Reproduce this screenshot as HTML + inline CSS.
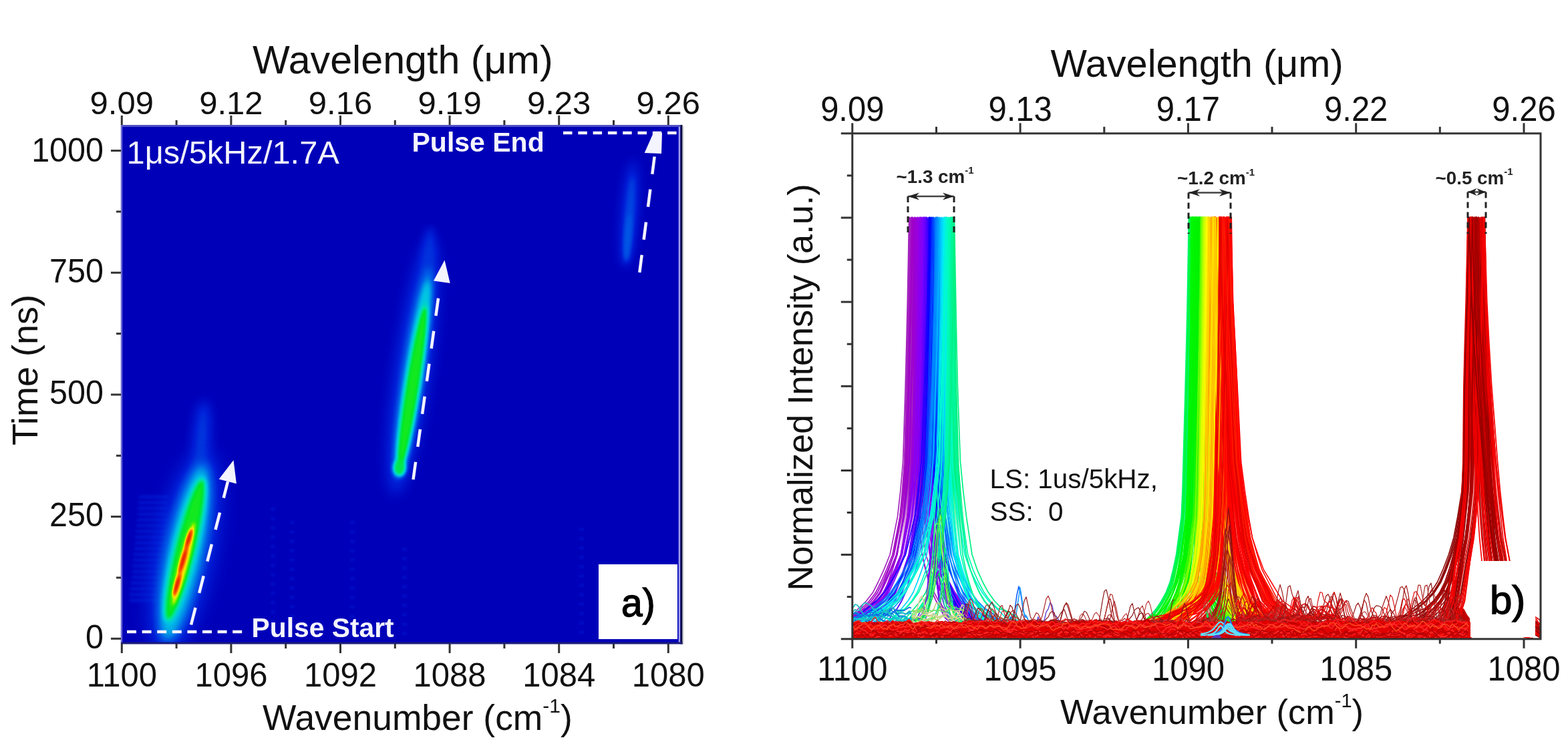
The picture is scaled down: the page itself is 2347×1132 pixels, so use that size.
<!DOCTYPE html>
<html><head><meta charset="utf-8"><title>Figure</title><style>html,body{margin:0;padding:0;background:#fff;overflow:hidden}svg{display:block}text{font-family:"Liberation Sans", Arial, sans-serif}</style></head><body>
<svg width="2347" height="1132" viewBox="0 0 2347 1132">
<defs>
<filter id="jet" filterUnits="userSpaceOnUse" x="181" y="187" width="840" height="777" color-interpolation-filters="sRGB"><feComponentTransfer><feFuncR type="table" tableValues="0.000 0.000 0.000 0.000 0.000 0.000 0.000 0.000 0.000 0.000 0.000 0.000 0.000 0.000 0.000 0.000 0.000 0.000 0.000 0.000 0.000 0.000 0.000 0.000 0.000 0.000 0.000 0.000 0.000 0.000 0.000 0.000 0.000 0.000 0.000 0.000 0.000 0.000 0.000 0.000 0.000 0.003 0.059 0.115 0.171 0.227 0.283 0.339 0.463 0.610 0.756 0.903 1.000 1.000 1.000 1.000 1.000 0.994 0.976 0.957 0.938 0.920 0.901 0.882"/><feFuncG type="table" tableValues="0.000 0.012 0.025 0.037 0.050 0.062 0.075 0.087 0.100 0.112 0.132 0.159 0.186 0.213 0.240 0.267 0.294 0.321 0.348 0.377 0.418 0.460 0.501 0.543 0.584 0.626 0.667 0.709 0.750 0.778 0.799 0.819 0.840 0.860 0.881 0.895 0.897 0.900 0.902 0.905 0.907 0.910 0.915 0.920 0.925 0.930 0.935 0.940 0.940 0.938 0.936 0.935 0.902 0.810 0.718 0.627 0.535 0.448 0.373 0.299 0.224 0.149 0.075 0.000"/><feFuncB type="table" tableValues="0.725 0.738 0.750 0.763 0.775 0.788 0.800 0.813 0.825 0.838 0.847 0.854 0.861 0.868 0.875 0.882 0.889 0.896 0.903 0.910 0.909 0.908 0.907 0.906 0.906 0.905 0.904 0.903 0.902 0.878 0.840 0.803 0.766 0.728 0.691 0.638 0.557 0.477 0.396 0.315 0.234 0.156 0.131 0.106 0.081 0.056 0.031 0.006 0.000 0.000 0.000 0.000 0.000 0.000 0.000 0.000 0.000 0.000 0.000 0.000 0.000 0.000 0.000 0.000"/></feComponentTransfer></filter>
<filter id="b1" x="-50%" y="-50%" width="200%" height="200%" color-interpolation-filters="sRGB"><feGaussianBlur stdDeviation="1"/></filter>
<filter id="b2" x="-50%" y="-50%" width="200%" height="200%" color-interpolation-filters="sRGB"><feGaussianBlur stdDeviation="2"/></filter>
<filter id="b3" x="-50%" y="-50%" width="200%" height="200%" color-interpolation-filters="sRGB"><feGaussianBlur stdDeviation="3"/></filter>
<filter id="b4" x="-50%" y="-50%" width="200%" height="200%" color-interpolation-filters="sRGB"><feGaussianBlur stdDeviation="4"/></filter>
<filter id="b6" x="-50%" y="-50%" width="200%" height="200%" color-interpolation-filters="sRGB"><feGaussianBlur stdDeviation="6"/></filter>
<filter id="b8" x="-50%" y="-50%" width="200%" height="200%" color-interpolation-filters="sRGB"><feGaussianBlur stdDeviation="8"/></filter>
<filter id="b10" x="-50%" y="-50%" width="200%" height="200%" color-interpolation-filters="sRGB"><feGaussianBlur stdDeviation="10"/></filter>
<filter id="b14" x="-50%" y="-50%" width="200%" height="200%" color-interpolation-filters="sRGB"><feGaussianBlur stdDeviation="14"/></filter>
<filter id="b18" x="-50%" y="-50%" width="200%" height="200%" color-interpolation-filters="sRGB"><feGaussianBlur stdDeviation="18"/></filter>
<filter id="b24" x="-50%" y="-50%" width="200%" height="200%" color-interpolation-filters="sRGB"><feGaussianBlur stdDeviation="24"/></filter>
<clipPath id="lclip"><rect x="181" y="187" width="840" height="777"/></clipPath>
<clipPath id="rclip"><rect x="1275.8" y="199.8" width="1030.2" height="757.0"/></clipPath>
</defs>
<g clip-path="url(#lclip)"><g filter="url(#jet)">
<rect x="181" y="187" width="840" height="777" fill="#000"/>
<rect x="208" y="742.0" width="44" height="4" fill="#fff" opacity="0.12" filter="url(#b2)"/>
<rect x="207" y="750.6" width="44" height="4" fill="#fff" opacity="0.12" filter="url(#b2)"/>
<rect x="206" y="759.2" width="45" height="4" fill="#fff" opacity="0.12" filter="url(#b2)"/>
<rect x="206" y="767.8" width="45" height="4" fill="#fff" opacity="0.12" filter="url(#b2)"/>
<rect x="205" y="776.4" width="46" height="4" fill="#fff" opacity="0.12" filter="url(#b2)"/>
<rect x="204" y="785.0" width="46" height="4" fill="#fff" opacity="0.12" filter="url(#b2)"/>
<rect x="203" y="793.6" width="47" height="4" fill="#fff" opacity="0.12" filter="url(#b2)"/>
<rect x="202" y="802.2" width="47" height="4" fill="#fff" opacity="0.12" filter="url(#b2)"/>
<rect x="202" y="810.8" width="48" height="4" fill="#fff" opacity="0.12" filter="url(#b2)"/>
<rect x="201" y="819.4" width="48" height="4" fill="#fff" opacity="0.12" filter="url(#b2)"/>
<rect x="200" y="828.0" width="49" height="4" fill="#fff" opacity="0.12" filter="url(#b2)"/>
<rect x="199" y="836.6" width="49" height="4" fill="#fff" opacity="0.12" filter="url(#b2)"/>
<rect x="198" y="845.2" width="50" height="4" fill="#fff" opacity="0.12" filter="url(#b2)"/>
<rect x="198" y="853.8" width="50" height="4" fill="#fff" opacity="0.12" filter="url(#b2)"/>
<rect x="197" y="862.4" width="51" height="4" fill="#fff" opacity="0.12" filter="url(#b2)"/>
<rect x="196" y="871.0" width="51" height="4" fill="#fff" opacity="0.12" filter="url(#b2)"/>
<rect x="195" y="879.6" width="52" height="4" fill="#fff" opacity="0.12" filter="url(#b2)"/>
<rect x="194" y="888.2" width="52" height="4" fill="#fff" opacity="0.12" filter="url(#b2)"/>
<rect x="194" y="896.8" width="53" height="4" fill="#fff" opacity="0.12" filter="url(#b2)"/>
<ellipse cx="276.5" cy="827.5" rx="44.0" ry="155.2" transform="rotate(11.7 276.5 827.5)" fill="#383838" filter="url(#b14)"/>
<ellipse cx="302.0" cy="655.0" rx="13.0" ry="55.0" transform="rotate(4.0 302.0 655.0)" fill="#383838" filter="url(#b8)"/>
<ellipse cx="276.5" cy="827.5" rx="27.0" ry="136.2" transform="rotate(11.7 276.5 827.5)" fill="#707070" filter="url(#b8)"/>
<ellipse cx="277.0" cy="823.0" rx="18.0" ry="112.1" transform="rotate(13.7 277.0 823.0)" fill="#858585" filter="url(#b4)"/>
<ellipse cx="277.0" cy="823.0" rx="13.5" ry="108.1" transform="rotate(13.7 277.0 823.0)" fill="#ababab" filter="url(#b3)"/>
<ellipse cx="274.7" cy="844.2" rx="7.5" ry="64.4" transform="rotate(14.4 274.7 844.2)" fill="#cfcfcf" filter="url(#b2)"/>
<ellipse cx="265.0" cy="875.5" rx="3.2" ry="18.2" transform="rotate(15.9 265.0 875.5)" fill="#ffffff" filter="url(#b2)"/>
<ellipse cx="274.0" cy="839.0" rx="3.2" ry="21.8" transform="rotate(15.9 274.0 839.0)" fill="#ffffff" filter="url(#b2)"/>
<ellipse cx="282.5" cy="807.0" rx="3.2" ry="15.7" transform="rotate(16.7 282.5 807.0)" fill="#ffffff" filter="url(#b2)"/>
<ellipse cx="618.0" cy="550.0" rx="26.0" ry="191.9" transform="rotate(8.2 618.0 550.0)" fill="#383838" filter="url(#b10)"/>
<ellipse cx="642.0" cy="375.0" rx="9.0" ry="35.0" transform="rotate(4.0 642.0 375.0)" fill="#333333" filter="url(#b6)"/>
<ellipse cx="619.0" cy="558.0" rx="15.0" ry="159.8" transform="rotate(8.6 619.0 558.0)" fill="#5c5c5c" filter="url(#b6)"/>
<ellipse cx="618.5" cy="567.0" rx="12.0" ry="148.7" transform="rotate(8.7 618.5 567.0)" fill="#7a7a7a" filter="url(#b4)"/>
<ellipse cx="617.0" cy="581.5" rx="10.5" ry="128.1" transform="rotate(9.0 617.0 581.5)" fill="#949494" filter="url(#b3)"/>
<ellipse cx="617.0" cy="581.5" rx="8.0" ry="122.1" transform="rotate(9.0 617.0 581.5)" fill="#ababab" filter="url(#b2)"/>
<ellipse cx="598.0" cy="701.0" rx="9.5" ry="12.0" transform="rotate(0.0 598.0 701.0)" fill="#9e9e9e" filter="url(#b3)"/>
<ellipse cx="942.0" cy="320.0" rx="12.0" ry="80.2" transform="rotate(4.3 942.0 320.0)" fill="#2e2e2e" filter="url(#b8)"/>
<ellipse cx="942.0" cy="328.5" rx="6.5" ry="66.7" transform="rotate(4.3 942.0 328.5)" fill="#404040" filter="url(#b4)"/>
<ellipse cx="939.5" cy="356.0" rx="4.5" ry="36.1" transform="rotate(4.0 939.5 356.0)" fill="#4a4a4a" filter="url(#b3)"/>
<rect x="405" y="760" width="7" height="5" fill="#fff" opacity="0.06" filter="url(#b1)"/>
<rect x="405" y="774" width="7" height="5" fill="#fff" opacity="0.06" filter="url(#b1)"/>
<rect x="405" y="788" width="7" height="5" fill="#fff" opacity="0.06" filter="url(#b1)"/>
<rect x="405" y="802" width="7" height="5" fill="#fff" opacity="0.06" filter="url(#b1)"/>
<rect x="405" y="816" width="7" height="5" fill="#fff" opacity="0.06" filter="url(#b1)"/>
<rect x="405" y="830" width="7" height="5" fill="#fff" opacity="0.06" filter="url(#b1)"/>
<rect x="405" y="844" width="7" height="5" fill="#fff" opacity="0.06" filter="url(#b1)"/>
<rect x="405" y="858" width="7" height="5" fill="#fff" opacity="0.06" filter="url(#b1)"/>
<rect x="405" y="872" width="7" height="5" fill="#fff" opacity="0.06" filter="url(#b1)"/>
<rect x="405" y="886" width="7" height="5" fill="#fff" opacity="0.06" filter="url(#b1)"/>
<rect x="405" y="900" width="7" height="5" fill="#fff" opacity="0.06" filter="url(#b1)"/>
<rect x="405" y="914" width="7" height="5" fill="#fff" opacity="0.06" filter="url(#b1)"/>
<rect x="405" y="928" width="7" height="5" fill="#fff" opacity="0.06" filter="url(#b1)"/>
<rect x="405" y="942" width="7" height="5" fill="#fff" opacity="0.06" filter="url(#b1)"/>
<rect x="434" y="780" width="7" height="5" fill="#fff" opacity="0.06" filter="url(#b1)"/>
<rect x="434" y="794" width="7" height="5" fill="#fff" opacity="0.06" filter="url(#b1)"/>
<rect x="434" y="808" width="7" height="5" fill="#fff" opacity="0.06" filter="url(#b1)"/>
<rect x="434" y="822" width="7" height="5" fill="#fff" opacity="0.06" filter="url(#b1)"/>
<rect x="434" y="836" width="7" height="5" fill="#fff" opacity="0.06" filter="url(#b1)"/>
<rect x="434" y="850" width="7" height="5" fill="#fff" opacity="0.06" filter="url(#b1)"/>
<rect x="434" y="864" width="7" height="5" fill="#fff" opacity="0.06" filter="url(#b1)"/>
<rect x="434" y="878" width="7" height="5" fill="#fff" opacity="0.06" filter="url(#b1)"/>
<rect x="434" y="892" width="7" height="5" fill="#fff" opacity="0.06" filter="url(#b1)"/>
<rect x="434" y="906" width="7" height="5" fill="#fff" opacity="0.06" filter="url(#b1)"/>
<rect x="434" y="920" width="7" height="5" fill="#fff" opacity="0.06" filter="url(#b1)"/>
<rect x="434" y="934" width="7" height="5" fill="#fff" opacity="0.06" filter="url(#b1)"/>
<rect x="524" y="780" width="7" height="5" fill="#fff" opacity="0.06" filter="url(#b1)"/>
<rect x="524" y="794" width="7" height="5" fill="#fff" opacity="0.06" filter="url(#b1)"/>
<rect x="524" y="808" width="7" height="5" fill="#fff" opacity="0.06" filter="url(#b1)"/>
<rect x="524" y="822" width="7" height="5" fill="#fff" opacity="0.06" filter="url(#b1)"/>
<rect x="524" y="836" width="7" height="5" fill="#fff" opacity="0.06" filter="url(#b1)"/>
<rect x="524" y="850" width="7" height="5" fill="#fff" opacity="0.06" filter="url(#b1)"/>
<rect x="524" y="864" width="7" height="5" fill="#fff" opacity="0.06" filter="url(#b1)"/>
<rect x="524" y="878" width="7" height="5" fill="#fff" opacity="0.06" filter="url(#b1)"/>
<rect x="524" y="892" width="7" height="5" fill="#fff" opacity="0.06" filter="url(#b1)"/>
<rect x="524" y="906" width="7" height="5" fill="#fff" opacity="0.06" filter="url(#b1)"/>
<rect x="524" y="920" width="7" height="5" fill="#fff" opacity="0.06" filter="url(#b1)"/>
<rect x="524" y="934" width="7" height="5" fill="#fff" opacity="0.06" filter="url(#b1)"/>
<rect x="524" y="948" width="7" height="5" fill="#fff" opacity="0.06" filter="url(#b1)"/>
<rect x="602" y="820" width="7" height="5" fill="#fff" opacity="0.06" filter="url(#b1)"/>
<rect x="602" y="834" width="7" height="5" fill="#fff" opacity="0.06" filter="url(#b1)"/>
<rect x="602" y="848" width="7" height="5" fill="#fff" opacity="0.06" filter="url(#b1)"/>
<rect x="602" y="862" width="7" height="5" fill="#fff" opacity="0.06" filter="url(#b1)"/>
<rect x="602" y="876" width="7" height="5" fill="#fff" opacity="0.06" filter="url(#b1)"/>
<rect x="602" y="890" width="7" height="5" fill="#fff" opacity="0.06" filter="url(#b1)"/>
<rect x="602" y="904" width="7" height="5" fill="#fff" opacity="0.06" filter="url(#b1)"/>
<rect x="602" y="918" width="7" height="5" fill="#fff" opacity="0.06" filter="url(#b1)"/>
<rect x="602" y="932" width="7" height="5" fill="#fff" opacity="0.06" filter="url(#b1)"/>
<rect x="602" y="946" width="7" height="5" fill="#fff" opacity="0.06" filter="url(#b1)"/>
<rect x="867" y="790" width="7" height="5" fill="#fff" opacity="0.06" filter="url(#b1)"/>
<rect x="867" y="804" width="7" height="5" fill="#fff" opacity="0.06" filter="url(#b1)"/>
<rect x="867" y="818" width="7" height="5" fill="#fff" opacity="0.06" filter="url(#b1)"/>
<rect x="867" y="832" width="7" height="5" fill="#fff" opacity="0.06" filter="url(#b1)"/>
<rect x="867" y="846" width="7" height="5" fill="#fff" opacity="0.06" filter="url(#b1)"/>
<rect x="867" y="860" width="7" height="5" fill="#fff" opacity="0.06" filter="url(#b1)"/>
<rect x="867" y="874" width="7" height="5" fill="#fff" opacity="0.06" filter="url(#b1)"/>
<rect x="867" y="888" width="7" height="5" fill="#fff" opacity="0.06" filter="url(#b1)"/>
<rect x="867" y="902" width="7" height="5" fill="#fff" opacity="0.06" filter="url(#b1)"/>
<rect x="867" y="916" width="7" height="5" fill="#fff" opacity="0.06" filter="url(#b1)"/>
<rect x="867" y="930" width="7" height="5" fill="#fff" opacity="0.06" filter="url(#b1)"/>
<rect x="867" y="944" width="7" height="5" fill="#fff" opacity="0.06" filter="url(#b1)"/>
</g></g>
<line x1="181" y1="188.5" x2="1021" y2="188.5" stroke="#5252c4" stroke-width="3"/>
<line x1="182" y1="187" x2="182" y2="964" stroke="#6a6ad4" stroke-width="2.5"/>
<line x1="1017" y1="190" x2="1017" y2="962" stroke="#a0a0ee" stroke-width="2.6"/>
<line x1="1020" y1="187" x2="1020" y2="964.5" stroke="#0c0c45" stroke-width="3"/>
<line x1="1022.8" y1="189" x2="1022.8" y2="965" stroke="#d4d4d4" stroke-width="1.6"/>
<line x1="181" y1="963" x2="1021.5" y2="963" stroke="#1c1c7a" stroke-width="3"/>
<g stroke="#f4f4ff" stroke-width="4.5" fill="none">
<line x1="190" y1="946" x2="364" y2="946" stroke-dasharray="14 8.6"/>
<line x1="843" y1="199" x2="1016" y2="199" stroke-dasharray="13.5 8.8"/>
<line x1="286" y1="935.5" x2="341" y2="721" stroke-dasharray="26.5 22.5" stroke-dashoffset="0"/>
<line x1="618.5" y1="718" x2="659" y2="425" stroke-dasharray="26.5 23"/>
<line x1="957.3" y1="408" x2="980" y2="232" stroke-dasharray="26.5 23"/>
</g>
<g fill="#f4f4ff">
<polygon points="349.5,689 327.7,717.6 353.9,724.3"/>
<polygon points="665.5,389.5 649,420.6 673.7,424"/>
<polygon points="978,199 991,199 990,230 964.7,229"/>
</g>
<text x="189.5" y="245" font-size="48.8" fill="#f4f4ff">1&#956;s/5kHz/1.7A</text>
<text x="616.5" y="227" font-size="41" font-weight="bold" fill="#f4f4ff">Pulse End</text>
<text x="376.5" y="954.3" font-size="40.8" font-weight="bold" fill="#f4f4ff">Pulse Start</text>
<rect x="896" y="845" width="118" height="112" fill="#fff"/>
<text transform="translate(930 923.4) scale(0.95 1)" font-size="60" fill="#000" stroke="#000" stroke-width="1.4">a)</text>
<g stroke="#333" stroke-width="3">
<line x1="182.3" y1="964" x2="182.3" y2="978"/>
<line x1="182.3" y1="187" x2="182.3" y2="173"/>
<line x1="264.1" y1="964" x2="264.1" y2="971"/>
<line x1="264.1" y1="187" x2="264.1" y2="180"/>
<line x1="345.9" y1="964" x2="345.9" y2="978"/>
<line x1="345.9" y1="187" x2="345.9" y2="173"/>
<line x1="427.7" y1="964" x2="427.7" y2="971"/>
<line x1="427.7" y1="187" x2="427.7" y2="180"/>
<line x1="509.5" y1="964" x2="509.5" y2="978"/>
<line x1="509.5" y1="187" x2="509.5" y2="173"/>
<line x1="591.3" y1="964" x2="591.3" y2="971"/>
<line x1="591.3" y1="187" x2="591.3" y2="180"/>
<line x1="673.1" y1="964" x2="673.1" y2="978"/>
<line x1="673.1" y1="187" x2="673.1" y2="173"/>
<line x1="754.9" y1="964" x2="754.9" y2="971"/>
<line x1="754.9" y1="187" x2="754.9" y2="180"/>
<line x1="836.7" y1="964" x2="836.7" y2="978"/>
<line x1="836.7" y1="187" x2="836.7" y2="173"/>
<line x1="918.5" y1="964" x2="918.5" y2="971"/>
<line x1="918.5" y1="187" x2="918.5" y2="180"/>
<line x1="1000.3" y1="964" x2="1000.3" y2="978"/>
<line x1="1000.3" y1="187" x2="1000.3" y2="173"/>
<line x1="181" y1="956.3" x2="166" y2="956.3"/>
<line x1="181" y1="865.0" x2="174" y2="865.0"/>
<line x1="181" y1="773.6" x2="166" y2="773.6"/>
<line x1="181" y1="682.3" x2="174" y2="682.3"/>
<line x1="181" y1="590.9" x2="166" y2="590.9"/>
<line x1="181" y1="499.6" x2="174" y2="499.6"/>
<line x1="181" y1="408.3" x2="166" y2="408.3"/>
<line x1="181" y1="316.9" x2="174" y2="316.9"/>
<line x1="181" y1="225.6" x2="166" y2="225.6"/>
</g>
<g font-size="49" fill="#111" text-anchor="middle">
<text x="182.3" y="171">9.09</text>
<text x="345.9" y="171">9.12</text>
<text x="509.5" y="171">9.16</text>
<text x="673.1" y="171">9.19</text>
<text x="836.7" y="171">9.23</text>
<text x="1000.3" y="171">9.26</text>
<text transform="translate(182.3 1028) scale(1 1.03)">1100</text>
<text transform="translate(345.9 1028) scale(1 1.03)">1096</text>
<text transform="translate(509.5 1028) scale(1 1.03)">1092</text>
<text transform="translate(673.1 1028) scale(1 1.03)">1088</text>
<text transform="translate(836.7 1028) scale(1 1.03)">1084</text>
<text transform="translate(1000.3 1028) scale(1 1.03)">1080</text>
</g>
<g font-size="48.5" fill="#111" text-anchor="end">
<text transform="translate(155 970.5) scale(1 1.03)">0</text>
<text transform="translate(155 788.1) scale(1 1.03)">250</text>
<text transform="translate(155 604.8) scale(1 1.03)">500</text>
<text transform="translate(155 423.1) scale(1 1.03)">750</text>
<text transform="translate(155 241.8) scale(1 1.03)">1000</text>
</g>
<text x="602.8" y="110" font-size="59.2" fill="#111" text-anchor="middle">Wavelength (&#956;m)</text>
<text x="393" y="1092.8" font-size="53.4" fill="#111">Wavenumber (cm<tspan font-size="30" dy="-26">-1</tspan><tspan dy="26">)</tspan></text>
<text transform="translate(55.5 554) rotate(-90)" font-size="54" fill="#111" text-anchor="middle">Time (ns)</text>
<g id="rplot" clip-path="url(#rclip)">
<defs><linearGradient id="gL" gradientUnits="userSpaceOnUse" x1="1360.5" y1="0" x2="1428.5" y2="0"><stop offset="0.000" stop-color="#a528be"/><stop offset="0.091" stop-color="#9f00ca"/><stop offset="0.182" stop-color="#9800dd"/><stop offset="0.273" stop-color="#8700f3"/><stop offset="0.364" stop-color="#5f00ff"/><stop offset="0.455" stop-color="#0f00ff"/><stop offset="0.545" stop-color="#0055ff"/><stop offset="0.636" stop-color="#0096ff"/><stop offset="0.727" stop-color="#00d8ff"/><stop offset="0.818" stop-color="#00f6d7"/><stop offset="0.909" stop-color="#00faa9"/><stop offset="1.000" stop-color="#00f082"/></linearGradient><linearGradient id="gM" gradientUnits="userSpaceOnUse" x1="1779.5" y1="0" x2="1843.0" y2="0"><stop offset="0.000" stop-color="#00f578"/><stop offset="0.091" stop-color="#00f800"/><stop offset="0.182" stop-color="#00f300"/><stop offset="0.273" stop-color="#30f600"/><stop offset="0.364" stop-color="#c0ff00"/><stop offset="0.455" stop-color="#ffe700"/><stop offset="0.545" stop-color="#ff9900"/><stop offset="0.636" stop-color="#ff4800"/><stop offset="0.727" stop-color="#ff0000"/><stop offset="0.818" stop-color="#fd0000"/><stop offset="0.909" stop-color="#fc0000"/><stop offset="1.000" stop-color="#fa0000"/></linearGradient><linearGradient id="gR" gradientUnits="userSpaceOnUse" x1="2197.0" y1="0" x2="2222.5" y2="0"><stop offset="0.000" stop-color="#ff0000"/><stop offset="0.091" stop-color="#fa0000"/><stop offset="0.182" stop-color="#f40000"/><stop offset="0.273" stop-color="#e80000"/><stop offset="0.364" stop-color="#ca0000"/><stop offset="0.455" stop-color="#af0000"/><stop offset="0.545" stop-color="#970000"/><stop offset="0.636" stop-color="#bb0000"/><stop offset="0.727" stop-color="#da0000"/><stop offset="0.818" stop-color="#e50000"/><stop offset="0.909" stop-color="#ef0000"/><stop offset="1.000" stop-color="#fa0000"/></linearGradient><linearGradient id="fade" x1="0" y1="0" x2="0" y2="1"><stop offset="0" stop-color="#fff"/><stop offset="0.8" stop-color="#fff"/><stop offset="1" stop-color="#000"/></linearGradient><mask id="fm" maskContentUnits="objectBoundingBox"><rect width="1" height="1" fill="url(#fade)"/></mask></defs>
<polygon points="1360.5,325.3 1360.0,359.0 1359.5,392.7 1359.0,426.3 1358.5,460.0 1357.9,493.7 1357.3,527.4 1356.7,561.1 1355.9,594.7 1355.1,628.4 1354.2,662.1 1353.4,695.8 1351.1,729.5 1348.3,763.1 1343.9,796.8 1338.8,830.5 1448.8,830.5 1444.9,796.8 1441.3,763.1 1438.1,729.5 1435.5,695.8 1434.5,662.1 1433.6,628.4 1432.7,594.7 1431.8,561.1 1431.3,527.4 1430.8,493.7 1430.3,460.0 1429.8,426.3 1429.4,392.7 1428.9,359.0 1428.5,325.3" fill="url(#gL)" mask="url(#fm)"/>
<polygon points="1779.5,325.3 1779.0,360.7 1778.5,396.0 1778.0,431.4 1777.4,466.8 1776.7,502.1 1776.0,537.5 1775.1,572.8 1774.3,608.2 1773.4,643.6 1772.6,678.9 1771.8,714.3 1770.9,749.7 1768.4,785.0 1764.3,820.4 1758.3,855.8 1877.6,855.8 1869.5,820.4 1863.8,785.0 1860.1,749.7 1856.4,714.3 1854.2,678.9 1852.9,643.6 1851.7,608.2 1850.4,572.8 1849.2,537.5 1847.8,502.1 1846.4,466.8 1845.4,431.4 1844.6,396.0 1843.8,360.7 1843.0,325.3" fill="url(#gM)" mask="url(#fm)"/>
<polygon points="2197.0,325.3 2196.4,354.8 2195.8,384.2 2195.2,413.7 2194.6,443.2 2193.9,472.6 2193.1,502.1 2192.3,531.6 2191.5,561.1 2191.3,590.5 2191.0,620.0 2190.7,649.5 2190.4,678.9 2190.2,708.4 2188.7,737.9 2186.2,767.3 2245.9,767.3 2243.1,737.9 2240.7,708.4 2238.7,678.9 2236.7,649.5 2234.7,620.0 2232.7,590.5 2230.6,561.1 2229.3,531.6 2228.0,502.1 2226.6,472.6 2225.5,443.2 2224.7,413.7 2224.0,384.2 2223.2,354.8 2222.5,325.3" fill="url(#gR)" mask="url(#fm)"/>
<polygon points="1700,957 1700,949.4 1704,949.4 1708,948.3 1712,947.1 1716,947.2 1720,946.1 1724,946.8 1728,947.8 1732,945.0 1736,944.2 1740,944.8 1744,943.9 1748,942.7 1752,940.6 1756,940.7 1760,940.5 1764,937.0 1768,936.8 1772,933.8 1776,933.1 1780,930.9 1784,931.1 1788,928.1 1792,928.1 1796,926.0 1800,923.5 1804,918.5 1808,918.7 1812,917.0 1816,915.0 1820,910.9 1824,910.1 1828,907.7 1832,906.4 1836,907.4 1840,904.4 1844,905.0 1848,906.2 1852,905.0 1856,906.6 1860,908.2 1864,909.8 1868,910.2 1872,913.8 1876,917.6 1880,916.3 1884,921.5 1888,922.8 1892,924.0 1896,929.2 1900,929.7 1904,929.1 1908,932.4 1912,934.5 1916,935.1 1920,937.5 1924,937.9 1928,940.0 1932,942.0 1936,940.4 1940,942.4 1944,942.5 1948,944.0 1952,943.1 1956,944.5 1960,945.6 1964,947.5 1968,948.4 1972,945.9 1976,947.0 1980,949.2 1984,946.4 1988,948.7 1992,949.5 1996,951.4 2000,951.1 2000,957" fill="#e80000" stroke="none"/>
<polygon points="2100,957 2100,954.1 2104,953.9 2108,953.7 2112,955.5 2116,952.8 2120,952.6 2124,952.9 2128,951.7 2132,950.9 2136,949.0 2140,949.2 2144,947.4 2148,947.8 2152,945.2 2156,941.8 2160,939.5 2164,934.2 2168,931.0 2172,924.0 2176,918.6 2180,911.2 2184,910.5 2188,909.0 2192,912.7 2196,920.6 2200,925.8 2200,957" fill="#c00000" stroke="none"/>
<g fill="none" stroke-width="1.7" stroke-linejoin="round">
<path d="M1275.8 953.2L1275.8 952.7L1275.8 950.0L1275.8 943.7L1275.8 937.8L1275.8 934.6L1275.8 926.5L1275.8 921.7L1284.8 911.3L1296.6 900.0L1306.5 887.3L1314.5 871.5L1323.2 852.6L1332.1 830.5L1337.2 805.2L1343.5 773.7L1347.7 735.8L1351.6 691.6L1353.2 641.0L1355.2 577.9L1356.8 514.8L1358.3 451.6L1359.5 388.4L1360.7 325.3L1361.5 388.4L1362.3 451.6L1363.2 514.8L1364.4 577.9L1366.0 641.0L1367.3 691.6L1370.6 735.8L1374.0 773.7L1377.5 805.2L1380.2 830.5L1385.8 852.6L1392.0 871.5L1398.3 887.3L1405.0 900.0L1413.3 911.3L1421.9 919.7L1429.3 928.2L1440.2 932.3L1454.6 941.7L1467.3 943.4L1495.5 946.7L1522.0 948.0L1548.5 953.4" stroke="#a526be"/>
<path d="M1275.8 954.0L1275.8 950.7L1275.8 944.2L1275.8 943.2L1275.8 941.3L1275.8 938.5L1280.7 933.1L1289.1 923.0L1299.0 911.3L1308.7 900.0L1316.8 887.3L1323.3 871.5L1330.4 852.6L1337.7 830.5L1341.9 805.2L1347.0 773.7L1350.4 735.8L1353.6 691.6L1354.9 641.0L1356.6 577.9L1357.9 514.8L1359.1 451.6L1360.1 388.4L1361.1 325.3L1362.1 388.4L1363.1 451.6L1364.3 514.8L1365.7 577.9L1367.8 641.0L1369.5 691.6L1373.5 735.8L1377.9 773.7L1382.3 805.2L1385.8 830.5L1392.8 852.6L1400.6 871.5L1408.6 887.3L1417.1 900.0L1427.6 911.3L1438.4 919.3L1447.8 925.6L1461.5 932.2L1479.8 937.2L1495.8 947.4L1531.5 943.7L1565.0 951.2L1598.5 956.1" stroke="#a423bf"/>
<path d="M1275.8 955.7L1275.8 951.2L1275.8 947.3L1275.8 944.4L1275.8 939.1L1278.2 934.5L1289.0 931.0L1297.0 922.2L1306.4 911.3L1315.6 900.0L1323.2 887.3L1329.4 871.5L1336.1 852.6L1343.0 830.5L1346.9 805.2L1351.8 773.7L1355.1 735.8L1358.1 691.6L1359.3 641.0L1360.9 577.9L1362.1 514.8L1363.3 451.6L1364.2 388.4L1365.2 325.3L1366.3 388.4L1367.3 451.6L1368.6 514.8L1370.1 577.9L1372.4 641.0L1374.2 691.6L1378.6 735.8L1383.4 773.7L1388.1 805.2L1391.9 830.5L1399.5 852.6L1407.9 871.5L1416.6 887.3L1425.8 900.0L1437.2 911.3L1448.9 921.8L1459.0 924.6L1474.0 931.6L1493.8 940.9L1511.1 945.0L1549.8 948.3L1586.1 954.0L1622.3 949.5" stroke="#a106c7"/>
<path d="M1275.8 956.7L1275.8 950.8L1275.8 946.2L1275.8 943.4L1275.8 937.3L1275.8 935.7L1275.8 931.4L1277.4 922.1L1289.3 911.3L1301.0 900.0L1310.7 887.3L1318.6 871.5L1327.1 852.6L1335.9 830.5L1340.9 805.2L1347.1 773.7L1351.2 735.8L1355.0 691.6L1356.6 641.0L1358.6 577.9L1360.2 514.8L1361.6 451.6L1362.8 388.4L1364.0 325.3L1364.7 388.4L1365.4 451.6L1366.1 514.8L1367.1 577.9L1368.4 641.0L1369.6 691.6L1372.3 735.8L1375.2 773.7L1378.1 805.2L1380.4 830.5L1385.1 852.6L1390.2 871.5L1395.5 887.3L1401.2 900.0L1408.2 911.3L1415.4 916.6L1421.6 928.3L1430.7 938.5L1442.8 939.2L1453.4 945.4L1477.2 948.7L1499.4 953.3L1521.6 950.3" stroke="#a20ec4"/>
<path d="M1275.8 952.3L1275.8 948.0L1275.8 950.8L1275.8 942.6L1275.8 936.1L1275.8 934.4L1275.8 926.2L1280.9 921.3L1292.6 911.3L1304.0 900.0L1313.5 887.3L1321.2 871.5L1329.5 852.6L1338.2 830.5L1343.1 805.2L1349.1 773.7L1353.2 735.8L1356.9 691.6L1358.5 641.0L1360.4 577.9L1362.0 514.8L1363.4 451.6L1364.6 388.4L1365.8 325.3L1366.9 388.4L1368.0 451.6L1369.2 514.8L1370.7 577.9L1373.0 641.0L1374.8 691.6L1379.2 735.8L1384.0 773.7L1388.7 805.2L1392.5 830.5L1400.1 852.6L1408.6 871.5L1417.2 887.3L1426.4 900.0L1437.8 911.3L1449.5 921.5L1459.6 928.5L1474.6 934.0L1494.3 937.4L1511.6 945.0L1550.4 944.9L1586.6 950.8L1622.9 951.7" stroke="#a001c8"/>
<path d="M1275.8 956.8L1275.8 948.4L1275.8 949.9L1275.8 947.8L1275.8 935.4L1275.8 931.9L1275.8 925.6L1284.0 916.3L1295.7 911.3L1307.2 900.0L1316.7 887.3L1324.5 871.5L1332.9 852.6L1341.6 830.5L1346.5 805.2L1352.6 773.7L1356.6 735.8L1360.4 691.6L1362.0 641.0L1363.9 577.9L1365.5 514.8L1366.9 451.6L1368.1 388.4L1369.3 325.3L1370.3 388.4L1371.2 451.6L1372.3 514.8L1373.7 577.9L1375.7 641.0L1377.3 691.6L1381.3 735.8L1385.5 773.7L1389.7 805.2L1393.0 830.5L1399.8 852.6L1407.3 871.5L1415.0 887.3L1423.2 900.0L1433.3 911.3L1443.8 923.3L1452.7 926.5L1466.0 929.3L1483.6 942.0L1499.0 941.5L1533.4 947.4L1565.6 954.6L1597.8 953.0" stroke="#9c00d2"/>
<path d="M1275.8 952.7L1275.8 950.0L1275.8 949.9L1275.8 946.0L1275.8 939.3L1275.8 938.2L1276.5 928.2L1286.3 922.3L1297.8 911.3L1309.0 900.0L1318.3 887.3L1325.9 871.5L1334.1 852.6L1342.6 830.5L1347.3 805.2L1353.3 773.7L1357.3 735.8L1361.0 691.6L1362.5 641.0L1364.4 577.9L1365.9 514.8L1367.3 451.6L1368.5 388.4L1369.6 325.3L1370.7 388.4L1371.8 451.6L1373.0 514.8L1374.6 577.9L1376.9 641.0L1378.7 691.6L1383.1 735.8L1387.9 773.7L1392.6 805.2L1396.4 830.5L1404.0 852.6L1412.5 871.5L1421.2 887.3L1430.4 900.0L1441.8 911.3L1453.6 924.0L1463.7 930.2L1478.7 932.8L1498.5 938.1L1515.9 945.2L1554.7 949.6L1591.0 952.5L1627.4 952.8" stroke="#9b00d3"/>
<path d="M1275.8 955.0L1275.8 955.5L1275.8 952.9L1275.8 940.6L1275.8 938.9L1279.3 932.2L1291.1 931.4L1299.9 920.4L1310.1 911.3L1320.0 900.0L1328.4 887.3L1335.1 871.5L1342.4 852.6L1350.0 830.5L1354.2 805.2L1359.6 773.7L1363.1 735.8L1366.4 691.6L1367.7 641.0L1369.4 577.9L1370.8 514.8L1372.0 451.6L1373.1 388.4L1374.1 325.3L1375.2 388.4L1376.4 451.6L1377.6 514.8L1379.2 577.9L1381.6 641.0L1383.5 691.6L1388.0 735.8L1392.9 773.7L1397.8 805.2L1401.7 830.5L1409.6 852.6L1418.3 871.5L1427.3 887.3L1436.8 900.0L1448.5 911.3L1460.7 920.2L1471.1 928.9L1486.6 934.3L1507.0 939.9L1524.9 943.6L1565.0 949.1L1602.5 956.8L1639.9 950.3" stroke="#9600e1"/>
<path d="M1275.8 953.7L1275.8 953.7L1275.8 949.1L1275.8 946.2L1275.8 937.7L1277.0 934.0L1288.9 927.6L1297.7 917.3L1308.0 911.3L1318.1 900.0L1326.5 887.3L1333.3 871.5L1340.7 852.6L1348.3 830.5L1352.6 805.2L1358.0 773.7L1361.5 735.8L1364.9 691.6L1366.2 641.0L1367.9 577.9L1369.3 514.8L1370.6 451.6L1371.6 388.4L1372.7 325.3L1373.4 388.4L1374.2 451.6L1375.1 514.8L1376.2 577.9L1377.8 641.0L1379.1 691.6L1382.2 735.8L1385.5 773.7L1388.9 805.2L1391.6 830.5L1396.9 852.6L1402.9 871.5L1409.1 887.3L1415.6 900.0L1423.6 911.3L1431.9 919.8L1439.1 927.9L1449.6 932.0L1463.6 938.6L1475.9 942.2L1503.3 944.6L1529.0 950.8L1554.6 956.8" stroke="#9800dd"/>
<path d="M1275.8 954.6L1275.8 946.6L1275.8 946.5L1275.8 944.0L1275.8 941.8L1275.8 934.2L1285.5 934.4L1295.1 918.2L1306.3 911.3L1317.3 900.0L1326.4 887.3L1333.9 871.5L1341.9 852.6L1350.2 830.5L1354.9 805.2L1360.7 773.7L1364.6 735.8L1368.2 691.6L1369.7 641.0L1371.6 577.9L1373.1 514.8L1374.4 451.6L1375.5 388.4L1376.7 325.3L1377.7 388.4L1378.7 451.6L1379.9 514.8L1381.4 577.9L1383.5 641.0L1385.3 691.6L1389.4 735.8L1393.9 773.7L1398.4 805.2L1402.0 830.5L1409.2 852.6L1417.3 871.5L1425.5 887.3L1434.2 900.0L1445.0 911.3L1456.2 919.2L1465.7 927.1L1479.9 933.9L1498.7 939.8L1515.1 940.5L1551.8 947.3L1586.2 951.9L1620.6 956.8" stroke="#8e00ea"/>
<path d="M1275.8 954.5L1275.8 949.2L1275.8 948.9L1275.8 943.7L1275.8 935.3L1275.8 934.6L1276.3 927.2L1287.0 918.5L1299.5 911.3L1311.7 900.0L1321.9 887.3L1330.2 871.5L1339.1 852.6L1348.4 830.5L1353.6 805.2L1360.1 773.7L1364.5 735.8L1368.5 691.6L1370.2 641.0L1372.2 577.9L1373.9 514.8L1375.4 451.6L1376.7 388.4L1378.0 325.3L1379.0 388.4L1380.1 451.6L1381.3 514.8L1382.8 577.9L1385.1 641.0L1386.8 691.6L1391.2 735.8L1395.8 773.7L1400.5 805.2L1404.2 830.5L1411.7 852.6L1420.0 871.5L1428.5 887.3L1437.6 900.0L1448.7 911.3L1460.3 919.9L1470.2 928.4L1484.8 933.9L1504.3 937.7L1521.3 945.0L1559.3 943.3L1594.9 950.3L1630.6 956.4" stroke="#8a00ef"/>
<path d="M1275.8 956.2L1275.8 950.0L1275.8 948.1L1275.8 942.1L1275.8 936.9L1275.8 934.7L1280.7 927.5L1290.9 920.7L1302.7 911.3L1314.3 900.0L1323.9 887.3L1331.8 871.5L1340.2 852.6L1349.0 830.5L1354.0 805.2L1360.1 773.7L1364.2 735.8L1368.1 691.6L1369.6 641.0L1371.6 577.9L1373.2 514.8L1374.6 451.6L1375.8 388.4L1377.0 325.3L1378.1 388.4L1379.2 451.6L1380.5 514.8L1382.1 577.9L1384.4 641.0L1386.2 691.6L1390.8 735.8L1395.6 773.7L1400.4 805.2L1404.3 830.5L1412.1 852.6L1420.7 871.5L1429.5 887.3L1439.0 900.0L1450.5 911.3L1462.5 920.7L1472.8 931.8L1488.1 936.2L1508.3 941.1L1526.0 939.7L1565.5 948.8L1602.5 950.5L1639.6 952.5" stroke="#8d00ec"/>
<path d="M1275.8 953.5L1275.8 952.0L1275.8 942.4L1275.8 942.9L1275.8 936.4L1275.8 930.8L1288.4 930.9L1298.2 922.8L1309.7 911.3L1320.9 900.0L1330.3 887.3L1337.8 871.5L1346.1 852.6L1354.6 830.5L1359.3 805.2L1365.3 773.7L1369.3 735.8L1373.0 691.6L1374.5 641.0L1376.4 577.9L1377.9 514.8L1379.3 451.6L1380.5 388.4L1381.7 325.3L1382.3 388.4L1382.9 451.6L1383.7 514.8L1384.6 577.9L1385.9 641.0L1387.0 691.6L1389.6 735.8L1392.4 773.7L1395.2 805.2L1397.4 830.5L1401.9 852.6L1406.9 871.5L1412.0 887.3L1417.5 900.0L1424.2 911.3L1431.1 919.4L1437.1 930.5L1445.9 936.4L1457.6 935.3L1467.8 942.1L1490.6 947.8L1512.0 953.9L1533.4 949.9" stroke="#7f00fd"/>
<path d="M1275.8 952.7L1275.8 950.3L1275.8 942.6L1275.8 943.8L1275.8 939.2L1275.8 933.3L1283.8 928.3L1294.1 921.4L1306.1 911.3L1317.9 900.0L1327.7 887.3L1335.6 871.5L1344.2 852.6L1353.2 830.5L1358.2 805.2L1364.4 773.7L1368.6 735.8L1372.5 691.6L1374.1 641.0L1376.1 577.9L1377.7 514.8L1379.1 451.6L1380.4 388.4L1381.6 325.3L1382.5 388.4L1383.3 451.6L1384.3 514.8L1385.5 577.9L1387.4 641.0L1388.8 691.6L1392.4 735.8L1396.2 773.7L1399.9 805.2L1403.0 830.5L1409.1 852.6L1415.8 871.5L1422.8 887.3L1430.2 900.0L1439.3 911.3L1448.7 919.4L1456.8 927.2L1468.7 934.8L1484.6 938.6L1498.4 942.3L1529.4 945.8L1558.5 954.7L1587.5 956.8" stroke="#7f00fd"/>
<path d="M1275.8 950.8L1275.8 950.2L1275.8 947.8L1275.8 946.5L1275.8 938.6L1275.8 932.5L1276.3 928.7L1287.2 920.6L1299.9 911.3L1312.3 900.0L1322.6 887.3L1331.0 871.5L1340.1 852.6L1349.5 830.5L1354.8 805.2L1361.4 773.7L1365.8 735.8L1369.9 691.6L1371.6 641.0L1373.7 577.9L1375.4 514.8L1377.0 451.6L1378.2 388.4L1379.5 325.3L1380.3 388.4L1381.0 451.6L1381.8 514.8L1382.8 577.9L1384.3 641.0L1385.5 691.6L1388.4 735.8L1391.6 773.7L1394.7 805.2L1397.2 830.5L1402.2 852.6L1407.8 871.5L1413.5 887.3L1419.6 900.0L1427.1 911.3L1434.9 924.5L1441.6 929.5L1451.5 928.4L1464.6 941.1L1476.0 943.7L1501.6 950.2L1525.6 953.4L1549.6 951.0" stroke="#8500f5"/>
<path d="M1275.8 951.0L1275.8 949.5L1275.8 949.3L1281.2 941.0L1292.3 939.6L1304.9 937.7L1314.9 928.6L1322.2 920.5L1330.8 911.3L1339.2 900.0L1346.2 887.3L1351.9 871.5L1358.1 852.6L1364.5 830.5L1368.1 805.2L1372.5 773.7L1375.5 735.8L1378.3 691.6L1379.4 641.0L1380.9 577.9L1382.0 514.8L1383.0 451.6L1383.9 388.4L1384.8 325.3L1385.5 388.4L1386.2 451.6L1387.0 514.8L1388.0 577.9L1389.4 641.0L1390.6 691.6L1393.4 735.8L1396.5 773.7L1399.5 805.2L1401.9 830.5L1406.8 852.6L1412.2 871.5L1417.8 887.3L1423.7 900.0L1430.9 911.3L1438.5 921.2L1444.9 931.0L1454.5 932.1L1467.2 938.6L1478.3 947.9L1503.1 946.9L1526.3 951.4L1549.6 953.1" stroke="#6300ff"/>
<path d="M1275.8 954.6L1275.8 950.1L1275.8 943.3L1275.8 937.1L1281.6 939.9L1295.4 930.7L1306.4 924.3L1314.4 919.0L1323.8 911.3L1333.0 900.0L1340.7 887.3L1346.9 871.5L1353.6 852.6L1360.6 830.5L1364.5 805.2L1369.4 773.7L1372.7 735.8L1375.7 691.6L1377.0 641.0L1378.6 577.9L1379.8 514.8L1380.9 451.6L1381.9 388.4L1382.9 325.3L1383.7 388.4L1384.5 451.6L1385.5 514.8L1386.6 577.9L1388.4 641.0L1389.8 691.6L1393.2 735.8L1396.8 773.7L1400.4 805.2L1403.3 830.5L1409.1 852.6L1415.6 871.5L1422.3 887.3L1429.3 900.0L1438.0 911.3L1447.0 925.0L1454.7 926.2L1466.2 935.0L1481.3 942.0L1494.6 944.0L1524.3 949.0L1552.0 954.7L1579.8 951.2" stroke="#7700ff"/>
<path d="M1275.8 956.1L1275.8 950.5L1275.8 945.1L1275.8 946.8L1275.8 939.9L1289.5 935.4L1301.4 928.9L1310.1 922.8L1320.3 911.3L1330.3 900.0L1338.6 887.3L1345.3 871.5L1352.6 852.6L1360.2 830.5L1364.5 805.2L1369.8 773.7L1373.3 735.8L1376.6 691.6L1377.9 641.0L1379.6 577.9L1381.0 514.8L1382.2 451.6L1383.3 388.4L1384.3 325.3L1385.2 388.4L1386.1 451.6L1387.2 514.8L1388.4 577.9L1390.4 641.0L1391.9 691.6L1395.6 735.8L1399.6 773.7L1403.5 805.2L1406.7 830.5L1413.1 852.6L1420.2 871.5L1427.4 887.3L1435.2 900.0L1444.7 911.3L1454.5 921.4L1463.0 927.9L1475.5 936.2L1492.1 941.7L1506.6 943.7L1539.1 951.2L1569.5 952.1L1599.9 951.5" stroke="#6800ff"/>
<path d="M1275.8 952.0L1275.8 950.6L1275.8 944.9L1275.8 943.8L1275.8 939.2L1288.9 934.5L1301.1 929.7L1310.2 919.2L1320.7 911.3L1331.0 900.0L1339.6 887.3L1346.6 871.5L1354.1 852.6L1362.0 830.5L1366.4 805.2L1371.9 773.7L1375.5 735.8L1378.9 691.6L1380.3 641.0L1382.1 577.9L1383.5 514.8L1384.8 451.6L1385.8 388.4L1386.9 325.3L1388.0 388.4L1389.0 451.6L1390.2 514.8L1391.7 577.9L1393.9 641.0L1395.7 691.6L1400.0 735.8L1404.6 773.7L1409.2 805.2L1412.8 830.5L1420.2 852.6L1428.4 871.5L1436.8 887.3L1445.8 900.0L1456.8 911.3L1468.2 920.7L1478.0 926.3L1492.5 932.5L1511.7 941.9L1528.4 943.4L1566.0 949.6L1601.2 954.8L1636.4 956.4" stroke="#4e00ff"/>
<path d="M1275.8 948.9L1275.8 953.5L1280.6 946.2L1302.7 942.1L1311.6 941.2L1321.8 936.9L1329.9 930.5L1335.9 917.4L1342.8 911.3L1349.6 900.0L1355.3 887.3L1359.9 871.5L1364.9 852.6L1370.1 830.5L1373.0 805.2L1376.6 773.7L1379.0 735.8L1381.2 691.6L1382.2 641.0L1383.3 577.9L1384.2 514.8L1385.1 451.6L1385.8 388.4L1386.5 325.3L1387.3 388.4L1388.1 451.6L1389.1 514.8L1390.2 577.9L1391.9 641.0L1393.3 691.6L1396.6 735.8L1400.2 773.7L1403.8 805.2L1406.6 830.5L1412.3 852.6L1418.7 871.5L1425.2 887.3L1432.2 900.0L1440.7 911.3L1449.6 924.0L1457.2 929.6L1468.4 933.1L1483.3 940.9L1496.4 945.4L1525.5 949.8L1552.9 955.1L1580.2 954.5" stroke="#5200ff"/>
<path d="M1275.8 956.4L1275.8 956.8L1275.8 948.2L1275.8 946.0L1275.8 937.2L1281.6 936.6L1295.3 930.4L1305.4 920.0L1317.2 911.3L1328.7 900.0L1338.3 887.3L1346.1 871.5L1354.5 852.6L1363.2 830.5L1368.2 805.2L1374.3 773.7L1378.4 735.8L1382.2 691.6L1383.7 641.0L1385.7 577.9L1387.3 514.8L1388.7 451.6L1389.9 388.4L1391.1 325.3L1391.8 388.4L1392.6 451.6L1393.4 514.8L1394.5 577.9L1396.1 641.0L1397.3 691.6L1400.4 735.8L1403.7 773.7L1406.9 805.2L1409.5 830.5L1414.8 852.6L1420.6 871.5L1426.6 887.3L1433.0 900.0L1440.8 911.3L1449.0 915.4L1455.9 931.7L1466.3 937.4L1479.9 937.0L1491.9 947.1L1518.7 943.8L1543.7 949.2L1568.8 951.0" stroke="#1400ff"/>
<path d="M1275.8 948.9L1275.8 950.6L1275.8 950.2L1275.8 943.8L1275.8 940.1L1275.8 936.3L1275.8 925.7L1282.1 922.6L1297.0 911.3L1311.6 900.0L1323.7 887.3L1333.6 871.5L1344.3 852.6L1355.4 830.5L1361.6 805.2L1369.3 773.7L1374.5 735.8L1379.3 691.6L1381.3 641.0L1383.8 577.9L1385.8 514.8L1387.6 451.6L1389.1 388.4L1390.6 325.3L1391.3 388.4L1391.9 451.6L1392.6 514.8L1393.5 577.9L1394.8 641.0L1395.9 691.6L1398.5 735.8L1401.3 773.7L1404.0 805.2L1406.2 830.5L1410.7 852.6L1415.6 871.5L1420.7 887.3L1426.1 900.0L1432.7 911.3L1439.6 916.7L1445.5 928.8L1454.2 938.8L1465.8 939.2L1475.9 943.8L1498.6 947.5L1519.8 947.2L1541.0 954.0" stroke="#1b00ff"/>
<path d="M1275.8 953.5L1275.8 950.5L1275.8 948.7L1275.8 945.9L1276.2 939.6L1292.1 934.3L1304.7 930.4L1313.9 922.0L1324.7 911.3L1335.3 900.0L1344.1 887.3L1351.3 871.5L1359.0 852.6L1367.0 830.5L1371.5 805.2L1377.2 773.7L1380.9 735.8L1384.4 691.6L1385.8 641.0L1387.6 577.9L1389.1 514.8L1390.4 451.6L1391.5 388.4L1392.6 325.3L1393.2 388.4L1393.9 451.6L1394.6 514.8L1395.5 577.9L1396.9 641.0L1397.9 691.6L1400.5 735.8L1403.3 773.7L1406.1 805.2L1408.4 830.5L1412.9 852.6L1417.8 871.5L1422.9 887.3L1428.4 900.0L1435.1 911.3L1442.0 920.3L1448.0 926.2L1456.8 933.4L1468.5 941.0L1478.7 944.1L1501.6 946.7L1523.0 953.9L1544.4 956.8" stroke="#0002ff"/>
<path d="M1275.8 952.2L1275.8 950.8L1275.8 946.7L1275.8 943.3L1287.8 939.8L1302.3 935.0L1313.8 928.2L1322.3 919.9L1332.2 911.3L1341.9 900.0L1349.9 887.3L1356.5 871.5L1363.6 852.6L1370.9 830.5L1375.0 805.2L1380.2 773.7L1383.6 735.8L1386.8 691.6L1388.2 641.0L1389.8 577.9L1391.1 514.8L1392.3 451.6L1393.3 388.4L1394.3 325.3L1395.2 388.4L1396.0 451.6L1397.0 514.8L1398.2 577.9L1400.0 641.0L1401.4 691.6L1404.8 735.8L1408.5 773.7L1412.2 805.2L1415.1 830.5L1421.1 852.6L1427.7 871.5L1434.4 887.3L1441.6 900.0L1450.4 911.3L1459.6 919.8L1467.5 928.8L1479.1 936.5L1494.5 940.5L1508.0 946.6L1538.2 947.0L1566.4 951.6L1594.7 956.8" stroke="#001fff"/>
<path d="M1275.8 956.8L1275.8 948.1L1275.8 946.7L1275.8 940.6L1275.8 942.9L1285.0 933.0L1299.1 928.4L1309.4 919.2L1321.5 911.3L1333.3 900.0L1343.2 887.3L1351.2 871.5L1359.9 852.6L1368.9 830.5L1373.9 805.2L1380.2 773.7L1384.4 735.8L1388.3 691.6L1389.9 641.0L1391.9 577.9L1393.5 514.8L1395.0 451.6L1396.2 388.4L1397.5 325.3L1398.5 388.4L1399.6 451.6L1400.7 514.8L1402.2 577.9L1404.4 641.0L1406.2 691.6L1410.5 735.8L1415.1 773.7L1419.7 805.2L1423.3 830.5L1430.7 852.6L1438.9 871.5L1447.3 887.3L1456.2 900.0L1467.2 911.3L1478.6 921.8L1488.4 926.1L1502.9 933.5L1522.1 937.8L1538.8 941.0L1576.4 951.3L1611.5 950.9L1646.6 952.7" stroke="#0053ff"/>
<path d="M1275.8 953.8L1275.8 948.0L1275.8 946.3L1275.8 945.3L1275.8 939.7L1275.8 930.0L1285.0 927.1L1296.7 917.0L1310.4 911.3L1323.7 900.0L1334.8 887.3L1343.9 871.5L1353.6 852.6L1363.8 830.5L1369.5 805.2L1376.6 773.7L1381.3 735.8L1385.7 691.6L1387.5 641.0L1389.8 577.9L1391.6 514.8L1393.3 451.6L1394.6 388.4L1396.0 325.3L1397.0 388.4L1398.0 451.6L1399.1 514.8L1400.4 577.9L1402.5 641.0L1404.1 691.6L1408.0 735.8L1412.3 773.7L1416.5 805.2L1419.9 830.5L1426.7 852.6L1434.2 871.5L1442.0 887.3L1450.2 900.0L1460.3 911.3L1470.8 921.1L1479.8 923.3L1493.2 934.3L1510.8 942.3L1526.3 942.5L1560.9 947.0L1593.2 952.4L1625.6 951.8" stroke="#003bff"/>
<path d="M1275.8 952.7L1275.8 951.3L1275.8 949.5L1275.8 944.5L1275.8 938.3L1286.0 932.6L1300.3 930.3L1310.9 921.0L1323.2 911.3L1335.3 900.0L1345.3 887.3L1353.5 871.5L1362.3 852.6L1371.5 830.5L1376.6 805.2L1383.1 773.7L1387.3 735.8L1391.3 691.6L1393.0 641.0L1395.0 577.9L1396.7 514.8L1398.2 451.6L1399.4 388.4L1400.7 325.3L1401.8 388.4L1402.9 451.6L1404.1 514.8L1405.7 577.9L1408.1 641.0L1409.9 691.6L1414.5 735.8L1419.3 773.7L1424.2 805.2L1428.0 830.5L1435.9 852.6L1444.5 871.5L1453.4 887.3L1462.9 900.0L1474.5 911.3L1486.6 919.3L1496.9 931.9L1512.2 934.2L1532.5 943.4L1550.2 945.1L1589.9 953.0L1627.1 948.2L1664.3 955.2" stroke="#0076ff"/>
<path d="M1275.8 953.1L1275.8 950.9L1275.8 945.0L1275.8 944.9L1275.8 938.4L1275.8 931.2L1277.1 926.0L1290.2 920.5L1305.4 911.3L1320.4 900.0L1332.8 887.3L1342.9 871.5L1353.9 852.6L1365.2 830.5L1371.5 805.2L1379.5 773.7L1384.8 735.8L1389.7 691.6L1391.7 641.0L1394.3 577.9L1396.3 514.8L1398.2 451.6L1399.7 388.4L1401.3 325.3L1401.9 388.4L1402.6 451.6L1403.4 514.8L1404.3 577.9L1405.7 641.0L1406.8 691.6L1409.6 735.8L1412.5 773.7L1415.4 805.2L1417.7 830.5L1422.4 852.6L1427.6 871.5L1432.9 887.3L1438.6 900.0L1445.6 911.3L1452.8 918.8L1459.1 923.5L1468.2 933.3L1480.4 937.1L1491.1 943.6L1514.9 942.4L1537.2 950.6L1559.6 950.2" stroke="#007dff"/>
<path d="M1275.8 954.2L1275.8 951.7L1275.8 946.1L1275.8 947.4L1275.8 938.3L1275.8 937.9L1284.4 925.8L1296.9 920.6L1311.4 911.3L1325.7 900.0L1337.5 887.3L1347.2 871.5L1357.6 852.6L1368.4 830.5L1374.4 805.2L1382.0 773.7L1387.1 735.8L1391.7 691.6L1393.7 641.0L1396.1 577.9L1398.1 514.8L1399.8 451.6L1401.3 388.4L1402.8 325.3L1403.8 388.4L1404.7 451.6L1405.9 514.8L1407.3 577.9L1409.3 641.0L1411.0 691.6L1415.0 735.8L1419.3 773.7L1423.6 805.2L1427.0 830.5L1434.0 852.6L1441.7 871.5L1449.5 887.3L1457.9 900.0L1468.2 911.3L1478.9 920.7L1488.1 925.1L1501.7 936.4L1519.7 940.8L1535.4 940.9L1570.6 946.1L1603.6 947.9L1636.6 950.9" stroke="#008cff"/>
<path d="M1275.8 949.8L1275.8 950.3L1275.8 941.7L1275.8 944.6L1275.8 936.8L1286.9 933.9L1301.4 927.1L1312.1 921.9L1324.6 911.3L1336.8 900.0L1347.0 887.3L1355.2 871.5L1364.2 852.6L1373.4 830.5L1378.6 805.2L1385.1 773.7L1389.5 735.8L1393.5 691.6L1395.2 641.0L1397.2 577.9L1398.9 514.8L1400.4 451.6L1401.7 388.4L1403.0 325.3L1403.7 388.4L1404.4 451.6L1405.2 514.8L1406.2 577.9L1407.7 641.0L1409.0 691.6L1411.9 735.8L1415.0 773.7L1418.2 805.2L1420.7 830.5L1425.8 852.6L1431.4 871.5L1437.1 887.3L1443.3 900.0L1450.8 911.3L1458.6 918.5L1465.3 930.1L1475.2 935.0L1488.4 940.7L1499.9 940.5L1525.6 942.3L1549.7 949.9L1573.8 954.0" stroke="#008eff"/>
<path d="M1275.8 953.7L1275.8 953.1L1275.8 949.6L1275.8 944.4L1287.3 938.6L1303.2 936.0L1315.9 931.4L1325.2 922.3L1336.1 911.3L1346.7 900.0L1355.6 887.3L1362.8 871.5L1370.6 852.6L1378.6 830.5L1383.2 805.2L1388.8 773.7L1392.6 735.8L1396.1 691.6L1397.6 641.0L1399.4 577.9L1400.8 514.8L1402.2 451.6L1403.3 388.4L1404.4 325.3L1405.4 388.4L1406.5 451.6L1407.7 514.8L1409.1 577.9L1411.3 641.0L1413.1 691.6L1417.4 735.8L1422.0 773.7L1426.5 805.2L1430.2 830.5L1437.6 852.6L1445.7 871.5L1454.1 887.3L1463.0 900.0L1474.0 911.3L1485.4 924.3L1495.1 926.1L1509.6 934.4L1528.7 937.6L1545.4 942.3L1582.9 948.2L1617.9 947.6L1653.0 955.5" stroke="#009dff"/>
<path d="M1275.8 948.8L1275.8 948.8L1275.8 944.3L1275.8 944.1L1275.8 937.3L1284.5 931.7L1299.8 928.7L1311.1 924.2L1324.2 911.3L1337.1 900.0L1347.8 887.3L1356.5 871.5L1365.9 852.6L1375.7 830.5L1381.2 805.2L1388.0 773.7L1392.6 735.8L1396.8 691.6L1398.6 641.0L1400.8 577.9L1402.6 514.8L1404.1 451.6L1405.5 388.4L1406.8 325.3L1407.5 388.4L1408.2 451.6L1409.0 514.8L1410.1 577.9L1411.6 641.0L1412.7 691.6L1415.6 735.8L1418.8 773.7L1421.9 805.2L1424.3 830.5L1429.3 852.6L1434.9 871.5L1440.6 887.3L1446.6 900.0L1454.1 911.3L1461.8 922.8L1468.4 921.4L1478.2 934.3L1491.2 933.9L1502.6 944.5L1528.0 946.1L1551.8 951.8L1575.6 949.3" stroke="#00b6ff"/>
<path d="M1275.8 953.0L1275.8 956.3L1275.8 948.9L1294.3 945.4L1306.6 943.4L1320.7 932.3L1331.8 928.2L1340.0 922.0L1349.6 911.3L1358.9 900.0L1366.8 887.3L1373.1 871.5L1380.0 852.6L1387.1 830.5L1391.1 805.2L1396.0 773.7L1399.4 735.8L1402.4 691.6L1403.7 641.0L1405.3 577.9L1406.6 514.8L1407.8 451.6L1408.7 388.4L1409.7 325.3L1410.4 388.4L1411.2 451.6L1412.0 514.8L1413.1 577.9L1414.6 641.0L1415.9 691.6L1418.9 735.8L1422.1 773.7L1425.3 805.2L1427.9 830.5L1433.1 852.6L1438.9 871.5L1444.8 887.3L1451.1 900.0L1458.8 911.3L1466.9 918.6L1473.7 926.7L1483.9 934.9L1497.4 938.2L1509.2 944.4L1535.7 948.2L1560.4 947.4L1585.1 950.8" stroke="#00d5ff"/>
<path d="M1275.8 953.7L1275.8 952.0L1275.8 947.5L1275.8 943.8L1275.8 942.9L1276.2 939.1L1293.3 929.0L1306.0 922.4L1320.7 911.3L1335.1 900.0L1347.2 887.3L1356.9 871.5L1367.5 852.6L1378.5 830.5L1384.6 805.2L1392.3 773.7L1397.4 735.8L1402.2 691.6L1404.1 641.0L1406.6 577.9L1408.6 514.8L1410.3 451.6L1411.8 388.4L1413.3 325.3L1414.0 388.4L1414.7 451.6L1415.4 514.8L1416.4 577.9L1417.8 641.0L1418.9 691.6L1421.6 735.8L1424.5 773.7L1427.4 805.2L1429.8 830.5L1434.4 852.6L1439.6 871.5L1445.0 887.3L1450.6 900.0L1457.6 911.3L1464.8 923.2L1471.1 927.5L1480.2 933.2L1492.4 938.4L1503.0 944.3L1526.9 948.7L1549.2 954.7L1571.5 949.0" stroke="#00eeef"/>
<path d="M1275.8 951.9L1275.8 951.1L1275.8 941.6L1275.8 946.3L1275.8 940.2L1289.9 934.8L1305.5 927.9L1317.0 921.9L1330.4 911.3L1343.6 900.0L1354.5 887.3L1363.5 871.5L1373.1 852.6L1383.1 830.5L1388.7 805.2L1395.7 773.7L1400.3 735.8L1404.7 691.6L1406.5 641.0L1408.7 577.9L1410.5 514.8L1412.1 451.6L1413.5 388.4L1414.8 325.3L1415.6 388.4L1416.4 451.6L1417.2 514.8L1418.3 577.9L1419.9 641.0L1421.2 691.6L1424.2 735.8L1427.6 773.7L1430.9 805.2L1433.5 830.5L1438.8 852.6L1444.7 871.5L1450.8 887.3L1457.2 900.0L1465.1 911.3L1473.3 916.5L1480.4 927.9L1490.8 933.8L1504.6 939.3L1516.7 944.5L1543.7 947.5L1569.0 949.1L1594.4 956.5" stroke="#00f2e2"/>
<path d="M1275.8 954.4L1275.8 954.5L1275.8 945.8L1275.8 944.9L1275.8 944.0L1278.8 935.4L1295.6 929.5L1307.9 919.9L1322.4 911.3L1336.5 900.0L1348.3 887.3L1357.9 871.5L1368.2 852.6L1378.9 830.5L1384.9 805.2L1392.5 773.7L1397.5 735.8L1402.1 691.6L1404.1 641.0L1406.5 577.9L1408.4 514.8L1410.1 451.6L1411.6 388.4L1413.1 325.3L1413.9 388.4L1414.8 451.6L1415.8 514.8L1417.0 577.9L1418.8 641.0L1420.3 691.6L1423.8 735.8L1427.6 773.7L1431.3 805.2L1434.3 830.5L1440.4 852.6L1447.1 871.5L1454.0 887.3L1461.4 900.0L1470.4 911.3L1479.8 916.2L1487.8 927.5L1499.7 930.3L1515.5 940.8L1529.3 941.9L1560.1 943.8L1589.0 948.6L1617.9 955.3" stroke="#00edf1"/>
<path d="M1275.8 951.9L1275.8 952.1L1275.8 950.4L1275.8 945.4L1275.8 939.6L1283.9 933.3L1300.4 929.4L1312.5 921.1L1326.7 911.3L1340.6 900.0L1352.1 887.3L1361.5 871.5L1371.7 852.6L1382.2 830.5L1388.1 805.2L1395.5 773.7L1400.4 735.8L1405.0 691.6L1406.9 641.0L1409.2 577.9L1411.1 514.8L1412.8 451.6L1414.3 388.4L1415.7 325.3L1416.9 388.4L1418.0 451.6L1419.3 514.8L1420.9 577.9L1423.4 641.0L1425.3 691.6L1430.0 735.8L1435.0 773.7L1440.0 805.2L1444.0 830.5L1452.1 852.6L1461.1 871.5L1470.2 887.3L1480.0 900.0L1492.0 911.3L1504.5 924.0L1515.2 926.8L1531.1 930.1L1552.0 943.0L1570.4 945.9L1611.5 946.2L1649.9 955.5L1688.3 953.9" stroke="#00f5da"/>
<path d="M1275.8 954.4L1275.8 953.5L1275.8 943.2L1297.9 943.0L1310.6 939.5L1325.1 933.0L1336.6 926.7L1345.0 920.1L1354.9 911.3L1364.6 900.0L1372.6 887.3L1379.2 871.5L1386.2 852.6L1393.6 830.5L1397.7 805.2L1402.8 773.7L1406.3 735.8L1409.5 691.6L1410.8 641.0L1412.4 577.9L1413.7 514.8L1414.9 451.6L1415.9 388.4L1416.9 325.3L1417.6 388.4L1418.2 451.6L1418.9 514.8L1419.8 577.9L1421.2 641.0L1422.3 691.6L1424.8 735.8L1427.6 773.7L1430.4 805.2L1432.6 830.5L1437.1 852.6L1442.1 871.5L1447.1 887.3L1452.6 900.0L1459.2 911.3L1466.1 917.1L1472.0 926.8L1480.8 937.7L1492.4 939.8L1502.6 947.0L1525.3 947.1L1546.6 954.8L1567.9 953.9" stroke="#00f9d0"/>
<path d="M1275.8 954.8L1275.8 953.0L1275.8 948.6L1275.8 941.6L1275.8 940.3L1288.2 927.6L1304.3 927.8L1316.1 918.8L1330.0 911.3L1343.5 900.0L1354.8 887.3L1363.9 871.5L1373.9 852.6L1384.1 830.5L1389.9 805.2L1397.1 773.7L1401.9 735.8L1406.4 691.6L1408.2 641.0L1410.5 577.9L1412.4 514.8L1414.0 451.6L1415.4 388.4L1416.8 325.3L1417.5 388.4L1418.1 451.6L1418.8 514.8L1419.7 577.9L1421.0 641.0L1422.0 691.6L1424.6 735.8L1427.3 773.7L1430.0 805.2L1432.2 830.5L1436.5 852.6L1441.4 871.5L1446.3 887.3L1451.6 900.0L1458.1 911.3L1464.9 922.0L1470.7 925.3L1479.2 936.6L1490.6 941.2L1500.5 946.4L1522.7 947.4L1543.5 952.9L1564.3 956.8" stroke="#00f8d1"/>
<path d="M1275.8 954.9L1275.8 949.9L1275.8 949.4L1275.8 945.0L1275.8 941.4L1275.8 932.7L1284.3 928.9L1298.3 920.6L1314.7 911.3L1330.6 900.0L1344.0 887.3L1354.8 871.5L1366.5 852.6L1378.6 830.5L1385.4 805.2L1393.9 773.7L1399.6 735.8L1404.9 691.6L1407.1 641.0L1409.8 577.9L1412.0 514.8L1413.9 451.6L1415.6 388.4L1417.3 325.3L1417.9 388.4L1418.5 451.6L1419.2 514.8L1420.1 577.9L1421.4 641.0L1422.5 691.6L1425.0 735.8L1427.8 773.7L1430.5 805.2L1432.7 830.5L1437.1 852.6L1442.0 871.5L1447.0 887.3L1452.3 900.0L1458.8 911.3L1465.6 924.7L1471.5 925.7L1480.1 934.3L1491.5 937.5L1501.5 946.5L1523.9 943.7L1544.8 947.6L1565.8 951.3" stroke="#00facd"/>
<path d="M1275.8 951.5L1296.2 948.4L1316.5 944.0L1338.1 943.5L1346.8 943.5L1356.8 931.0L1364.7 928.0L1370.5 918.2L1377.3 911.3L1384.0 900.0L1389.5 887.3L1394.0 871.5L1398.9 852.6L1404.0 830.5L1406.8 805.2L1410.3 773.7L1412.7 735.8L1414.9 691.6L1415.8 641.0L1416.9 577.9L1417.8 514.8L1418.7 451.6L1419.3 388.4L1420.0 325.3L1420.8 388.4L1421.5 451.6L1422.4 514.8L1423.4 577.9L1424.9 641.0L1426.2 691.6L1429.2 735.8L1432.4 773.7L1435.6 805.2L1438.2 830.5L1443.4 852.6L1449.1 871.5L1455.0 887.3L1461.3 900.0L1469.0 911.3L1477.0 921.4L1483.9 926.9L1494.0 935.3L1507.5 939.8L1519.2 943.3L1545.6 946.5L1570.2 953.3L1594.9 948.3" stroke="#00fdb7"/>
<path d="M1275.8 954.3L1275.8 948.3L1275.8 950.2L1292.4 943.2L1306.4 938.3L1322.4 932.2L1335.0 928.0L1344.3 915.7L1355.2 911.3L1365.9 900.0L1374.8 887.3L1382.0 871.5L1389.8 852.6L1397.9 830.5L1402.4 805.2L1408.1 773.7L1411.9 735.8L1415.4 691.6L1416.8 641.0L1418.6 577.9L1420.1 514.8L1421.4 451.6L1422.5 388.4L1423.6 325.3L1424.5 388.4L1425.4 451.6L1426.4 514.8L1427.7 577.9L1429.6 641.0L1431.1 691.6L1434.8 735.8L1438.8 773.7L1442.7 805.2L1445.9 830.5L1452.2 852.6L1459.2 871.5L1466.4 887.3L1474.1 900.0L1483.6 911.3L1493.4 922.5L1501.8 926.6L1514.2 935.2L1530.7 939.8L1545.1 943.9L1577.3 947.4L1607.5 952.9L1637.7 952.0" stroke="#00f8a1"/>
<path d="M1275.8 952.9L1295.6 950.0L1316.4 947.5L1338.5 946.9L1347.4 938.9L1357.6 932.2L1365.7 922.6L1371.7 917.3L1378.7 911.3L1385.5 900.0L1391.1 887.3L1395.8 871.5L1400.7 852.6L1405.9 830.5L1408.8 805.2L1412.4 773.7L1414.8 735.8L1417.1 691.6L1418.0 641.0L1419.2 577.9L1420.1 514.8L1420.9 451.6L1421.7 388.4L1422.4 325.3L1423.4 388.4L1424.5 451.6L1425.7 514.8L1427.2 577.9L1429.5 641.0L1431.3 691.6L1435.6 735.8L1440.3 773.7L1445.0 805.2L1448.7 830.5L1456.2 852.6L1464.6 871.5L1473.1 887.3L1482.2 900.0L1493.4 911.3L1505.0 914.3L1515.0 928.3L1529.7 933.8L1549.2 935.2L1566.3 940.9L1604.5 943.8L1640.3 952.2L1676.0 951.8" stroke="#00faa9"/>
<path d="M1275.8 950.5L1291.9 952.1L1313.9 950.8L1337.1 944.0L1346.6 940.3L1357.3 933.9L1365.9 926.0L1372.1 925.6L1379.5 911.3L1386.6 900.0L1392.6 887.3L1397.5 871.5L1402.7 852.6L1408.2 830.5L1411.2 805.2L1415.1 773.7L1417.6 735.8L1420.0 691.6L1421.0 641.0L1422.2 577.9L1423.2 514.8L1424.0 451.6L1424.8 388.4L1425.5 325.3L1426.2 388.4L1426.8 451.6L1427.5 514.8L1428.4 577.9L1429.7 641.0L1430.8 691.6L1433.3 735.8L1436.1 773.7L1438.8 805.2L1441.0 830.5L1445.4 852.6L1450.3 871.5L1455.3 887.3L1460.7 900.0L1467.2 911.3L1474.1 917.9L1479.9 927.4L1488.6 931.4L1500.0 940.9L1510.0 940.5L1532.5 944.3L1553.5 953.3L1574.5 953.9" stroke="#00f595"/>
<path d="M1275.8 953.1L1280.5 951.6L1304.2 947.3L1329.4 944.8L1339.6 939.2L1351.3 935.7L1360.5 926.7L1367.3 917.2L1375.2 911.3L1383.0 900.0L1389.4 887.3L1394.7 871.5L1400.4 852.6L1406.3 830.5L1409.6 805.2L1413.7 773.7L1416.5 735.8L1419.0 691.6L1420.1 641.0L1421.4 577.9L1422.5 514.8L1423.4 451.6L1424.2 388.4L1425.0 325.3L1425.9 388.4L1426.8 451.6L1427.7 514.8L1429.0 577.9L1430.8 641.0L1432.2 691.6L1435.7 735.8L1439.5 773.7L1443.2 805.2L1446.2 830.5L1452.3 852.6L1459.0 871.5L1465.9 887.3L1473.2 900.0L1482.2 911.3L1491.6 921.3L1499.6 925.9L1511.4 933.2L1527.2 940.5L1540.9 943.4L1571.7 948.8L1600.5 947.7L1629.3 951.4" stroke="#00f598"/>
<path d="M1275.8 951.0L1275.8 948.8L1282.4 947.5L1312.9 941.5L1325.2 941.6L1339.3 929.8L1350.4 928.6L1358.6 922.3L1368.2 911.3L1377.6 900.0L1385.5 887.3L1391.8 871.5L1398.7 852.6L1405.8 830.5L1409.8 805.2L1414.8 773.7L1418.1 735.8L1421.2 691.6L1422.5 641.0L1424.1 577.9L1425.4 514.8L1426.5 451.6L1427.5 388.4L1428.5 325.3L1429.6 388.4L1430.7 451.6L1431.9 514.8L1433.4 577.9L1435.6 641.0L1437.5 691.6L1441.8 735.8L1446.5 773.7L1451.2 805.2L1455.0 830.5L1462.5 852.6L1470.9 871.5L1479.5 887.3L1488.6 900.0L1499.8 911.3L1511.5 918.1L1521.5 923.1L1536.3 939.0L1555.9 937.4L1573.0 941.7L1611.4 946.2L1647.3 950.7L1683.3 956.8" stroke="#00f082"/>
<path d="M1582.6 954.3L1612.3 947.8L1642.0 947.6L1673.5 940.9L1686.7 936.5L1701.7 934.1L1715.2 930.1L1727.0 919.2L1733.8 911.3L1740.9 900.0L1747.5 887.3L1753.5 871.5L1757.9 852.6L1762.5 830.5L1765.7 805.2L1769.8 773.7L1771.4 735.8L1772.5 691.6L1773.9 641.0L1775.5 577.9L1777.1 514.8L1778.5 451.6L1779.5 388.4L1780.5 325.3L1781.4 388.4L1782.3 451.6L1783.7 514.8L1785.2 577.9L1786.7 641.0L1788.0 691.6L1789.1 735.8L1790.7 773.7L1794.5 805.2L1797.6 830.5L1801.9 852.6L1806.2 871.5L1811.9 887.3L1818.2 900.0L1825.0 911.3L1831.4 922.5L1842.7 931.7L1855.6 932.8L1869.9 939.5L1882.5 943.5L1912.6 945.9L1940.9 951.3L1969.2 954.0" stroke="#00f654" stroke-width="2.1"/>
<path d="M1633.6 956.8L1655.6 950.4L1677.6 946.2L1700.9 945.2L1710.7 934.6L1721.8 929.0L1731.8 926.8L1740.6 922.3L1745.5 911.3L1750.8 900.0L1755.7 887.3L1760.1 871.5L1763.4 852.6L1766.8 830.5L1769.2 805.2L1772.2 773.7L1773.4 735.8L1774.2 691.6L1775.2 641.0L1776.4 577.9L1777.6 514.8L1778.6 451.6L1779.4 388.4L1780.1 325.3L1780.8 388.4L1781.6 451.6L1782.6 514.8L1783.8 577.9L1785.0 641.0L1786.0 691.6L1786.8 735.8L1788.1 773.7L1791.1 805.2L1793.5 830.5L1796.8 852.6L1800.2 871.5L1804.6 887.3L1809.5 900.0L1814.8 911.3L1819.8 919.3L1828.7 928.8L1838.7 933.1L1849.9 936.7L1859.7 944.5L1883.1 947.2L1905.2 951.2L1927.3 954.2" stroke="#00f661" stroke-width="2.1"/>
<path d="M1574.0 949.2L1604.8 950.6L1635.7 946.6L1668.4 941.9L1682.1 935.1L1697.7 939.2L1711.7 932.2L1724.0 919.5L1731.0 911.3L1738.4 900.0L1745.3 887.3L1751.5 871.5L1756.1 852.6L1760.8 830.5L1764.2 805.2L1768.4 773.7L1770.1 735.8L1771.3 691.6L1772.7 641.0L1774.4 577.9L1776.0 514.8L1777.4 451.6L1778.5 388.4L1779.5 325.3L1780.0 388.4L1780.5 451.6L1781.2 514.8L1782.0 577.9L1782.9 641.0L1783.6 691.6L1784.2 735.8L1785.0 773.7L1787.1 805.2L1788.7 830.5L1791.1 852.6L1793.4 871.5L1796.4 887.3L1799.8 900.0L1803.5 911.3L1806.9 923.8L1813.0 930.4L1820.0 936.5L1827.7 941.8L1834.4 947.0L1850.7 948.1L1865.9 949.0L1881.2 953.2" stroke="#00f578" stroke-width="2.1"/>
<path d="M1597.0 954.7L1624.7 953.3L1652.3 941.2L1681.7 947.0L1694.0 941.1L1708.0 931.8L1720.5 932.8L1731.6 920.3L1737.9 911.3L1744.5 900.0L1750.6 887.3L1756.2 871.5L1760.4 852.6L1764.6 830.5L1767.6 805.2L1771.4 773.7L1772.9 735.8L1774.0 691.6L1775.2 641.0L1776.7 577.9L1778.2 514.8L1779.5 451.6L1780.4 388.4L1781.4 325.3L1782.3 388.4L1783.2 451.6L1784.4 514.8L1785.9 577.9L1787.4 641.0L1788.6 691.6L1789.6 735.8L1791.1 773.7L1794.8 805.2L1797.8 830.5L1801.9 852.6L1805.9 871.5L1811.4 887.3L1817.4 900.0L1823.9 911.3L1830.1 915.8L1840.9 928.5L1853.2 935.0L1866.9 939.8L1878.9 943.2L1907.7 944.4L1934.7 952.7L1961.8 951.1" stroke="#00f832" stroke-width="2.1"/>
<path d="M1576.3 953.9L1607.0 952.4L1637.6 945.1L1670.2 940.6L1683.8 937.9L1699.3 932.2L1713.2 929.5L1725.4 923.0L1732.4 911.3L1739.7 900.0L1746.5 887.3L1752.8 871.5L1757.4 852.6L1762.0 830.5L1765.4 805.2L1769.5 773.7L1771.2 735.8L1772.4 691.6L1773.8 641.0L1775.5 577.9L1777.1 514.8L1778.5 451.6L1779.6 388.4L1780.6 325.3L1781.1 388.4L1781.6 451.6L1782.4 514.8L1783.2 577.9L1784.0 641.0L1784.7 691.6L1785.3 735.8L1786.2 773.7L1788.3 805.2L1790.0 830.5L1792.3 852.6L1794.7 871.5L1797.8 887.3L1801.3 900.0L1805.0 911.3L1808.5 924.1L1814.7 933.4L1821.7 935.7L1829.6 934.4L1836.4 946.4L1852.9 944.4L1868.4 952.9L1883.9 956.8" stroke="#00f74f" stroke-width="2.1"/>
<path d="M1612.9 948.5L1638.7 949.6L1664.5 948.9L1691.9 943.0L1703.3 940.9L1716.3 939.5L1728.0 928.3L1738.3 919.8L1744.2 911.3L1750.4 900.0L1756.1 887.3L1761.3 871.5L1765.2 852.6L1769.1 830.5L1771.9 805.2L1775.4 773.7L1776.8 735.8L1777.8 691.6L1779.0 641.0L1780.4 577.9L1781.8 514.8L1783.0 451.6L1783.9 388.4L1784.7 325.3L1785.4 388.4L1786.0 451.6L1787.0 514.8L1788.0 577.9L1789.1 641.0L1790.0 691.6L1790.8 735.8L1791.9 773.7L1794.6 805.2L1796.7 830.5L1799.8 852.6L1802.7 871.5L1806.8 887.3L1811.2 900.0L1815.9 911.3L1820.4 919.5L1828.4 924.9L1837.4 934.1L1847.4 938.8L1856.2 945.8L1877.3 945.3L1897.2 952.2L1917.0 947.8" stroke="#00f800" stroke-width="2.1"/>
<path d="M1584.9 952.4L1614.3 947.9L1643.8 949.6L1675.0 946.6L1688.1 940.1L1703.0 935.5L1716.3 929.1L1728.1 919.6L1734.7 911.3L1741.8 900.0L1748.3 887.3L1754.3 871.5L1758.7 852.6L1763.2 830.5L1766.4 805.2L1770.4 773.7L1772.0 735.8L1773.2 691.6L1774.5 641.0L1776.1 577.9L1777.6 514.8L1779.0 451.6L1780.0 388.4L1781.0 325.3L1781.8 388.4L1782.7 451.6L1783.8 514.8L1785.1 577.9L1786.5 641.0L1787.6 691.6L1788.5 735.8L1789.9 773.7L1793.2 805.2L1795.9 830.5L1799.7 852.6L1803.4 871.5L1808.3 887.3L1813.8 900.0L1819.7 911.3L1825.3 920.7L1835.1 928.3L1846.3 932.2L1858.8 940.2L1869.7 943.7L1895.8 947.8L1920.4 949.6L1945.0 952.7" stroke="#00f73f" stroke-width="2.1"/>
<path d="M1652.1 952.0L1671.9 950.6L1691.7 949.2L1712.7 945.5L1721.5 940.9L1731.5 935.8L1740.5 929.6L1748.4 916.8L1752.9 911.3L1757.6 900.0L1762.0 887.3L1766.0 871.5L1769.0 852.6L1772.0 830.5L1774.2 805.2L1776.9 773.7L1778.0 735.8L1778.7 691.6L1779.6 641.0L1780.7 577.9L1781.8 514.8L1782.7 451.6L1783.4 388.4L1784.0 325.3L1784.6 388.4L1785.1 451.6L1785.9 514.8L1786.8 577.9L1787.7 641.0L1788.4 691.6L1789.0 735.8L1789.9 773.7L1792.2 805.2L1794.0 830.5L1796.5 852.6L1798.9 871.5L1802.3 887.3L1805.9 900.0L1809.9 911.3L1813.6 920.1L1820.2 929.0L1827.6 933.7L1836.0 936.2L1843.2 949.3L1860.7 952.4L1877.2 947.8L1893.6 956.8" stroke="#00f900" stroke-width="2.1"/>
<path d="M1669.5 954.0L1686.6 944.6L1703.7 947.5L1721.9 943.4L1729.5 940.7L1738.1 933.2L1745.9 924.5L1752.7 917.5L1756.6 911.3L1760.7 900.0L1764.5 887.3L1768.0 871.5L1770.5 852.6L1773.1 830.5L1775.0 805.2L1777.3 773.7L1778.3 735.8L1779.0 691.6L1779.7 641.0L1780.7 577.9L1781.6 514.8L1782.4 451.6L1782.9 388.4L1783.5 325.3L1784.5 388.4L1785.4 451.6L1786.8 514.8L1788.3 577.9L1789.9 641.0L1791.2 691.6L1792.3 735.8L1793.9 773.7L1797.8 805.2L1800.9 830.5L1805.3 852.6L1809.6 871.5L1815.4 887.3L1821.8 900.0L1828.7 911.3L1835.2 914.0L1846.7 927.4L1859.7 932.5L1874.2 941.8L1886.9 945.9L1917.5 947.1L1946.2 952.6L1974.9 954.1" stroke="#00f900" stroke-width="2.1"/>
<path d="M1633.6 953.1L1656.4 956.0L1679.3 950.2L1703.6 944.2L1713.8 937.8L1725.4 935.0L1735.7 927.6L1744.9 922.5L1750.1 911.3L1755.6 900.0L1760.6 887.3L1765.3 871.5L1768.7 852.6L1772.2 830.5L1774.7 805.2L1777.8 773.7L1779.1 735.8L1780.0 691.6L1781.0 641.0L1782.2 577.9L1783.4 514.8L1784.5 451.6L1785.3 388.4L1786.1 325.3L1786.8 388.4L1787.6 451.6L1788.7 514.8L1789.9 577.9L1791.2 641.0L1792.2 691.6L1793.1 735.8L1794.4 773.7L1797.5 805.2L1800.1 830.5L1803.6 852.6L1807.1 871.5L1811.7 887.3L1816.9 900.0L1822.4 911.3L1827.7 918.8L1836.9 930.3L1847.4 934.0L1859.1 940.6L1869.4 948.1L1893.9 943.2L1917.1 951.3L1940.2 954.6" stroke="#00f700" stroke-width="2.1"/>
<path d="M1642.3 956.8L1663.7 950.9L1685.1 943.8L1707.9 940.6L1717.3 940.4L1728.2 932.4L1737.9 929.1L1746.4 920.5L1751.3 911.3L1756.4 900.0L1761.2 887.3L1765.5 871.5L1768.7 852.6L1772.0 830.5L1774.3 805.2L1777.2 773.7L1778.4 735.8L1779.2 691.6L1780.2 641.0L1781.4 577.9L1782.5 514.8L1783.5 451.6L1784.2 388.4L1785.0 325.3L1786.0 388.4L1787.0 451.6L1788.5 514.8L1790.1 577.9L1791.8 641.0L1793.2 691.6L1794.4 735.8L1796.1 773.7L1800.3 805.2L1803.7 830.5L1808.4 852.6L1813.0 871.5L1819.3 887.3L1826.1 900.0L1833.5 911.3L1840.5 922.3L1852.9 927.2L1866.9 931.8L1882.5 936.8L1896.2 940.7L1929.1 947.7L1960.0 948.4L1990.8 953.1" stroke="#00f800" stroke-width="2.1"/>
<path d="M1585.8 956.8L1615.9 954.3L1645.9 942.9L1677.9 944.2L1691.2 941.2L1706.4 934.3L1720.0 925.5L1732.1 922.4L1738.9 911.3L1746.1 900.0L1752.8 887.3L1758.8 871.5L1763.4 852.6L1767.9 830.5L1771.2 805.2L1775.3 773.7L1777.0 735.8L1778.1 691.6L1779.5 641.0L1781.1 577.9L1782.7 514.8L1784.1 451.6L1785.1 388.4L1786.1 325.3L1786.8 388.4L1787.5 451.6L1788.5 514.8L1789.6 577.9L1790.8 641.0L1791.7 691.6L1792.6 735.8L1793.7 773.7L1796.6 805.2L1798.9 830.5L1802.1 852.6L1805.2 871.5L1809.5 887.3L1814.1 900.0L1819.2 911.3L1823.9 920.2L1832.4 925.3L1841.9 934.5L1852.5 938.1L1861.8 942.0L1884.2 947.4L1905.2 952.7L1926.2 956.7" stroke="#00f700" stroke-width="2.1"/>
<path d="M1631.0 951.3L1654.8 949.7L1678.6 951.2L1703.9 940.1L1714.5 936.1L1726.5 932.4L1737.3 928.6L1746.8 921.1L1752.2 911.3L1757.9 900.0L1763.2 887.3L1768.1 871.5L1771.6 852.6L1775.3 830.5L1777.9 805.2L1781.1 773.7L1782.4 735.8L1783.3 691.6L1784.4 641.0L1785.7 577.9L1787.0 514.8L1788.1 451.6L1788.9 388.4L1789.7 325.3L1790.2 388.4L1790.7 451.6L1791.5 514.8L1792.3 577.9L1793.2 641.0L1793.9 691.6L1794.5 735.8L1795.4 773.7L1797.5 805.2L1799.3 830.5L1801.7 852.6L1804.1 871.5L1807.3 887.3L1810.8 900.0L1814.6 911.3L1818.2 921.9L1824.5 927.0L1831.7 931.1L1839.7 936.1L1846.7 941.9L1863.5 947.7L1879.4 951.5L1895.2 954.6" stroke="#00f400" stroke-width="2.1"/>
<path d="M1644.0 952.6L1665.4 953.6L1686.9 942.2L1709.7 944.8L1719.3 938.6L1730.1 935.2L1739.9 934.0L1748.5 917.5L1753.3 911.3L1758.5 900.0L1763.3 887.3L1767.6 871.5L1770.8 852.6L1774.1 830.5L1776.5 805.2L1779.4 773.7L1780.6 735.8L1781.4 691.6L1782.4 641.0L1783.5 577.9L1784.7 514.8L1785.7 451.6L1786.4 388.4L1787.1 325.3L1788.0 388.4L1788.9 451.6L1790.2 514.8L1791.6 577.9L1793.1 641.0L1794.3 691.6L1795.3 735.8L1796.8 773.7L1800.4 805.2L1803.4 830.5L1807.4 852.6L1811.5 871.5L1816.9 887.3L1822.9 900.0L1829.3 911.3L1835.4 919.3L1846.1 929.5L1858.2 936.6L1871.8 936.1L1883.7 946.4L1912.2 948.5L1939.0 949.9L1965.8 955.4" stroke="#00f600" stroke-width="2.1"/>
<path d="M1675.3 952.4L1692.5 952.0L1709.8 944.1L1728.2 941.7L1735.9 939.3L1744.6 935.9L1752.5 928.0L1759.4 921.8L1763.3 911.3L1767.5 900.0L1771.3 887.3L1774.8 871.5L1777.4 852.6L1780.0 830.5L1781.9 805.2L1784.3 773.7L1785.2 735.8L1785.9 691.6L1786.7 641.0L1787.6 577.9L1788.5 514.8L1789.3 451.6L1789.9 388.4L1790.5 325.3L1791.5 388.4L1792.6 451.6L1794.0 514.8L1795.7 577.9L1797.4 641.0L1798.7 691.6L1800.0 735.8L1801.7 773.7L1805.9 805.2L1809.2 830.5L1814.0 852.6L1818.6 871.5L1824.9 887.3L1831.7 900.0L1839.2 911.3L1846.2 919.3L1858.5 920.6L1872.6 930.6L1888.2 939.4L1901.9 941.3L1934.8 946.5L1965.8 951.8L1996.7 952.2" stroke="#00f400" stroke-width="2.1"/>
<path d="M1624.3 953.7L1649.5 950.0L1674.7 947.8L1701.5 941.0L1712.6 937.6L1725.4 936.2L1736.8 931.4L1746.9 923.9L1752.6 911.3L1758.6 900.0L1764.2 887.3L1769.3 871.5L1773.1 852.6L1777.0 830.5L1779.7 805.2L1783.1 773.7L1784.5 735.8L1785.5 691.6L1786.6 641.0L1788.0 577.9L1789.3 514.8L1790.5 451.6L1791.4 388.4L1792.2 325.3L1793.0 388.4L1793.7 451.6L1794.8 514.8L1796.0 577.9L1797.2 641.0L1798.2 691.6L1799.1 735.8L1800.3 773.7L1803.3 805.2L1805.8 830.5L1809.2 852.6L1812.5 871.5L1817.1 887.3L1822.1 900.0L1827.4 911.3L1832.5 923.2L1841.4 923.7L1851.6 931.0L1862.9 934.8L1872.8 943.8L1896.6 947.1L1919.0 951.8L1941.4 949.6" stroke="#00f200" stroke-width="2.1"/>
<path d="M1618.2 950.0L1643.7 949.8L1669.3 943.4L1696.4 945.4L1707.7 938.7L1720.7 935.6L1732.2 931.8L1742.4 920.3L1748.2 911.3L1754.4 900.0L1760.0 887.3L1765.2 871.5L1769.0 852.6L1772.9 830.5L1775.7 805.2L1779.2 773.7L1780.6 735.8L1781.6 691.6L1782.7 641.0L1784.1 577.9L1785.5 514.8L1786.7 451.6L1787.5 388.4L1788.4 325.3L1789.3 388.4L1790.1 451.6L1791.4 514.8L1792.8 577.9L1794.2 641.0L1795.4 691.6L1796.4 735.8L1797.8 773.7L1801.4 805.2L1804.3 830.5L1808.3 852.6L1812.2 871.5L1817.5 887.3L1823.3 900.0L1829.6 911.3L1835.5 918.2L1846.0 925.0L1857.9 932.5L1871.2 945.6L1882.8 943.0L1910.6 946.6L1936.8 954.1L1963.0 949.1" stroke="#00f500" stroke-width="2.1"/>
<path d="M1652.0 955.4L1673.0 953.7L1693.9 946.4L1716.2 941.3L1725.5 939.7L1736.2 930.7L1745.7 926.4L1754.1 918.4L1758.8 911.3L1763.9 900.0L1768.5 887.3L1772.8 871.5L1775.9 852.6L1779.1 830.5L1781.4 805.2L1784.3 773.7L1785.4 735.8L1786.2 691.6L1787.2 641.0L1788.3 577.9L1789.4 514.8L1790.4 451.6L1791.1 388.4L1791.8 325.3L1792.6 388.4L1793.4 451.6L1794.5 514.8L1795.7 577.9L1797.0 641.0L1798.0 691.6L1798.9 735.8L1800.2 773.7L1803.3 805.2L1805.9 830.5L1809.4 852.6L1812.9 871.5L1817.5 887.3L1822.7 900.0L1828.3 911.3L1833.5 917.0L1842.8 930.2L1853.3 937.2L1865.0 938.4L1875.3 942.5L1899.9 949.3L1923.1 950.3L1946.2 956.8" stroke="#00f300" stroke-width="2.1"/>
<path d="M1582.4 956.8L1613.7 949.6L1644.9 950.2L1678.1 939.2L1692.0 939.7L1707.8 935.8L1722.0 922.7L1734.5 919.7L1741.6 911.3L1749.1 900.0L1756.0 887.3L1762.3 871.5L1767.0 852.6L1771.8 830.5L1775.2 805.2L1779.4 773.7L1781.2 735.8L1782.4 691.6L1783.8 641.0L1785.5 577.9L1787.1 514.8L1788.6 451.6L1789.7 388.4L1790.7 325.3L1791.6 388.4L1792.5 451.6L1793.8 514.8L1795.2 577.9L1796.8 641.0L1798.0 691.6L1799.0 735.8L1800.5 773.7L1804.2 805.2L1807.2 830.5L1811.3 852.6L1815.4 871.5L1820.9 887.3L1827.0 900.0L1833.5 911.3L1839.7 919.1L1850.6 931.5L1862.9 931.8L1876.7 939.9L1888.8 944.4L1917.7 950.7L1944.9 949.7L1972.2 956.1" stroke="#00f400" stroke-width="2.1"/>
<path d="M1684.3 953.3L1700.8 947.4L1717.3 950.2L1734.8 949.1L1742.2 937.2L1750.5 939.5L1758.0 926.7L1764.6 924.7L1768.3 911.3L1772.3 900.0L1775.9 887.3L1779.3 871.5L1781.7 852.6L1784.3 830.5L1786.1 805.2L1788.3 773.7L1789.2 735.8L1789.9 691.6L1790.6 641.0L1791.5 577.9L1792.4 514.8L1793.1 451.6L1793.7 388.4L1794.2 325.3L1795.0 388.4L1795.8 451.6L1796.8 514.8L1798.0 577.9L1799.3 641.0L1800.3 691.6L1801.2 735.8L1802.4 773.7L1805.5 805.2L1808.0 830.5L1811.4 852.6L1814.8 871.5L1819.4 887.3L1824.4 900.0L1829.9 911.3L1835.0 921.0L1844.0 929.2L1854.3 934.8L1865.8 935.1L1875.8 936.9L1899.9 944.9L1922.5 948.0L1945.2 956.6" stroke="#00f100" stroke-width="2.1"/>
<path d="M1654.7 948.8L1675.8 950.9L1696.8 947.1L1719.3 949.1L1728.6 942.2L1739.3 930.1L1748.8 924.0L1757.3 915.6L1762.1 911.3L1767.1 900.0L1771.8 887.3L1776.1 871.5L1779.2 852.6L1782.5 830.5L1784.8 805.2L1787.6 773.7L1788.8 735.8L1789.6 691.6L1790.5 641.0L1791.7 577.9L1792.8 514.8L1793.8 451.6L1794.5 388.4L1795.2 325.3L1796.0 388.4L1796.7 451.6L1797.7 514.8L1798.9 577.9L1800.1 641.0L1801.1 691.6L1801.9 735.8L1803.1 773.7L1806.1 805.2L1808.5 830.5L1811.9 852.6L1815.2 871.5L1819.6 887.3L1824.5 900.0L1829.8 911.3L1834.8 922.5L1843.5 923.7L1853.5 934.1L1864.6 939.6L1874.3 947.8L1897.7 949.8L1919.6 950.8L1941.6 950.4" stroke="#00f000" stroke-width="2.1"/>
<path d="M1661.5 951.9L1681.5 949.3L1701.6 943.7L1722.9 946.4L1731.8 938.5L1741.9 929.9L1751.0 931.1L1759.0 923.3L1763.6 911.3L1768.4 900.0L1772.8 887.3L1776.9 871.5L1779.9 852.6L1782.9 830.5L1785.1 805.2L1787.9 773.7L1789.0 735.8L1789.7 691.6L1790.6 641.0L1791.7 577.9L1792.8 514.8L1793.7 451.6L1794.4 388.4L1795.1 325.3L1796.1 388.4L1797.2 451.6L1798.7 514.8L1800.3 577.9L1802.0 641.0L1803.4 691.6L1804.6 735.8L1806.4 773.7L1810.6 805.2L1814.1 830.5L1818.8 852.6L1823.5 871.5L1829.9 887.3L1836.8 900.0L1844.3 911.3L1851.4 920.9L1864.0 927.5L1878.2 936.0L1894.0 941.4L1907.9 946.7L1941.2 941.4L1972.5 952.3L2003.8 954.5" stroke="#00f000" stroke-width="2.1"/>
<path d="M1590.9 954.5L1622.1 946.2L1653.3 949.7L1685.3 947.1L1699.3 938.9L1714.9 934.4L1728.9 928.9L1741.3 921.2L1748.6 911.3L1756.3 900.0L1763.4 887.3L1769.7 871.5L1774.2 852.6L1778.8 830.5L1782.1 805.2L1786.2 773.7L1787.9 735.8L1789.1 691.6L1790.4 641.0L1792.1 577.9L1793.7 514.8L1795.2 451.6L1796.2 388.4L1797.2 325.3L1797.9 388.4L1798.6 451.6L1799.7 514.8L1800.8 577.9L1802.0 641.0L1802.9 691.6L1803.8 735.8L1805.1 773.7L1807.9 805.2L1810.2 830.5L1813.4 852.6L1816.6 871.5L1820.9 887.3L1825.4 900.0L1830.5 911.3L1835.3 924.5L1843.5 931.3L1852.9 936.5L1863.4 938.0L1872.6 945.6L1894.5 945.4L1915.2 948.3L1935.9 949.9" stroke="#3ef700" stroke-width="2.1"/>
<path d="M1667.3 956.8L1686.4 952.3L1705.5 947.1L1725.8 943.0L1734.3 940.8L1743.9 933.8L1752.6 927.3L1760.2 916.2L1764.6 911.3L1769.1 900.0L1773.4 887.3L1777.3 871.5L1780.1 852.6L1783.0 830.5L1785.1 805.2L1787.7 773.7L1788.8 735.8L1789.5 691.6L1790.4 641.0L1791.4 577.9L1792.4 514.8L1793.3 451.6L1794.0 388.4L1794.6 325.3L1795.6 388.4L1796.7 451.6L1798.1 514.8L1799.7 577.9L1801.5 641.0L1802.8 691.6L1804.0 735.8L1805.7 773.7L1809.9 805.2L1813.3 830.5L1818.0 852.6L1822.6 871.5L1828.9 887.3L1835.7 900.0L1843.1 911.3L1850.1 922.8L1862.4 928.3L1876.4 937.8L1892.0 937.9L1905.7 940.5L1938.5 941.4L1969.3 949.8L2000.2 956.8" stroke="#00f100" stroke-width="2.1"/>
<path d="M1610.7 955.8L1639.6 950.6L1668.6 940.6L1696.6 943.8L1709.8 941.4L1723.9 932.4L1736.7 929.0L1748.2 921.1L1755.4 911.3L1762.9 900.0L1769.5 887.3L1775.4 871.5L1779.4 852.6L1783.5 830.5L1786.3 805.2L1790.0 773.7L1791.4 735.8L1792.5 691.6L1793.7 641.0L1795.2 577.9L1796.6 514.8L1797.9 451.6L1798.8 388.4L1799.7 325.3L1800.9 388.4L1802.0 451.6L1803.8 514.8L1805.6 577.9L1807.5 641.0L1809.1 691.6L1810.8 735.8L1813.0 773.7L1817.4 805.2L1821.3 830.5L1826.3 852.6L1831.6 871.5L1838.2 887.3L1845.2 900.0L1853.5 911.3L1861.0 921.5L1873.3 925.8L1887.9 935.5L1904.1 938.4L1918.3 940.9L1952.1 945.2L1983.9 950.9L2015.6 955.9" stroke="#8aff00" stroke-width="2.1"/>
<path d="M1687.9 951.7L1704.5 946.2L1721.0 950.4L1737.8 941.7L1745.2 935.4L1753.4 929.5L1760.9 923.6L1767.5 920.7L1771.4 911.3L1775.6 900.0L1779.3 887.3L1782.7 871.5L1785.1 852.6L1787.5 830.5L1789.2 805.2L1791.3 773.7L1792.2 735.8L1792.8 691.6L1793.5 641.0L1794.4 577.9L1795.3 514.8L1796.0 451.6L1796.6 388.4L1797.1 325.3L1797.9 388.4L1798.6 451.6L1799.7 514.8L1800.9 577.9L1802.2 641.0L1803.2 691.6L1804.2 735.8L1805.6 773.7L1808.6 805.2L1811.1 830.5L1814.5 852.6L1818.0 871.5L1822.4 887.3L1827.2 900.0L1832.7 911.3L1837.7 923.3L1846.3 926.5L1856.2 932.1L1867.3 939.7L1877.0 936.7L1900.1 944.4L1921.9 949.4L1943.6 950.4" stroke="#3af700" stroke-width="2.1"/>
<path d="M1606.2 956.8L1635.4 948.6L1664.6 946.3L1694.0 943.8L1707.2 937.2L1721.6 928.9L1734.7 926.6L1746.3 920.5L1753.3 911.3L1760.6 900.0L1767.2 887.3L1773.1 871.5L1777.3 852.6L1781.5 830.5L1784.6 805.2L1788.4 773.7L1789.9 735.8L1791.0 691.6L1792.2 641.0L1793.8 577.9L1795.3 514.8L1796.6 451.6L1797.6 388.4L1798.5 325.3L1799.3 388.4L1800.2 451.6L1801.4 514.8L1802.8 577.9L1804.2 641.0L1805.3 691.6L1806.4 735.8L1808.0 773.7L1811.3 805.2L1814.1 830.5L1817.8 852.6L1821.7 871.5L1826.6 887.3L1831.9 900.0L1838.0 911.3L1843.6 919.8L1853.0 931.4L1863.9 931.1L1876.2 940.0L1886.9 942.1L1912.4 951.7L1936.3 942.9L1960.3 951.1" stroke="#69fc00" stroke-width="2.1"/>
<path d="M1658.6 954.8L1680.5 950.5L1702.4 947.6L1723.1 946.8L1733.2 941.5L1743.7 935.2L1753.4 928.8L1762.0 916.4L1767.6 911.3L1773.4 900.0L1778.4 887.3L1782.8 871.5L1785.8 852.6L1788.9 830.5L1791.0 805.2L1793.7 773.7L1794.8 735.8L1795.5 691.6L1796.4 641.0L1797.5 577.9L1798.6 514.8L1799.6 451.6L1800.3 388.4L1801.0 325.3L1802.0 388.4L1803.1 451.6L1804.7 514.8L1806.4 577.9L1808.2 641.0L1809.6 691.6L1811.3 735.8L1813.4 773.7L1817.4 805.2L1821.0 830.5L1825.5 852.6L1830.5 871.5L1836.4 887.3L1842.5 900.0L1850.1 911.3L1857.0 920.7L1867.7 927.5L1880.7 930.1L1895.1 936.9L1907.8 941.8L1937.7 954.0L1965.8 953.3L1994.0 949.6" stroke="#a1ff00" stroke-width="2.1"/>
<path d="M1695.8 952.0L1711.7 951.7L1727.5 947.3L1743.0 945.0L1750.2 939.0L1757.9 931.6L1765.0 927.9L1771.3 919.3L1775.2 911.3L1779.3 900.0L1783.0 887.3L1786.2 871.5L1788.4 852.6L1790.6 830.5L1792.2 805.2L1794.2 773.7L1795.0 735.8L1795.6 691.6L1796.2 641.0L1797.1 577.9L1797.8 514.8L1798.6 451.6L1799.1 388.4L1799.6 325.3L1800.3 388.4L1801.0 451.6L1802.1 514.8L1803.2 577.9L1804.4 641.0L1805.3 691.6L1806.4 735.8L1807.8 773.7L1810.5 805.2L1812.9 830.5L1815.9 852.6L1819.2 871.5L1823.2 887.3L1827.4 900.0L1832.5 911.3L1837.1 922.5L1844.4 924.6L1853.2 934.1L1863.0 939.4L1871.5 938.5L1891.8 950.3L1910.9 948.6L1930.0 954.0" stroke="#87ff00" stroke-width="2.1"/>
<path d="M1639.5 954.1L1664.4 950.9L1689.4 949.6L1712.7 941.6L1724.1 937.4L1736.1 934.0L1747.1 924.6L1756.9 921.4L1763.3 911.3L1769.9 900.0L1775.7 887.3L1780.7 871.5L1784.1 852.6L1787.5 830.5L1789.9 805.2L1792.9 773.7L1794.2 735.8L1795.0 691.6L1796.0 641.0L1797.3 577.9L1798.5 514.8L1799.6 451.6L1800.4 388.4L1801.1 325.3L1801.9 388.4L1802.6 451.6L1803.7 514.8L1804.8 577.9L1806.0 641.0L1806.9 691.6L1808.1 735.8L1809.6 773.7L1812.2 805.2L1814.6 830.5L1817.7 852.6L1821.0 871.5L1824.9 887.3L1829.0 900.0L1834.1 911.3L1838.7 919.2L1845.7 926.1L1854.3 928.5L1863.9 940.0L1872.3 942.5L1892.1 947.1L1910.7 955.6L1929.3 954.4" stroke="#a5ff00" stroke-width="2.1"/>
<path d="M1680.3 956.3L1699.4 956.2L1718.5 946.8L1735.1 944.5L1744.1 940.4L1753.0 930.7L1761.3 930.9L1768.7 923.1L1773.9 911.3L1779.2 900.0L1783.8 887.3L1787.6 871.5L1790.1 852.6L1792.5 830.5L1794.2 805.2L1796.4 773.7L1797.3 735.8L1797.9 691.6L1798.7 641.0L1799.6 577.9L1800.4 514.8L1801.3 451.6L1801.8 388.4L1802.4 325.3L1803.5 388.4L1804.5 451.6L1806.2 514.8L1807.8 577.9L1809.6 641.0L1810.9 691.6L1812.9 735.8L1815.1 773.7L1818.8 805.2L1822.5 830.5L1826.8 852.6L1831.8 871.5L1837.4 887.3L1843.0 900.0L1850.6 911.3L1857.2 918.5L1866.9 928.3L1879.1 935.9L1892.7 936.3L1904.5 944.3L1932.5 944.6L1958.7 952.6L1985.0 956.5" stroke="#bdff00" stroke-width="2.1"/>
<path d="M1645.3 953.2L1669.9 947.6L1694.4 949.4L1716.1 942.8L1727.5 939.3L1739.1 933.2L1749.7 927.4L1759.3 919.1L1766.0 911.3L1772.7 900.0L1778.6 887.3L1783.5 871.5L1786.6 852.6L1789.8 830.5L1792.1 805.2L1794.9 773.7L1796.0 735.8L1796.9 691.6L1797.8 641.0L1799.0 577.9L1800.1 514.8L1801.2 451.6L1801.9 388.4L1802.7 325.3L1803.6 388.4L1804.5 451.6L1805.9 514.8L1807.4 577.9L1808.9 641.0L1810.1 691.6L1811.7 735.8L1813.5 773.7L1816.9 805.2L1820.0 830.5L1824.0 852.6L1828.2 871.5L1833.3 887.3L1838.5 900.0L1845.1 911.3L1851.0 922.1L1860.1 923.5L1871.2 935.7L1883.5 941.5L1894.3 941.3L1919.9 947.9L1943.9 951.8L1967.9 956.3" stroke="#c2ff00" stroke-width="2.1"/>
<path d="M1677.4 951.4L1697.1 951.1L1716.8 947.6L1734.2 942.0L1743.3 935.5L1752.6 928.9L1761.2 926.1L1768.9 921.6L1774.2 911.3L1779.6 900.0L1784.3 887.3L1788.3 871.5L1790.8 852.6L1793.4 830.5L1795.2 805.2L1797.4 773.7L1798.3 735.8L1799.0 691.6L1799.8 641.0L1800.7 577.9L1801.6 514.8L1802.5 451.6L1803.0 388.4L1803.6 325.3L1804.7 388.4L1805.7 451.6L1807.4 514.8L1809.1 577.9L1810.8 641.0L1812.1 691.6L1814.0 735.8L1816.2 773.7L1820.0 805.2L1823.5 830.5L1827.9 852.6L1832.8 871.5L1838.5 887.3L1844.2 900.0L1851.7 911.3L1858.4 920.6L1868.2 927.3L1880.6 933.5L1894.3 938.4L1906.2 947.2L1934.5 947.5L1961.0 955.9L1987.5 954.6" stroke="#d1fe00" stroke-width="2.1"/>
<path d="M1595.2 956.8L1628.4 948.5L1661.7 945.2L1688.9 946.2L1704.6 939.3L1719.8 935.5L1734.0 927.4L1746.9 922.5L1756.4 911.3L1766.0 900.0L1774.1 887.3L1780.7 871.5L1784.7 852.6L1788.8 830.5L1791.6 805.2L1795.1 773.7L1796.6 735.8L1797.7 691.6L1798.9 641.0L1800.4 577.9L1801.9 514.8L1803.2 451.6L1804.2 388.4L1805.2 325.3L1805.9 388.4L1806.6 451.6L1807.8 514.8L1809.0 577.9L1810.2 641.0L1811.1 691.6L1812.4 735.8L1814.0 773.7L1816.6 805.2L1819.1 830.5L1822.2 852.6L1825.7 871.5L1829.6 887.3L1833.7 900.0L1839.0 911.3L1843.6 919.4L1850.6 928.7L1859.3 936.2L1868.9 936.1L1877.3 939.7L1897.2 948.5L1915.9 954.2L1934.5 956.8" stroke="#e7fc00" stroke-width="2.1"/>
<path d="M1667.8 956.8L1689.5 952.8L1711.2 949.8L1729.9 942.0L1740.1 941.7L1750.2 937.0L1759.5 929.4L1768.0 918.9L1773.9 911.3L1779.9 900.0L1785.1 887.3L1789.4 871.5L1792.2 852.6L1794.9 830.5L1796.9 805.2L1799.3 773.7L1800.3 735.8L1801.1 691.6L1801.9 641.0L1802.9 577.9L1803.9 514.8L1804.8 451.6L1805.5 388.4L1806.1 325.3L1806.9 388.4L1807.7 451.6L1809.0 514.8L1810.3 577.9L1811.6 641.0L1812.6 691.6L1814.1 735.8L1815.9 773.7L1818.7 805.2L1821.5 830.5L1824.8 852.6L1828.6 871.5L1832.8 887.3L1837.0 900.0L1842.7 911.3L1847.8 923.8L1855.0 928.8L1864.1 937.5L1874.3 939.1L1883.2 942.1L1904.1 949.3L1923.8 949.3L1943.5 950.5" stroke="#f5fb00" stroke-width="2.1"/>
<path d="M1629.1 952.9L1657.0 948.8L1685.0 945.4L1708.7 945.9L1721.9 938.7L1734.8 934.3L1746.9 924.6L1757.8 917.5L1765.5 911.3L1773.4 900.0L1780.2 887.3L1785.7 871.5L1789.2 852.6L1792.7 830.5L1795.2 805.2L1798.3 773.7L1799.6 735.8L1800.5 691.6L1801.5 641.0L1802.8 577.9L1804.1 514.8L1805.3 451.6L1806.1 388.4L1806.9 325.3L1807.8 388.4L1808.7 451.6L1810.1 514.8L1811.6 577.9L1813.0 641.0L1814.2 691.6L1816.0 735.8L1818.1 773.7L1821.1 805.2L1824.2 830.5L1827.7 852.6L1831.9 871.5L1836.4 887.3L1840.8 900.0L1847.1 911.3L1852.5 919.8L1859.7 924.6L1869.4 930.4L1880.0 938.9L1889.3 944.3L1911.0 950.6L1931.4 949.6L1951.8 956.8" stroke="#fff900" stroke-width="2.1"/>
<path d="M1697.0 950.6L1714.7 951.2L1732.4 949.4L1746.6 945.1L1755.0 937.1L1763.1 932.3L1770.6 925.5L1777.5 918.5L1782.6 911.3L1787.7 900.0L1792.1 887.3L1795.6 871.5L1797.7 852.6L1799.8 830.5L1801.3 805.2L1803.1 773.7L1803.9 735.8L1804.5 691.6L1805.1 641.0L1805.9 577.9L1806.7 514.8L1807.4 451.6L1807.9 388.4L1808.4 325.3L1809.4 388.4L1810.4 451.6L1812.0 514.8L1813.6 577.9L1815.3 641.0L1816.6 691.6L1818.5 735.8L1820.8 773.7L1824.2 805.2L1827.7 830.5L1831.8 852.6L1836.5 871.5L1841.7 887.3L1846.9 900.0L1854.0 911.3L1860.2 921.8L1868.9 932.4L1880.2 934.7L1892.7 941.5L1903.6 937.9L1929.1 949.1L1953.1 953.1L1977.1 949.3" stroke="#ffe600" stroke-width="2.1"/>
<path d="M1662.3 952.7L1685.5 949.3L1708.6 945.3L1727.5 943.4L1738.5 940.8L1749.1 937.6L1759.0 928.2L1767.9 917.3L1774.5 911.3L1781.2 900.0L1786.8 887.3L1791.4 871.5L1794.2 852.6L1797.0 830.5L1799.0 805.2L1801.5 773.7L1802.5 735.8L1803.2 691.6L1804.1 641.0L1805.1 577.9L1806.2 514.8L1807.1 451.6L1807.8 388.4L1808.5 325.3L1809.8 388.4L1811.2 451.6L1813.5 514.8L1815.8 577.9L1818.0 641.0L1819.8 691.6L1822.8 735.8L1826.0 773.7L1830.7 805.2L1835.5 830.5L1841.1 852.6L1847.7 871.5L1854.7 887.3L1861.3 900.0L1871.2 911.3L1879.7 922.4L1890.7 931.2L1905.6 931.6L1922.1 933.4L1936.5 945.2L1970.0 942.8L2001.5 953.6L2032.9 950.2" stroke="#ffe600" stroke-width="2.1"/>
<path d="M1647.9 956.3L1674.1 952.9L1700.3 944.7L1719.1 941.3L1731.9 943.1L1743.3 931.2L1754.3 927.0L1764.3 921.1L1772.4 911.3L1780.5 900.0L1787.1 887.3L1792.2 871.5L1795.1 852.6L1798.0 830.5L1800.0 805.2L1802.4 773.7L1803.5 735.8L1804.2 691.6L1805.1 641.0L1806.2 577.9L1807.3 514.8L1808.3 451.6L1809.0 388.4L1809.7 325.3L1810.6 388.4L1811.4 451.6L1812.8 514.8L1814.2 577.9L1815.6 641.0L1816.7 691.6L1818.4 735.8L1820.4 773.7L1823.3 805.2L1826.3 830.5L1829.7 852.6L1833.8 871.5L1838.1 887.3L1842.3 900.0L1848.4 911.3L1853.6 922.1L1860.6 927.5L1869.9 932.3L1880.2 938.1L1889.2 942.4L1910.2 948.7L1929.9 948.1L1949.6 956.8" stroke="#ffd600" stroke-width="2.1"/>
<path d="M1568.4 950.1L1608.8 949.9L1649.2 942.7L1674.9 943.7L1694.9 941.8L1711.9 932.2L1728.4 926.8L1743.7 923.1L1756.9 911.3L1770.0 900.0L1780.4 887.3L1788.3 871.5L1792.3 852.6L1796.4 830.5L1799.1 805.2L1802.5 773.7L1804.0 735.8L1805.0 691.6L1806.3 641.0L1807.8 577.9L1809.4 514.8L1810.8 451.6L1811.9 388.4L1812.9 325.3L1814.4 388.4L1815.8 451.6L1818.2 514.8L1820.6 577.9L1822.9 641.0L1824.7 691.6L1828.2 735.8L1831.9 773.7L1836.3 805.2L1841.4 830.5L1846.8 852.6L1853.7 871.5L1860.3 887.3L1866.2 900.0L1876.3 911.3L1884.6 921.1L1893.9 933.6L1907.7 937.1L1922.9 937.4L1936.2 947.4L1966.6 949.5L1995.2 950.0L2023.7 954.8" stroke="#ffab00" stroke-width="2.1"/>
<path d="M1589.0 956.1L1626.4 950.0L1663.7 948.8L1686.6 940.7L1705.2 937.3L1720.7 933.2L1735.9 927.5L1750.0 915.4L1762.5 911.3L1774.7 900.0L1784.4 887.3L1791.7 871.5L1795.3 852.6L1798.9 830.5L1801.4 805.2L1804.4 773.7L1805.7 735.8L1806.7 691.6L1807.8 641.0L1809.2 577.9L1810.6 514.8L1812.0 451.6L1812.9 388.4L1813.8 325.3L1815.2 388.4L1816.6 451.6L1818.9 514.8L1821.1 577.9L1823.3 641.0L1825.0 691.6L1828.2 735.8L1831.5 773.7L1835.9 805.2L1840.7 830.5L1846.0 852.6L1852.6 871.5L1859.2 887.3L1865.4 900.0L1875.1 911.3L1883.2 919.4L1893.2 922.1L1907.3 936.1L1922.7 942.1L1936.2 940.5L1967.5 948.9L1996.9 950.4L2026.3 952.2" stroke="#ff9d00" stroke-width="2.1"/>
<path d="M1688.5 951.1L1708.4 951.2L1728.3 944.7L1741.9 943.4L1751.6 938.2L1760.2 937.5L1768.4 928.2L1776.0 923.3L1782.2 911.3L1788.5 900.0L1793.5 887.3L1797.4 871.5L1799.5 852.6L1801.6 830.5L1803.1 805.2L1804.8 773.7L1805.6 735.8L1806.2 691.6L1806.8 641.0L1807.6 577.9L1808.4 514.8L1809.2 451.6L1809.7 388.4L1810.2 325.3L1811.6 388.4L1812.9 451.6L1815.2 514.8L1817.4 577.9L1819.6 641.0L1821.3 691.6L1824.3 735.8L1827.6 773.7L1832.0 805.2L1836.8 830.5L1842.2 852.6L1848.7 871.5L1855.3 887.3L1861.6 900.0L1871.3 911.3L1879.5 918.7L1889.8 929.4L1904.1 937.1L1919.8 941.6L1933.5 940.9L1965.4 943.4L1995.4 953.2L2025.3 952.9" stroke="#ffd000" stroke-width="2.1"/>
<path d="M1616.5 955.4L1649.8 951.3L1683.1 948.0L1702.8 941.0L1719.5 934.7L1733.1 931.6L1746.6 927.2L1759.1 918.9L1770.4 911.3L1781.4 900.0L1790.2 887.3L1796.6 871.5L1799.8 852.6L1802.9 830.5L1805.0 805.2L1807.7 773.7L1808.8 735.8L1809.7 691.6L1810.6 641.0L1811.9 577.9L1813.1 514.8L1814.2 451.6L1815.1 388.4L1815.9 325.3L1817.1 388.4L1818.2 451.6L1820.1 514.8L1822.0 577.9L1823.9 641.0L1825.3 691.6L1828.1 735.8L1831.0 773.7L1834.6 805.2L1838.7 830.5L1843.0 852.6L1848.6 871.5L1853.9 887.3L1858.8 900.0L1866.9 911.3L1873.6 919.2L1881.3 927.2L1892.6 935.4L1905.0 939.4L1915.8 943.8L1940.7 942.2L1964.1 953.7L1987.5 954.4" stroke="#ff7f00" stroke-width="2.1"/>
<path d="M1628.2 953.0L1659.6 953.9L1691.1 946.0L1711.0 949.4L1726.6 939.2L1739.8 933.3L1752.6 929.5L1764.5 918.5L1774.9 911.3L1785.0 900.0L1793.2 887.3L1799.3 871.5L1802.4 852.6L1805.6 830.5L1807.7 805.2L1810.3 773.7L1811.4 735.8L1812.3 691.6L1813.3 641.0L1814.5 577.9L1815.6 514.8L1816.8 451.6L1817.6 388.4L1818.4 325.3L1820.1 388.4L1821.8 451.6L1824.7 514.8L1827.4 577.9L1830.1 641.0L1832.2 691.6L1836.5 735.8L1840.9 773.7L1845.9 805.2L1852.0 830.5L1858.2 852.6L1866.4 871.5L1873.9 887.3L1880.5 900.0L1892.4 911.3L1902.0 915.6L1912.2 926.2L1927.9 936.6L1945.1 939.8L1960.1 942.0L1994.5 948.4L2026.7 946.7L2058.9 951.1" stroke="#ff5d00" stroke-width="2.1"/>
<path d="M1617.3 950.3L1650.3 952.0L1683.4 948.8L1705.0 944.8L1721.3 938.3L1735.3 934.5L1748.9 924.9L1761.5 920.4L1772.1 911.3L1782.7 900.0L1791.2 887.3L1797.6 871.5L1801.0 852.6L1804.4 830.5L1806.7 805.2L1809.6 773.7L1810.8 735.8L1811.7 691.6L1812.7 641.0L1814.0 577.9L1815.3 514.8L1816.5 451.6L1817.4 388.4L1818.2 325.3L1819.9 388.4L1821.5 451.6L1824.4 514.8L1827.1 577.9L1829.7 641.0L1831.8 691.6L1836.0 735.8L1840.2 773.7L1845.2 805.2L1851.1 830.5L1857.2 852.6L1865.2 871.5L1872.6 887.3L1879.1 900.0L1890.7 911.3L1900.1 920.2L1910.2 927.4L1925.7 934.8L1942.6 941.4L1957.4 943.7L1991.2 947.6L2023.0 945.4L2054.7 952.5" stroke="#ff5f00" stroke-width="2.1"/>
<path d="M1661.0 956.8L1687.1 953.3L1713.3 945.0L1728.3 944.4L1741.5 941.6L1752.1 936.3L1762.7 927.8L1772.5 919.4L1781.4 911.3L1790.2 900.0L1797.1 887.3L1802.2 871.5L1804.6 852.6L1807.0 830.5L1808.6 805.2L1810.6 773.7L1811.5 735.8L1812.2 691.6L1812.9 641.0L1813.9 577.9L1814.8 514.8L1815.7 451.6L1816.4 388.4L1817.0 325.3L1818.4 388.4L1819.8 451.6L1822.1 514.8L1824.3 577.9L1826.5 641.0L1828.3 691.6L1831.4 735.8L1834.7 773.7L1839.2 805.2L1844.1 830.5L1849.4 852.6L1856.0 871.5L1862.7 887.3L1868.9 900.0L1878.7 911.3L1886.9 916.6L1897.1 922.4L1911.2 932.3L1926.8 934.5L1940.5 943.7L1972.1 944.2L2001.8 951.4L2031.5 953.3" stroke="#ff7000" stroke-width="2.1"/>
<path d="M1584.5 956.8L1624.1 949.5L1663.6 947.1L1684.6 946.2L1704.7 941.5L1720.4 935.1L1736.2 932.6L1750.9 918.8L1764.9 911.3L1778.5 900.0L1789.1 887.3L1796.7 871.5L1800.2 852.6L1803.6 830.5L1805.9 805.2L1808.7 773.7L1809.9 735.8L1810.9 691.6L1812.0 641.0L1813.3 577.9L1814.7 514.8L1816.0 451.6L1817.0 388.4L1817.9 325.3L1819.0 388.4L1820.0 451.6L1821.8 514.8L1823.6 577.9L1825.2 641.0L1826.6 691.6L1829.2 735.8L1831.9 773.7L1835.2 805.2L1839.0 830.5L1842.9 852.6L1848.1 871.5L1852.9 887.3L1857.3 900.0L1864.8 911.3L1870.9 916.3L1877.7 928.0L1887.9 932.8L1899.1 939.5L1908.9 941.8L1931.3 947.7L1952.4 951.1L1973.4 952.1" stroke="#ff6400" stroke-width="2.1"/>
<path d="M1589.1 952.1L1627.3 952.2L1665.5 950.4L1689.2 943.5L1708.2 940.4L1724.1 937.0L1739.7 924.2L1754.1 922.1L1766.8 911.3L1779.2 900.0L1789.2 887.3L1796.6 871.5L1800.4 852.6L1804.1 830.5L1806.6 805.2L1809.7 773.7L1811.1 735.8L1812.1 691.6L1813.3 641.0L1814.7 577.9L1816.1 514.8L1817.5 451.6L1818.5 388.4L1819.4 325.3L1820.3 388.4L1821.2 451.6L1822.7 514.8L1824.1 577.9L1825.5 641.0L1826.7 691.6L1828.8 735.8L1831.0 773.7L1833.7 805.2L1836.9 830.5L1840.2 852.6L1844.5 871.5L1848.6 887.3L1852.4 900.0L1858.6 911.3L1863.8 916.3L1869.7 929.6L1878.5 935.7L1888.0 943.1L1896.4 946.8L1915.6 945.0L1933.7 950.7L1951.8 951.6" stroke="#ff4e00" stroke-width="2.1"/>
<path d="M1622.8 955.3L1655.5 950.2L1688.1 946.9L1708.3 946.8L1724.5 940.5L1738.1 929.4L1751.4 925.9L1763.7 923.0L1774.5 911.3L1785.1 900.0L1793.6 887.3L1800.0 871.5L1803.2 852.6L1806.4 830.5L1808.5 805.2L1811.2 773.7L1812.3 735.8L1813.2 691.6L1814.2 641.0L1815.4 577.9L1816.6 514.8L1817.8 451.6L1818.6 388.4L1819.5 325.3L1821.0 388.4L1822.5 451.6L1825.1 514.8L1827.6 577.9L1830.0 641.0L1831.9 691.6L1836.1 735.8L1840.2 773.7L1844.5 805.2L1849.9 830.5L1855.3 852.6L1862.7 871.5L1869.1 887.3L1874.4 900.0L1884.9 911.3L1893.3 920.2L1901.1 926.5L1914.2 930.6L1928.5 939.3L1940.9 942.9L1969.1 940.5L1995.5 955.8L2021.8 953.4" stroke="#ff4e00" stroke-width="2.1"/>
<path d="M1601.8 950.9L1637.5 953.3L1673.1 948.3L1696.9 943.7L1714.4 937.5L1729.6 937.6L1744.2 929.1L1757.8 922.4L1769.2 911.3L1780.5 900.0L1789.6 887.3L1796.6 871.5L1800.3 852.6L1804.0 830.5L1806.5 805.2L1809.6 773.7L1810.9 735.8L1811.9 691.6L1813.1 641.0L1814.5 577.9L1815.9 514.8L1817.2 451.6L1818.1 388.4L1819.1 325.3L1819.9 388.4L1820.8 451.6L1822.2 514.8L1823.6 577.9L1825.0 641.0L1826.0 691.6L1828.2 735.8L1830.3 773.7L1832.9 805.2L1836.0 830.5L1839.1 852.6L1843.2 871.5L1847.1 887.3L1850.6 900.0L1856.6 911.3L1861.5 918.2L1866.9 929.0L1875.0 936.1L1883.9 943.2L1891.7 941.7L1909.5 946.7L1926.3 947.2L1943.0 953.0" stroke="#ff5400" stroke-width="2.1"/>
<path d="M1688.2 953.2L1709.7 956.5L1731.2 946.4L1745.5 946.4L1756.1 936.7L1765.2 933.0L1774.1 928.2L1782.3 917.0L1789.2 911.3L1796.0 900.0L1801.5 887.3L1805.7 871.5L1808.0 852.6L1810.2 830.5L1811.7 805.2L1813.6 773.7L1814.4 735.8L1815.0 691.6L1815.7 641.0L1816.5 577.9L1817.4 514.8L1818.2 451.6L1818.7 388.4L1819.3 325.3L1820.7 388.4L1822.1 451.6L1824.5 514.8L1826.8 577.9L1829.1 641.0L1830.9 691.6L1834.4 735.8L1838.0 773.7L1842.3 805.2L1847.3 830.5L1852.6 852.6L1859.4 871.5L1865.8 887.3L1871.4 900.0L1881.4 911.3L1889.5 921.7L1898.3 927.7L1911.7 937.9L1926.3 935.8L1939.1 947.0L1968.4 949.0L1995.9 948.4L2023.4 954.8" stroke="#ff5000" stroke-width="2.1"/>
<path d="M1630.6 956.8L1663.8 952.9L1696.9 947.4L1714.4 942.3L1731.3 937.1L1744.5 929.9L1757.6 929.2L1770.0 922.1L1781.7 911.3L1793.1 900.0L1802.0 887.3L1808.3 871.5L1811.2 852.6L1814.1 830.5L1816.0 805.2L1818.4 773.7L1819.4 735.8L1820.2 691.6L1821.1 641.0L1822.2 577.9L1823.4 514.8L1824.5 451.6L1825.3 388.4L1826.1 325.3L1827.5 388.4L1828.9 451.6L1831.3 514.8L1833.6 577.9L1835.8 641.0L1837.5 691.6L1841.1 735.8L1844.8 773.7L1848.9 805.2L1854.0 830.5L1859.1 852.6L1865.9 871.5L1872.1 887.3L1877.5 900.0L1887.3 911.3L1895.3 919.2L1903.6 928.9L1916.6 931.9L1930.7 937.8L1943.1 939.9L1971.4 942.6L1997.9 951.1L2024.4 954.5" stroke="#ff0000" stroke-width="2.1"/>
<path d="M1677.8 956.6L1703.1 949.0L1728.4 950.7L1740.1 947.0L1753.1 940.8L1762.9 933.8L1772.8 927.6L1782.1 922.0L1791.5 911.3L1800.6 900.0L1807.5 887.3L1812.4 871.5L1814.4 852.6L1816.4 830.5L1817.6 805.2L1819.2 773.7L1819.9 735.8L1820.5 691.6L1821.1 641.0L1821.9 577.9L1822.7 514.8L1823.5 451.6L1824.1 388.4L1824.7 325.3L1826.2 388.4L1827.7 451.6L1830.4 514.8L1833.0 577.9L1835.4 641.0L1837.3 691.6L1841.6 735.8L1845.9 773.7L1850.1 805.2L1855.7 830.5L1861.1 852.6L1868.6 871.5L1875.0 887.3L1880.2 900.0L1891.0 911.3L1899.4 923.2L1906.9 932.1L1920.0 934.0L1934.2 941.7L1946.6 938.8L1974.5 943.4L2000.6 951.4L2026.7 951.0" stroke="#ff0800" stroke-width="2.1"/>
<path d="M1670.9 953.8L1697.7 949.0L1724.4 948.2L1737.7 943.9L1751.4 944.7L1761.9 928.8L1772.4 926.4L1782.4 915.1L1792.0 911.3L1801.4 900.0L1808.7 887.3L1813.8 871.5L1816.0 852.6L1818.2 830.5L1819.7 805.2L1821.5 773.7L1822.3 735.8L1822.9 691.6L1823.6 641.0L1824.5 577.9L1825.3 514.8L1826.2 451.6L1826.8 388.4L1827.5 325.3L1828.5 388.4L1829.5 451.6L1831.3 514.8L1833.0 577.9L1834.7 641.0L1836.0 691.6L1838.9 735.8L1841.8 773.7L1844.6 805.2L1848.4 830.5L1852.0 852.6L1857.1 871.5L1861.3 887.3L1864.7 900.0L1871.9 911.3L1877.5 921.6L1882.3 930.9L1890.9 935.9L1900.3 939.4L1908.4 938.7L1926.7 947.4L1943.8 946.5L1961.0 951.0" stroke="#fe0000" stroke-width="2.1"/>
<path d="M1592.7 953.0L1632.9 948.0L1673.1 945.5L1692.1 944.1L1712.8 939.4L1728.4 931.1L1744.2 924.7L1759.0 922.8L1773.8 911.3L1788.0 900.0L1799.0 887.3L1806.7 871.5L1809.9 852.6L1813.2 830.5L1815.2 805.2L1817.8 773.7L1819.0 735.8L1819.9 691.6L1820.9 641.0L1822.2 577.9L1823.5 514.8L1824.8 451.6L1825.7 388.4L1826.6 325.3L1827.9 388.4L1829.1 451.6L1831.2 514.8L1833.3 577.9L1835.2 641.0L1836.8 691.6L1840.0 735.8L1843.3 773.7L1846.9 805.2L1851.4 830.5L1855.9 852.6L1861.9 871.5L1867.3 887.3L1872.0 900.0L1880.6 911.3L1887.6 922.5L1894.7 931.3L1906.0 931.7L1918.3 941.1L1929.1 942.3L1953.5 946.6L1976.5 951.9L1999.4 956.8" stroke="#ff0000" stroke-width="2.1"/>
<path d="M1560.6 952.9L1606.9 946.5L1653.2 944.1L1673.7 942.7L1697.7 938.9L1715.4 927.8L1733.4 931.4L1750.4 927.3L1767.7 911.3L1784.4 900.0L1797.1 887.3L1806.0 871.5L1809.6 852.6L1813.1 830.5L1815.4 805.2L1818.2 773.7L1819.4 735.8L1820.4 691.6L1821.6 641.0L1823.0 577.9L1824.5 514.8L1825.9 451.6L1827.0 388.4L1828.0 325.3L1829.2 388.4L1830.3 451.6L1832.3 514.8L1834.2 577.9L1836.1 641.0L1837.6 691.6L1840.6 735.8L1843.6 773.7L1847.1 805.2L1851.3 830.5L1855.6 852.6L1861.3 871.5L1866.5 887.3L1871.1 900.0L1879.3 911.3L1886.0 920.1L1893.0 925.1L1903.9 935.4L1915.8 939.8L1926.2 941.9L1950.0 949.8L1972.3 952.8L1994.6 950.7" stroke="#fe0000" stroke-width="2.1"/>
<path d="M1622.2 954.4L1657.9 947.2L1693.7 942.8L1709.6 941.4L1728.2 935.3L1741.8 932.7L1755.7 926.6L1768.9 917.3L1782.3 911.3L1795.2 900.0L1805.0 887.3L1811.9 871.5L1814.7 852.6L1817.4 830.5L1819.1 805.2L1821.3 773.7L1822.3 735.8L1823.1 691.6L1824.0 641.0L1825.1 577.9L1826.2 514.8L1827.3 451.6L1828.1 388.4L1828.9 325.3L1830.5 388.4L1832.0 451.6L1834.8 514.8L1837.4 577.9L1839.8 641.0L1841.8 691.6L1846.3 735.8L1850.7 773.7L1855.0 805.2L1860.7 830.5L1866.1 852.6L1873.8 871.5L1880.2 887.3L1885.4 900.0L1896.3 911.3L1904.8 923.4L1912.1 926.2L1925.2 932.9L1939.3 937.9L1951.7 942.1L1979.5 952.1L2005.4 951.1L2031.4 956.1" stroke="#fe0000" stroke-width="2.1"/>
<path d="M1589.9 952.1L1629.0 950.1L1668.0 948.0L1692.6 944.0L1712.0 940.5L1728.4 936.1L1744.3 928.4L1759.1 916.6L1772.0 911.3L1784.6 900.0L1794.8 887.3L1802.4 871.5L1806.2 852.6L1810.1 830.5L1812.7 805.2L1816.0 773.7L1817.4 735.8L1818.4 691.6L1819.6 641.0L1821.1 577.9L1822.6 514.8L1824.0 451.6L1825.0 388.4L1826.0 325.3L1827.9 388.4L1829.7 451.6L1832.9 514.8L1835.9 577.9L1838.8 641.0L1841.1 691.6L1845.9 735.8L1850.8 773.7L1856.2 805.2L1862.8 830.5L1869.5 852.6L1878.4 871.5L1886.5 887.3L1893.4 900.0L1906.3 911.3L1916.7 919.5L1927.2 929.5L1943.9 936.9L1962.2 939.1L1978.1 947.1L2014.4 949.6L2048.5 945.8L2082.5 954.4" stroke="#ff0000" stroke-width="2.1"/>
<path d="M1662.4 956.2L1690.4 949.3L1718.4 950.8L1733.1 946.1L1747.4 941.2L1758.5 935.8L1769.6 927.5L1780.1 920.0L1789.9 911.3L1799.6 900.0L1807.1 887.3L1812.5 871.5L1814.9 852.6L1817.3 830.5L1818.9 805.2L1820.9 773.7L1821.8 735.8L1822.4 691.6L1823.2 641.0L1824.2 577.9L1825.1 514.8L1826.1 451.6L1826.7 388.4L1827.4 325.3L1828.3 388.4L1829.2 451.6L1830.8 514.8L1832.3 577.9L1833.8 641.0L1835.0 691.6L1837.4 735.8L1839.9 773.7L1842.6 805.2L1845.9 830.5L1849.3 852.6L1853.8 871.5L1857.8 887.3L1861.3 900.0L1867.8 911.3L1873.0 921.7L1878.3 924.2L1886.8 934.9L1895.9 936.9L1904.0 946.4L1922.3 950.9L1939.4 944.0L1956.6 951.2" stroke="#fe0000" stroke-width="2.1"/>
<path d="M1573.2 951.1L1617.9 944.7L1662.5 952.5L1682.4 942.5L1705.5 936.9L1722.6 935.5L1739.9 926.8L1756.4 915.3L1773.1 911.3L1789.1 900.0L1801.4 887.3L1809.9 871.5L1813.4 852.6L1816.9 830.5L1819.0 805.2L1821.7 773.7L1823.0 735.8L1823.9 691.6L1825.0 641.0L1826.4 577.9L1827.8 514.8L1829.2 451.6L1830.2 388.4L1831.2 325.3L1832.5 388.4L1833.8 451.6L1836.2 514.8L1838.3 577.9L1840.4 641.0L1842.0 691.6L1845.8 735.8L1849.5 773.7L1853.1 805.2L1857.9 830.5L1862.5 852.6L1868.9 871.5L1874.3 887.3L1878.7 900.0L1887.9 911.3L1895.1 925.0L1901.3 926.9L1912.3 933.7L1924.2 938.7L1934.7 941.8L1958.1 943.6L1980.0 948.0L2002.0 956.8" stroke="#fd0000" stroke-width="2.1"/>
<path d="M1594.7 952.8L1635.7 947.5L1676.7 950.0L1695.0 938.8L1716.2 940.9L1731.9 934.5L1747.8 928.1L1762.9 917.7L1778.2 911.3L1793.0 900.0L1804.3 887.3L1812.1 871.5L1815.3 852.6L1818.5 830.5L1820.5 805.2L1822.9 773.7L1824.1 735.8L1825.0 691.6L1826.0 641.0L1827.2 577.9L1828.5 514.8L1829.8 451.6L1830.7 388.4L1831.6 325.3L1833.4 388.4L1835.2 451.6L1838.4 514.8L1841.4 577.9L1844.2 641.0L1846.4 691.6L1851.6 735.8L1856.7 773.7L1861.5 805.2L1868.1 830.5L1874.3 852.6L1883.1 871.5L1890.5 887.3L1896.4 900.0L1908.9 911.3L1918.7 922.2L1927.1 932.6L1942.0 933.8L1958.2 940.9L1972.5 946.6L2004.2 949.4L2034.0 945.2L2063.8 955.5" stroke="#fd0000" stroke-width="2.1"/>
<path d="M1654.1 948.7L1684.9 952.9L1715.7 949.8L1729.4 943.3L1745.4 940.1L1757.2 936.7L1769.2 925.9L1780.5 920.0L1792.0 911.3L1803.1 900.0L1811.6 887.3L1817.5 871.5L1819.9 852.6L1822.3 830.5L1823.8 805.2L1825.6 773.7L1826.5 735.8L1827.2 691.6L1827.9 641.0L1828.9 577.9L1829.8 514.8L1830.8 451.6L1831.5 388.4L1832.2 325.3L1834.1 388.4L1836.1 451.6L1839.5 514.8L1842.8 577.9L1845.8 641.0L1848.3 691.6L1853.8 735.8L1859.4 773.7L1864.7 805.2L1871.8 830.5L1878.6 852.6L1888.2 871.5L1896.2 887.3L1902.5 900.0L1916.2 911.3L1926.8 918.5L1935.9 923.8L1952.2 931.1L1969.8 941.1L1985.3 944.1L2019.8 951.4L2052.2 946.8L2084.5 952.0" stroke="#fd0000" stroke-width="2.1"/>
<path d="M1612.6 952.0L1651.2 951.5L1689.8 947.8L1706.9 944.3L1727.0 936.5L1741.7 933.1L1756.7 928.6L1770.9 922.7L1785.3 911.3L1799.2 900.0L1809.9 887.3L1817.2 871.5L1820.2 852.6L1823.2 830.5L1825.1 805.2L1827.4 773.7L1828.5 735.8L1829.3 691.6L1830.3 641.0L1831.5 577.9L1832.7 514.8L1833.9 451.6L1834.8 388.4L1835.6 325.3L1837.3 388.4L1839.0 451.6L1842.0 514.8L1844.8 577.9L1847.4 641.0L1849.6 691.6L1854.3 735.8L1859.0 773.7L1863.7 805.2L1869.9 830.5L1875.9 852.6L1884.2 871.5L1891.3 887.3L1897.2 900.0L1909.1 911.3L1918.4 919.9L1927.0 930.4L1941.6 934.7L1957.5 939.1L1971.4 943.2L2002.7 949.0L2032.0 948.6L2061.3 950.4" stroke="#fc0000" stroke-width="2.1"/>
<path d="M1613.3 953.2L1650.9 951.4L1688.5 947.9L1706.5 945.4L1725.8 940.6L1740.4 930.7L1755.1 927.3L1769.1 921.5L1782.8 911.3L1796.1 900.0L1806.3 887.3L1813.5 871.5L1816.6 852.6L1819.6 830.5L1821.6 805.2L1824.0 773.7L1825.1 735.8L1826.0 691.6L1826.9 641.0L1828.1 577.9L1829.4 514.8L1830.6 451.6L1831.4 388.4L1832.3 325.3L1833.3 388.4L1834.4 451.6L1836.2 514.8L1837.9 577.9L1839.5 641.0L1840.9 691.6L1843.6 735.8L1846.4 773.7L1849.4 805.2L1853.2 830.5L1857.0 852.6L1862.1 871.5L1866.6 887.3L1870.4 900.0L1877.7 911.3L1883.6 918.2L1889.4 930.7L1898.8 931.5L1909.0 937.0L1917.9 940.7L1938.2 949.4L1957.2 952.4L1976.3 953.2" stroke="#fd0000" stroke-width="2.1"/>
<path d="M1711.4 954.3L1732.2 950.5L1753.1 949.7L1765.2 944.9L1775.6 939.6L1784.2 933.4L1792.6 927.1L1800.4 919.9L1807.5 911.3L1814.5 900.0L1820.0 887.3L1824.0 871.5L1826.0 852.6L1827.9 830.5L1829.2 805.2L1830.8 773.7L1831.5 735.8L1832.0 691.6L1832.6 641.0L1833.4 577.9L1834.1 514.8L1834.9 451.6L1835.4 388.4L1835.9 325.3L1837.1 388.4L1838.3 451.6L1840.5 514.8L1842.4 577.9L1844.3 641.0L1845.8 691.6L1849.3 735.8L1852.7 773.7L1856.0 805.2L1860.4 830.5L1864.6 852.6L1870.5 871.5L1875.5 887.3L1879.4 900.0L1887.8 911.3L1894.4 925.0L1900.0 924.9L1910.1 935.0L1921.0 939.5L1930.5 945.0L1951.9 944.3L1971.9 948.1L1991.9 953.5" stroke="#fc0000" stroke-width="2.1"/>
<path d="M1592.4 952.6L1633.6 954.1L1674.9 945.9L1697.3 937.6L1718.2 937.8L1734.8 930.4L1751.2 928.5L1766.7 922.1L1781.1 911.3L1795.2 900.0L1806.2 887.3L1814.1 871.5L1817.8 852.6L1821.5 830.5L1823.9 805.2L1826.9 773.7L1828.2 735.8L1829.2 691.6L1830.4 641.0L1831.8 577.9L1833.2 514.8L1834.6 451.6L1835.6 388.4L1836.6 325.3L1838.4 388.4L1840.1 451.6L1843.2 514.8L1846.2 577.9L1848.9 641.0L1851.1 691.6L1856.2 735.8L1861.1 773.7L1865.9 805.2L1872.4 830.5L1878.5 852.6L1887.1 871.5L1894.3 887.3L1900.1 900.0L1912.4 911.3L1922.0 916.0L1930.2 928.5L1944.9 931.3L1960.8 940.1L1974.7 942.5L2005.9 947.8L2035.1 953.9L2064.3 952.7" stroke="#fc0000" stroke-width="2.1"/>
<path d="M1685.6 950.0L1711.9 949.9L1738.2 945.8L1749.9 944.0L1763.5 947.8L1773.5 935.6L1783.8 920.6L1793.5 917.9L1803.3 911.3L1812.8 900.0L1820.0 887.3L1825.0 871.5L1827.1 852.6L1829.1 830.5L1830.4 805.2L1831.9 773.7L1832.7 735.8L1833.2 691.6L1833.9 641.0L1834.7 577.9L1835.5 514.8L1836.4 451.6L1836.9 388.4L1837.5 325.3L1838.8 388.4L1840.0 451.6L1842.3 514.8L1844.4 577.9L1846.4 641.0L1848.0 691.6L1851.6 735.8L1855.2 773.7L1858.6 805.2L1863.3 830.5L1867.7 852.6L1873.9 871.5L1879.1 887.3L1883.2 900.0L1892.1 911.3L1899.0 917.3L1904.9 925.5L1915.5 936.3L1926.9 940.6L1937.0 941.1L1959.4 945.8L1980.4 948.8L2001.4 956.3" stroke="#fc0000" stroke-width="2.1"/>
<path d="M1661.3 954.3L1691.4 951.6L1721.4 948.1L1737.1 941.4L1752.4 937.8L1764.3 933.9L1776.2 927.3L1787.4 918.3L1798.1 911.3L1808.4 900.0L1816.5 887.3L1822.3 871.5L1824.9 852.6L1827.5 830.5L1829.2 805.2L1831.3 773.7L1832.2 735.8L1832.9 691.6L1833.7 641.0L1834.8 577.9L1835.8 514.8L1836.8 451.6L1837.5 388.4L1838.2 325.3L1839.7 388.4L1841.2 451.6L1843.9 514.8L1846.3 577.9L1848.7 641.0L1850.6 691.6L1854.9 735.8L1859.1 773.7L1863.2 805.2L1868.7 830.5L1873.9 852.6L1881.3 871.5L1887.4 887.3L1892.3 900.0L1902.8 911.3L1911.0 923.2L1918.0 928.3L1930.5 934.5L1944.1 940.1L1955.9 942.9L1982.5 947.6L2007.4 948.4L2032.3 952.9" stroke="#fb0000" stroke-width="2.1"/>
<path d="M1646.5 953.5L1678.6 950.6L1710.8 946.6L1730.0 942.6L1746.1 937.2L1759.3 936.1L1772.3 930.1L1784.5 919.1L1795.3 911.3L1805.9 900.0L1814.4 887.3L1820.6 871.5L1823.7 852.6L1826.8 830.5L1828.8 805.2L1831.3 773.7L1832.4 735.8L1833.3 691.6L1834.2 641.0L1835.4 577.9L1836.6 514.8L1837.7 451.6L1838.5 388.4L1839.3 325.3L1841.1 388.4L1842.8 451.6L1845.9 514.8L1848.8 577.9L1851.6 641.0L1853.8 691.6L1858.8 735.8L1863.8 773.7L1868.6 805.2L1875.0 830.5L1881.1 852.6L1889.7 871.5L1896.9 887.3L1902.6 900.0L1914.9 911.3L1924.5 924.4L1932.6 929.0L1947.3 937.1L1963.1 939.7L1977.0 944.6L2008.1 949.2L2037.2 949.0L2066.3 954.8" stroke="#fb0000" stroke-width="2.1"/>
<path d="M1686.3 953.2L1712.8 952.4L1739.3 943.8L1751.0 943.2L1764.8 938.2L1774.9 934.8L1785.2 926.4L1794.9 918.7L1804.8 911.3L1814.4 900.0L1821.7 887.3L1826.7 871.5L1828.8 852.6L1830.8 830.5L1832.1 805.2L1833.7 773.7L1834.4 735.8L1835.0 691.6L1835.7 641.0L1836.5 577.9L1837.3 514.8L1838.1 451.6L1838.7 388.4L1839.3 325.3L1841.1 388.4L1843.0 451.6L1846.2 514.8L1849.2 577.9L1852.1 641.0L1854.4 691.6L1859.6 735.8L1864.8 773.7L1869.8 805.2L1876.4 830.5L1882.8 852.6L1891.8 871.5L1899.3 887.3L1905.3 900.0L1918.1 911.3L1928.0 922.1L1936.5 921.5L1951.8 933.2L1968.3 945.6L1982.8 945.3L2015.2 948.0L2045.5 951.0L2075.8 955.1" stroke="#fb0000" stroke-width="2.1"/>
<path d="M1580.1 956.8L1625.4 955.8L1670.7 946.8L1690.8 943.1L1714.3 939.4L1731.6 929.9L1749.3 924.8L1766.0 918.4L1782.9 911.3L1799.2 900.0L1811.7 887.3L1820.3 871.5L1823.9 852.6L1827.3 830.5L1829.5 805.2L1832.3 773.7L1833.5 735.8L1834.5 691.6L1835.6 641.0L1837.0 577.9L1838.4 514.8L1839.9 451.6L1840.9 388.4L1841.9 325.3L1843.7 388.4L1845.4 451.6L1848.6 514.8L1851.5 577.9L1854.3 641.0L1856.5 691.6L1861.6 735.8L1866.6 773.7L1871.4 805.2L1877.9 830.5L1884.1 852.6L1892.8 871.5L1900.1 887.3L1905.9 900.0L1918.3 911.3L1928.0 919.5L1936.3 925.2L1951.2 931.3L1967.3 938.5L1981.4 942.8L2013.0 949.3L2042.6 952.2L2072.2 953.5" stroke="#fa0000" stroke-width="2.1"/>
<path d="M1687.1 952.2L1714.1 954.2L1741.1 949.2L1753.1 945.0L1767.0 936.8L1777.3 933.0L1787.8 930.8L1797.8 916.0L1807.9 911.3L1817.6 900.0L1825.0 887.3L1830.2 871.5L1832.3 852.6L1834.3 830.5L1835.6 805.2L1837.3 773.7L1838.0 735.8L1838.6 691.6L1839.3 641.0L1840.1 577.9L1840.9 514.8L1841.8 451.6L1842.4 388.4L1843.0 325.3L1844.0 388.4L1845.0 451.6L1846.8 514.8L1848.5 577.9L1850.1 641.0L1851.4 691.6L1854.3 735.8L1857.2 773.7L1859.9 805.2L1863.6 830.5L1867.2 852.6L1872.2 871.5L1876.3 887.3L1879.7 900.0L1886.8 911.3L1892.3 915.4L1897.1 925.1L1905.5 933.0L1914.7 940.9L1922.8 945.6L1940.8 947.6L1957.7 953.1L1974.5 953.8" stroke="#fa0000" stroke-width="2.1"/>
<path d="M1674.0 951.1L1696.2 950.4L1718.5 946.2L1736.8 944.7L1747.3 939.1L1757.5 934.2L1767.0 929.2L1775.6 921.6L1782.0 911.3L1788.4 900.0L1793.8 887.3L1798.2 871.5L1800.9 852.6L1803.6 830.5L1805.5 805.2L1807.9 773.7L1808.9 735.8L1809.6 691.6L1810.4 641.0L1811.4 577.9L1812.4 514.8L1813.3 451.6L1814.0 388.4L1814.6 325.3L1815.8 388.4L1816.9 451.6L1818.8 514.8L1820.6 577.9L1822.5 641.0L1824.0 691.6L1826.2 735.8L1828.8 773.7L1832.7 805.2L1836.7 830.5L1841.4 852.6L1846.8 871.5L1852.8 887.3L1858.6 900.0L1866.8 911.3L1873.9 920.1L1883.9 925.4L1896.7 934.0L1911.0 937.3L1923.4 940.7L1952.6 946.9L1980.0 949.2L2007.5 951.3" stroke="#ffc800" stroke-width="1.8"/>
<path d="M1640.7 956.8L1668.6 945.6L1696.4 945.9L1719.3 942.3L1732.5 941.4L1745.2 937.0L1757.2 924.4L1768.0 920.2L1775.9 911.3L1783.9 900.0L1790.7 887.3L1796.2 871.5L1799.6 852.6L1803.0 830.5L1805.4 805.2L1808.3 773.7L1809.6 735.8L1810.5 691.6L1811.5 641.0L1812.8 577.9L1814.0 514.8L1815.2 451.6L1816.0 388.4L1816.8 325.3L1817.9 388.4L1818.9 451.6L1820.7 514.8L1822.4 577.9L1824.2 641.0L1825.6 691.6L1827.7 735.8L1830.1 773.7L1833.9 805.2L1837.6 830.5L1842.0 852.6L1847.1 871.5L1852.7 887.3L1858.3 900.0L1866.0 911.3L1872.7 925.4L1882.1 927.5L1894.2 934.6L1907.7 933.8L1919.4 947.5L1947.0 948.3L1972.8 953.1L1998.7 953.5" stroke="#ffe000" stroke-width="1.8"/>
<path d="M1671.2 948.5L1694.4 951.8L1717.5 948.8L1736.5 940.7L1747.4 938.0L1758.0 935.5L1767.9 932.6L1776.9 919.1L1783.5 911.3L1790.1 900.0L1795.7 887.3L1800.3 871.5L1803.1 852.6L1806.0 830.5L1808.0 805.2L1810.4 773.7L1811.4 735.8L1812.2 691.6L1813.0 641.0L1814.1 577.9L1815.1 514.8L1816.1 451.6L1816.7 388.4L1817.4 325.3L1818.6 388.4L1819.9 451.6L1821.8 514.8L1823.8 577.9L1825.8 641.0L1827.4 691.6L1829.8 735.8L1832.5 773.7L1836.7 805.2L1841.0 830.5L1846.0 852.6L1851.7 871.5L1858.1 887.3L1864.3 900.0L1873.1 911.3L1880.6 915.9L1891.2 924.8L1904.9 928.1L1920.1 939.6L1933.4 942.2L1964.5 945.5L1993.7 955.0L2023.0 954.5" stroke="#ffc800" stroke-width="1.8"/>
<path d="M1649.3 953.3L1676.8 950.4L1704.3 944.6L1726.8 943.0L1739.8 937.6L1752.4 935.3L1764.2 927.6L1774.8 921.4L1782.7 911.3L1790.5 900.0L1797.2 887.3L1802.7 871.5L1806.0 852.6L1809.4 830.5L1811.7 805.2L1814.7 773.7L1815.9 735.8L1816.8 691.6L1817.8 641.0L1819.0 577.9L1820.3 514.8L1821.4 451.6L1822.2 388.4L1823.0 325.3L1823.8 388.4L1824.7 451.6L1826.0 514.8L1827.3 577.9L1828.7 641.0L1829.8 691.6L1831.4 735.8L1833.3 773.7L1836.1 805.2L1839.0 830.5L1842.4 852.6L1846.4 871.5L1850.7 887.3L1854.9 900.0L1860.9 911.3L1866.1 921.5L1873.3 924.9L1882.6 932.8L1893.0 941.9L1902.0 945.9L1923.2 946.2L1943.1 953.9L1963.0 955.6" stroke="#fff000" stroke-width="1.8"/>
<path d="M1650.8 953.8L1676.8 951.1L1702.8 943.5L1724.1 944.7L1736.4 938.8L1748.3 934.8L1759.4 929.2L1769.5 917.8L1776.9 911.3L1784.4 900.0L1790.7 887.3L1795.8 871.5L1799.0 852.6L1802.2 830.5L1804.4 805.2L1807.2 773.7L1808.3 735.8L1809.2 691.6L1810.1 641.0L1811.3 577.9L1812.5 514.8L1813.6 451.6L1814.3 388.4L1815.1 325.3L1816.3 388.4L1817.6 451.6L1819.6 514.8L1821.7 577.9L1823.8 641.0L1825.4 691.6L1827.9 735.8L1830.7 773.7L1835.1 805.2L1839.5 830.5L1844.7 852.6L1850.7 871.5L1857.3 887.3L1863.8 900.0L1872.9 911.3L1880.8 918.4L1891.7 924.8L1906.0 934.8L1921.8 941.0L1935.6 943.9L1967.9 943.5L1998.3 946.4L2028.7 952.7" stroke="#ffc800" stroke-width="1.8"/>
<path d="M1632.3 951.0L1661.3 952.4L1690.4 947.4L1714.2 941.1L1728.0 937.1L1741.3 941.6L1753.7 928.8L1765.0 923.2L1773.2 911.3L1781.6 900.0L1788.6 887.3L1794.4 871.5L1797.9 852.6L1801.5 830.5L1804.0 805.2L1807.1 773.7L1808.4 735.8L1809.3 691.6L1810.4 641.0L1811.7 577.9L1813.0 514.8L1814.2 451.6L1815.0 388.4L1815.9 325.3L1817.1 388.4L1818.3 451.6L1820.1 514.8L1822.1 577.9L1824.0 641.0L1825.5 691.6L1827.8 735.8L1830.5 773.7L1834.6 805.2L1838.7 830.5L1843.5 852.6L1849.1 871.5L1855.2 887.3L1861.3 900.0L1869.7 911.3L1877.1 916.9L1887.3 928.5L1900.6 931.5L1915.3 937.1L1928.1 939.3L1958.2 945.0L1986.5 951.4L2014.8 952.7" stroke="#ffe000" stroke-width="1.8"/>
<path d="M1685.3 955.3L1706.4 950.1L1727.6 950.4L1745.0 942.0L1755.0 942.9L1764.6 936.9L1773.7 928.8L1781.9 922.2L1787.9 911.3L1794.0 900.0L1799.1 887.3L1803.3 871.5L1805.9 852.6L1808.5 830.5L1810.3 805.2L1812.5 773.7L1813.5 735.8L1814.2 691.6L1814.9 641.0L1815.9 577.9L1816.8 514.8L1817.7 451.6L1818.3 388.4L1818.9 325.3L1819.9 388.4L1820.8 451.6L1822.2 514.8L1823.7 577.9L1825.2 641.0L1826.4 691.6L1828.2 735.8L1830.2 773.7L1833.4 805.2L1836.6 830.5L1840.3 852.6L1844.7 871.5L1849.4 887.3L1854.1 900.0L1860.6 911.3L1866.3 919.1L1874.3 931.7L1884.5 929.6L1895.9 938.6L1905.9 941.9L1929.2 948.1L1951.1 948.5L1973.0 956.6" stroke="#ffc800" stroke-width="1.8"/>
<path d="M1676.1 952.9L1698.9 950.6L1721.7 946.3L1740.4 943.5L1751.2 941.9L1761.6 933.8L1771.4 925.6L1780.2 919.1L1786.7 911.3L1793.2 900.0L1798.8 887.3L1803.3 871.5L1806.1 852.6L1808.9 830.5L1810.8 805.2L1813.2 773.7L1814.3 735.8L1815.0 691.6L1815.8 641.0L1816.9 577.9L1817.9 514.8L1818.8 451.6L1819.5 388.4L1820.1 325.3L1821.1 388.4L1822.1 451.6L1823.7 514.8L1825.3 577.9L1826.9 641.0L1828.2 691.6L1830.1 735.8L1832.3 773.7L1835.7 805.2L1839.2 830.5L1843.2 852.6L1847.9 871.5L1853.0 887.3L1858.1 900.0L1865.1 911.3L1871.2 919.9L1879.8 930.9L1890.9 934.5L1903.2 938.6L1913.9 944.6L1939.1 950.9L1962.7 949.4L1986.3 950.9" stroke="#ffc800" stroke-width="1.8"/>
<path d="M1661.9 956.8L1692.0 947.4L1722.1 942.8L1735.4 941.7L1751.0 932.5L1762.5 936.2L1774.2 930.0L1785.3 914.8L1796.5 911.3L1807.3 900.0L1815.6 887.3L1821.3 871.5L1823.7 852.6L1826.0 830.5L1827.4 805.2L1829.3 773.7L1830.1 735.8L1830.7 691.6L1831.5 641.0L1832.4 577.9L1833.3 514.8L1834.3 451.6L1835.0 388.4L1835.6 325.3L1837.6 388.4L1839.5 451.6L1842.9 514.8L1846.1 577.9L1849.1 641.0L1851.5 691.6L1857.0 735.8L1862.5 773.7L1867.7 805.2L1874.8 830.5L1881.5 852.6L1891.0 871.5L1898.9 887.3L1905.2 900.0L1918.7 911.3L1929.2 918.6L1938.2 925.7L1954.3 937.8L1971.7 938.3L1987.0 942.1L2021.1 946.6L2053.1 953.1L2085.1 950.0" stroke="#ff1a00" stroke-width="1.5"/>
<path d="M1654.9 951.4L1686.6 951.8L1718.4 946.0L1732.5 941.7L1749.0 936.5L1761.1 932.8L1773.5 923.9L1785.2 919.8L1797.0 911.3L1808.5 900.0L1817.2 887.3L1823.3 871.5L1825.8 852.6L1828.2 830.5L1829.7 805.2L1831.7 773.7L1832.5 735.8L1833.2 691.6L1834.0 641.0L1835.0 577.9L1836.0 514.8L1837.0 451.6L1837.7 388.4L1838.4 325.3L1840.3 388.4L1842.3 451.6L1845.7 514.8L1848.9 577.9L1852.0 641.0L1854.4 691.6L1859.9 735.8L1865.4 773.7L1870.7 805.2L1877.8 830.5L1884.6 852.6L1894.1 871.5L1902.0 887.3L1908.4 900.0L1922.0 911.3L1932.5 921.9L1941.6 926.1L1957.8 933.1L1975.3 937.8L1990.7 946.5L2025.0 941.8L2057.2 950.8L2089.4 951.2" stroke="#ff0000" stroke-width="1.5"/>
<path d="M1671.3 956.2L1700.5 952.2L1729.7 948.7L1742.7 945.2L1757.9 937.3L1769.1 926.1L1780.4 928.5L1791.2 922.3L1802.1 911.3L1812.6 900.0L1820.7 887.3L1826.3 871.5L1828.6 852.6L1830.8 830.5L1832.2 805.2L1834.0 773.7L1834.8 735.8L1835.4 691.6L1836.2 641.0L1837.1 577.9L1838.0 514.8L1838.9 451.6L1839.5 388.4L1840.2 325.3L1842.1 388.4L1843.9 451.6L1847.3 514.8L1850.4 577.9L1853.4 641.0L1855.7 691.6L1861.1 735.8L1866.4 773.7L1871.6 805.2L1878.4 830.5L1885.0 852.6L1894.3 871.5L1902.0 887.3L1908.1 900.0L1921.3 911.3L1931.6 918.8L1940.4 925.7L1956.1 932.1L1973.1 941.4L1988.0 946.2L2021.4 950.1L2052.6 951.0L2083.8 956.8" stroke="#ff1a00" stroke-width="1.5"/>
<path d="M1663.1 954.9L1691.5 948.6L1719.8 952.1L1732.4 946.5L1747.1 936.1L1758.0 937.7L1769.0 928.6L1779.4 917.6L1790.0 911.3L1800.2 900.0L1808.0 887.3L1813.5 871.5L1815.7 852.6L1817.8 830.5L1819.2 805.2L1820.9 773.7L1821.7 735.8L1822.3 691.6L1823.0 641.0L1823.9 577.9L1824.8 514.8L1825.7 451.6L1826.3 388.4L1827.0 325.3L1828.4 388.4L1829.8 451.6L1832.3 514.8L1834.6 577.9L1836.8 641.0L1838.6 691.6L1842.6 735.8L1846.6 773.7L1850.4 805.2L1855.6 830.5L1860.5 852.6L1867.4 871.5L1873.2 887.3L1877.8 900.0L1887.7 911.3L1895.4 917.5L1902.0 926.1L1913.7 928.3L1926.5 939.7L1937.7 942.6L1962.6 949.3L1986.0 950.3L2009.4 951.2" stroke="#e00000" stroke-width="1.5"/>
<path d="M1547.3 953.3L1596.8 947.5L1646.3 945.6L1668.3 946.9L1694.0 937.6L1712.9 929.0L1732.2 922.9L1750.5 919.0L1769.0 911.3L1786.8 900.0L1800.4 887.3L1809.9 871.5L1813.7 852.6L1817.5 830.5L1820.0 805.2L1823.0 773.7L1824.3 735.8L1825.4 691.6L1826.6 641.0L1828.1 577.9L1829.7 514.8L1831.3 451.6L1832.4 388.4L1833.5 325.3L1835.4 388.4L1837.3 451.6L1840.8 514.8L1844.0 577.9L1847.1 641.0L1849.5 691.6L1855.1 735.8L1860.6 773.7L1865.9 805.2L1873.0 830.5L1879.8 852.6L1889.4 871.5L1897.3 887.3L1903.7 900.0L1917.4 911.3L1928.0 922.7L1937.0 929.2L1953.3 936.8L1970.9 942.1L1986.3 943.1L2020.8 950.5L2053.1 952.5L2085.4 952.7" stroke="#ff0000" stroke-width="1.5"/>
<path d="M1551.0 953.5L1599.3 947.1L1647.7 948.2L1669.2 944.9L1694.3 940.0L1712.7 937.5L1731.5 930.3L1749.4 918.8L1767.4 911.3L1784.8 900.0L1798.2 887.3L1807.4 871.5L1811.1 852.6L1814.9 830.5L1817.2 805.2L1820.1 773.7L1821.5 735.8L1822.5 691.6L1823.7 641.0L1825.2 577.9L1826.7 514.8L1828.2 451.6L1829.3 388.4L1830.4 325.3L1832.3 388.4L1834.2 451.6L1837.5 514.8L1840.6 577.9L1843.6 641.0L1846.0 691.6L1851.4 735.8L1856.8 773.7L1861.9 805.2L1868.8 830.5L1875.4 852.6L1884.7 871.5L1892.4 887.3L1898.6 900.0L1911.9 911.3L1922.2 921.2L1931.0 932.0L1946.8 932.7L1963.9 942.0L1978.9 939.6L2012.4 948.8L2043.8 949.3L2075.1 955.2" stroke="#ff1a00" stroke-width="1.5"/>
<path d="M1543.1 955.3L1593.7 950.7L1644.3 950.5L1666.9 945.2L1693.1 940.4L1712.4 936.6L1732.1 927.2L1750.8 919.3L1769.7 911.3L1787.9 900.0L1801.9 887.3L1811.6 871.5L1815.5 852.6L1819.4 830.5L1821.8 805.2L1824.9 773.7L1826.3 735.8L1827.4 691.6L1828.7 641.0L1830.2 577.9L1831.8 514.8L1833.4 451.6L1834.5 388.4L1835.7 325.3L1837.1 388.4L1838.6 451.6L1841.3 514.8L1843.7 577.9L1846.1 641.0L1847.9 691.6L1852.2 735.8L1856.4 773.7L1860.5 805.2L1865.9 830.5L1871.1 852.6L1878.4 871.5L1884.5 887.3L1889.4 900.0L1899.8 911.3L1907.9 918.8L1914.8 927.2L1927.2 939.5L1940.7 941.5L1952.5 944.2L1978.9 950.1L2003.6 950.2L2028.2 952.4" stroke="#e00000" stroke-width="1.5"/>
<path d="M1612.5 955.5L1650.5 950.9L1688.6 945.8L1705.5 944.2L1725.2 934.0L1739.7 930.3L1754.5 924.8L1768.5 915.4L1782.7 911.3L1796.4 900.0L1806.9 887.3L1814.2 871.5L1817.1 852.6L1820.1 830.5L1821.9 805.2L1824.2 773.7L1825.3 735.8L1826.1 691.6L1827.0 641.0L1828.2 577.9L1829.4 514.8L1830.6 451.6L1831.4 388.4L1832.3 325.3L1834.3 388.4L1836.3 451.6L1840.0 514.8L1843.3 577.9L1846.5 641.0L1849.1 691.6L1854.9 735.8L1860.7 773.7L1866.3 805.2L1873.7 830.5L1880.8 852.6L1890.9 871.5L1899.2 887.3L1905.9 900.0L1920.2 911.3L1931.3 921.9L1940.8 924.3L1957.8 936.1L1976.3 938.8L1992.5 944.1L2028.6 947.2L2062.5 947.2L2096.3 956.3" stroke="#e00000" stroke-width="1.5"/>
<path d="M1582.8 955.6L1626.5 948.0L1670.3 949.2L1689.7 940.7L1712.4 943.1L1729.1 933.5L1746.1 923.3L1762.3 917.4L1778.6 911.3L1794.3 900.0L1806.4 887.3L1814.7 871.5L1818.1 852.6L1821.5 830.5L1823.6 805.2L1826.3 773.7L1827.5 735.8L1828.4 691.6L1829.5 641.0L1830.9 577.9L1832.2 514.8L1833.6 451.6L1834.6 388.4L1835.6 325.3L1837.9 388.4L1840.2 451.6L1844.4 514.8L1848.2 577.9L1851.9 641.0L1854.8 691.6L1861.5 735.8L1868.2 773.7L1874.5 805.2L1883.1 830.5L1891.2 852.6L1902.7 871.5L1912.3 887.3L1919.9 900.0L1936.3 911.3L1949.0 919.0L1960.0 930.9L1979.5 934.8L2000.6 940.9L2019.1 944.7L2060.6 945.1L2099.4 948.0L2138.2 953.8" stroke="#ff0000" stroke-width="1.5"/>
<path d="M1603.4 946.9L1644.3 950.6L1685.2 946.9L1703.3 943.9L1724.5 939.5L1740.1 937.7L1756.0 930.7L1771.0 918.1L1786.3 911.3L1801.0 900.0L1812.2 887.3L1820.0 871.5L1823.2 852.6L1826.4 830.5L1828.3 805.2L1830.8 773.7L1831.9 735.8L1832.8 691.6L1833.8 641.0L1835.1 577.9L1836.4 514.8L1837.7 451.6L1838.6 388.4L1839.5 325.3L1840.9 388.4L1842.4 451.6L1845.0 514.8L1847.4 577.9L1849.7 641.0L1851.5 691.6L1855.7 735.8L1859.8 773.7L1863.7 805.2L1869.1 830.5L1874.1 852.6L1881.3 871.5L1887.3 887.3L1892.0 900.0L1902.2 911.3L1910.2 916.2L1917.0 934.3L1929.1 936.6L1942.3 937.6L1953.8 945.3L1979.7 949.8L2003.8 952.1L2028.0 951.6" stroke="#ff1a00" stroke-width="1.5"/>
<path d="M1565.6 956.8L1612.7 949.8L1659.7 948.9L1680.7 944.1L1705.1 942.1L1723.0 936.1L1741.3 925.5L1758.7 922.0L1776.3 911.3L1793.2 900.0L1806.2 887.3L1815.2 871.5L1818.8 852.6L1822.5 830.5L1824.7 805.2L1827.6 773.7L1828.9 735.8L1829.9 691.6L1831.1 641.0L1832.5 577.9L1834.0 514.8L1835.5 451.6L1836.5 388.4L1837.6 325.3L1839.0 388.4L1840.5 451.6L1843.1 514.8L1845.5 577.9L1847.8 641.0L1849.6 691.6L1853.8 735.8L1858.0 773.7L1862.0 805.2L1867.3 830.5L1872.4 852.6L1879.6 871.5L1885.6 887.3L1890.4 900.0L1900.7 911.3L1908.6 922.0L1915.5 928.8L1927.7 937.5L1940.9 939.3L1952.5 940.7L1978.5 944.7L2002.8 950.5L2027.0 956.8" stroke="#e00000" stroke-width="1.5"/>
<path d="M1624.3 949.9L1660.3 949.8L1696.3 949.4L1712.3 942.1L1731.0 939.7L1744.8 931.6L1758.8 928.7L1772.1 918.2L1785.5 911.3L1798.5 900.0L1808.4 887.3L1815.3 871.5L1818.1 852.6L1820.8 830.5L1822.6 805.2L1824.8 773.7L1825.8 735.8L1826.6 691.6L1827.4 641.0L1828.6 577.9L1829.7 514.8L1830.8 451.6L1831.6 388.4L1832.4 325.3L1834.6 388.4L1836.8 451.6L1840.6 514.8L1844.2 577.9L1847.6 641.0L1850.4 691.6L1856.6 735.8L1862.8 773.7L1868.7 805.2L1876.7 830.5L1884.2 852.6L1894.9 871.5L1903.9 887.3L1911.0 900.0L1926.2 911.3L1938.1 921.2L1948.3 929.4L1966.4 933.2L1986.1 939.9L2003.4 942.7L2042.0 943.0L2078.1 950.5L2114.2 951.1" stroke="#ff1a00" stroke-width="1.5"/>
<path d="M1588.7 953.3L1632.4 952.0L1676.1 946.4L1695.6 942.0L1718.2 939.6L1734.9 936.2L1751.9 932.5L1768.0 925.9L1784.3 911.3L1800.1 900.0L1812.1 887.3L1820.5 871.5L1823.9 852.6L1827.2 830.5L1829.3 805.2L1832.0 773.7L1833.2 735.8L1834.1 691.6L1835.2 641.0L1836.6 577.9L1837.9 514.8L1839.3 451.6L1840.3 388.4L1841.3 325.3L1843.2 388.4L1845.2 451.6L1848.8 514.8L1852.1 577.9L1855.2 641.0L1857.7 691.6L1863.5 735.8L1869.1 773.7L1874.5 805.2L1881.8 830.5L1888.8 852.6L1898.6 871.5L1906.8 887.3L1913.4 900.0L1927.3 911.3L1938.2 917.1L1947.5 926.0L1964.2 936.5L1982.3 938.4L1998.1 939.1L2033.5 945.1L2066.7 948.7L2099.8 954.8" stroke="#ff0000" stroke-width="1.5"/>
<path d="M1667.1 949.7L1694.5 956.8L1721.9 951.5L1734.0 945.3L1748.2 935.2L1758.7 938.4L1769.3 929.6L1779.4 919.2L1789.7 911.3L1799.5 900.0L1807.1 887.3L1812.3 871.5L1814.4 852.6L1816.5 830.5L1817.9 805.2L1819.5 773.7L1820.3 735.8L1820.9 691.6L1821.6 641.0L1822.4 577.9L1823.3 514.8L1824.1 451.6L1824.7 388.4L1825.3 325.3L1827.3 388.4L1829.2 451.6L1832.6 514.8L1835.8 577.9L1838.8 641.0L1841.2 691.6L1846.8 735.8L1852.2 773.7L1857.5 805.2L1864.5 830.5L1871.3 852.6L1880.7 871.5L1888.6 887.3L1895.0 900.0L1908.5 911.3L1919.0 921.5L1928.0 925.9L1944.1 935.6L1961.5 946.0L1976.8 941.8L2011.0 940.8L2043.0 946.9L2075.0 951.3" stroke="#e00000" stroke-width="1.5"/>
<path d="M1997.2 955.3L2018.2 950.6L2039.2 946.5L2062.5 946.9L2078.3 940.0L2096.3 931.5L2113.4 930.6L2129.6 922.4L2139.5 911.3L2150.3 900.0L2159.3 887.3L2166.9 871.5L2173.1 852.6L2179.4 830.5L2184.9 805.2L2189.3 773.7L2193.8 735.8L2195.8 691.6L2196.7 641.0L2197.7 577.9L2199.3 514.8L2201.2 451.6L2202.7 388.4L2204.3 325.3L2206.2 388.4L2208.1 451.6L2211.4 514.8L2215.3 577.9L2220.4 641.0L2224.5 691.6L2228.5 735.8L2232.7 773.7L2236.7 805.2L2241.3 830.5L2245.3 852.6L2250.9 871.5L2257.5 887.3L2262.8 900.0L2267.5 911.3L2272.5 918.1L2283.9 928.4L2293.4 936.9L2301.0 938.7L2306.0 940.6L2306.0 951.2L2306.0 952.4L2306.0 953.4" stroke="#c00000" stroke-width="1.5"/>
<path d="M2015.5 949.9L2034.6 949.5L2053.7 946.7L2074.8 938.2L2089.1 937.7L2105.5 935.3L2121.0 925.6L2135.7 917.7L2144.7 911.3L2154.6 900.0L2162.7 887.3L2169.7 871.5L2175.3 852.6L2181.0 830.5L2186.0 805.2L2190.0 773.7L2194.1 735.8L2195.9 691.6L2196.7 641.0L2197.6 577.9L2199.1 514.8L2200.8 451.6L2202.2 388.4L2203.6 325.3L2205.6 388.4L2207.5 451.6L2210.9 514.8L2214.8 577.9L2219.9 641.0L2224.0 691.6L2228.1 735.8L2232.4 773.7L2236.4 805.2L2241.0 830.5L2245.0 852.6L2250.7 871.5L2257.4 887.3L2262.7 900.0L2267.5 911.3L2272.6 920.3L2284.1 929.1L2293.7 937.0L2301.3 936.7L2306.0 940.3L2306.0 947.9L2306.0 950.6L2306.0 951.3" stroke="#b40000" stroke-width="1.5"/>
<path d="M1938.1 953.9L1964.9 950.4L1991.7 945.5L2021.4 945.0L2041.4 936.9L2064.4 935.2L2086.2 928.7L2106.9 920.8L2119.5 911.3L2133.3 900.0L2144.7 887.3L2154.5 871.5L2162.4 852.6L2170.3 830.5L2177.4 805.2L2183.0 773.7L2188.7 735.8L2191.3 691.6L2192.4 641.0L2193.7 577.9L2195.7 514.8L2198.1 451.6L2200.1 388.4L2202.1 325.3L2203.8 388.4L2205.6 451.6L2208.6 514.8L2212.1 577.9L2216.7 641.0L2220.4 691.6L2224.0 735.8L2227.9 773.7L2231.5 805.2L2235.6 830.5L2239.3 852.6L2244.4 871.5L2250.3 887.3L2255.1 900.0L2259.4 911.3L2264.0 917.2L2274.3 928.5L2282.9 939.0L2289.8 942.2L2295.8 945.4L2306.0 947.5L2306.0 954.7L2306.0 956.8" stroke="#8b0000" stroke-width="1.5"/>
<path d="M2002.3 949.0L2022.5 953.6L2042.7 944.9L2065.1 940.9L2080.3 936.3L2097.7 934.6L2114.1 926.2L2129.8 915.0L2139.3 911.3L2149.7 900.0L2158.4 887.3L2165.7 871.5L2171.7 852.6L2177.7 830.5L2183.1 805.2L2187.3 773.7L2191.6 735.8L2193.6 691.6L2194.4 641.0L2195.4 577.9L2196.9 514.8L2198.7 451.6L2200.2 388.4L2201.8 325.3L2203.6 388.4L2205.5 451.6L2208.8 514.8L2212.7 577.9L2217.7 641.0L2221.8 691.6L2225.7 735.8L2229.9 773.7L2233.9 805.2L2238.4 830.5L2242.3 852.6L2247.9 871.5L2254.4 887.3L2259.6 900.0L2264.3 911.3L2269.3 918.8L2280.6 927.4L2290.0 931.6L2297.5 942.4L2304.1 942.2L2306.0 946.1L2306.0 953.4L2306.0 953.0" stroke="#c00000" stroke-width="1.5"/>
<path d="M1989.7 956.8L2011.2 950.8L2032.6 950.4L2056.3 944.3L2072.4 937.6L2090.7 934.7L2108.2 927.1L2124.7 926.0L2134.8 911.3L2145.8 900.0L2155.0 887.3L2162.8 871.5L2169.2 852.6L2175.5 830.5L2181.2 805.2L2185.6 773.7L2190.2 735.8L2192.3 691.6L2193.1 641.0L2194.2 577.9L2195.8 514.8L2197.7 451.6L2199.3 388.4L2200.9 325.3L2202.7 388.4L2204.5 451.6L2207.6 514.8L2211.3 577.9L2216.1 641.0L2219.9 691.6L2223.6 735.8L2227.6 773.7L2231.4 805.2L2235.7 830.5L2239.4 852.6L2244.7 871.5L2250.9 887.3L2255.8 900.0L2260.3 911.3L2265.0 924.2L2275.7 927.9L2284.6 933.3L2291.7 944.4L2298.0 945.6L2306.0 948.7L2306.0 951.2L2306.0 954.9" stroke="#a00000" stroke-width="1.5"/>
<path d="M2010.4 951.4L2030.4 948.1L2050.4 945.8L2072.5 943.8L2087.4 942.0L2104.6 931.5L2120.8 926.6L2136.2 919.5L2145.7 911.3L2155.9 900.0L2164.5 887.3L2171.7 871.5L2177.7 852.6L2183.6 830.5L2188.9 805.2L2193.0 773.7L2197.3 735.8L2199.2 691.6L2200.0 641.0L2201.0 577.9L2202.5 514.8L2204.3 451.6L2205.8 388.4L2207.3 325.3L2209.3 388.4L2211.3 451.6L2214.8 514.8L2218.9 577.9L2224.2 641.0L2228.5 691.6L2232.7 735.8L2237.2 773.7L2241.4 805.2L2246.2 830.5L2250.3 852.6L2256.3 871.5L2263.2 887.3L2268.7 900.0L2273.7 911.3L2279.0 918.7L2291.0 930.6L2301.0 936.0L2306.0 940.7L2306.0 941.7L2306.0 947.4L2306.0 950.3L2306.0 956.8" stroke="#8b0000" stroke-width="1.5"/>
<path d="M2028.4 952.2L2046.8 950.3L2065.3 942.7L2085.7 943.6L2099.5 933.3L2115.4 940.5L2130.4 928.9L2144.6 920.4L2153.3 911.3L2162.8 900.0L2170.7 887.3L2177.4 871.5L2182.9 852.6L2188.3 830.5L2193.2 805.2L2197.0 773.7L2201.0 735.8L2202.8 691.6L2203.5 641.0L2204.4 577.9L2205.8 514.8L2207.5 451.6L2208.8 388.4L2210.2 325.3L2211.7 388.4L2213.2 451.6L2215.8 514.8L2218.9 577.9L2222.9 641.0L2226.1 691.6L2229.2 735.8L2232.6 773.7L2235.7 805.2L2239.3 830.5L2242.4 852.6L2246.9 871.5L2252.0 887.3L2256.2 900.0L2259.9 911.3L2263.9 921.4L2272.8 924.2L2280.3 931.8L2286.2 939.1L2291.5 941.7L2306.0 950.3L2306.0 951.0L2306.0 953.2" stroke="#a00000" stroke-width="1.5"/>
<path d="M1922.9 955.1L1951.2 949.9L1979.5 946.0L2010.8 940.8L2032.1 939.5L2056.3 937.0L2079.4 928.1L2101.2 921.9L2114.6 911.3L2129.1 900.0L2141.3 887.3L2151.5 871.5L2159.9 852.6L2168.3 830.5L2175.8 805.2L2181.7 773.7L2187.8 735.8L2190.5 691.6L2191.6 641.0L2193.0 577.9L2195.2 514.8L2197.7 451.6L2199.8 388.4L2201.9 325.3L2202.9 388.4L2203.9 451.6L2205.7 514.8L2207.8 577.9L2210.5 641.0L2212.6 691.6L2214.7 735.8L2217.0 773.7L2219.1 805.2L2221.5 830.5L2223.6 852.6L2226.6 871.5L2230.1 887.3L2232.9 900.0L2235.4 911.3L2238.1 921.9L2244.2 928.1L2249.2 930.1L2253.2 942.6L2256.7 945.4L2267.3 947.4L2277.4 950.1L2287.4 953.5" stroke="#8b0000" stroke-width="1.5"/>
<path d="M2030.2 951.6L2047.9 950.0L2065.5 946.2L2085.0 941.9L2098.3 938.9L2113.4 928.8L2127.8 922.3L2141.4 922.8L2149.7 911.3L2158.8 900.0L2166.3 887.3L2172.7 871.5L2178.0 852.6L2183.2 830.5L2187.9 805.2L2191.6 773.7L2195.3 735.8L2197.0 691.6L2197.7 641.0L2198.6 577.9L2200.0 514.8L2201.5 451.6L2202.8 388.4L2204.2 325.3L2205.8 388.4L2207.4 451.6L2210.3 514.8L2213.6 577.9L2218.0 641.0L2221.5 691.6L2225.0 735.8L2228.6 773.7L2232.0 805.2L2236.0 830.5L2239.4 852.6L2244.2 871.5L2249.9 887.3L2254.4 900.0L2258.5 911.3L2262.9 923.6L2272.6 928.7L2280.8 932.7L2287.3 937.9L2293.0 940.6L2306.0 947.0L2306.0 947.1L2306.0 956.2" stroke="#a00000" stroke-width="1.5"/>
<path d="M2034.5 953.2L2051.3 956.8L2068.1 946.1L2086.7 935.5L2099.3 933.9L2113.7 931.6L2127.4 928.4L2140.4 921.1L2148.3 911.3L2156.9 900.0L2164.1 887.3L2170.2 871.5L2175.2 852.6L2180.2 830.5L2184.6 805.2L2188.1 773.7L2191.7 735.8L2193.3 691.6L2194.0 641.0L2194.8 577.9L2196.1 514.8L2197.6 451.6L2198.9 388.4L2200.1 325.3L2201.5 388.4L2202.9 451.6L2205.4 514.8L2208.3 577.9L2212.1 641.0L2215.1 691.6L2218.1 735.8L2221.2 773.7L2224.2 805.2L2227.6 830.5L2230.5 852.6L2234.7 871.5L2239.6 887.3L2243.5 900.0L2247.0 911.3L2250.8 922.6L2259.2 926.7L2266.3 934.0L2271.9 939.3L2276.8 941.0L2291.6 948.6L2305.7 950.9L2306.0 948.8" stroke="#b40000" stroke-width="1.5"/>
<path d="M1996.5 950.2L2017.5 953.9L2038.5 944.5L2061.8 942.0L2077.6 936.7L2095.6 933.8L2112.7 928.6L2129.0 926.6L2138.9 911.3L2149.7 900.0L2158.7 887.3L2166.3 871.5L2172.6 852.6L2178.8 830.5L2184.3 805.2L2188.7 773.7L2193.2 735.8L2195.3 691.6L2196.1 641.0L2197.1 577.9L2198.7 514.8L2200.6 451.6L2202.2 388.4L2203.8 325.3L2205.7 388.4L2207.6 451.6L2210.9 514.8L2214.8 577.9L2220.0 641.0L2224.1 691.6L2228.1 735.8L2232.4 773.7L2236.4 805.2L2241.0 830.5L2245.0 852.6L2250.7 871.5L2257.3 887.3L2262.6 900.0L2267.4 911.3L2272.5 919.8L2283.9 926.0L2293.5 937.0L2301.1 937.4L2306.0 941.0L2306.0 947.4L2306.0 954.0L2306.0 951.8" stroke="#a00000" stroke-width="1.5"/>
<path d="M1987.0 950.4L2008.8 951.3L2030.5 947.9L2054.6 941.7L2070.9 942.4L2089.5 933.5L2107.2 929.5L2124.0 920.1L2134.2 911.3L2145.4 900.0L2154.7 887.3L2162.6 871.5L2169.1 852.6L2175.5 830.5L2181.2 805.2L2185.8 773.7L2190.4 735.8L2192.5 691.6L2193.4 641.0L2194.5 577.9L2196.1 514.8L2198.0 451.6L2199.7 388.4L2201.3 325.3L2202.8 388.4L2204.3 451.6L2207.0 514.8L2210.0 577.9L2214.1 641.0L2217.3 691.6L2220.5 735.8L2223.8 773.7L2227.0 805.2L2230.6 830.5L2233.8 852.6L2238.3 871.5L2243.5 887.3L2247.6 900.0L2251.4 911.3L2255.4 921.0L2264.4 922.3L2271.9 935.6L2278.0 941.0L2283.2 941.6L2299.0 947.2L2306.0 953.3L2306.0 952.7" stroke="#a00000" stroke-width="1.5"/>
<path d="M1935.8 952.5L1963.2 948.2L1990.5 948.0L2020.9 942.7L2041.4 936.6L2064.9 933.2L2087.2 930.1L2108.3 920.8L2121.3 911.3L2135.3 900.0L2147.1 887.3L2157.0 871.5L2165.1 852.6L2173.3 830.5L2180.5 805.2L2186.2 773.7L2192.1 735.8L2194.7 691.6L2195.8 641.0L2197.2 577.9L2199.3 514.8L2201.7 451.6L2203.7 388.4L2205.8 325.3L2207.4 388.4L2209.1 451.6L2212.0 514.8L2215.4 577.9L2219.8 641.0L2223.4 691.6L2226.9 735.8L2230.6 773.7L2234.0 805.2L2238.0 830.5L2241.5 852.6L2246.4 871.5L2252.1 887.3L2256.7 900.0L2260.9 911.3L2265.3 923.7L2275.2 927.5L2283.4 934.3L2290.1 936.6L2295.8 943.5L2306.0 945.9L2306.0 950.3L2306.0 954.5" stroke="#8b0000" stroke-width="1.5"/>
<path d="M2043.7 954.4L2060.6 951.7L2077.5 946.1L2096.2 943.2L2108.8 940.7L2123.3 930.7L2137.0 927.6L2150.0 919.0L2158.0 911.3L2166.7 900.0L2173.9 887.3L2180.0 871.5L2185.0 852.6L2190.0 830.5L2194.5 805.2L2198.0 773.7L2201.6 735.8L2203.2 691.6L2203.9 641.0L2204.7 577.9L2206.0 514.8L2207.5 451.6L2208.8 388.4L2210.1 325.3L2211.6 388.4L2213.2 451.6L2215.9 514.8L2219.1 577.9L2223.4 641.0L2226.7 691.6L2230.0 735.8L2233.5 773.7L2236.8 805.2L2240.6 830.5L2243.9 852.6L2248.6 871.5L2254.0 887.3L2258.3 900.0L2262.3 911.3L2266.4 916.2L2275.8 925.6L2283.7 931.6L2289.9 939.6L2295.4 946.0L2306.0 944.7L2306.0 945.5L2306.0 954.2" stroke="#b40000" stroke-width="1.5"/>
<path d="M1963.1 952.0L1988.1 949.9L2013.1 945.5L2040.7 943.6L2059.4 941.3L2080.8 937.6L2101.2 926.4L2120.4 916.0L2132.2 911.3L2145.1 900.0L2155.8 887.3L2164.8 871.5L2172.2 852.6L2179.6 830.5L2186.2 805.2L2191.4 773.7L2196.8 735.8L2199.2 691.6L2200.2 641.0L2201.4 577.9L2203.3 514.8L2205.5 451.6L2207.4 388.4L2209.3 325.3L2210.9 388.4L2212.6 451.6L2215.5 514.8L2218.9 577.9L2223.3 641.0L2226.9 691.6L2230.4 735.8L2234.1 773.7L2237.6 805.2L2241.6 830.5L2245.0 852.6L2250.0 871.5L2255.7 887.3L2260.3 900.0L2264.5 911.3L2268.9 918.6L2278.9 928.3L2287.1 934.3L2293.8 936.7L2299.6 939.3L2306.0 945.2L2306.0 950.0L2306.0 951.3" stroke="#b40000" stroke-width="1.5"/>
<path d="M2020.2 953.7L2038.8 949.5L2057.4 944.7L2078.0 937.2L2092.0 938.4L2107.9 931.1L2123.1 929.5L2137.5 920.4L2146.2 911.3L2155.8 900.0L2163.8 887.3L2170.6 871.5L2176.1 852.6L2181.6 830.5L2186.5 805.2L2190.4 773.7L2194.4 735.8L2196.2 691.6L2196.9 641.0L2197.8 577.9L2199.3 514.8L2200.9 451.6L2202.3 388.4L2203.7 325.3L2205.2 388.4L2206.7 451.6L2209.3 514.8L2212.3 577.9L2216.2 641.0L2219.4 691.6L2222.5 735.8L2225.8 773.7L2228.9 805.2L2232.4 830.5L2235.5 852.6L2239.9 871.5L2245.1 887.3L2249.1 900.0L2252.8 911.3L2256.8 920.8L2265.6 931.4L2273.0 933.9L2278.9 934.5L2284.0 945.8L2299.5 945.8L2306.0 949.3L2306.0 949.6" stroke="#a00000" stroke-width="1.5"/>
<path d="M1988.9 956.0L2010.7 948.8L2032.4 952.5L2056.5 943.3L2072.8 940.0L2091.5 934.3L2109.2 923.3L2126.0 919.0L2136.3 911.3L2147.4 900.0L2156.8 887.3L2164.7 871.5L2171.1 852.6L2177.6 830.5L2183.3 805.2L2187.9 773.7L2192.5 735.8L2194.6 691.6L2195.5 641.0L2196.5 577.9L2198.2 514.8L2200.1 451.6L2201.8 388.4L2203.4 325.3L2204.9 388.4L2206.4 451.6L2209.0 514.8L2212.0 577.9L2216.0 641.0L2219.1 691.6L2222.2 735.8L2225.6 773.7L2228.7 805.2L2232.2 830.5L2235.3 852.6L2239.8 871.5L2244.9 887.3L2249.0 900.0L2252.7 911.3L2256.6 919.3L2265.5 926.5L2272.9 936.2L2278.8 941.8L2284.0 942.9L2299.5 947.3L2306.0 950.1L2306.0 950.4" stroke="#8b0000" stroke-width="1.5"/>
<path d="M1940.3 956.8L1967.0 949.3L1993.7 945.7L2023.2 948.0L2043.3 941.4L2066.2 937.1L2087.9 924.8L2108.5 920.2L2121.1 911.3L2134.8 900.0L2146.2 887.3L2155.9 871.5L2163.9 852.6L2171.8 830.5L2178.8 805.2L2184.4 773.7L2190.1 735.8L2192.7 691.6L2193.7 641.0L2195.1 577.9L2197.1 514.8L2199.5 451.6L2201.5 388.4L2203.5 325.3L2205.1 388.4L2206.7 451.6L2209.5 514.8L2212.8 577.9L2217.1 641.0L2220.6 691.6L2224.0 735.8L2227.6 773.7L2231.0 805.2L2234.8 830.5L2238.2 852.6L2243.0 871.5L2248.6 887.3L2253.0 900.0L2257.0 911.3L2261.3 917.7L2271.0 927.2L2279.0 935.7L2285.4 939.6L2291.1 943.3L2306.0 947.7L2306.0 952.9L2306.0 955.2" stroke="#8b0000" stroke-width="1.5"/>
<path d="M2077.4 955.5L2095.8 946.9L2114.2 947.5L2133.6 942.9L2140.3 941.5L2148.0 932.1L2155.4 926.5L2158.2 921.0L2161.5 911.3L2165.7 900.0L2167.7 887.3L2170.1 871.5L2173.0 852.6L2176.6 830.5L2181.2 805.2L2184.7 773.7L2188.3 735.8L2189.8 691.6L2190.3 641.0L2190.9 577.9L2192.4 514.8L2194.2 451.6L2195.6 388.4L2197.0 325.3L2198.8 388.4L2200.5 451.6L2203.7 514.8L2207.3 577.9L2212.1 641.0L2215.9 691.6L2219.6 735.8L2223.6 773.7L2227.3 805.2L2231.6 830.5L2235.3 852.6L2240.6 871.5L2246.8 887.3L2251.7 900.0L2256.2 911.3L2260.9 916.4L2271.5 928.9L2280.4 936.0L2287.5 942.8L2293.7 943.7L2306.0 948.4L2306.0 951.6L2306.0 950.5" stroke="#ff0000"/>
<path d="M2087.7 950.6L2108.4 952.0L2129.2 950.9L2151.0 940.9L2158.6 935.8L2167.2 932.4L2175.6 923.8L2178.8 918.6L2182.5 911.3L2187.2 900.0L2189.4 887.3L2192.1 871.5L2195.4 852.6L2199.5 830.5L2204.6 805.2L2208.6 773.7L2212.6 735.8L2214.4 691.6L2214.9 641.0L2215.6 577.9L2217.3 514.8L2219.4 451.6L2220.9 388.4L2222.5 325.3L2223.6 388.4L2224.8 451.6L2226.8 514.8L2229.2 577.9L2232.3 641.0L2234.7 691.6L2237.1 735.8L2239.7 773.7L2242.1 805.2L2244.9 830.5L2247.3 852.6L2250.7 871.5L2254.7 887.3L2257.9 900.0L2260.7 911.3L2263.8 920.1L2270.7 931.2L2276.4 935.6L2281.0 939.3L2285.0 945.2L2297.1 950.1L2306.0 953.1L2306.0 950.3" stroke="#960000"/>
<path d="M2085.2 954.2L2105.0 952.9L2124.7 948.3L2145.5 943.3L2152.7 941.9L2161.0 939.1L2168.9 926.5L2172.0 916.5L2175.5 911.3L2180.0 900.0L2182.1 887.3L2184.7 871.5L2187.8 852.6L2191.7 830.5L2196.6 805.2L2200.4 773.7L2204.2 735.8L2205.9 691.6L2206.4 641.0L2207.1 577.9L2208.7 514.8L2210.7 451.6L2212.1 388.4L2213.6 325.3L2215.6 388.4L2217.6 451.6L2221.1 514.8L2225.2 577.9L2230.5 641.0L2234.8 691.6L2239.0 735.8L2243.5 773.7L2247.7 805.2L2252.4 830.5L2256.6 852.6L2262.5 871.5L2269.5 887.3L2275.0 900.0L2280.0 911.3L2285.3 919.4L2297.2 928.8L2306.0 936.0L2306.0 938.2L2306.0 945.6L2306.0 943.4L2306.0 952.8L2306.0 955.4" stroke="#c20000"/>
<path d="M2081.8 953.8L2102.6 950.5L2123.5 947.8L2145.4 943.5L2153.0 940.3L2161.7 934.9L2170.1 928.0L2173.3 920.2L2177.0 911.3L2181.8 900.0L2184.0 887.3L2186.7 871.5L2190.0 852.6L2194.1 830.5L2199.3 805.2L2203.3 773.7L2207.3 735.8L2209.0 691.6L2209.6 641.0L2210.3 577.9L2212.0 514.8L2214.1 451.6L2215.7 388.4L2217.2 325.3L2219.3 388.4L2221.4 451.6L2225.1 514.8L2229.3 577.9L2234.9 641.0L2239.4 691.6L2243.8 735.8L2248.5 773.7L2252.9 805.2L2257.9 830.5L2262.2 852.6L2268.5 871.5L2275.7 887.3L2281.5 900.0L2286.7 911.3L2292.3 920.1L2304.8 928.2L2306.0 931.5L2306.0 939.4L2306.0 943.3L2306.0 944.8L2306.0 950.0L2306.0 956.2" stroke="#e20000"/>
<path d="M2065.3 956.3L2086.3 950.7L2107.3 941.8L2129.3 943.4L2137.0 939.4L2145.7 929.8L2154.2 926.4L2157.4 922.9L2161.2 911.3L2166.0 900.0L2168.2 887.3L2171.0 871.5L2174.3 852.6L2178.4 830.5L2183.6 805.2L2187.6 773.7L2191.7 735.8L2193.4 691.6L2194.0 641.0L2194.7 577.9L2196.4 514.8L2198.5 451.6L2200.1 388.4L2201.6 325.3L2202.9 388.4L2204.1 451.6L2206.2 514.8L2208.8 577.9L2212.0 641.0L2214.7 691.6L2217.3 735.8L2220.0 773.7L2222.6 805.2L2225.5 830.5L2228.1 852.6L2231.8 871.5L2236.0 887.3L2239.4 900.0L2242.5 911.3L2245.8 919.6L2253.1 932.2L2259.2 934.0L2264.1 936.4L2268.4 945.1L2281.3 950.0L2293.5 948.3L2305.8 953.9" stroke="#f40000"/>
<path d="M2079.1 953.4L2099.4 949.9L2119.6 950.1L2140.9 942.5L2148.3 936.3L2156.7 933.8L2164.9 930.8L2168.0 918.5L2171.6 911.3L2176.3 900.0L2178.4 887.3L2181.1 871.5L2184.3 852.6L2188.2 830.5L2193.2 805.2L2197.1 773.7L2201.1 735.8L2202.7 691.6L2203.3 641.0L2204.0 577.9L2205.6 514.8L2207.6 451.6L2209.1 388.4L2210.7 325.3L2212.5 388.4L2214.4 451.6L2217.7 514.8L2221.5 577.9L2226.5 641.0L2230.6 691.6L2234.5 735.8L2238.7 773.7L2242.6 805.2L2247.1 830.5L2251.0 852.6L2256.6 871.5L2263.1 887.3L2268.3 900.0L2272.9 911.3L2277.9 920.0L2289.1 926.7L2298.5 932.9L2306.0 936.6L2306.0 942.8L2306.0 947.7L2306.0 951.5L2306.0 955.7" stroke="#960000"/>
<path d="M2088.4 956.0L2108.4 950.5L2128.5 947.0L2149.5 945.3L2156.8 941.6L2165.2 934.6L2173.3 926.7L2176.3 920.8L2179.9 911.3L2184.5 900.0L2186.6 887.3L2189.3 871.5L2192.4 852.6L2196.4 830.5L2201.3 805.2L2205.2 773.7L2209.1 735.8L2210.7 691.6L2211.3 641.0L2212.0 577.9L2213.6 514.8L2215.6 451.6L2217.1 388.4L2218.6 325.3L2219.7 388.4L2220.8 451.6L2222.7 514.8L2225.0 577.9L2227.9 641.0L2230.3 691.6L2232.6 735.8L2235.1 773.7L2237.4 805.2L2240.1 830.5L2242.4 852.6L2245.7 871.5L2249.5 887.3L2252.5 900.0L2255.3 911.3L2258.2 917.0L2264.9 927.6L2270.4 933.7L2274.8 937.4L2278.6 942.2L2290.2 944.6L2301.2 947.9L2306.0 952.1" stroke="#960000"/>
<path d="M2087.5 954.1L2107.9 951.3L2128.2 948.7L2149.7 946.8L2157.1 943.3L2165.6 939.0L2173.8 931.5L2176.9 925.3L2180.6 911.3L2185.2 900.0L2187.4 887.3L2190.1 871.5L2193.3 852.6L2197.3 830.5L2202.3 805.2L2206.2 773.7L2210.2 735.8L2211.9 691.6L2212.4 641.0L2213.1 577.9L2214.8 514.8L2216.8 451.6L2218.3 388.4L2219.8 325.3L2220.8 388.4L2221.7 451.6L2223.3 514.8L2225.1 577.9L2227.5 641.0L2229.5 691.6L2231.4 735.8L2233.4 773.7L2235.3 805.2L2237.5 830.5L2239.4 852.6L2242.1 871.5L2245.3 887.3L2247.8 900.0L2250.1 911.3L2252.5 919.4L2257.9 924.7L2262.4 936.6L2266.1 935.0L2269.2 943.3L2278.7 951.9L2287.8 948.8L2296.9 951.3" stroke="#960000"/>
<path d="M2113.4 956.5L2129.3 949.6L2145.2 942.4L2161.9 943.8L2167.7 941.9L2174.3 936.0L2180.7 927.3L2183.2 915.4L2186.0 911.3L2189.7 900.0L2191.3 887.3L2193.4 871.5L2195.9 852.6L2199.1 830.5L2203.0 805.2L2206.0 773.7L2209.1 735.8L2210.4 691.6L2210.9 641.0L2211.4 577.9L2212.7 514.8L2214.3 451.6L2215.5 388.4L2216.7 325.3L2218.2 388.4L2219.7 451.6L2222.5 514.8L2225.6 577.9L2229.8 641.0L2233.1 691.6L2236.3 735.8L2239.8 773.7L2243.0 805.2L2246.7 830.5L2250.0 852.6L2254.6 871.5L2259.9 887.3L2264.2 900.0L2268.1 911.3L2272.2 919.3L2281.4 929.3L2289.1 930.4L2295.3 941.4L2300.7 944.6L2306.0 953.3L2306.0 948.7L2306.0 955.3" stroke="#df0000"/>
<path d="M2076.1 949.2L2096.3 955.9L2116.5 943.6L2137.8 944.5L2145.2 936.3L2153.6 930.4L2161.8 928.6L2164.9 917.7L2168.5 911.3L2173.1 900.0L2175.3 887.3L2177.9 871.5L2181.1 852.6L2185.1 830.5L2190.1 805.2L2193.9 773.7L2197.9 735.8L2199.5 691.6L2200.1 641.0L2200.8 577.9L2202.4 514.8L2204.4 451.6L2206.0 388.4L2207.5 325.3L2209.4 388.4L2211.3 451.6L2214.7 514.8L2218.6 577.9L2223.8 641.0L2227.9 691.6L2231.9 735.8L2236.3 773.7L2240.3 805.2L2244.9 830.5L2248.9 852.6L2254.6 871.5L2261.3 887.3L2266.6 900.0L2271.4 911.3L2276.5 916.3L2288.0 933.3L2297.6 934.6L2305.3 939.2L2306.0 944.7L2306.0 943.7L2306.0 952.8L2306.0 954.6" stroke="#bb0000"/>
<path d="M2089.6 949.1L2109.9 947.7L2130.1 946.0L2151.5 942.6L2158.9 939.5L2167.3 936.1L2175.5 928.9L2178.6 921.4L2182.2 911.3L2186.9 900.0L2189.0 887.3L2191.7 871.5L2194.8 852.6L2198.9 830.5L2203.8 805.2L2207.7 773.7L2211.7 735.8L2213.3 691.6L2213.9 641.0L2214.6 577.9L2216.2 514.8L2218.2 451.6L2219.8 388.4L2221.3 325.3L2222.5 388.4L2223.7 451.6L2225.9 514.8L2228.3 577.9L2231.6 641.0L2234.2 691.6L2236.8 735.8L2239.5 773.7L2242.1 805.2L2245.0 830.5L2247.6 852.6L2251.2 871.5L2255.4 887.3L2258.8 900.0L2261.8 911.3L2265.1 921.0L2272.4 926.9L2278.5 934.8L2283.3 935.8L2287.6 943.8L2300.4 946.3L2306.0 949.2L2306.0 950.2" stroke="#f40000"/>
<path d="M2073.4 956.8L2093.5 952.5L2113.6 946.3L2134.7 940.9L2142.1 937.1L2150.4 933.2L2158.6 931.5L2161.6 918.9L2165.2 911.3L2169.8 900.0L2172.0 887.3L2174.6 871.5L2177.8 852.6L2181.7 830.5L2186.7 805.2L2190.5 773.7L2194.4 735.8L2196.1 691.6L2196.7 641.0L2197.3 577.9L2199.0 514.8L2201.0 451.6L2202.5 388.4L2204.0 325.3L2205.0 388.4L2206.0 451.6L2207.7 514.8L2209.8 577.9L2212.5 641.0L2214.6 691.6L2216.7 735.8L2219.0 773.7L2221.1 805.2L2223.5 830.5L2225.6 852.6L2228.6 871.5L2232.1 887.3L2234.8 900.0L2237.3 911.3L2240.0 920.4L2246.0 932.4L2251.0 932.1L2255.0 942.4L2258.5 944.9L2269.0 946.3L2279.0 952.0L2289.0 956.0" stroke="#e80000"/>
<path d="M2072.5 956.8L2094.1 951.4L2115.6 945.1L2138.3 943.4L2146.2 941.6L2155.2 932.5L2163.9 926.9L2167.2 919.3L2171.0 911.3L2176.0 900.0L2178.3 887.3L2181.1 871.5L2184.5 852.6L2188.8 830.5L2194.1 805.2L2198.2 773.7L2202.4 735.8L2204.2 691.6L2204.8 641.0L2205.5 577.9L2207.3 514.8L2209.4 451.6L2211.0 388.4L2212.7 325.3L2214.6 388.4L2216.6 451.6L2220.0 514.8L2224.0 577.9L2229.3 641.0L2233.5 691.6L2237.6 735.8L2242.0 773.7L2246.1 805.2L2250.8 830.5L2254.9 852.6L2260.8 871.5L2267.6 887.3L2273.0 900.0L2277.9 911.3L2283.1 921.8L2294.9 928.7L2304.7 933.3L2306.0 939.1L2306.0 944.3L2306.0 943.0L2306.0 951.4L2306.0 954.0" stroke="#b20000"/>
<path d="M2100.4 952.8L2116.1 949.5L2131.7 950.3L2148.1 942.4L2153.8 934.2L2160.3 937.9L2166.7 930.2L2169.0 922.0L2171.8 911.3L2175.4 900.0L2177.1 887.3L2179.1 871.5L2181.6 852.6L2184.7 830.5L2188.5 805.2L2191.5 773.7L2194.6 735.8L2195.9 691.6L2196.3 641.0L2196.8 577.9L2198.1 514.8L2199.6 451.6L2200.8 388.4L2202.0 325.3L2203.7 388.4L2205.3 451.6L2208.3 514.8L2211.7 577.9L2216.2 641.0L2219.9 691.6L2223.4 735.8L2227.1 773.7L2230.7 805.2L2234.7 830.5L2238.2 852.6L2243.2 871.5L2249.0 887.3L2253.7 900.0L2257.9 911.3L2262.4 921.1L2272.4 925.8L2280.8 934.9L2287.5 939.0L2293.4 943.9L2306.0 947.4L2306.0 953.1L2306.0 950.5" stroke="#f30000"/>
<path d="M2087.0 953.2L2106.3 955.8L2125.7 946.8L2146.1 943.2L2153.1 938.9L2161.2 937.0L2169.0 926.0L2172.0 917.5L2175.5 911.3L2179.9 900.0L2181.9 887.3L2184.5 871.5L2187.5 852.6L2191.4 830.5L2196.1 805.2L2199.8 773.7L2203.6 735.8L2205.2 691.6L2205.8 641.0L2206.4 577.9L2208.0 514.8L2209.9 451.6L2211.4 388.4L2212.8 325.3L2214.1 388.4L2215.4 451.6L2217.7 514.8L2220.3 577.9L2223.8 641.0L2226.6 691.6L2229.3 735.8L2232.2 773.7L2234.9 805.2L2238.0 830.5L2240.7 852.6L2244.6 871.5L2249.1 887.3L2252.7 900.0L2255.9 911.3L2259.3 918.6L2267.1 930.0L2273.5 933.9L2278.7 941.3L2283.2 941.9L2296.8 950.0L2306.0 951.1L2306.0 954.3" stroke="#b40000"/>
<path d="M2098.2 950.0L2117.2 954.0L2136.3 947.7L2156.3 943.1L2163.3 939.9L2171.2 936.6L2178.9 929.3L2181.8 919.9L2185.2 911.3L2189.6 900.0L2191.6 887.3L2194.1 871.5L2197.1 852.6L2200.9 830.5L2205.6 805.2L2209.2 773.7L2212.9 735.8L2214.5 691.6L2215.0 641.0L2215.7 577.9L2217.2 514.8L2219.1 451.6L2220.6 388.4L2222.0 325.3L2223.8 388.4L2225.7 451.6L2228.9 514.8L2232.7 577.9L2237.7 641.0L2241.6 691.6L2245.5 735.8L2249.7 773.7L2253.5 805.2L2258.0 830.5L2261.8 852.6L2267.3 871.5L2273.7 887.3L2278.9 900.0L2283.5 911.3L2288.4 922.6L2299.5 927.3L2306.0 937.2L2306.0 936.1L2306.0 939.9L2306.0 948.1L2306.0 951.9L2306.0 952.8" stroke="#f80000"/>
<path d="M2088.1 956.5L2106.0 944.5L2124.0 952.6L2142.8 945.9L2149.4 941.1L2156.9 932.8L2164.1 926.1L2166.9 920.7L2170.1 911.3L2174.2 900.0L2176.1 887.3L2178.4 871.5L2181.3 852.6L2184.8 830.5L2189.2 805.2L2192.7 773.7L2196.1 735.8L2197.6 691.6L2198.1 641.0L2198.7 577.9L2200.2 514.8L2202.0 451.6L2203.3 388.4L2204.7 325.3L2205.7 388.4L2206.8 451.6L2208.6 514.8L2210.8 577.9L2213.6 641.0L2215.9 691.6L2218.1 735.8L2220.5 773.7L2222.7 805.2L2225.3 830.5L2227.5 852.6L2230.6 871.5L2234.3 887.3L2237.2 900.0L2239.9 911.3L2242.7 919.9L2249.0 926.6L2254.3 933.7L2258.6 939.8L2262.3 941.0L2273.4 947.9L2283.9 951.3L2294.5 953.7" stroke="#df0000"/>
<path d="M2098.3 955.1L2115.2 951.2L2132.2 946.0L2150.1 943.2L2156.3 938.1L2163.4 935.3L2170.2 927.6L2172.8 921.1L2175.9 911.3L2179.8 900.0L2181.6 887.3L2183.8 871.5L2186.5 852.6L2189.8 830.5L2194.0 805.2L2197.3 773.7L2200.6 735.8L2202.0 691.6L2202.5 641.0L2203.0 577.9L2204.4 514.8L2206.1 451.6L2207.4 388.4L2208.7 325.3L2210.0 388.4L2211.4 451.6L2213.9 514.8L2216.7 577.9L2220.5 641.0L2223.5 691.6L2226.4 735.8L2229.6 773.7L2232.5 805.2L2235.8 830.5L2238.7 852.6L2242.9 871.5L2247.7 887.3L2251.6 900.0L2255.1 911.3L2258.8 912.2L2267.2 929.1L2274.1 933.1L2279.7 937.2L2284.6 947.2L2299.2 948.1L2306.0 954.2L2306.0 955.5" stroke="#af0000"/>
<path d="M2116.6 950.8L2132.4 945.6L2148.2 947.0L2164.9 941.4L2170.6 943.3L2177.2 940.5L2183.6 929.9L2186.0 923.0L2188.9 911.3L2192.5 900.0L2194.2 887.3L2196.3 871.5L2198.7 852.6L2201.9 830.5L2205.8 805.2L2208.8 773.7L2211.9 735.8L2213.2 691.6L2213.6 641.0L2214.2 577.9L2215.4 514.8L2217.0 451.6L2218.2 388.4L2219.4 325.3L2220.9 388.4L2222.4 451.6L2225.1 514.8L2228.1 577.9L2232.2 641.0L2235.4 691.6L2238.6 735.8L2241.9 773.7L2245.1 805.2L2248.7 830.5L2251.9 852.6L2256.4 871.5L2261.6 887.3L2265.8 900.0L2269.5 911.3L2273.5 921.8L2282.5 925.5L2290.1 934.9L2296.1 940.2L2301.3 945.1L2306.0 949.5L2306.0 948.2L2306.0 956.8" stroke="#ec0000"/>
<path d="M2108.4 951.5L2125.7 948.9L2143.1 945.0L2161.3 941.1L2167.7 937.8L2174.9 932.9L2181.9 925.8L2184.6 919.3L2187.7 911.3L2191.7 900.0L2193.5 887.3L2195.8 871.5L2198.5 852.6L2201.9 830.5L2206.2 805.2L2209.5 773.7L2212.9 735.8L2214.3 691.6L2214.8 641.0L2215.4 577.9L2216.8 514.8L2218.6 451.6L2219.9 388.4L2221.2 325.3L2222.8 388.4L2224.5 451.6L2227.4 514.8L2230.8 577.9L2235.3 641.0L2238.9 691.6L2242.4 735.8L2246.2 773.7L2249.7 805.2L2253.7 830.5L2257.2 852.6L2262.1 871.5L2267.9 887.3L2272.6 900.0L2276.7 911.3L2281.2 923.3L2291.2 927.7L2299.5 935.8L2306.0 940.9L2306.0 940.7L2306.0 946.0L2306.0 956.8L2306.0 954.3" stroke="#f40000"/>
<path d="M2097.1 949.9L2112.5 946.5L2127.9 943.1L2144.1 945.8L2149.7 933.9L2156.1 930.4L2162.3 929.3L2164.7 918.5L2167.5 911.3L2171.0 900.0L2172.6 887.3L2174.6 871.5L2177.1 852.6L2180.1 830.5L2183.9 805.2L2186.9 773.7L2189.9 735.8L2191.1 691.6L2191.6 641.0L2192.1 577.9L2193.3 514.8L2194.9 451.6L2196.0 388.4L2197.2 325.3L2198.2 388.4L2199.2 451.6L2201.0 514.8L2203.1 577.9L2205.8 641.0L2208.0 691.6L2210.2 735.8L2212.5 773.7L2214.6 805.2L2217.1 830.5L2219.2 852.6L2222.2 871.5L2225.8 887.3L2228.6 900.0L2231.2 911.3L2233.9 916.6L2240.0 930.0L2245.1 936.3L2249.2 939.0L2252.7 941.1L2263.4 951.0L2273.6 951.2L2283.8 954.6" stroke="#ff0000"/>
<path d="M2103.1 956.7L2119.4 951.7L2135.7 940.8L2152.9 943.1L2158.9 939.8L2165.7 934.8L2172.3 928.4L2174.8 915.8L2177.7 911.3L2181.4 900.0L2183.2 887.3L2185.3 871.5L2187.9 852.6L2191.1 830.5L2195.1 805.2L2198.3 773.7L2201.4 735.8L2202.8 691.6L2203.2 641.0L2203.8 577.9L2205.1 514.8L2206.7 451.6L2208.0 388.4L2209.2 325.3L2210.3 388.4L2211.5 451.6L2213.5 514.8L2215.8 577.9L2218.9 641.0L2221.4 691.6L2223.8 735.8L2226.4 773.7L2228.8 805.2L2231.5 830.5L2233.9 852.6L2237.3 871.5L2241.3 887.3L2244.5 900.0L2247.3 911.3L2250.4 918.4L2257.2 929.1L2263.0 936.2L2267.5 945.5L2271.5 943.6L2283.5 945.4L2295.0 949.1L2306.0 955.2" stroke="#a90000"/>
<path d="M2077.8 951.4L2097.1 947.8L2116.4 944.4L2136.6 945.6L2143.7 938.9L2151.7 936.2L2159.5 926.5L2162.4 920.3L2165.9 911.3L2170.3 900.0L2172.3 887.3L2174.9 871.5L2177.9 852.6L2181.7 830.5L2186.5 805.2L2190.1 773.7L2193.9 735.8L2195.5 691.6L2196.0 641.0L2196.7 577.9L2198.2 514.8L2200.2 451.6L2201.6 388.4L2203.1 325.3L2204.5 388.4L2205.8 451.6L2208.3 514.8L2211.1 577.9L2214.9 641.0L2217.9 691.6L2220.8 735.8L2223.9 773.7L2226.9 805.2L2230.2 830.5L2233.1 852.6L2237.3 871.5L2242.1 887.3L2246.0 900.0L2249.5 911.3L2253.2 917.8L2261.5 926.8L2268.5 935.7L2274.1 936.8L2278.9 946.4L2293.6 949.7L2306.0 949.9L2306.0 949.2" stroke="#f10000"/>
<path d="M2099.3 950.9L2114.6 949.2L2129.8 944.8L2145.9 943.7L2151.5 936.6L2157.8 933.3L2164.0 924.2L2166.3 918.5L2169.1 911.3L2172.6 900.0L2174.2 887.3L2176.2 871.5L2178.6 852.6L2181.6 830.5L2185.4 805.2L2188.3 773.7L2191.3 735.8L2192.5 691.6L2193.0 641.0L2193.5 577.9L2194.7 514.8L2196.2 451.6L2197.4 388.4L2198.5 325.3L2199.7 388.4L2200.8 451.6L2202.8 514.8L2205.1 577.9L2208.2 641.0L2210.6 691.6L2213.0 735.8L2215.5 773.7L2217.9 805.2L2220.7 830.5L2223.0 852.6L2226.4 871.5L2230.4 887.3L2233.5 900.0L2236.3 911.3L2239.4 916.3L2246.2 921.9L2251.9 933.6L2256.4 939.1L2260.4 946.2L2272.3 950.0L2283.6 954.1L2295.0 956.2" stroke="#fb0000"/>
<path d="M2106.5 956.8L2122.3 952.2L2138.0 949.9L2154.7 942.1L2160.4 938.0L2167.0 939.9L2173.4 927.6L2175.8 917.2L2178.6 911.3L2182.2 900.0L2183.9 887.3L2186.0 871.5L2188.5 852.6L2191.6 830.5L2195.5 805.2L2198.5 773.7L2201.6 735.8L2202.9 691.6L2203.3 641.0L2203.9 577.9L2205.1 514.8L2206.7 451.6L2207.9 388.4L2209.1 325.3L2211.0 388.4L2213.0 451.6L2216.4 514.8L2220.3 577.9L2225.6 641.0L2229.8 691.6L2233.8 735.8L2238.2 773.7L2242.3 805.2L2246.9 830.5L2251.0 852.6L2256.8 871.5L2263.6 887.3L2269.0 900.0L2273.8 911.3L2279.0 922.2L2290.6 929.0L2300.4 933.3L2306.0 941.9L2306.0 945.5L2306.0 947.3L2306.0 944.7L2306.0 951.8" stroke="#aa0000"/>
<path d="M2095.7 956.6L2112.3 947.7L2128.8 950.8L2146.2 942.7L2152.3 938.6L2159.2 936.8L2165.9 924.9L2168.4 921.4L2171.4 911.3L2175.2 900.0L2176.9 887.3L2179.1 871.5L2181.7 852.6L2185.0 830.5L2189.0 805.2L2192.2 773.7L2195.4 735.8L2196.8 691.6L2197.2 641.0L2197.8 577.9L2199.1 514.8L2200.8 451.6L2202.0 388.4L2203.3 325.3L2204.6 388.4L2205.9 451.6L2208.2 514.8L2210.9 577.9L2214.4 641.0L2217.3 691.6L2220.0 735.8L2223.0 773.7L2225.7 805.2L2228.9 830.5L2231.6 852.6L2235.6 871.5L2240.1 887.3L2243.8 900.0L2247.1 911.3L2250.6 919.2L2258.4 928.7L2265.0 941.0L2270.2 941.5L2274.8 943.0L2288.6 943.0L2301.8 948.3L2306.0 954.7" stroke="#f00000"/>
<path d="M2076.9 955.2L2095.6 948.8L2114.4 948.0L2134.2 941.1L2141.0 940.7L2148.8 933.6L2156.4 929.0L2159.3 919.6L2162.7 911.3L2167.0 900.0L2168.9 887.3L2171.4 871.5L2174.4 852.6L2178.1 830.5L2182.7 805.2L2186.3 773.7L2190.0 735.8L2191.5 691.6L2192.0 641.0L2192.7 577.9L2194.2 514.8L2196.1 451.6L2197.5 388.4L2198.9 325.3L2200.9 388.4L2202.9 451.6L2206.5 514.8L2210.7 577.9L2216.1 641.0L2220.5 691.6L2224.8 735.8L2229.4 773.7L2233.6 805.2L2238.5 830.5L2242.8 852.6L2248.8 871.5L2255.9 887.3L2261.5 900.0L2266.6 911.3L2272.0 919.3L2284.2 924.5L2294.4 941.0L2302.5 939.3L2306.0 944.3L2306.0 949.0L2306.0 951.6L2306.0 955.5" stroke="#960000"/>
<path d="M2087.6 949.8L2106.4 951.3L2125.2 946.2L2145.0 946.8L2151.8 940.6L2159.6 931.0L2167.2 926.8L2170.1 918.6L2173.5 911.3L2177.8 900.0L2179.7 887.3L2182.2 871.5L2185.2 852.6L2188.9 830.5L2193.5 805.2L2197.1 773.7L2200.8 735.8L2202.3 691.6L2202.8 641.0L2203.5 577.9L2205.0 514.8L2206.9 451.6L2208.3 388.4L2209.7 325.3L2211.4 388.4L2213.2 451.6L2216.3 514.8L2219.9 577.9L2224.6 641.0L2228.4 691.6L2232.0 735.8L2236.0 773.7L2239.7 805.2L2243.9 830.5L2247.5 852.6L2252.8 871.5L2258.8 887.3L2263.7 900.0L2268.1 911.3L2272.8 921.9L2283.3 926.8L2292.0 931.4L2299.0 939.5L2305.2 939.3L2306.0 943.8L2306.0 955.7L2306.0 953.4" stroke="#a40000"/>
<path d="M2105.4 953.1L2120.5 952.5L2135.6 947.5L2151.5 943.1L2157.0 940.0L2163.3 929.7L2169.4 929.1L2171.8 924.2L2174.5 911.3L2177.9 900.0L2179.5 887.3L2181.5 871.5L2183.9 852.6L2186.9 830.5L2190.6 805.2L2193.5 773.7L2196.4 735.8L2197.7 691.6L2198.1 641.0L2198.6 577.9L2199.8 514.8L2201.4 451.6L2202.5 388.4L2203.6 325.3L2205.3 388.4L2207.0 451.6L2210.0 514.8L2213.5 577.9L2218.1 641.0L2221.8 691.6L2225.4 735.8L2229.2 773.7L2232.8 805.2L2236.9 830.5L2240.5 852.6L2245.6 871.5L2251.5 887.3L2256.3 900.0L2260.5 911.3L2265.1 917.4L2275.3 928.9L2283.9 931.7L2290.7 943.8L2296.7 942.2L2306.0 950.5L2306.0 953.7L2306.0 951.6" stroke="#960000"/>
<path d="M2065.2 955.2L2085.7 948.8L2106.2 942.0L2127.8 943.6L2135.3 939.0L2143.9 931.8L2152.2 922.4L2155.3 921.5L2159.0 911.3L2163.7 900.0L2165.9 887.3L2168.6 871.5L2171.8 852.6L2175.9 830.5L2180.9 805.2L2184.9 773.7L2188.9 735.8L2190.6 691.6L2191.1 641.0L2191.8 577.9L2193.5 514.8L2195.5 451.6L2197.1 388.4L2198.6 325.3L2200.6 388.4L2202.7 451.6L2206.3 514.8L2210.4 577.9L2215.9 641.0L2220.2 691.6L2224.5 735.8L2229.1 773.7L2233.3 805.2L2238.2 830.5L2242.5 852.6L2248.5 871.5L2255.6 887.3L2261.2 900.0L2266.3 911.3L2271.7 920.5L2283.9 927.2L2294.1 935.2L2302.2 943.4L2306.0 940.5L2306.0 944.3L2306.0 950.4L2306.0 954.0" stroke="#960000"/>
<path d="M1340 941.4 L1343 939.4 L1346 940.9 L1349 940.0 L1352 933.6 L1355 936.7 L1358 935.4 L1361 932.8 L1364 932.2 L1367 936.1 L1370 930.9 L1373 932.5 L1376 932.4 L1379 929.7 L1382 932.2 L1385 927.2 L1388 919.9 L1391 908.6 L1394 894.6 L1397 869.8 L1400 851.7 L1403 865.9 L1406 891.8 L1409 906.9 L1412 920.6 L1415 925.9 L1418 927.8 L1421 931.6 L1424 933.7 L1427 929.3 L1430 934.8 L1433 937.3 L1436 934.1 L1439 931.1 L1442 935.8 L1445 933.1 L1448 937.5 L1451 937.8 L1454 938.5 L1457 937.2 L1460 932.3" stroke="#7f00fc" stroke-width="1.4"/>
<path d="M1336 934.1 L1339 934.5 L1342 935.2 L1345 939.8 L1348 934.4 L1351 937.6 L1354 928.1 L1357 934.7 L1360 933.0 L1363 935.6 L1366 932.9 L1369 933.6 L1372 926.0 L1375 926.6 L1378 920.8 L1381 918.5 L1384 909.3 L1387 890.8 L1390 874.5 L1393 848.1 L1396 826.6 L1399 846.4 L1402 873.1 L1405 891.8 L1408 910.1 L1411 914.5 L1414 924.0 L1417 922.2 L1420 925.2 L1423 931.5 L1426 932.2 L1429 934.8 L1432 933.0 L1435 931.2 L1438 938.3 L1441 932.7 L1444 938.7 L1447 937.8 L1450 940.4 L1453 930.8 L1456 936.1" stroke="#5800ff" stroke-width="1.4"/>
<path d="M1338 935.3 L1341 929.5 L1344 935.7 L1347 934.3 L1350 932.3 L1353 935.5 L1356 932.7 L1359 929.6 L1362 930.6 L1365 928.9 L1368 929.2 L1371 925.4 L1374 923.4 L1377 916.0 L1380 912.5 L1383 907.0 L1386 900.6 L1389 874.5 L1392 848.1 L1395 822.1 L1398 809.6 L1401 822.7 L1404 847.7 L1407 879.0 L1410 895.6 L1413 905.8 L1416 911.2 L1419 919.7 L1422 923.7 L1425 927.6 L1428 924.2 L1431 927.2 L1434 931.3 L1437 935.6 L1440 934.8 L1443 932.0 L1446 935.8 L1449 932.1 L1452 933.8 L1455 934.3 L1458 933.7" stroke="#8500f6" stroke-width="1.4"/>
<path d="M1347 938.3 L1350 936.1 L1353 931.9 L1356 934.6 L1359 935.8 L1362 936.6 L1365 931.2 L1368 929.2 L1371 927.2 L1374 929.3 L1377 925.1 L1380 928.2 L1383 922.1 L1386 920.1 L1389 911.9 L1392 901.4 L1395 886.4 L1398 868.6 L1401 826.7 L1404 784.2 L1407 759.3 L1410 783.4 L1413 833.6 L1416 866.1 L1419 888.3 L1422 903.8 L1425 911.0 L1428 919.2 L1431 922.6 L1434 929.2 L1437 927.7 L1440 931.6 L1443 931.9 L1446 932.0 L1449 932.1 L1452 937.4 L1455 937.7 L1458 935.0 L1461 933.4 L1464 934.0 L1467 933.0" stroke="#4900ff" stroke-width="1.4"/>
<path d="M1337 938.5 L1340 937.1 L1343 935.0 L1346 934.9 L1349 935.1 L1352 935.2 L1355 932.7 L1358 933.3 L1361 932.4 L1364 931.5 L1367 932.6 L1370 932.3 L1373 926.5 L1376 924.0 L1379 921.8 L1382 916.6 L1385 901.1 L1388 895.4 L1391 874.0 L1394 849.0 L1397 840.3 L1400 849.4 L1403 868.9 L1406 891.1 L1409 905.3 L1412 914.1 L1415 921.0 L1418 922.7 L1421 928.2 L1424 930.8 L1427 930.9 L1430 930.0 L1433 932.3 L1436 932.1 L1439 939.4 L1442 931.8 L1445 929.2 L1448 932.1 L1451 936.5 L1454 938.1 L1457 935.4" stroke="#9700df" stroke-width="1.4"/>
<path d="M1336 933.0 L1339 941.4 L1342 935.3 L1345 937.6 L1348 939.2 L1351 936.9 L1354 935.5 L1357 931.9 L1360 937.8 L1363 930.5 L1366 927.1 L1369 929.5 L1372 927.9 L1375 926.9 L1378 926.3 L1381 916.5 L1384 908.0 L1387 892.0 L1390 860.8 L1393 825.4 L1396 800.4 L1399 823.3 L1402 870.7 L1405 896.7 L1408 910.0 L1411 919.5 L1414 921.6 L1417 927.7 L1420 924.9 L1423 927.2 L1426 930.3 L1429 934.2 L1432 932.3 L1435 932.4 L1438 937.6 L1441 934.4 L1444 933.8 L1447 935.3 L1450 932.1 L1453 933.2 L1456 938.5" stroke="#6600ff" stroke-width="1.4"/>
<path d="M1343 931.1 L1346 932.0 L1349 930.0 L1352 932.1 L1355 934.7 L1358 925.7 L1361 929.5 L1364 924.3 L1367 925.0 L1370 922.4 L1373 916.8 L1376 917.2 L1379 910.1 L1382 911.4 L1385 897.2 L1388 888.4 L1391 871.7 L1394 848.6 L1397 818.9 L1400 787.2 L1403 783.3 L1406 791.2 L1409 821.6 L1412 845.7 L1415 872.4 L1418 886.6 L1421 900.4 L1424 906.0 L1427 911.1 L1430 919.1 L1433 921.3 L1436 927.7 L1439 925.3 L1442 925.6 L1445 930.5 L1448 927.3 L1451 936.3 L1454 936.5 L1457 935.9 L1460 934.2 L1463 933.4" stroke="#80ff40" stroke-width="1.3"/>
<path d="M1356 937.8 L1359 939.7 L1362 939.5 L1365 930.8 L1368 941.9 L1371 936.1 L1374 931.7 L1377 933.7 L1380 936.6 L1383 933.9 L1386 930.9 L1389 929.0 L1392 932.9 L1395 926.7 L1398 925.2 L1401 918.7 L1404 911.3 L1407 904.8 L1410 890.3 L1413 863.3 L1416 847.2 L1419 862.6 L1422 886.1 L1425 897.8 L1428 917.4 L1431 919.2 L1434 927.2 L1437 928.5 L1440 930.4 L1443 928.2 L1446 935.5 L1449 935.2 L1452 938.5 L1455 933.7 L1458 936.5 L1461 934.6 L1464 938.6 L1467 937.1 L1470 933.7 L1473 936.9 L1476 935.0" stroke="#00f0a0" stroke-width="1.3"/>
<path d="M1343 935.5 L1346 933.2 L1349 940.6 L1352 939.4 L1355 940.3 L1358 936.7 L1361 931.4 L1364 932.0 L1367 932.8 L1370 931.5 L1373 928.7 L1376 929.9 L1379 926.1 L1382 923.9 L1385 925.9 L1388 915.6 L1391 902.8 L1394 894.9 L1397 877.2 L1400 859.9 L1403 850.6 L1406 855.5 L1409 877.5 L1412 896.5 L1415 914.1 L1418 916.1 L1421 925.3 L1424 928.9 L1427 925.1 L1430 927.3 L1433 935.5 L1436 929.7 L1439 931.6 L1442 935.4 L1445 932.2 L1448 938.6 L1451 937.9 L1454 938.9 L1457 938.3 L1460 933.5 L1463 939.3" stroke="#00f0a0" stroke-width="1.3"/>
<path d="M1348 936.1 L1351 932.8 L1354 936.5 L1357 937.6 L1360 935.1 L1363 933.2 L1366 935.0 L1369 931.2 L1372 926.3 L1375 931.1 L1378 927.9 L1381 922.5 L1384 924.7 L1387 921.1 L1390 916.0 L1393 903.5 L1396 889.8 L1399 870.1 L1402 836.6 L1405 792.2 L1408 770.7 L1411 798.9 L1414 836.8 L1417 869.5 L1420 889.3 L1423 905.1 L1426 914.8 L1429 920.2 L1432 927.5 L1435 926.0 L1438 929.6 L1441 928.5 L1444 933.6 L1447 933.1 L1450 935.2 L1453 936.1 L1456 932.2 L1459 935.6 L1462 933.7 L1465 937.9 L1468 935.1" stroke="#80ff40" stroke-width="1.3"/>
<path d="M1342 935.3 L1345 936.0 L1348 933.1 L1351 934.5 L1354 933.2 L1357 932.2 L1360 933.7 L1363 933.6 L1366 931.2 L1369 932.0 L1372 928.5 L1375 924.8 L1378 922.9 L1381 922.3 L1384 919.3 L1387 908.0 L1390 894.9 L1393 869.1 L1396 833.4 L1399 774.2 L1402 734.3 L1405 774.9 L1408 832.8 L1411 867.5 L1414 890.8 L1417 906.3 L1420 915.4 L1423 923.8 L1426 923.6 L1429 927.5 L1432 928.9 L1435 932.2 L1438 932.0 L1441 933.3 L1444 932.8 L1447 930.5 L1450 933.7 L1453 939.1 L1456 937.7 L1459 939.5 L1462 937.8" stroke="#00f0a0" stroke-width="1.3"/>
<path d="M1345 935.2 L1348 937.6 L1351 939.0 L1354 938.7 L1357 937.0 L1360 930.8 L1363 937.2 L1366 930.1 L1369 929.1 L1372 932.0 L1375 930.4 L1378 930.3 L1381 926.7 L1384 922.1 L1387 919.8 L1390 911.7 L1393 903.3 L1396 894.2 L1399 879.8 L1402 866.3 L1405 858.7 L1408 869.0 L1411 879.6 L1414 894.6 L1417 908.5 L1420 908.8 L1423 922.3 L1426 926.0 L1429 925.9 L1432 933.6 L1435 932.3 L1438 935.4 L1441 934.9 L1444 933.6 L1447 933.1 L1450 931.6 L1453 932.8 L1456 932.2 L1459 934.0 L1462 936.9 L1465 933.1" stroke="#00e050" stroke-width="1.3"/>
<path d="M1355 936.3 L1358 934.8 L1361 934.4 L1364 939.9 L1367 936.5 L1370 939.0 L1373 935.4 L1376 937.1 L1379 931.5 L1382 933.1 L1385 935.7 L1388 932.8 L1391 934.5 L1394 929.6 L1397 925.7 L1400 922.6 L1403 922.1 L1406 908.5 L1409 891.3 L1412 872.6 L1415 859.8 L1418 876.6 L1421 891.3 L1424 909.3 L1427 916.8 L1430 922.2 L1433 925.4 L1436 931.1 L1439 931.0 L1442 935.7 L1445 937.2 L1448 933.0 L1451 935.1 L1454 939.5 L1457 937.9 L1460 936.0 L1463 932.3 L1466 933.8 L1469 934.6 L1472 941.3 L1475 937.1" stroke="#40f040" stroke-width="1.3"/>
<path d="M1345 935.5 L1348 930.2 L1351 930.5 L1354 934.0 L1357 935.7 L1360 927.4 L1363 933.3 L1366 927.9 L1369 925.0 L1372 930.7 L1375 925.7 L1378 924.8 L1381 919.3 L1384 915.2 L1387 904.6 L1390 898.6 L1393 885.8 L1396 861.4 L1399 834.2 L1402 799.4 L1405 775.3 L1408 800.6 L1411 834.7 L1414 864.2 L1417 888.5 L1420 905.4 L1423 906.9 L1426 918.0 L1429 922.0 L1432 924.9 L1435 928.9 L1438 931.0 L1441 929.4 L1444 924.9 L1447 930.0 L1450 930.7 L1453 937.1 L1456 933.9 L1459 937.2 L1462 932.7 L1465 935.5" stroke="#80ff40" stroke-width="1.3"/>
<path d="M1347 933.1 L1350 937.7 L1353 936.8 L1356 934.1 L1359 934.5 L1362 931.4 L1365 928.6 L1368 929.5 L1371 928.3 L1374 927.1 L1377 922.9 L1380 927.0 L1383 917.7 L1386 915.9 L1389 909.4 L1392 895.7 L1395 880.7 L1398 854.1 L1401 818.2 L1404 787.4 L1407 761.8 L1410 776.5 L1413 818.8 L1416 851.9 L1419 879.5 L1422 899.3 L1425 909.1 L1428 911.7 L1431 916.2 L1434 924.2 L1437 925.8 L1440 926.5 L1443 933.3 L1446 931.0 L1449 927.1 L1452 926.5 L1455 933.0 L1458 928.7 L1461 935.1 L1464 936.3 L1467 940.2" stroke="#00e050" stroke-width="1.3"/>
<path d="M1355 935.8 L1358 936.0 L1361 940.8 L1364 932.3 L1367 936.7 L1370 935.9 L1373 940.7 L1376 932.4 L1379 931.7 L1382 935.0 L1385 932.3 L1388 930.3 L1391 927.3 L1394 927.1 L1397 919.7 L1400 919.5 L1403 912.2 L1406 898.2 L1409 880.6 L1412 844.2 L1415 820.4 L1418 841.5 L1421 876.3 L1424 896.1 L1427 915.8 L1430 919.6 L1433 922.7 L1436 925.6 L1439 931.6 L1442 929.0 L1445 927.8 L1448 934.5 L1451 932.3 L1454 938.6 L1457 940.1 L1460 934.0 L1463 935.7 L1466 935.5 L1469 937.7 L1472 937.2 L1475 934.5" stroke="#00f0a0" stroke-width="1.3"/>
<path d="M1465 933.2 L1468 938.1 L1471 941.6 L1474 934.2 L1477 935.8 L1480 935.5 L1483 936.6 L1486 931.1 L1489 936.6 L1492 935.3 L1495 941.0 L1498 937.4 L1501 937.1 L1504 934.7 L1507 932.6 L1510 933.6 L1513 924.3 L1516 925.8 L1519 913.2 L1522 890.9 L1525 878.0 L1528 890.1 L1531 910.5 L1534 923.8 L1537 923.8 L1540 931.5 L1543 932.8 L1546 937.0 L1549 939.6 L1552 937.5 L1555 937.1 L1558 937.7 L1561 934.8 L1564 943.0 L1567 940.0 L1570 941.8 L1573 933.9 L1576 938.8 L1579 938.7 L1582 940.3 L1585 935.3" stroke="#1060ff" stroke-width="1.6"/>
<path d="M1467 938.7 L1470 937.0 L1473 942.7 L1476 934.5 L1479 936.4 L1482 935.9 L1485 934.1 L1488 937.6 L1491 937.4 L1494 935.0 L1497 935.5 L1500 936.8 L1503 935.6 L1506 936.4 L1509 932.3 L1512 930.3 L1515 930.0 L1518 920.6 L1521 919.9 L1524 899.1 L1527 880.0 L1530 899.6 L1533 920.0 L1536 921.8 L1539 928.7 L1542 935.6 L1545 932.2 L1548 937.7 L1551 939.1 L1554 936.6 L1557 937.7 L1560 939.6 L1563 937.9 L1566 939.7 L1569 937.1 L1572 937.4 L1575 935.5 L1578 938.6 L1581 940.9 L1584 940.9 L1587 938.2" stroke="#20a0ff" stroke-width="1.6"/>
<path d="M1512 933.7 L1515 935.4 L1518 939.1 L1521 935.1 L1524 940.3 L1527 934.7 L1530 938.2 L1533 935.2 L1536 935.4 L1539 937.5 L1542 935.7 L1545 938.9 L1548 935.9 L1551 932.4 L1554 923.8 L1557 931.0 L1560 930.2 L1563 928.9 L1566 916.3 L1569 911.9 L1572 902.1 L1575 906.8 L1578 922.1 L1581 922.4 L1584 927.6 L1587 934.2 L1590 935.6 L1593 938.5 L1596 939.3 L1599 935.1 L1602 934.9 L1605 935.9 L1608 936.3 L1611 938.5 L1614 936.3 L1617 941.0 L1620 937.4 L1623 933.7 L1626 934.2 L1629 938.7 L1632 938.4" stroke="#6040d0" stroke-width="1.4"/>
<path d="M1780 935.7 L1783 933.0 L1786 938.0 L1789 934.0 L1792 936.1 L1795 929.0 L1798 933.5 L1801 934.4 L1804 934.3 L1807 929.9 L1810 929.8 L1813 932.8 L1816 927.6 L1819 928.8 L1822 923.3 L1825 918.4 L1828 908.5 L1831 889.9 L1834 861.5 L1837 814.9 L1840 787.4 L1843 816.9 L1846 861.9 L1849 886.2 L1852 910.3 L1855 920.1 L1858 919.5 L1861 923.7 L1864 925.7 L1867 930.6 L1870 934.7 L1873 933.9 L1876 932.0 L1879 936.0 L1882 936.4 L1885 938.6 L1888 938.3 L1891 933.5 L1894 934.8 L1897 939.1 L1900 939.0" stroke="#8b1010" stroke-width="1.4"/>
<path d="M1781 937.4 L1784 942.3 L1787 939.9 L1790 935.5 L1793 934.1 L1796 939.1 L1799 937.8 L1802 933.5 L1805 936.1 L1808 936.0 L1811 932.6 L1814 932.5 L1817 929.0 L1820 928.0 L1823 928.9 L1826 923.8 L1829 917.1 L1832 908.9 L1835 887.2 L1838 849.3 L1841 833.3 L1844 849.2 L1847 884.0 L1850 905.8 L1853 915.6 L1856 922.3 L1859 924.4 L1862 931.1 L1865 932.4 L1868 933.7 L1871 929.2 L1874 932.2 L1877 937.5 L1880 936.4 L1883 937.7 L1886 936.1 L1889 935.8 L1892 930.7 L1895 941.3 L1898 934.2 L1901 935.8" stroke="#a01818" stroke-width="1.4"/>
<path d="M1775 934.0 L1778 940.2 L1781 932.9 L1784 937.0 L1787 932.0 L1790 934.4 L1793 932.0 L1796 933.3 L1799 931.4 L1802 933.3 L1805 934.7 L1808 929.7 L1811 928.1 L1814 922.4 L1817 929.6 L1820 920.4 L1823 910.0 L1826 904.5 L1829 884.5 L1832 857.2 L1835 847.5 L1838 864.8 L1841 880.3 L1844 898.3 L1847 910.7 L1850 918.9 L1853 923.9 L1856 929.9 L1859 931.2 L1862 929.6 L1865 932.2 L1868 928.8 L1871 935.0 L1874 940.8 L1877 936.0 L1880 934.8 L1883 934.8 L1886 935.8 L1889 938.3 L1892 932.6 L1895 938.2" stroke="#b02020" stroke-width="1.4"/>
<path d="M1778 931.3 L1781 940.9 L1784 936.3 L1787 932.6 L1790 934.1 L1793 930.7 L1796 932.1 L1799 932.0 L1802 924.3 L1805 928.8 L1808 926.8 L1811 926.7 L1814 922.6 L1817 914.6 L1820 908.5 L1823 900.8 L1826 889.1 L1829 865.6 L1832 844.0 L1835 810.3 L1838 795.4 L1841 811.6 L1844 839.3 L1847 869.1 L1850 889.4 L1853 896.3 L1856 908.1 L1859 913.2 L1862 920.6 L1865 921.5 L1868 924.4 L1871 925.2 L1874 923.7 L1877 931.4 L1880 931.1 L1883 932.7 L1886 942.0 L1889 937.2 L1892 934.1 L1895 932.9 L1898 936.3" stroke="#a01818" stroke-width="1.4"/>
<path d="M1782 932.8 L1785 935.9 L1788 939.5 L1791 933.2 L1794 937.2 L1797 937.6 L1800 936.2 L1803 937.6 L1806 933.3 L1809 933.7 L1812 932.1 L1815 933.1 L1818 935.8 L1821 933.1 L1824 928.8 L1827 929.4 L1830 916.8 L1833 917.6 L1836 906.0 L1839 882.7 L1842 871.6 L1845 885.7 L1848 905.1 L1851 915.9 L1854 922.1 L1857 926.5 L1860 931.7 L1863 931.6 L1866 931.7 L1869 932.7 L1872 943.0 L1875 937.9 L1878 937.9 L1881 936.8 L1884 936.0 L1887 934.3 L1890 935.2 L1893 937.2 L1896 937.0 L1899 932.7 L1902 938.7" stroke="#cc3300" stroke-width="1.4"/>
<path d="M1777 941.7 L1780 935.5 L1783 937.3 L1786 936.4 L1789 933.2 L1792 934.4 L1795 936.0 L1798 932.7 L1801 933.3 L1804 933.5 L1807 932.3 L1810 931.4 L1813 931.5 L1816 929.9 L1819 926.0 L1822 924.6 L1825 919.6 L1828 904.5 L1831 896.2 L1834 882.2 L1837 875.8 L1840 882.1 L1843 895.6 L1846 907.6 L1849 918.4 L1852 919.8 L1855 927.8 L1858 926.1 L1861 935.5 L1864 934.7 L1867 930.5 L1870 934.2 L1873 936.1 L1876 934.0 L1879 937.9 L1882 935.4 L1885 941.5 L1888 937.2 L1891 937.9 L1894 935.1 L1897 934.4" stroke="#cc3300" stroke-width="1.4"/>
<path d="M1777 941.9 L1780 931.8 L1783 935.7 L1786 936.8 L1789 936.7 L1792 937.2 L1795 930.5 L1798 933.6 L1801 928.1 L1804 932.2 L1807 936.4 L1810 926.7 L1813 927.6 L1816 924.3 L1819 915.4 L1822 913.6 L1825 900.1 L1828 887.5 L1831 865.9 L1834 833.9 L1837 821.4 L1840 832.1 L1843 861.5 L1846 887.3 L1849 901.5 L1852 911.5 L1855 920.0 L1858 921.4 L1861 927.2 L1864 927.3 L1867 932.8 L1870 931.4 L1873 931.6 L1876 935.3 L1879 935.0 L1882 935.8 L1885 933.0 L1888 937.0 L1891 934.3 L1894 931.8 L1897 935.0" stroke="#a01818" stroke-width="1.4"/>
<path d="M1774 937.3 L1777 933.7 L1780 934.8 L1783 935.1 L1786 936.6 L1789 937.0 L1792 936.0 L1795 934.8 L1798 933.1 L1801 932.8 L1804 933.8 L1807 931.8 L1810 929.6 L1813 932.6 L1816 927.4 L1819 922.9 L1822 914.0 L1825 901.7 L1828 880.1 L1831 850.3 L1834 826.7 L1837 847.4 L1840 883.6 L1843 900.9 L1846 916.3 L1849 916.6 L1852 926.6 L1855 929.5 L1858 930.3 L1861 932.5 L1864 933.2 L1867 929.9 L1870 933.9 L1873 932.8 L1876 932.5 L1879 938.1 L1882 931.6 L1885 934.4 L1888 933.9 L1891 938.6 L1894 934.5" stroke="#cc3300" stroke-width="1.4"/>
<path d="M1774 936.8 L1777 935.5 L1780 933.5 L1783 932.7 L1786 933.8 L1789 931.9 L1792 930.8 L1795 937.2 L1798 934.7 L1801 935.0 L1804 931.3 L1807 926.6 L1810 926.7 L1813 928.3 L1816 922.5 L1819 913.2 L1822 907.5 L1825 889.9 L1828 860.7 L1831 824.6 L1834 792.0 L1837 819.2 L1840 860.0 L1843 892.2 L1846 908.1 L1849 917.3 L1852 921.1 L1855 925.5 L1858 928.0 L1861 925.7 L1864 928.3 L1867 934.4 L1870 935.1 L1873 929.7 L1876 935.4 L1879 931.5 L1882 931.3 L1885 937.0 L1888 936.5 L1891 935.8 L1894 938.4" stroke="#b02020" stroke-width="1.4"/>
<path d="M1779 936.3 L1782 935.4 L1785 935.7 L1788 937.6 L1791 929.9 L1794 939.0 L1797 934.1 L1800 930.2 L1803 934.1 L1806 927.7 L1809 924.4 L1812 927.5 L1815 921.8 L1818 920.9 L1821 910.7 L1824 902.7 L1827 888.2 L1830 862.7 L1833 830.0 L1836 783.5 L1839 761.0 L1842 789.9 L1845 830.5 L1848 865.0 L1851 892.4 L1854 899.5 L1857 911.8 L1860 917.1 L1863 924.5 L1866 925.1 L1869 926.8 L1872 930.1 L1875 930.3 L1878 936.9 L1881 929.0 L1884 935.9 L1887 939.2 L1890 936.5 L1893 936.6 L1896 933.5 L1899 937.4" stroke="#8b1010" stroke-width="1.4"/>
</g>
<path d="M1850 925.2 L1854 921.7 L1858 924.5 L1862 927.5 L1866 925.6 L1870 924.8 L1874 919.5 L1878 915.2 L1882 906.3 L1886 913.3 L1890 917.6 L1894 923.9 L1898 924.9 L1902 925.3 L1906 923.7 L1910 923.4 L1914 924.4 L1918 924.7 L1922 925.8 L1926 928.1 L1930 928.6 L1934 928.2 L1938 928.9 L1942 931.0 L1946 930.6 L1950 929.4 L1954 930.5 L1958 929.7 L1962 926.2 L1966 924.0 L1970 925.4 L1974 926.2 L1978 924.5 L1982 922.9 L1986 919.7 L1990 913.2 L1994 908.2 L1998 912.4 L2002 919.7 L2006 923.2" stroke="#e00000" stroke-width="1.6" fill="none" stroke-linejoin="round"/>
<path d="M1850 924.4 L1854 921.0 L1858 912.8 L1862 910.7 L1866 913.7 L1870 920.3 L1874 921.7 L1878 925.2 L1882 924.8 L1886 925.4 L1890 926.2 L1894 926.6 L1898 928.0 L1902 923.7 L1906 925.1 L1910 924.7 L1914 925.4 L1918 926.2 L1922 925.1 L1926 925.9 L1930 923.6 L1934 925.5 L1938 923.4 L1942 923.3 L1946 922.7 L1950 923.4 L1954 922.3 L1958 919.0 L1962 922.7 L1966 923.3 L1970 925.1 L1974 920.4 L1978 917.5 L1982 907.9 L1986 907.0 L1990 910.2 L1994 918.2 L1998 923.2 L2002 926.0 L2006 925.2" stroke="#e00000" stroke-width="1.6" fill="none" stroke-linejoin="round"/>
<path d="M1850 925.2 L1854 923.1 L1858 925.3 L1862 926.0 L1866 925.1 L1870 926.8 L1874 926.2 L1878 925.3 L1882 924.2 L1886 925.2 L1890 927.9 L1894 928.6 L1898 926.2 L1902 924.3 L1906 925.9 L1910 925.7 L1914 924.5 L1918 918.5 L1922 920.7 L1926 922.3 L1930 928.3 L1934 926.2 L1938 921.1 L1942 920.1 L1946 923.4 L1950 926.7 L1954 926.7 L1958 926.1 L1962 927.6 L1966 925.4 L1970 921.1 L1974 916.5 L1978 912.0 L1982 915.3 L1986 917.4 L1990 922.5 L1994 922.7 L1998 922.9 L2002 923.6 L2006 924.1" stroke="#e00000" stroke-width="1.6" fill="none" stroke-linejoin="round"/>
<path d="M1850 925.2 L1854 928.5 L1858 929.2 L1862 928.9 L1866 928.2 L1870 925.9 L1874 925.5 L1878 928.6 L1882 929.2 L1886 928.2 L1890 923.1 L1894 922.0 L1898 923.5 L1902 926.6 L1906 924.1 L1910 921.8 L1914 917.5 L1918 917.3 L1922 919.8 L1926 921.3 L1930 920.7 L1934 911.8 L1938 905.6 L1942 906.9 L1946 914.3 L1950 923.8 L1954 927.0 L1958 929.2 L1962 926.5 L1966 927.1 L1970 924.7 L1974 923.3 L1978 920.2 L1982 914.6 L1986 905.4 L1990 900.2 L1994 906.2 L1998 917.9 L2002 923.2 L2006 924.8" stroke="#ff1010" stroke-width="1.6" fill="none" stroke-linejoin="round"/>
<path d="M1850 925.2 L1854 926.7 L1858 927.5 L1862 929.2 L1866 924.0 L1870 915.0 L1874 906.7 L1878 910.7 L1882 923.0 L1886 923.5 L1890 927.3 L1894 924.0 L1898 926.1 L1902 925.9 L1906 926.2 L1910 925.5 L1914 922.3 L1918 922.3 L1922 922.4 L1926 922.9 L1930 922.8 L1934 924.6 L1938 923.8 L1942 926.0 L1946 924.4 L1950 926.2 L1954 925.9 L1958 925.0 L1962 918.3 L1966 912.2 L1970 913.7 L1974 918.0 L1978 923.3 L1982 924.3 L1986 925.9 L1990 929.2 L1994 928.7 L1998 930.5 L2002 927.8 L2006 925.2" stroke="#c00000" stroke-width="1.6" fill="none" stroke-linejoin="round"/>
<path d="M1850 925.2 L1854 927.1 L1858 928.6 L1862 927.4 L1866 924.9 L1870 924.7 L1874 924.5 L1878 925.2 L1882 928.2 L1886 929.5 L1890 928.3 L1894 924.9 L1898 915.1 L1902 900.7 L1906 904.0 L1910 912.6 L1914 915.5 L1918 917.2 L1922 919.9 L1926 922.9 L1930 922.9 L1934 921.2 L1938 919.2 L1942 921.5 L1946 923.9 L1950 923.1 L1954 921.5 L1958 923.4 L1962 923.0 L1966 925.7 L1970 923.9 L1974 926.5 L1978 926.4 L1982 925.2 L1986 924.6 L1990 924.6 L1994 925.6 L1998 926.9 L2002 928.1 L2006 925.2" stroke="#ff1010" stroke-width="1.6" fill="none" stroke-linejoin="round"/>
<path d="M1850 925.2 L1854 922.5 L1858 923.6 L1862 925.6 L1866 927.3 L1870 925.6 L1874 923.3 L1878 922.6 L1882 924.6 L1886 925.9 L1890 924.5 L1894 924.1 L1898 919.0 L1902 921.2 L1906 921.2 L1910 925.5 L1914 926.4 L1918 929.1 L1922 928.7 L1926 924.5 L1930 920.9 L1934 909.1 L1938 895.3 L1942 899.9 L1946 911.0 L1950 924.8 L1954 924.5 L1958 928.4 L1962 929.9 L1966 929.4 L1970 926.5 L1974 921.8 L1978 923.7 L1982 923.4 L1986 921.2 L1990 921.3 L1994 923.1 L1998 928.1 L2002 926.9 L2006 925.2" stroke="#ff1010" stroke-width="1.6" fill="none" stroke-linejoin="round"/>
<path d="M1850 906.9 L1854 898.7 L1858 913.0 L1862 921.2 L1866 925.5 L1870 921.2 L1874 920.7 L1878 918.9 L1882 921.6 L1886 920.8 L1890 912.2 L1894 899.6 L1898 903.4 L1902 916.7 L1906 921.9 L1910 923.3 L1914 922.9 L1918 926.4 L1922 927.6 L1926 928.6 L1930 932.0 L1934 929.3 L1938 927.3 L1942 922.9 L1946 922.9 L1950 923.1 L1954 922.1 L1958 928.0 L1962 929.2 L1966 928.9 L1970 922.0 L1974 918.5 L1978 917.0 L1982 921.7 L1986 928.5 L1990 929.9 L1994 927.9 L1998 922.6 L2002 923.8 L2006 925.2" stroke="#ff1010" stroke-width="1.6" fill="none" stroke-linejoin="round"/>
<path d="M1850 925.2 L1854 923.4 L1858 923.1 L1862 924.0 L1866 926.3 L1870 924.2 L1874 923.4 L1878 920.8 L1882 923.0 L1886 923.6 L1890 924.8 L1894 919.6 L1898 908.9 L1902 901.9 L1906 910.1 L1910 920.7 L1914 926.9 L1918 923.5 L1922 926.6 L1926 925.8 L1930 929.4 L1934 924.7 L1938 926.2 L1942 924.7 L1946 922.8 L1950 921.4 L1954 921.3 L1958 923.3 L1962 925.1 L1966 924.9 L1970 925.9 L1974 926.0 L1978 927.0 L1982 927.0 L1986 924.4 L1990 924.4 L1994 923.9 L1998 916.9 L2002 904.4 L2006 908.2" stroke="#ff1010" stroke-width="1.6" fill="none" stroke-linejoin="round"/>
<path d="M1850 925.2 L1854 927.6 L1858 930.2 L1862 927.4 L1866 929.4 L1870 929.1 L1874 929.2 L1878 927.3 L1882 928.0 L1886 926.9 L1890 923.1 L1894 922.2 L1898 917.7 L1902 916.0 L1906 907.3 L1910 911.2 L1914 919.9 L1918 923.0 L1922 924.2 L1926 923.4 L1930 926.1 L1934 929.5 L1938 928.8 L1942 926.8 L1946 927.1 L1950 927.2 L1954 928.0 L1958 921.2 L1962 913.0 L1966 907.8 L1970 909.3 L1974 915.6 L1978 921.6 L1982 924.3 L1986 924.3 L1990 921.1 L1994 920.1 L1998 922.3 L2002 924.1 L2006 925.2" stroke="#c00000" stroke-width="1.6" fill="none" stroke-linejoin="round"/>
<path d="M1850 925.2 L1854 925.5 L1858 922.5 L1862 922.6 L1866 924.1 L1870 925.5 L1874 925.0 L1878 924.0 L1882 921.0 L1886 922.7 L1890 923.6 L1894 926.6 L1898 926.3 L1902 925.9 L1906 925.4 L1910 923.9 L1914 926.4 L1918 927.8 L1922 929.6 L1926 930.5 L1930 926.5 L1934 928.0 L1938 923.3 L1942 920.9 L1946 910.2 L1950 905.1 L1954 903.9 L1958 909.8 L1962 916.8 L1966 921.6 L1970 927.3 L1974 926.0 L1978 924.1 L1982 922.6 L1986 924.1 L1990 926.9 L1994 926.8 L1998 922.8 L2002 908.4 L2006 898.4" stroke="#e00000" stroke-width="1.6" fill="none" stroke-linejoin="round"/>
<path d="M1850 925.2 L1854 925.1 L1858 924.7 L1862 923.1 L1866 926.1 L1870 923.6 L1874 926.2 L1878 924.4 L1882 929.1 L1886 926.8 L1890 924.4 L1894 920.3 L1898 919.8 L1902 923.9 L1906 923.0 L1910 915.7 L1914 910.1 L1918 914.8 L1922 921.8 L1926 922.6 L1930 921.3 L1934 911.3 L1938 899.9 L1942 911.3 L1946 923.0 L1950 924.9 L1954 922.8 L1958 921.9 L1962 924.7 L1966 926.6 L1970 928.2 L1974 928.2 L1978 928.1 L1982 926.7 L1986 922.6 L1990 919.8 L1994 921.5 L1998 923.7 L2002 923.7 L2006 925.2" stroke="#ff1010" stroke-width="1.6" fill="none" stroke-linejoin="round"/>
<path d="M1850 925.2 L1854 923.2 L1858 926.7 L1862 928.2 L1866 927.1 L1870 918.7 L1874 906.3 L1878 903.0 L1882 913.1 L1886 923.2 L1890 927.8 L1894 926.8 L1898 923.7 L1902 922.2 L1906 920.5 L1910 922.8 L1914 924.5 L1918 927.1 L1922 929.2 L1926 926.0 L1930 927.5 L1934 923.6 L1938 924.0 L1942 925.4 L1946 926.3 L1950 924.7 L1954 922.4 L1958 920.3 L1962 922.0 L1966 919.3 L1970 927.5 L1974 926.2 L1978 930.2 L1982 931.9 L1986 932.0 L1990 925.1 L1994 921.7 L1998 921.0 L2002 924.6 L2006 925.2" stroke="#c00000" stroke-width="1.6" fill="none" stroke-linejoin="round"/>
<path d="M1850 925.2 L1854 921.6 L1858 920.8 L1862 920.6 L1866 923.8 L1870 922.5 L1874 922.9 L1878 922.6 L1882 921.8 L1886 921.7 L1890 919.7 L1894 917.2 L1898 917.2 L1902 914.3 L1906 909.9 L1910 913.4 L1914 918.2 L1918 926.6 L1922 926.6 L1926 927.7 L1930 918.2 L1934 912.9 L1938 910.0 L1942 919.2 L1946 921.2 L1950 925.5 L1954 925.6 L1958 928.0 L1962 924.7 L1966 923.9 L1970 924.3 L1974 924.8 L1978 926.2 L1982 924.7 L1986 925.2 L1990 925.7 L1994 926.5 L1998 925.8 L2002 920.8 L2006 925.2" stroke="#e00000" stroke-width="1.6" fill="none" stroke-linejoin="round"/>
<path d="M1440 934.7 L1443 927.9 L1446 932.4 L1449 937.2 L1452 943.1 L1455 941.0 L1458 936.6 L1461 934.9 L1464 934.7 L1467 937.6 L1470 933.5 L1473 932.9 L1476 931.6 L1479 935.4 L1482 936.4 L1485 937.0 L1488 933.4 L1491 935.9 L1494 929.7 L1497 924.7 L1500 915.6 L1503 914.2 L1506 916.9 L1509 926.9 L1512 932.7 L1515 937.4 L1518 934.3 L1521 936.3 L1524 932.8 L1527 934.4 L1530 934.3 L1533 934.8 L1536 931.5 L1539 929.9 L1542 933.7 L1545 936.5 L1548 937.3 L1551 936.4 L1554 933.8 L1557 931.9 L1560 931.2 L1563 933.2 L1566 934.0 L1569 932.8 L1572 931.9 L1575 932.4 L1578 933.7 L1581 931.1 L1584 929.7 L1587 930.2 L1590 930.8 L1593 931.5 L1596 933.1 L1599 935.4 L1602 936.9 L1605 935.9 L1608 936.5 L1611 935.2 L1614 935.6 L1617 937.1 L1620 937.9 L1623 934.7 L1626 934.9 L1629 934.9 L1632 933.4 L1635 933.2 L1638 929.7 L1641 930.9 L1644 930.2 L1647 935.1 L1650 936.6 L1653 935.2 L1656 931.2 L1659 931.8 L1662 930.9 L1665 930.2 L1668 932.1 L1671 931.7 L1674 933.8 L1677 932.9 L1680 935.9 L1683 933.0 L1686 930.4 L1689 932.9 L1692 935.9 L1695 937.8 L1698 935.1 L1701 936.1 L1704 938.3 L1707 936.6 L1710 937.3 L1713 935.5 L1716 937.9 L1719 937.6 L1722 935.7 L1725 934.0 L1728 933.9 L1731 936.8 L1734 938.2 L1737 935.5 L1740 933.6 L1743 932.5 L1746 934.6 L1749 935.3 L1752 935.3 L1755 937.9 L1758 934.7 L1761 936.4 L1764 934.3 L1767 934.7 L1770 933.0 L1773 932.0 L1776 935.2 L1779 938.2 L1782 938.0 L1785 935.0 L1788 933.9 L1791 931.9 L1794 935.8 L1797 935.4 L1800 936.0 L1803 930.3 L1806 918.7 L1809 910.0 L1812 909.7 L1815 922.8 L1818 931.8 L1821 929.1 L1824 916.3 L1827 906.9 L1830 914.4 L1833 928.8 L1836 932.6 L1839 934.9 L1842 934.0 L1845 936.1 L1848 932.8 L1851 932.6 L1854 937.2 L1857 940.8 L1860 937.0 L1863 935.0 L1866 934.7 L1869 936.6 L1872 934.1 L1875 935.1 L1878 935.7 L1881 940.0 L1884 934.0 L1887 930.3 L1890 926.4 L1893 930.3 L1896 932.2 L1899 937.4 L1902 936.7 L1905 940.0 L1908 938.7 L1911 940.4 L1914 938.7 L1917 935.5 L1920 933.1 L1923 932.1 L1926 934.7 L1929 934.7 L1932 935.4 L1935 931.8 L1938 934.5 L1941 938.9 L1944 941.7 L1947 936.5 L1950 931.1 L1953 930.6 L1956 932.7 L1959 932.7 L1962 931.6 L1965 933.9 L1968 934.7 L1971 935.1 L1974 935.3 L1977 937.3 L1980 937.4 L1983 934.7 L1986 931.7 L1989 931.1 L1992 931.9 L1995 928.7 L1998 929.1 L2001 928.2 L2004 929.2 L2007 929.6 L2010 930.9 L2013 932.4 L2016 929.7 L2019 929.6 L2022 930.7 L2025 933.4 L2028 936.0 L2031 934.7 L2034 935.3 L2037 936.1 L2040 938.3 L2043 940.7 L2046 939.5 L2049 939.3 L2052 937.9 L2055 934.4 L2058 936.9 L2061 934.9 L2064 935.8 L2067 930.8 L2070 929.7 L2073 930.3 L2076 932.6 L2079 934.2 L2082 932.7 L2085 933.9 L2088 933.0 L2091 935.0 L2094 933.5 L2097 934.5 L2100 929.7 L2103 928.9 L2106 924.5 L2109 924.9 L2112 922.7 L2115 925.1 L2118 928.3 L2121 930.1 L2124 934.4 L2127 935.4 L2130 939.2 L2133 936.3 L2136 938.3 L2139 937.9 L2142 938.3 L2145 933.9 L2148 930.7 L2151 926.2 L2154 916.3 L2157 910.8 L2160 920.1 L2163 933.9 L2166 938.1 L2169 933.6 L2172 929.4 L2175 931.2 L2178 929.1 L2181 930.1 L2184 926.4 L2187 930.0 L2190 928.5 L2193 929.8 L2196 931.2 L2199 934.7" stroke="#c04040" stroke-width="1.2" fill="none" stroke-linejoin="round"/>
<path d="M1440 934.7 L1443 940.1 L1446 935.3 L1449 935.9 L1452 939.6 L1455 942.1 L1458 940.0 L1461 937.5 L1464 937.4 L1467 935.6 L1470 932.9 L1473 930.1 L1476 932.4 L1479 931.5 L1482 928.4 L1485 924.3 L1488 921.7 L1491 924.8 L1494 928.4 L1497 930.9 L1500 930.4 L1503 925.7 L1506 920.5 L1509 914.4 L1512 916.7 L1515 924.3 L1518 930.2 L1521 933.2 L1524 933.8 L1527 935.1 L1530 931.5 L1533 929.3 L1536 928.5 L1539 931.2 L1542 931.9 L1545 932.5 L1548 932.5 L1551 931.7 L1554 931.8 L1557 932.8 L1560 932.9 L1563 934.2 L1566 931.9 L1569 936.6 L1572 936.2 L1575 938.8 L1578 937.9 L1581 941.1 L1584 935.9 L1587 934.5 L1590 930.9 L1593 932.6 L1596 932.6 L1599 932.1 L1602 936.3 L1605 935.7 L1608 937.3 L1611 934.2 L1614 934.2 L1617 935.8 L1620 939.8 L1623 941.8 L1626 938.2 L1629 934.4 L1632 932.0 L1635 936.6 L1638 941.6 L1641 942.0 L1644 934.3 L1647 919.4 L1650 900.6 L1653 885.2 L1656 883.0 L1659 895.9 L1662 912.7 L1665 924.8 L1668 931.0 L1671 930.1 L1674 931.3 L1677 931.1 L1680 936.6 L1683 936.8 L1686 936.1 L1689 933.5 L1692 933.1 L1695 933.3 L1698 934.2 L1701 937.1 L1704 943.3 L1707 939.5 L1710 934.9 L1713 929.5 L1716 936.3 L1719 939.9 L1722 937.5 L1725 939.3 L1728 937.7 L1731 938.5 L1734 933.5 L1737 931.7 L1740 933.4 L1743 929.6 L1746 932.6 L1749 934.7 L1752 938.3 L1755 934.1 L1758 931.9 L1761 930.6 L1764 933.9 L1767 935.8 L1770 935.2 L1773 931.7 L1776 927.1 L1779 930.2 L1782 934.8 L1785 939.4 L1788 939.0 L1791 936.1 L1794 933.2 L1797 935.3 L1800 935.9 L1803 936.8 L1806 934.2 L1809 934.6 L1812 934.9 L1815 934.1 L1818 933.8 L1821 933.1 L1824 935.3 L1827 934.8 L1830 935.4 L1833 937.8 L1836 937.6 L1839 937.9 L1842 932.8 L1845 933.9 L1848 933.6 L1851 934.8 L1854 934.5 L1857 935.1 L1860 938.5 L1863 935.4 L1866 937.3 L1869 934.8 L1872 936.8 L1875 933.5 L1878 932.0 L1881 931.8 L1884 930.3 L1887 930.8 L1890 927.2 L1893 931.0 L1896 931.1 L1899 936.6 L1902 935.8 L1905 935.7 L1908 932.7 L1911 933.0 L1914 934.6 L1917 935.9 L1920 933.8 L1923 929.3 L1926 928.8 L1929 929.3 L1932 933.1 L1935 934.5 L1938 935.2 L1941 936.9 L1944 937.3 L1947 937.1 L1950 934.7 L1953 933.7 L1956 926.9 L1959 920.5 L1962 915.2 L1965 920.4 L1968 927.8 L1971 934.3 L1974 935.3 L1977 935.1 L1980 935.1 L1983 934.0 L1986 932.9 L1989 934.2 L1992 936.6 L1995 938.2 L1998 936.2 L2001 937.5 L2004 936.7 L2007 935.8 L2010 933.8 L2013 935.0 L2016 937.2 L2019 937.1 L2022 934.7 L2025 932.3 L2028 932.7 L2031 935.8 L2034 934.8 L2037 934.0 L2040 931.1 L2043 933.0 L2046 935.2 L2049 936.5 L2052 936.5 L2055 933.1 L2058 932.4 L2061 938.1 L2064 940.3 L2067 939.8 L2070 932.3 L2073 930.7 L2076 927.1 L2079 926.9 L2082 925.8 L2085 928.4 L2088 933.2 L2091 934.0 L2094 934.6 L2097 933.1 L2100 933.6 L2103 933.9 L2106 933.8 L2109 935.0 L2112 936.1 L2115 935.0 L2118 935.5 L2121 934.1 L2124 937.7 L2127 937.5 L2130 941.2 L2133 938.8 L2136 937.5 L2139 934.6 L2142 934.0 L2145 934.7 L2148 932.1 L2151 933.8 L2154 932.4 L2157 937.6 L2160 936.5 L2163 937.8 L2166 936.6 L2169 935.5 L2172 934.6 L2175 935.1 L2178 935.6 L2181 937.5 L2184 938.7 L2187 938.9 L2190 939.6 L2193 934.1 L2196 935.3 L2199 934.7" stroke="#8b1a1a" stroke-width="1.2" fill="none" stroke-linejoin="round"/>
<path d="M1440 934.7 L1443 934.5 L1446 936.2 L1449 936.8 L1452 935.6 L1455 937.5 L1458 935.8 L1461 938.9 L1464 936.2 L1467 938.5 L1470 936.7 L1473 938.2 L1476 939.0 L1479 938.8 L1482 938.9 L1485 932.8 L1488 933.1 L1491 932.4 L1494 937.5 L1497 938.6 L1500 941.6 L1503 941.1 L1506 938.8 L1509 937.2 L1512 936.7 L1515 939.3 L1518 936.8 L1521 936.2 L1524 933.4 L1527 932.6 L1530 934.4 L1533 933.7 L1536 935.2 L1539 933.2 L1542 932.3 L1545 928.3 L1548 923.8 L1551 917.4 L1554 919.2 L1557 925.5 L1560 935.3 L1563 935.5 L1566 935.3 L1569 937.4 L1572 937.6 L1575 933.8 L1578 927.0 L1581 929.0 L1584 931.4 L1587 930.2 L1590 919.4 L1593 907.5 L1596 902.3 L1599 905.7 L1602 916.1 L1605 927.0 L1608 934.4 L1611 936.7 L1614 934.9 L1617 933.4 L1620 932.5 L1623 931.6 L1626 932.7 L1629 936.3 L1632 936.2 L1635 933.6 L1638 928.0 L1641 929.1 L1644 931.5 L1647 932.4 L1650 930.0 L1653 929.3 L1656 930.4 L1659 932.8 L1662 925.3 L1665 911.5 L1668 899.8 L1671 911.6 L1674 927.4 L1677 937.9 L1680 940.4 L1683 939.1 L1686 935.7 L1689 935.0 L1692 934.8 L1695 933.6 L1698 931.5 L1701 933.5 L1704 934.7 L1707 936.7 L1710 936.8 L1713 939.3 L1716 938.9 L1719 938.9 L1722 932.8 L1725 932.8 L1728 931.7 L1731 936.0 L1734 932.7 L1737 933.9 L1740 933.5 L1743 937.9 L1746 936.6 L1749 936.3 L1752 933.2 L1755 935.4 L1758 935.4 L1761 934.5 L1764 933.0 L1767 933.2 L1770 937.4 L1773 941.0 L1776 940.9 L1779 937.4 L1782 933.8 L1785 936.7 L1788 938.2 L1791 937.3 L1794 932.5 L1797 931.4 L1800 932.0 L1803 933.0 L1806 937.6 L1809 935.3 L1812 935.6 L1815 930.8 L1818 930.9 L1821 931.6 L1824 933.7 L1827 937.0 L1830 940.0 L1833 940.0 L1836 938.2 L1839 936.6 L1842 935.2 L1845 935.2 L1848 932.7 L1851 935.1 L1854 938.3 L1857 937.7 L1860 935.4 L1863 932.6 L1866 934.6 L1869 936.1 L1872 936.2 L1875 936.3 L1878 939.3 L1881 937.7 L1884 939.4 L1887 936.5 L1890 938.4 L1893 935.4 L1896 937.6 L1899 935.0 L1902 934.4 L1905 930.3 L1908 930.2 L1911 932.7 L1914 939.3 L1917 940.8 L1920 937.3 L1923 930.0 L1926 931.4 L1929 932.9 L1932 931.2 L1935 924.5 L1938 910.4 L1941 898.7 L1944 892.5 L1947 905.3 L1950 916.8 L1953 928.6 L1956 933.9 L1959 933.6 L1962 935.4 L1965 931.6 L1968 932.4 L1971 931.7 L1974 934.8 L1977 935.9 L1980 934.9 L1983 934.9 L1986 938.5 L1989 939.2 L1992 935.6 L1995 934.2 L1998 932.5 L2001 931.3 L2004 928.7 L2007 927.4 L2010 928.1 L2013 932.9 L2016 933.3 L2019 934.8 L2022 932.3 L2025 936.2 L2028 939.4 L2031 941.1 L2034 939.3 L2037 938.6 L2040 938.1 L2043 939.1 L2046 936.0 L2049 935.1 L2052 934.3 L2055 933.2 L2058 933.3 L2061 932.0 L2064 936.0 L2067 934.9 L2070 935.7 L2073 933.6 L2076 935.0 L2079 936.9 L2082 937.7 L2085 937.7 L2088 934.2 L2091 932.2 L2094 933.5 L2097 934.1 L2100 936.5 L2103 933.7 L2106 935.5 L2109 937.2 L2112 936.3 L2115 934.7 L2118 934.3 L2121 939.2 L2124 940.8 L2127 940.8 L2130 938.2 L2133 936.3 L2136 931.8 L2139 931.8 L2142 930.5 L2145 931.0 L2148 931.1 L2151 936.3 L2154 936.8 L2157 935.0 L2160 928.3 L2163 927.3 L2166 927.0 L2169 928.1 L2172 932.3 L2175 933.3 L2178 936.6 L2181 931.9 L2184 931.3 L2187 935.9 L2190 936.6 L2193 939.0 L2196 932.6 L2199 934.7" stroke="#b02828" stroke-width="1.2" fill="none" stroke-linejoin="round"/>
<path d="M1440 932.8 L1443 929.4 L1446 916.3 L1449 903.7 L1452 897.1 L1455 899.0 L1458 908.1 L1461 916.6 L1464 925.3 L1467 932.7 L1470 933.8 L1473 935.9 L1476 932.9 L1479 937.5 L1482 935.0 L1485 937.3 L1488 932.8 L1491 931.1 L1494 927.8 L1497 931.6 L1500 936.2 L1503 939.6 L1506 936.5 L1509 934.4 L1512 932.6 L1515 933.2 L1518 932.8 L1521 932.0 L1524 929.7 L1527 930.8 L1530 931.5 L1533 937.5 L1536 939.6 L1539 941.1 L1542 940.0 L1545 937.4 L1548 934.5 L1551 933.2 L1554 934.4 L1557 937.1 L1560 936.1 L1563 936.2 L1566 934.6 L1569 934.4 L1572 932.9 L1575 932.3 L1578 932.8 L1581 933.1 L1584 931.4 L1587 931.6 L1590 930.5 L1593 933.3 L1596 934.0 L1599 936.1 L1602 937.6 L1605 936.8 L1608 937.1 L1611 936.4 L1614 934.4 L1617 933.6 L1620 931.0 L1623 932.6 L1626 930.9 L1629 933.8 L1632 934.0 L1635 931.0 L1638 928.6 L1641 927.2 L1644 931.1 L1647 930.5 L1650 932.6 L1653 931.2 L1656 927.6 L1659 921.0 L1662 920.4 L1665 924.9 L1668 931.2 L1671 933.9 L1674 937.0 L1677 939.3 L1680 939.3 L1683 940.2 L1686 939.5 L1689 940.4 L1692 939.3 L1695 937.2 L1698 936.9 L1701 935.3 L1704 937.4 L1707 937.9 L1710 936.9 L1713 934.6 L1716 934.1 L1719 934.4 L1722 934.7 L1725 933.6 L1728 931.6 L1731 932.5 L1734 932.1 L1737 934.1 L1740 933.8 L1743 936.5 L1746 936.0 L1749 935.2 L1752 933.2 L1755 934.3 L1758 934.7 L1761 936.3 L1764 935.9 L1767 938.9 L1770 937.5 L1773 940.5 L1776 938.1 L1779 936.8 L1782 934.7 L1785 935.0 L1788 935.3 L1791 935.3 L1794 935.2 L1797 936.7 L1800 933.8 L1803 931.9 L1806 930.5 L1809 935.0 L1812 935.1 L1815 938.1 L1818 935.3 L1821 938.2 L1824 932.8 L1827 936.4 L1830 932.5 L1833 934.4 L1836 934.6 L1839 937.0 L1842 936.0 L1845 931.1 L1848 933.4 L1851 936.8 L1854 940.7 L1857 939.6 L1860 939.8 L1863 934.7 L1866 932.8 L1869 932.1 L1872 935.7 L1875 934.8 L1878 933.3 L1881 934.3 L1884 932.9 L1887 935.9 L1890 934.5 L1893 934.8 L1896 926.1 L1899 920.0 L1902 916.1 L1905 918.9 L1908 923.6 L1911 927.1 L1914 929.7 L1917 930.9 L1920 931.8 L1923 932.0 L1926 932.5 L1929 930.8 L1932 935.7 L1935 937.2 L1938 937.5 L1941 933.4 L1944 932.9 L1947 934.3 L1950 931.2 L1953 924.2 L1956 909.9 L1959 898.1 L1962 896.1 L1965 910.2 L1968 922.5 L1971 932.1 L1974 935.1 L1977 936.3 L1980 936.6 L1983 938.6 L1986 938.8 L1989 936.7 L1992 934.3 L1995 935.0 L1998 936.7 L2001 931.5 L2004 933.4 L2007 932.5 L2010 939.8 L2013 938.8 L2016 935.5 L2019 933.1 L2022 931.4 L2025 934.8 L2028 931.8 L2031 932.5 L2034 933.8 L2037 935.5 L2040 936.4 L2043 933.3 L2046 934.4 L2049 933.3 L2052 934.1 L2055 935.9 L2058 938.8 L2061 937.4 L2064 936.1 L2067 933.1 L2070 935.5 L2073 938.7 L2076 941.4 L2079 938.2 L2082 936.1 L2085 934.6 L2088 939.5 L2091 939.0 L2094 939.0 L2097 936.9 L2100 936.2 L2103 936.6 L2106 937.2 L2109 937.1 L2112 935.2 L2115 932.9 L2118 923.8 L2121 913.3 L2124 907.3 L2127 918.5 L2130 927.5 L2133 934.7 L2136 937.6 L2139 941.1 L2142 938.4 L2145 937.6 L2148 933.8 L2151 934.8 L2154 935.5 L2157 938.0 L2160 935.0 L2163 933.9 L2166 935.7 L2169 937.8 L2172 934.2 L2175 930.3 L2178 931.7 L2181 933.6 L2184 934.7 L2187 932.2 L2190 928.9 L2193 929.6 L2196 929.4 L2199 934.7" stroke="#b02828" stroke-width="1.2" fill="none" stroke-linejoin="round"/>
<path d="M1440 934.6 L1443 934.8 L1446 928.5 L1449 911.1 L1452 900.7 L1455 913.7 L1458 926.6 L1461 929.1 L1464 919.5 L1467 911.2 L1470 911.7 L1473 919.0 L1476 926.6 L1479 934.0 L1482 933.8 L1485 936.5 L1488 936.1 L1491 937.5 L1494 937.7 L1497 934.6 L1500 936.8 L1503 936.5 L1506 938.7 L1509 933.5 L1512 935.1 L1515 932.5 L1518 938.1 L1521 935.7 L1524 937.7 L1527 934.1 L1530 935.9 L1533 938.9 L1536 942.2 L1539 938.8 L1542 935.1 L1545 934.0 L1548 934.7 L1551 936.3 L1554 936.1 L1557 939.7 L1560 936.4 L1563 931.9 L1566 931.5 L1569 933.0 L1572 934.6 L1575 929.4 L1578 934.0 L1581 935.4 L1584 937.9 L1587 936.3 L1590 935.9 L1593 936.6 L1596 932.9 L1599 934.6 L1602 934.2 L1605 936.5 L1608 934.5 L1611 934.9 L1614 934.5 L1617 937.9 L1620 935.4 L1623 932.9 L1626 928.8 L1629 932.0 L1632 932.4 L1635 927.0 L1638 919.5 L1641 917.0 L1644 920.7 L1647 926.2 L1650 930.0 L1653 934.9 L1656 934.4 L1659 933.5 L1662 932.4 L1665 937.1 L1668 939.1 L1671 938.7 L1674 934.0 L1677 931.7 L1680 925.7 L1683 921.4 L1686 918.7 L1689 926.8 L1692 934.1 L1695 940.3 L1698 938.6 L1701 937.0 L1704 932.4 L1707 932.2 L1710 934.7 L1713 933.1 L1716 932.6 L1719 931.0 L1722 935.4 L1725 938.2 L1728 936.7 L1731 935.6 L1734 930.7 L1737 929.9 L1740 929.1 L1743 929.6 L1746 932.0 L1749 934.2 L1752 936.4 L1755 938.0 L1758 937.5 L1761 937.9 L1764 934.7 L1767 934.5 L1770 937.1 L1773 938.2 L1776 935.8 L1779 935.7 L1782 937.0 L1785 939.3 L1788 938.5 L1791 938.1 L1794 938.0 L1797 938.0 L1800 936.6 L1803 936.0 L1806 935.9 L1809 936.4 L1812 935.2 L1815 933.4 L1818 932.7 L1821 933.4 L1824 933.5 L1827 932.6 L1830 933.0 L1833 934.3 L1836 935.1 L1839 934.2 L1842 931.2 L1845 933.2 L1848 933.8 L1851 932.9 L1854 931.4 L1857 930.2 L1860 930.3 L1863 930.7 L1866 931.6 L1869 934.3 L1872 932.4 L1875 933.7 L1878 934.1 L1881 936.0 L1884 935.9 L1887 934.4 L1890 933.5 L1893 935.4 L1896 937.1 L1899 937.3 L1902 934.4 L1905 932.8 L1908 927.5 L1911 923.1 L1914 919.4 L1917 921.0 L1920 923.1 L1923 926.4 L1926 933.4 L1929 936.6 L1932 937.4 L1935 930.9 L1938 934.2 L1941 931.6 L1944 935.5 L1947 930.8 L1950 933.9 L1953 933.3 L1956 933.0 L1959 932.3 L1962 930.9 L1965 932.9 L1968 933.7 L1971 935.9 L1974 936.6 L1977 936.1 L1980 933.4 L1983 934.5 L1986 937.1 L1989 939.4 L1992 934.6 L1995 930.1 L1998 927.8 L2001 928.5 L2004 931.5 L2007 933.5 L2010 940.1 L2013 939.9 L2016 939.1 L2019 937.2 L2022 939.7 L2025 942.9 L2028 939.9 L2031 934.4 L2034 927.9 L2037 925.8 L2040 930.3 L2043 938.6 L2046 940.8 L2049 936.4 L2052 935.2 L2055 936.3 L2058 938.9 L2061 936.1 L2064 935.5 L2067 933.8 L2070 932.1 L2073 931.7 L2076 931.3 L2079 929.7 L2082 931.5 L2085 934.5 L2088 937.0 L2091 932.2 L2094 930.1 L2097 929.1 L2100 932.8 L2103 931.5 L2106 934.4 L2109 932.7 L2112 933.6 L2115 931.9 L2118 930.7 L2121 929.5 L2124 931.2 L2127 932.0 L2130 936.6 L2133 934.0 L2136 930.8 L2139 927.0 L2142 927.8 L2145 932.4 L2148 931.8 L2151 933.4 L2154 932.4 L2157 934.2 L2160 934.2 L2163 935.1 L2166 934.7 L2169 936.9 L2172 933.6 L2175 933.3 L2178 933.2 L2181 934.9 L2184 935.2 L2187 932.0 L2190 932.6 L2193 934.0 L2196 939.3 L2199 934.7" stroke="#c04040" stroke-width="1.2" fill="none" stroke-linejoin="round"/>
<path d="M1440 934.7 L1443 929.0 L1446 928.9 L1449 931.4 L1452 932.4 L1455 935.8 L1458 935.0 L1461 935.6 L1464 932.1 L1467 933.9 L1470 935.9 L1473 929.4 L1476 919.8 L1479 912.5 L1482 918.0 L1485 925.4 L1488 928.8 L1491 930.8 L1494 929.9 L1497 931.8 L1500 931.0 L1503 931.4 L1506 932.4 L1509 932.7 L1512 935.0 L1515 935.5 L1518 934.8 L1521 935.4 L1524 933.1 L1527 930.3 L1530 915.5 L1533 899.9 L1536 893.7 L1539 907.6 L1542 922.4 L1545 929.0 L1548 936.0 L1551 938.3 L1554 945.7 L1557 940.7 L1560 937.7 L1563 930.5 L1566 926.8 L1569 923.9 L1572 917.2 L1575 915.6 L1578 917.5 L1581 927.6 L1584 932.0 L1587 935.1 L1590 935.0 L1593 935.7 L1596 934.5 L1599 935.2 L1602 933.4 L1605 935.5 L1608 936.0 L1611 937.6 L1614 935.7 L1617 933.7 L1620 934.9 L1623 935.1 L1626 936.1 L1629 938.2 L1632 937.1 L1635 937.8 L1638 935.4 L1641 935.4 L1644 933.7 L1647 928.7 L1650 932.3 L1653 933.6 L1656 938.1 L1659 933.4 L1662 932.6 L1665 935.2 L1668 935.5 L1671 936.7 L1674 934.6 L1677 935.0 L1680 934.6 L1683 935.0 L1686 935.7 L1689 934.9 L1692 933.7 L1695 936.1 L1698 936.0 L1701 938.3 L1704 939.3 L1707 936.2 L1710 933.6 L1713 929.4 L1716 934.0 L1719 934.8 L1722 936.7 L1725 937.5 L1728 936.5 L1731 937.4 L1734 935.3 L1737 938.8 L1740 935.9 L1743 934.3 L1746 931.1 L1749 934.3 L1752 936.5 L1755 935.1 L1758 934.0 L1761 932.6 L1764 934.5 L1767 935.9 L1770 933.8 L1773 937.3 L1776 935.1 L1779 937.8 L1782 937.2 L1785 937.0 L1788 936.0 L1791 933.2 L1794 935.1 L1797 935.2 L1800 933.4 L1803 931.7 L1806 929.5 L1809 930.0 L1812 929.0 L1815 929.6 L1818 932.2 L1821 934.3 L1824 935.8 L1827 933.8 L1830 930.4 L1833 929.3 L1836 929.9 L1839 932.1 L1842 934.5 L1845 935.4 L1848 936.5 L1851 934.5 L1854 934.7 L1857 934.5 L1860 935.8 L1863 935.8 L1866 935.6 L1869 939.5 L1872 938.0 L1875 938.2 L1878 934.1 L1881 934.1 L1884 936.7 L1887 933.0 L1890 933.3 L1893 929.9 L1896 936.9 L1899 936.0 L1902 935.6 L1905 933.2 L1908 933.7 L1911 932.2 L1914 932.1 L1917 934.0 L1920 933.9 L1923 932.9 L1926 931.6 L1929 930.0 L1932 930.1 L1935 930.1 L1938 933.5 L1941 934.5 L1944 933.8 L1947 934.0 L1950 934.5 L1953 935.3 L1956 935.0 L1959 933.3 L1962 931.8 L1965 931.1 L1968 931.3 L1971 931.4 L1974 933.4 L1977 934.2 L1980 933.4 L1983 936.1 L1986 935.0 L1989 931.3 L1992 930.1 L1995 924.8 L1998 924.9 L2001 908.8 L2004 899.5 L2007 896.0 L2010 909.2 L2013 925.8 L2016 937.4 L2019 937.0 L2022 936.1 L2025 933.8 L2028 934.6 L2031 933.3 L2034 932.4 L2037 932.6 L2040 936.0 L2043 934.5 L2046 939.3 L2049 934.5 L2052 938.0 L2055 933.7 L2058 936.7 L2061 936.3 L2064 936.0 L2067 935.6 L2070 936.8 L2073 935.4 L2076 935.9 L2079 931.8 L2082 933.5 L2085 933.7 L2088 935.2 L2091 933.5 L2094 933.8 L2097 935.0 L2100 934.1 L2103 934.3 L2106 935.2 L2109 937.3 L2112 937.1 L2115 937.3 L2118 933.4 L2121 919.1 L2124 904.5 L2127 902.3 L2130 913.2 L2133 927.2 L2136 932.6 L2139 933.1 L2142 932.6 L2145 932.2 L2148 934.7 L2151 933.2 L2154 934.2 L2157 936.1 L2160 933.9 L2163 936.0 L2166 933.6 L2169 936.9 L2172 934.7 L2175 933.8 L2178 933.0 L2181 931.4 L2184 931.6 L2187 932.3 L2190 939.5 L2193 940.5 L2196 940.3 L2199 934.7" stroke="#8b1a1a" stroke-width="1.2" fill="none" stroke-linejoin="round"/>
<path d="M1440 934.7 L1443 933.8 L1446 928.1 L1449 925.6 L1452 926.1 L1455 931.0 L1458 933.0 L1461 931.1 L1464 932.0 L1467 930.7 L1470 934.6 L1473 933.0 L1476 933.8 L1479 932.6 L1482 935.7 L1485 935.8 L1488 934.5 L1491 934.1 L1494 935.0 L1497 935.0 L1500 932.6 L1503 929.7 L1506 935.8 L1509 936.2 L1512 940.2 L1515 938.7 L1518 938.3 L1521 934.1 L1524 934.3 L1527 936.9 L1530 939.9 L1533 937.6 L1536 937.9 L1539 933.1 L1542 931.9 L1545 930.3 L1548 935.0 L1551 932.1 L1554 927.7 L1557 927.6 L1560 931.0 L1563 932.6 L1566 933.8 L1569 935.4 L1572 935.2 L1575 934.4 L1578 934.2 L1581 938.7 L1584 938.8 L1587 937.0 L1590 936.1 L1593 937.0 L1596 939.2 L1599 934.8 L1602 932.3 L1605 932.2 L1608 935.0 L1611 934.5 L1614 933.4 L1617 936.7 L1620 937.0 L1623 937.5 L1626 933.0 L1629 935.8 L1632 933.7 L1635 936.0 L1638 936.6 L1641 936.1 L1644 936.1 L1647 932.4 L1650 933.6 L1653 925.9 L1656 913.9 L1659 899.4 L1662 896.6 L1665 910.4 L1668 927.8 L1671 936.5 L1674 938.1 L1677 935.1 L1680 935.2 L1683 936.0 L1686 938.6 L1689 940.8 L1692 939.9 L1695 938.5 L1698 935.4 L1701 931.6 L1704 932.9 L1707 935.0 L1710 934.7 L1713 931.5 L1716 930.2 L1719 936.8 L1722 940.0 L1725 940.1 L1728 937.2 L1731 932.1 L1734 932.2 L1737 930.7 L1740 935.9 L1743 937.9 L1746 939.5 L1749 938.7 L1752 937.3 L1755 935.5 L1758 934.1 L1761 932.0 L1764 934.9 L1767 935.0 L1770 936.2 L1773 931.2 L1776 932.0 L1779 931.8 L1782 935.9 L1785 934.8 L1788 934.7 L1791 934.4 L1794 935.9 L1797 936.6 L1800 934.5 L1803 935.7 L1806 934.2 L1809 935.7 L1812 930.5 L1815 929.6 L1818 929.7 L1821 934.0 L1824 932.3 L1827 930.5 L1830 928.5 L1833 933.4 L1836 934.7 L1839 934.3 L1842 932.5 L1845 933.7 L1848 933.0 L1851 933.5 L1854 933.7 L1857 934.1 L1860 934.9 L1863 932.0 L1866 934.6 L1869 933.7 L1872 937.8 L1875 936.2 L1878 939.4 L1881 936.4 L1884 941.3 L1887 938.9 L1890 937.9 L1893 932.8 L1896 930.6 L1899 933.7 L1902 931.8 L1905 931.1 L1908 931.4 L1911 935.4 L1914 939.1 L1917 937.1 L1920 935.4 L1923 938.6 L1926 937.6 L1929 938.3 L1932 935.9 L1935 935.1 L1938 934.2 L1941 926.0 L1944 917.1 L1947 909.1 L1950 909.7 L1953 910.2 L1956 904.7 L1959 908.2 L1962 920.7 L1965 930.4 L1968 933.5 L1971 930.9 L1974 931.7 L1977 931.0 L1980 933.3 L1983 935.2 L1986 935.7 L1989 937.6 L1992 940.0 L1995 942.9 L1998 940.5 L2001 937.2 L2004 934.4 L2007 938.2 L2010 938.4 L2013 936.9 L2016 934.2 L2019 934.1 L2022 932.8 L2025 933.1 L2028 932.8 L2031 933.5 L2034 936.3 L2037 934.8 L2040 938.6 L2043 937.0 L2046 939.1 L2049 937.0 L2052 935.5 L2055 933.8 L2058 933.7 L2061 931.5 L2064 929.1 L2067 928.3 L2070 929.4 L2073 932.9 L2076 935.9 L2079 936.2 L2082 935.5 L2085 932.2 L2088 936.3 L2091 931.8 L2094 935.4 L2097 932.3 L2100 935.1 L2103 934.9 L2106 933.9 L2109 932.7 L2112 921.5 L2115 914.6 L2118 912.8 L2121 920.7 L2124 928.1 L2127 931.0 L2130 930.5 L2133 930.2 L2136 932.7 L2139 935.6 L2142 936.3 L2145 933.7 L2148 932.9 L2151 932.6 L2154 935.2 L2157 934.7 L2160 934.8 L2163 933.9 L2166 934.8 L2169 931.4 L2172 928.8 L2175 928.7 L2178 927.7 L2181 925.4 L2184 923.2 L2187 924.0 L2190 928.3 L2193 929.4 L2196 932.5 L2199 934.5" stroke="#a01515" stroke-width="1.2" fill="none" stroke-linejoin="round"/>
<path d="M1440 934.7 L1443 935.0 L1446 935.1 L1449 932.2 L1452 928.1 L1455 930.1 L1458 932.2 L1461 935.0 L1464 934.6 L1467 936.0 L1470 937.5 L1473 937.7 L1476 930.2 L1479 925.9 L1482 925.3 L1485 931.7 L1488 933.7 L1491 930.1 L1494 930.0 L1497 929.0 L1500 933.7 L1503 932.7 L1506 931.4 L1509 923.6 L1512 919.0 L1515 921.3 L1518 928.1 L1521 931.4 L1524 931.4 L1527 933.7 L1530 934.5 L1533 939.5 L1536 936.8 L1539 937.4 L1542 932.6 L1545 932.3 L1548 932.9 L1551 931.7 L1554 934.5 L1557 932.8 L1560 935.1 L1563 933.9 L1566 932.3 L1569 932.7 L1572 934.3 L1575 937.3 L1578 935.7 L1581 930.0 L1584 930.4 L1587 934.4 L1590 940.1 L1593 941.8 L1596 939.3 L1599 938.1 L1602 937.0 L1605 936.9 L1608 939.0 L1611 934.5 L1614 930.6 L1617 921.6 L1620 919.0 L1623 921.8 L1626 928.6 L1629 933.8 L1632 932.9 L1635 935.8 L1638 936.2 L1641 934.3 L1644 931.6 L1647 931.2 L1650 934.3 L1653 936.2 L1656 934.9 L1659 934.5 L1662 932.2 L1665 932.5 L1668 931.7 L1671 935.1 L1674 935.5 L1677 937.9 L1680 934.4 L1683 936.4 L1686 936.9 L1689 935.5 L1692 934.3 L1695 933.4 L1698 935.4 L1701 935.3 L1704 934.8 L1707 938.3 L1710 939.9 L1713 940.3 L1716 935.0 L1719 931.3 L1722 932.4 L1725 930.4 L1728 932.5 L1731 930.1 L1734 934.3 L1737 935.5 L1740 933.9 L1743 933.3 L1746 932.5 L1749 932.9 L1752 929.6 L1755 932.0 L1758 934.3 L1761 937.2 L1764 931.6 L1767 927.1 L1770 927.1 L1773 929.6 L1776 932.3 L1779 930.2 L1782 931.4 L1785 931.4 L1788 934.4 L1791 937.8 L1794 939.2 L1797 931.4 L1800 914.2 L1803 903.1 L1806 900.7 L1809 907.8 L1812 922.4 L1815 929.7 L1818 934.1 L1821 935.8 L1824 936.0 L1827 938.2 L1830 930.7 L1833 931.6 L1836 931.6 L1839 933.8 L1842 932.7 L1845 932.0 L1848 932.1 L1851 936.1 L1854 935.6 L1857 935.6 L1860 930.1 L1863 930.9 L1866 931.1 L1869 935.2 L1872 934.0 L1875 934.2 L1878 934.3 L1881 932.8 L1884 929.5 L1887 929.0 L1890 933.5 L1893 934.6 L1896 935.2 L1899 928.7 L1902 930.8 L1905 927.8 L1908 934.7 L1911 934.6 L1914 934.4 L1917 931.4 L1920 932.3 L1923 930.0 L1926 929.4 L1929 928.9 L1932 934.1 L1935 935.8 L1938 933.1 L1941 933.4 L1944 932.9 L1947 936.6 L1950 933.1 L1953 933.5 L1956 930.6 L1959 931.8 L1962 932.5 L1965 932.8 L1968 932.1 L1971 933.1 L1974 933.1 L1977 928.6 L1980 927.2 L1983 927.3 L1986 935.6 L1989 934.3 L1992 936.4 L1995 932.8 L1998 933.7 L2001 934.7 L2004 934.1 L2007 934.4 L2010 934.1 L2013 935.9 L2016 937.2 L2019 934.8 L2022 935.0 L2025 934.0 L2028 933.5 L2031 935.6 L2034 933.3 L2037 937.8 L2040 932.9 L2043 934.3 L2046 931.3 L2049 935.3 L2052 934.7 L2055 934.5 L2058 933.6 L2061 932.7 L2064 933.2 L2067 933.3 L2070 934.3 L2073 931.8 L2076 931.6 L2079 932.1 L2082 933.7 L2085 931.9 L2088 928.5 L2091 927.2 L2094 923.0 L2097 918.4 L2100 911.0 L2103 909.2 L2106 915.1 L2109 922.8 L2112 928.4 L2115 932.7 L2118 935.2 L2121 938.1 L2124 936.0 L2127 934.3 L2130 934.4 L2133 931.4 L2136 933.0 L2139 932.5 L2142 933.6 L2145 931.1 L2148 930.8 L2151 932.0 L2154 931.9 L2157 931.9 L2160 931.5 L2163 934.4 L2166 934.3 L2169 938.2 L2172 938.2 L2175 940.2 L2178 935.3 L2181 934.6 L2184 932.1 L2187 935.8 L2190 935.4 L2193 936.4 L2196 936.3 L2199 934.7" stroke="#c04040" stroke-width="1.2" fill="none" stroke-linejoin="round"/>
<path d="M1440 934.7 L1443 938.4 L1446 937.5 L1449 939.7 L1452 937.2 L1455 936.8 L1458 936.8 L1461 935.8 L1464 939.3 L1467 935.5 L1470 935.5 L1473 935.5 L1476 937.9 L1479 940.5 L1482 936.3 L1485 927.9 L1488 921.2 L1491 918.1 L1494 921.7 L1497 927.0 L1500 932.8 L1503 934.3 L1506 935.0 L1509 935.6 L1512 933.1 L1515 935.3 L1518 932.3 L1521 936.7 L1524 933.9 L1527 934.2 L1530 931.5 L1533 929.6 L1536 932.0 L1539 928.5 L1542 930.3 L1545 930.2 L1548 937.5 L1551 934.1 L1554 929.9 L1557 927.6 L1560 930.3 L1563 930.8 L1566 930.6 L1569 932.6 L1572 935.0 L1575 933.7 L1578 932.9 L1581 935.0 L1584 935.1 L1587 938.1 L1590 937.3 L1593 936.4 L1596 933.1 L1599 931.4 L1602 933.3 L1605 931.9 L1608 932.4 L1611 936.0 L1614 937.3 L1617 942.5 L1620 942.7 L1623 940.4 L1626 933.3 L1629 930.6 L1632 933.5 L1635 935.1 L1638 932.6 L1641 933.8 L1644 935.5 L1647 938.3 L1650 936.7 L1653 934.7 L1656 934.3 L1659 933.3 L1662 935.5 L1665 934.9 L1668 937.4 L1671 937.4 L1674 935.1 L1677 934.5 L1680 934.5 L1683 936.6 L1686 937.7 L1689 935.0 L1692 933.6 L1695 930.1 L1698 932.9 L1701 934.6 L1704 933.0 L1707 930.7 L1710 925.8 L1713 921.8 L1716 919.2 L1719 918.2 L1722 922.9 L1725 923.9 L1728 926.6 L1731 928.6 L1734 930.4 L1737 932.3 L1740 933.7 L1743 933.0 L1746 937.5 L1749 933.9 L1752 935.7 L1755 931.3 L1758 933.8 L1761 932.7 L1764 933.4 L1767 933.8 L1770 936.8 L1773 938.0 L1776 936.0 L1779 935.0 L1782 935.8 L1785 934.3 L1788 930.4 L1791 925.9 L1794 929.6 L1797 931.2 L1800 932.6 L1803 931.6 L1806 932.2 L1809 936.0 L1812 938.3 L1815 940.7 L1818 935.5 L1821 934.9 L1824 932.7 L1827 934.9 L1830 934.2 L1833 933.0 L1836 934.4 L1839 936.4 L1842 931.8 L1845 926.4 L1848 917.9 L1851 920.0 L1854 924.2 L1857 930.1 L1860 932.0 L1863 934.5 L1866 934.4 L1869 936.9 L1872 933.1 L1875 935.7 L1878 934.4 L1881 935.2 L1884 935.4 L1887 935.4 L1890 936.4 L1893 935.5 L1896 936.0 L1899 934.6 L1902 932.5 L1905 931.5 L1908 928.2 L1911 915.9 L1914 899.5 L1917 894.7 L1920 905.0 L1923 918.3 L1926 930.2 L1929 936.4 L1932 943.5 L1935 939.5 L1938 940.9 L1941 937.2 L1944 937.3 L1947 935.8 L1950 936.8 L1953 938.6 L1956 935.0 L1959 936.4 L1962 935.4 L1965 935.5 L1968 932.7 L1971 932.9 L1974 932.0 L1977 931.9 L1980 932.2 L1983 934.9 L1986 934.2 L1989 934.6 L1992 932.9 L1995 933.9 L1998 931.5 L2001 933.9 L2004 934.0 L2007 935.3 L2010 933.3 L2013 931.5 L2016 931.4 L2019 930.6 L2022 929.2 L2025 928.4 L2028 931.7 L2031 937.4 L2034 937.7 L2037 936.6 L2040 933.7 L2043 935.1 L2046 932.3 L2049 930.7 L2052 932.3 L2055 934.1 L2058 936.6 L2061 936.9 L2064 936.3 L2067 936.0 L2070 933.1 L2073 930.0 L2076 927.5 L2079 926.4 L2082 931.3 L2085 935.5 L2088 935.3 L2091 935.1 L2094 933.0 L2097 935.8 L2100 935.1 L2103 931.1 L2106 931.0 L2109 931.6 L2112 935.4 L2115 934.3 L2118 935.9 L2121 939.2 L2124 940.7 L2127 939.0 L2130 937.4 L2133 938.1 L2136 939.3 L2139 938.7 L2142 937.2 L2145 938.4 L2148 938.6 L2151 937.8 L2154 934.6 L2157 933.3 L2160 927.5 L2163 916.7 L2166 906.3 L2169 912.0 L2172 921.2 L2175 931.9 L2178 932.8 L2181 933.9 L2184 934.8 L2187 936.5 L2190 937.9 L2193 935.2 L2196 934.7 L2199 934.7" stroke="#b02828" stroke-width="1.2" fill="none" stroke-linejoin="round"/>
<path d="M1440 934.7 L1443 931.9 L1446 930.1 L1449 929.2 L1452 932.2 L1455 933.2 L1458 938.1 L1461 937.2 L1464 937.5 L1467 935.1 L1470 934.7 L1473 934.3 L1476 936.4 L1479 937.3 L1482 937.0 L1485 935.0 L1488 933.8 L1491 934.1 L1494 934.6 L1497 932.8 L1500 930.6 L1503 930.3 L1506 934.8 L1509 937.3 L1512 936.5 L1515 933.5 L1518 928.8 L1521 929.8 L1524 931.0 L1527 935.6 L1530 935.0 L1533 935.9 L1536 937.1 L1539 935.5 L1542 934.6 L1545 930.7 L1548 933.2 L1551 933.0 L1554 934.0 L1557 936.3 L1560 939.0 L1563 938.8 L1566 935.5 L1569 936.3 L1572 938.8 L1575 940.7 L1578 938.5 L1581 934.7 L1584 933.9 L1587 929.7 L1590 932.7 L1593 932.9 L1596 933.7 L1599 931.7 L1602 928.2 L1605 927.5 L1608 927.3 L1611 927.6 L1614 933.7 L1617 936.8 L1620 938.1 L1623 934.9 L1626 932.3 L1629 933.8 L1632 932.3 L1635 930.1 L1638 928.3 L1641 928.8 L1644 931.3 L1647 930.7 L1650 931.7 L1653 933.4 L1656 934.6 L1659 934.8 L1662 936.5 L1665 936.4 L1668 936.6 L1671 933.7 L1674 935.0 L1677 934.2 L1680 933.5 L1683 933.8 L1686 934.1 L1689 933.8 L1692 931.4 L1695 933.5 L1698 936.5 L1701 937.7 L1704 937.9 L1707 932.0 L1710 933.5 L1713 933.1 L1716 936.2 L1719 935.6 L1722 938.2 L1725 939.6 L1728 940.4 L1731 937.4 L1734 939.9 L1737 939.8 L1740 939.2 L1743 936.7 L1746 937.0 L1749 938.0 L1752 939.3 L1755 937.2 L1758 936.3 L1761 937.0 L1764 936.2 L1767 937.1 L1770 934.4 L1773 937.0 L1776 935.3 L1779 936.2 L1782 934.6 L1785 934.2 L1788 933.3 L1791 933.1 L1794 933.7 L1797 936.6 L1800 936.9 L1803 940.9 L1806 942.5 L1809 942.9 L1812 939.6 L1815 933.4 L1818 931.8 L1821 929.6 L1824 932.6 L1827 932.9 L1830 932.8 L1833 931.4 L1836 931.5 L1839 932.5 L1842 930.9 L1845 922.1 L1848 910.6 L1851 898.6 L1854 893.0 L1857 897.9 L1860 914.7 L1863 929.3 L1866 932.0 L1869 929.9 L1872 925.8 L1875 924.2 L1878 926.1 L1881 924.4 L1884 927.1 L1887 930.5 L1890 933.8 L1893 937.7 L1896 936.5 L1899 938.7 L1902 936.5 L1905 937.6 L1908 932.5 L1911 928.2 L1914 914.1 L1917 905.3 L1920 908.6 L1923 923.8 L1926 933.9 L1929 933.2 L1932 933.4 L1935 933.2 L1938 935.3 L1941 933.8 L1944 938.5 L1947 936.9 L1950 938.9 L1953 935.8 L1956 941.5 L1959 942.3 L1962 940.3 L1965 931.7 L1968 931.1 L1971 933.2 L1974 936.2 L1977 934.6 L1980 934.4 L1983 935.5 L1986 936.7 L1989 934.6 L1992 933.0 L1995 929.4 L1998 928.9 L2001 929.1 L2004 931.8 L2007 931.8 L2010 934.5 L2013 931.2 L2016 932.3 L2019 928.3 L2022 933.2 L2025 931.8 L2028 932.8 L2031 929.6 L2034 927.7 L2037 923.8 L2040 917.0 L2043 915.8 L2046 919.9 L2049 927.9 L2052 934.1 L2055 938.4 L2058 942.0 L2061 941.8 L2064 939.0 L2067 937.9 L2070 935.6 L2073 934.5 L2076 932.2 L2079 936.5 L2082 937.7 L2085 938.1 L2088 937.2 L2091 940.5 L2094 937.3 L2097 934.1 L2100 931.1 L2103 931.6 L2106 930.8 L2109 929.4 L2112 931.7 L2115 932.3 L2118 930.6 L2121 930.8 L2124 932.5 L2127 934.0 L2130 938.8 L2133 938.3 L2136 940.0 L2139 935.3 L2142 935.7 L2145 934.5 L2148 934.3 L2151 933.8 L2154 934.6 L2157 934.0 L2160 935.0 L2163 933.1 L2166 936.7 L2169 935.5 L2172 936.4 L2175 935.7 L2178 936.8 L2181 935.3 L2184 933.4 L2187 934.2 L2190 941.4 L2193 940.6 L2196 939.0 L2199 934.7" stroke="#c04040" stroke-width="1.2" fill="none" stroke-linejoin="round"/>
<path d="M1440 934.7 L1443 930.4 L1446 930.9 L1449 931.4 L1452 931.8 L1455 934.5 L1458 933.1 L1461 931.9 L1464 929.0 L1467 931.5 L1470 933.2 L1473 936.5 L1476 935.5 L1479 936.1 L1482 933.8 L1485 933.7 L1488 934.2 L1491 940.8 L1494 944.4 L1497 940.3 L1500 935.5 L1503 932.1 L1506 935.3 L1509 934.5 L1512 938.0 L1515 940.6 L1518 944.1 L1521 940.7 L1524 936.2 L1527 932.6 L1530 932.9 L1533 936.3 L1536 935.7 L1539 936.0 L1542 933.9 L1545 935.3 L1548 935.7 L1551 936.8 L1554 937.7 L1557 939.1 L1560 937.5 L1563 936.8 L1566 932.9 L1569 936.3 L1572 934.1 L1575 935.9 L1578 932.9 L1581 935.2 L1584 933.3 L1587 928.8 L1590 916.4 L1593 907.6 L1596 903.3 L1599 910.6 L1602 920.8 L1605 929.5 L1608 935.0 L1611 933.6 L1614 933.3 L1617 932.5 L1620 933.0 L1623 933.3 L1626 930.2 L1629 933.0 L1632 930.7 L1635 931.8 L1638 932.2 L1641 932.8 L1644 934.7 L1647 931.3 L1650 934.8 L1653 934.8 L1656 938.0 L1659 936.5 L1662 934.5 L1665 933.1 L1668 936.3 L1671 941.1 L1674 942.8 L1677 937.3 L1680 936.1 L1683 936.8 L1686 936.6 L1689 935.0 L1692 931.8 L1695 935.0 L1698 933.1 L1701 933.8 L1704 935.8 L1707 940.1 L1710 941.4 L1713 938.3 L1716 935.1 L1719 934.9 L1722 935.6 L1725 933.2 L1728 931.9 L1731 931.7 L1734 935.4 L1737 937.6 L1740 935.8 L1743 934.3 L1746 933.1 L1749 932.4 L1752 934.5 L1755 933.0 L1758 935.9 L1761 936.3 L1764 936.6 L1767 926.9 L1770 912.9 L1773 903.0 L1776 911.6 L1779 926.4 L1782 935.9 L1785 936.3 L1788 934.4 L1791 934.5 L1794 934.8 L1797 932.4 L1800 931.1 L1803 928.2 L1806 930.4 L1809 928.3 L1812 932.6 L1815 931.4 L1818 935.6 L1821 934.2 L1824 936.3 L1827 935.8 L1830 932.8 L1833 919.8 L1836 904.4 L1839 896.5 L1842 905.5 L1845 923.1 L1848 933.6 L1851 938.8 L1854 935.8 L1857 937.2 L1860 937.6 L1863 938.4 L1866 935.5 L1869 933.5 L1872 933.0 L1875 935.8 L1878 934.9 L1881 933.1 L1884 932.1 L1887 935.8 L1890 937.2 L1893 939.4 L1896 940.6 L1899 938.4 L1902 937.0 L1905 934.5 L1908 937.6 L1911 935.8 L1914 931.6 L1917 929.0 L1920 928.7 L1923 934.3 L1926 935.0 L1929 936.2 L1932 931.6 L1935 931.8 L1938 933.8 L1941 936.4 L1944 937.2 L1947 933.1 L1950 931.9 L1953 930.6 L1956 932.7 L1959 932.4 L1962 933.8 L1965 935.7 L1968 940.3 L1971 937.5 L1974 935.1 L1977 930.8 L1980 932.8 L1983 930.8 L1986 933.5 L1989 931.6 L1992 935.8 L1995 934.9 L1998 939.0 L2001 937.4 L2004 937.2 L2007 934.4 L2010 935.5 L2013 937.4 L2016 937.2 L2019 934.0 L2022 930.4 L2025 931.5 L2028 933.0 L2031 937.1 L2034 937.5 L2037 936.3 L2040 932.6 L2043 933.5 L2046 934.0 L2049 935.0 L2052 932.4 L2055 936.2 L2058 936.8 L2061 937.5 L2064 934.6 L2067 932.8 L2070 933.4 L2073 934.2 L2076 934.4 L2079 932.9 L2082 935.1 L2085 936.4 L2088 938.2 L2091 935.4 L2094 933.2 L2097 935.1 L2100 934.4 L2103 939.1 L2106 938.1 L2109 939.9 L2112 937.4 L2115 937.2 L2118 937.1 L2121 937.1 L2124 935.6 L2127 935.0 L2130 929.6 L2133 916.7 L2136 895.5 L2139 878.2 L2142 873.1 L2145 889.1 L2148 911.2 L2151 928.6 L2154 932.9 L2157 932.8 L2160 935.2 L2163 936.5 L2166 936.8 L2169 937.4 L2172 939.3 L2175 937.2 L2178 938.6 L2181 936.2 L2184 938.7 L2187 932.6 L2190 931.9 L2193 932.9 L2196 933.1 L2199 934.7" stroke="#8b1a1a" stroke-width="1.2" fill="none" stroke-linejoin="round"/>
<path d="M1440 934.7 L1443 934.7 L1446 932.2 L1449 931.2 L1452 927.6 L1455 932.0 L1458 932.9 L1461 936.8 L1464 936.2 L1467 936.6 L1470 936.1 L1473 936.1 L1476 932.6 L1479 931.3 L1482 931.8 L1485 935.7 L1488 935.6 L1491 933.5 L1494 933.6 L1497 933.3 L1500 936.6 L1503 936.3 L1506 935.0 L1509 937.0 L1512 936.5 L1515 937.7 L1518 933.6 L1521 934.6 L1524 937.7 L1527 941.0 L1530 941.9 L1533 940.3 L1536 937.8 L1539 935.6 L1542 935.9 L1545 934.5 L1548 937.2 L1551 937.5 L1554 938.6 L1557 936.3 L1560 937.3 L1563 940.4 L1566 938.8 L1569 936.0 L1572 928.3 L1575 928.2 L1578 926.8 L1581 929.8 L1584 931.6 L1587 933.5 L1590 936.5 L1593 935.4 L1596 936.4 L1599 936.2 L1602 934.6 L1605 932.6 L1608 930.0 L1611 930.7 L1614 929.8 L1617 930.8 L1620 934.4 L1623 938.8 L1626 937.4 L1629 934.7 L1632 935.6 L1635 934.6 L1638 934.6 L1641 929.4 L1644 929.7 L1647 930.8 L1650 933.4 L1653 936.5 L1656 937.1 L1659 937.8 L1662 935.7 L1665 932.0 L1668 933.0 L1671 932.7 L1674 934.9 L1677 933.8 L1680 933.0 L1683 933.7 L1686 931.0 L1689 933.5 L1692 934.4 L1695 935.4 L1698 937.3 L1701 937.7 L1704 938.9 L1707 934.5 L1710 926.2 L1713 915.6 L1716 903.8 L1719 899.8 L1722 906.8 L1725 921.0 L1728 930.7 L1731 934.6 L1734 932.0 L1737 933.7 L1740 931.6 L1743 933.8 L1746 930.2 L1749 931.1 L1752 932.3 L1755 935.2 L1758 936.3 L1761 932.9 L1764 934.7 L1767 936.0 L1770 936.6 L1773 933.5 L1776 934.4 L1779 937.0 L1782 937.1 L1785 937.0 L1788 935.1 L1791 934.3 L1794 932.6 L1797 937.5 L1800 937.0 L1803 935.1 L1806 928.3 L1809 928.8 L1812 933.5 L1815 933.5 L1818 934.4 L1821 930.0 L1824 932.6 L1827 933.6 L1830 935.6 L1833 932.7 L1836 931.8 L1839 931.7 L1842 936.5 L1845 936.1 L1848 935.1 L1851 930.7 L1854 925.9 L1857 920.2 L1860 918.7 L1863 922.4 L1866 928.1 L1869 930.5 L1872 931.4 L1875 931.8 L1878 934.5 L1881 934.3 L1884 933.0 L1887 933.4 L1890 934.2 L1893 936.3 L1896 938.2 L1899 938.9 L1902 936.7 L1905 934.2 L1908 935.4 L1911 935.2 L1914 935.9 L1917 936.3 L1920 938.5 L1923 935.6 L1926 933.0 L1929 933.3 L1932 934.6 L1935 934.0 L1938 929.4 L1941 923.7 L1944 922.6 L1947 924.9 L1950 930.3 L1953 927.5 L1956 928.9 L1959 930.0 L1962 934.8 L1965 935.3 L1968 933.3 L1971 932.6 L1974 932.4 L1977 933.3 L1980 933.0 L1983 930.1 L1986 930.6 L1989 932.3 L1992 934.8 L1995 931.9 L1998 929.9 L2001 929.1 L2004 931.3 L2007 933.0 L2010 934.0 L2013 932.7 L2016 929.6 L2019 928.0 L2022 932.2 L2025 933.7 L2028 937.5 L2031 937.9 L2034 938.6 L2037 937.8 L2040 934.8 L2043 937.6 L2046 939.1 L2049 938.8 L2052 939.2 L2055 937.7 L2058 937.1 L2061 934.9 L2064 934.2 L2067 934.5 L2070 936.2 L2073 938.4 L2076 938.1 L2079 934.5 L2082 932.6 L2085 933.6 L2088 935.0 L2091 938.3 L2094 939.1 L2097 940.0 L2100 937.1 L2103 936.0 L2106 935.8 L2109 937.7 L2112 938.1 L2115 937.2 L2118 938.3 L2121 939.4 L2124 940.4 L2127 934.8 L2130 931.7 L2133 928.4 L2136 928.7 L2139 930.6 L2142 933.3 L2145 937.5 L2148 934.8 L2151 933.5 L2154 930.5 L2157 931.4 L2160 931.7 L2163 931.7 L2166 928.6 L2169 917.7 L2172 910.3 L2175 915.4 L2178 928.4 L2181 932.2 L2184 932.0 L2187 932.7 L2190 933.2 L2193 933.4 L2196 936.3 L2199 934.7" stroke="#c04040" stroke-width="1.2" fill="none" stroke-linejoin="round"/>
<path d="M1440 934.7 L1443 937.6 L1446 937.9 L1449 935.1 L1452 931.4 L1455 933.1 L1458 932.5 L1461 934.8 L1464 932.0 L1467 932.3 L1470 934.0 L1473 933.2 L1476 937.0 L1479 936.2 L1482 939.1 L1485 934.0 L1488 930.5 L1491 927.8 L1494 929.8 L1497 933.4 L1500 931.7 L1503 930.2 L1506 927.4 L1509 929.4 L1512 929.9 L1515 928.3 L1518 923.5 L1521 924.7 L1524 927.0 L1527 929.7 L1530 928.8 L1533 927.1 L1536 929.4 L1539 930.2 L1542 930.8 L1545 930.4 L1548 930.6 L1551 933.7 L1554 937.3 L1557 935.4 L1560 935.2 L1563 934.0 L1566 935.0 L1569 935.8 L1572 936.8 L1575 939.2 L1578 937.8 L1581 935.1 L1584 933.3 L1587 931.6 L1590 932.2 L1593 932.4 L1596 934.2 L1599 935.1 L1602 935.0 L1605 934.3 L1608 930.1 L1611 929.8 L1614 931.5 L1617 933.6 L1620 935.0 L1623 931.2 L1626 935.1 L1629 935.8 L1632 939.5 L1635 936.4 L1638 935.6 L1641 937.1 L1644 940.4 L1647 939.9 L1650 934.8 L1653 929.3 L1656 930.2 L1659 931.9 L1662 935.8 L1665 937.5 L1668 936.2 L1671 933.7 L1674 931.8 L1677 934.5 L1680 934.1 L1683 933.0 L1686 932.9 L1689 934.0 L1692 934.5 L1695 934.6 L1698 936.3 L1701 934.8 L1704 934.9 L1707 935.6 L1710 934.2 L1713 931.3 L1716 928.5 L1719 931.6 L1722 933.3 L1725 936.6 L1728 936.5 L1731 936.4 L1734 934.3 L1737 933.6 L1740 935.3 L1743 934.7 L1746 938.0 L1749 936.8 L1752 938.1 L1755 937.7 L1758 938.3 L1761 937.3 L1764 936.1 L1767 933.9 L1770 935.1 L1773 932.6 L1776 932.9 L1779 932.7 L1782 931.9 L1785 935.4 L1788 933.5 L1791 935.8 L1794 932.3 L1797 935.7 L1800 937.8 L1803 940.5 L1806 937.8 L1809 935.8 L1812 934.4 L1815 934.8 L1818 936.1 L1821 938.4 L1824 938.7 L1827 936.7 L1830 932.8 L1833 932.9 L1836 932.0 L1839 935.9 L1842 933.8 L1845 937.4 L1848 934.7 L1851 937.6 L1854 937.4 L1857 938.7 L1860 934.8 L1863 934.3 L1866 932.4 L1869 934.5 L1872 932.9 L1875 933.4 L1878 932.6 L1881 935.0 L1884 935.2 L1887 934.1 L1890 928.3 L1893 920.4 L1896 919.3 L1899 921.6 L1902 929.6 L1905 929.5 L1908 924.2 L1911 913.4 L1914 909.6 L1917 915.1 L1920 923.0 L1923 933.7 L1926 934.0 L1929 934.7 L1932 932.0 L1935 932.3 L1938 933.8 L1941 931.3 L1944 937.1 L1947 938.5 L1950 939.6 L1953 936.4 L1956 936.3 L1959 936.4 L1962 940.5 L1965 940.2 L1968 940.8 L1971 936.3 L1974 936.8 L1977 935.6 L1980 935.0 L1983 931.3 L1986 932.6 L1989 930.3 L1992 933.6 L1995 933.8 L1998 938.9 L2001 937.1 L2004 938.1 L2007 934.2 L2010 935.1 L2013 933.5 L2016 936.1 L2019 935.9 L2022 934.7 L2025 932.4 L2028 933.2 L2031 934.3 L2034 934.6 L2037 936.6 L2040 934.4 L2043 935.2 L2046 935.0 L2049 938.1 L2052 938.7 L2055 939.9 L2058 935.9 L2061 933.8 L2064 932.6 L2067 935.1 L2070 933.9 L2073 931.4 L2076 932.9 L2079 939.3 L2082 942.7 L2085 939.0 L2088 934.9 L2091 934.4 L2094 935.2 L2097 936.3 L2100 935.2 L2103 937.3 L2106 937.4 L2109 933.6 L2112 934.3 L2115 934.1 L2118 934.5 L2121 929.3 L2124 925.9 L2127 913.0 L2130 894.1 L2133 877.4 L2136 876.1 L2139 896.0 L2142 912.3 L2145 930.5 L2148 936.5 L2151 937.8 L2154 935.5 L2157 932.7 L2160 933.8 L2163 934.7 L2166 935.0 L2169 937.1 L2172 935.9 L2175 935.5 L2178 934.1 L2181 936.0 L2184 936.5 L2187 938.6 L2190 938.2 L2193 939.4 L2196 934.7 L2199 934.7" stroke="#b02828" stroke-width="1.2" fill="none" stroke-linejoin="round"/>
<path d="M1440 934.7 L1443 936.8 L1446 936.0 L1449 935.9 L1452 933.8 L1455 933.1 L1458 935.8 L1461 936.4 L1464 937.9 L1467 937.4 L1470 935.2 L1473 933.9 L1476 929.0 L1479 925.3 L1482 917.4 L1485 911.3 L1488 915.2 L1491 924.8 L1494 933.8 L1497 937.2 L1500 935.4 L1503 933.4 L1506 930.5 L1509 932.0 L1512 934.6 L1515 934.8 L1518 932.2 L1521 932.6 L1524 934.1 L1527 934.2 L1530 933.2 L1533 931.9 L1536 932.9 L1539 934.6 L1542 935.4 L1545 934.5 L1548 933.4 L1551 933.5 L1554 934.8 L1557 933.9 L1560 929.3 L1563 931.1 L1566 931.5 L1569 932.4 L1572 931.0 L1575 930.6 L1578 936.4 L1581 934.8 L1584 934.0 L1587 930.2 L1590 932.1 L1593 933.0 L1596 934.5 L1599 932.7 L1602 933.4 L1605 931.9 L1608 935.6 L1611 936.1 L1614 942.2 L1617 940.2 L1620 938.4 L1623 934.1 L1626 929.9 L1629 932.8 L1632 933.0 L1635 938.4 L1638 937.6 L1641 937.8 L1644 938.8 L1647 939.6 L1650 935.4 L1653 933.3 L1656 930.2 L1659 935.7 L1662 935.5 L1665 936.1 L1668 934.3 L1671 934.9 L1674 936.1 L1677 935.8 L1680 933.5 L1683 931.2 L1686 933.5 L1689 938.3 L1692 940.6 L1695 938.4 L1698 933.8 L1701 931.7 L1704 932.8 L1707 930.6 L1710 931.9 L1713 933.8 L1716 935.6 L1719 935.6 L1722 932.1 L1725 936.4 L1728 937.4 L1731 937.6 L1734 935.2 L1737 933.5 L1740 931.7 L1743 928.9 L1746 927.9 L1749 930.3 L1752 930.0 L1755 931.6 L1758 929.9 L1761 933.2 L1764 936.0 L1767 941.2 L1770 940.5 L1773 939.3 L1776 935.5 L1779 934.3 L1782 935.7 L1785 938.6 L1788 939.1 L1791 934.1 L1794 927.5 L1797 921.8 L1800 915.1 L1803 906.2 L1806 908.5 L1809 917.9 L1812 927.7 L1815 932.1 L1818 933.2 L1821 934.6 L1824 932.5 L1827 930.6 L1830 929.8 L1833 929.8 L1836 931.1 L1839 932.9 L1842 934.1 L1845 934.8 L1848 932.0 L1851 929.9 L1854 926.6 L1857 930.5 L1860 932.8 L1863 939.5 L1866 938.5 L1869 941.2 L1872 936.4 L1875 934.2 L1878 933.3 L1881 934.7 L1884 934.7 L1887 930.0 L1890 929.0 L1893 929.2 L1896 929.6 L1899 924.3 L1902 917.1 L1905 914.9 L1908 921.9 L1911 927.5 L1914 932.6 L1917 931.5 L1920 928.9 L1923 922.8 L1926 917.1 L1929 921.2 L1932 924.3 L1935 933.1 L1938 936.6 L1941 940.8 L1944 938.7 L1947 937.4 L1950 937.9 L1953 936.1 L1956 936.6 L1959 934.5 L1962 936.1 L1965 935.2 L1968 934.4 L1971 933.8 L1974 933.2 L1977 932.1 L1980 934.1 L1983 935.7 L1986 937.1 L1989 937.7 L1992 935.3 L1995 935.8 L1998 935.0 L2001 934.7 L2004 933.6 L2007 937.8 L2010 939.3 L2013 939.9 L2016 934.2 L2019 934.5 L2022 936.7 L2025 937.3 L2028 935.3 L2031 936.8 L2034 939.5 L2037 941.6 L2040 942.5 L2043 941.0 L2046 938.7 L2049 936.1 L2052 934.9 L2055 937.7 L2058 935.2 L2061 934.4 L2064 930.7 L2067 931.3 L2070 930.6 L2073 932.1 L2076 933.1 L2079 932.3 L2082 934.0 L2085 932.9 L2088 931.3 L2091 928.9 L2094 930.5 L2097 934.1 L2100 936.5 L2103 935.4 L2106 938.4 L2109 937.1 L2112 939.5 L2115 936.3 L2118 936.1 L2121 932.0 L2124 928.9 L2127 932.3 L2130 935.8 L2133 941.2 L2136 939.3 L2139 935.9 L2142 934.7 L2145 934.8 L2148 938.2 L2151 938.6 L2154 938.4 L2157 936.7 L2160 938.0 L2163 937.4 L2166 936.3 L2169 933.3 L2172 935.3 L2175 934.8 L2178 934.1 L2181 931.5 L2184 934.9 L2187 938.7 L2190 939.2 L2193 938.8 L2196 938.6 L2199 934.7" stroke="#c04040" stroke-width="1.2" fill="none" stroke-linejoin="round"/>
<path d="M1850 928.4 L1853 931.5 L1856 929.6 L1859 933.2 L1862 936.7 L1865 934.6 L1868 932.4 L1871 926.5 L1874 928.9 L1877 926.7 L1880 931.4 L1883 931.3 L1886 932.3 L1889 928.9 L1892 924.9 L1895 923.0 L1898 926.4 L1901 929.2 L1904 931.1 L1907 929.7 L1910 928.7 L1913 925.8 L1916 925.5 L1919 924.6 L1922 924.9 L1925 925.9 L1928 924.8 L1931 924.3 L1934 921.8 L1937 921.0 L1940 920.6 L1943 914.0 L1946 911.0 L1949 912.7 L1952 918.8 L1955 925.5 L1958 927.8 L1961 931.2 L1964 932.4 L1967 933.7 L1970 929.9 L1973 931.8 L1976 929.6 L1979 932.6 L1982 931.3 L1985 929.4 L1988 926.2 L1991 912.1 L1994 898.3 L1997 886.8 L2000 895.1 L2003 908.9 L2006 919.7 L2009 925.1 L2012 927.4 L2015 926.2 L2018 926.4 L2021 923.3 L2024 927.0 L2027 926.9 L2030 932.8 L2033 933.6 L2036 935.6 L2039 933.7 L2042 931.1 L2045 928.3 L2048 927.9 L2051 928.2 L2054 920.6 L2057 910.0 L2060 906.9 L2063 907.3 L2066 908.3 L2069 911.7 L2072 919.9 L2075 923.0 L2078 924.9 L2081 927.0 L2084 931.7 L2087 933.4 L2090 930.9 L2093 923.0 L2096 921.5 L2099 926.6 L2102 930.0 L2105 926.9 L2108 923.4 L2111 923.3 L2114 925.7 L2117 926.0 L2120 927.2 L2123 927.1 L2126 926.8 L2129 928.5 L2132 927.2 L2135 927.7 L2138 930.2 L2141 929.5 L2144 928.7 L2147 921.4 L2150 919.9 L2153 916.0 L2156 918.1 L2159 914.6 L2162 902.3 L2165 887.9 L2168 890.6 L2171 912.1 L2174 923.8 L2177 924.6 L2180 918.2 L2183 919.4 L2186 925.0 L2189 927.6" stroke="#8b1a1a" stroke-width="1.2" fill="none" stroke-linejoin="round"/>
<path d="M1850 923.1 L1853 915.6 L1856 903.1 L1859 893.1 L1862 898.8 L1865 913.9 L1868 923.5 L1871 929.2 L1874 927.8 L1877 929.8 L1880 928.4 L1883 927.8 L1886 924.2 L1889 924.0 L1892 926.6 L1895 929.4 L1898 930.2 L1901 930.5 L1904 926.6 L1907 922.4 L1910 907.3 L1913 887.3 L1916 875.3 L1919 885.6 L1922 901.2 L1925 914.9 L1928 922.1 L1931 926.8 L1934 927.6 L1937 913.8 L1940 893.0 L1943 884.5 L1946 900.8 L1949 918.9 L1952 927.2 L1955 926.1 L1958 922.1 L1961 914.0 L1964 910.1 L1967 915.4 L1970 920.6 L1973 927.5 L1976 925.1 L1979 925.1 L1982 923.2 L1985 925.2 L1988 922.3 L1991 923.8 L1994 925.4 L1997 928.4 L2000 930.8 L2003 925.8 L2006 925.7 L2009 921.1 L2012 922.5 L2015 923.6 L2018 928.0 L2021 930.7 L2024 930.4 L2027 928.6 L2030 926.9 L2033 929.0 L2036 930.0 L2039 930.1 L2042 927.7 L2045 926.4 L2048 928.6 L2051 932.6 L2054 929.2 L2057 929.5 L2060 928.2 L2063 932.8 L2066 929.4 L2069 929.2 L2072 927.1 L2075 928.1 L2078 928.7 L2081 929.4 L2084 931.9 L2087 930.3 L2090 929.3 L2093 927.7 L2096 928.9 L2099 930.9 L2102 930.8 L2105 928.7 L2108 931.9 L2111 934.6 L2114 934.4 L2117 930.8 L2120 927.7 L2123 928.2 L2126 928.2 L2129 929.0 L2132 929.2 L2135 927.8 L2138 926.5 L2141 926.7 L2144 929.5 L2147 929.6 L2150 930.6 L2153 925.0 L2156 911.6 L2159 891.4 L2162 883.0 L2165 894.7 L2168 907.4 L2171 908.6 L2174 899.0 L2177 894.6 L2180 898.9 L2183 911.6 L2186 921.5 L2189 927.5" stroke="#a01515" stroke-width="1.2" fill="none" stroke-linejoin="round"/>
<path d="M1850 925.4 L1853 916.8 L1856 905.3 L1859 894.8 L1862 887.7 L1865 892.7 L1868 903.1 L1871 917.6 L1874 925.5 L1877 931.8 L1880 929.1 L1883 927.5 L1886 924.4 L1889 926.3 L1892 927.7 L1895 929.2 L1898 927.3 L1901 927.6 L1904 923.8 L1907 920.3 L1910 912.0 L1913 905.5 L1916 901.1 L1919 901.5 L1922 909.7 L1925 917.1 L1928 921.9 L1931 920.1 L1934 917.0 L1937 910.9 L1940 908.0 L1943 913.5 L1946 920.6 L1949 924.9 L1952 928.5 L1955 928.9 L1958 928.1 L1961 928.6 L1964 926.0 L1967 924.3 L1970 921.6 L1973 915.0 L1976 913.3 L1979 908.3 L1982 915.0 L1985 915.3 L1988 921.5 L1991 924.7 L1994 926.8 L1997 929.4 L2000 927.4 L2003 931.4 L2006 926.5 L2009 927.4 L2012 924.7 L2015 927.1 L2018 928.8 L2021 933.8 L2024 930.7 L2027 928.5 L2030 926.8 L2033 930.4 L2036 929.1 L2039 929.7 L2042 925.3 L2045 927.4 L2048 925.5 L2051 927.2 L2054 926.4 L2057 927.5 L2060 928.1 L2063 927.7 L2066 924.1 L2069 927.2 L2072 929.9 L2075 930.7 L2078 929.9 L2081 931.6 L2084 933.6 L2087 931.6 L2090 928.0 L2093 920.4 L2096 912.4 L2099 898.3 L2102 896.4 L2105 902.7 L2108 915.8 L2111 922.5 L2114 925.7 L2117 925.0 L2120 929.9 L2123 930.2 L2126 932.2 L2129 930.3 L2132 930.4 L2135 931.5 L2138 929.0 L2141 929.5 L2144 927.4 L2147 929.6 L2150 926.9 L2153 927.1 L2156 922.6 L2159 924.9 L2162 926.5 L2165 929.2 L2168 929.8 L2171 930.7 L2174 930.5 L2177 927.6 L2180 918.7 L2183 903.2 L2186 892.3 L2189 894.2" stroke="#e01010" stroke-width="1.2" fill="none" stroke-linejoin="round"/>
<path d="M1850 928.4 L1853 929.0 L1856 928.0 L1859 925.9 L1862 928.3 L1865 925.4 L1868 924.5 L1871 929.5 L1874 932.0 L1877 931.5 L1880 928.5 L1883 924.6 L1886 926.2 L1889 926.9 L1892 929.1 L1895 926.2 L1898 925.3 L1901 925.3 L1904 930.0 L1907 929.8 L1910 929.9 L1913 925.5 L1916 919.2 L1919 912.0 L1922 903.5 L1925 906.4 L1928 915.9 L1931 925.8 L1934 927.9 L1937 929.0 L1940 927.5 L1943 929.0 L1946 929.0 L1949 931.2 L1952 928.9 L1955 922.6 L1958 925.8 L1961 928.3 L1964 929.9 L1967 921.9 L1970 912.8 L1973 908.5 L1976 907.5 L1979 909.6 L1982 914.5 L1985 919.1 L1988 924.6 L1991 926.7 L1994 927.8 L1997 927.4 L2000 927.7 L2003 923.3 L2006 907.2 L2009 897.1 L2012 901.3 L2015 917.4 L2018 927.2 L2021 926.9 L2024 931.0 L2027 931.9 L2030 932.5 L2033 928.1 L2036 926.2 L2039 926.4 L2042 929.3 L2045 928.8 L2048 931.9 L2051 931.8 L2054 931.6 L2057 931.0 L2060 929.5 L2063 929.2 L2066 929.7 L2069 928.0 L2072 925.2 L2075 923.8 L2078 923.2 L2081 925.7 L2084 927.5 L2087 931.5 L2090 932.8 L2093 934.0 L2096 930.3 L2099 925.1 L2102 910.8 L2105 899.9 L2108 896.8 L2111 907.2 L2114 916.3 L2117 923.4 L2120 923.8 L2123 926.7 L2126 926.0 L2129 928.0 L2132 925.9 L2135 923.3 L2138 917.6 L2141 911.4 L2144 905.7 L2147 901.8 L2150 905.1 L2153 911.9 L2156 916.5 L2159 917.8 L2162 916.7 L2165 911.3 L2168 901.3 L2171 890.0 L2174 892.4 L2177 905.1 L2180 919.7 L2183 927.0 L2186 932.8 L2189 928.3" stroke="#e01010" stroke-width="1.2" fill="none" stroke-linejoin="round"/>
<path d="M1850 927.5 L1853 928.8 L1856 927.6 L1859 916.9 L1862 905.8 L1865 900.4 L1868 902.6 L1871 913.2 L1874 920.8 L1877 930.1 L1880 930.8 L1883 928.8 L1886 928.4 L1889 930.4 L1892 929.6 L1895 928.4 L1898 927.0 L1901 932.2 L1904 932.5 L1907 931.9 L1910 930.6 L1913 931.5 L1916 935.1 L1919 933.7 L1922 934.0 L1925 931.8 L1928 930.2 L1931 924.9 L1934 925.4 L1937 923.6 L1940 925.2 L1943 924.9 L1946 926.8 L1949 925.2 L1952 922.2 L1955 921.8 L1958 924.6 L1961 925.6 L1964 926.2 L1967 924.5 L1970 922.4 L1973 914.0 L1976 909.8 L1979 907.0 L1982 914.8 L1985 918.0 L1988 922.0 L1991 921.1 L1994 924.3 L1997 926.4 L2000 927.5 L2003 926.5 L2006 926.1 L2009 927.1 L2012 927.0 L2015 927.6 L2018 927.2 L2021 930.2 L2024 930.7 L2027 933.7 L2030 931.4 L2033 931.9 L2036 928.7 L2039 926.4 L2042 927.3 L2045 929.5 L2048 931.1 L2051 926.5 L2054 923.9 L2057 923.7 L2060 926.2 L2063 928.0 L2066 926.1 L2069 918.6 L2072 909.5 L2075 911.4 L2078 923.2 L2081 931.2 L2084 932.8 L2087 932.2 L2090 930.0 L2093 930.5 L2096 925.4 L2099 918.4 L2102 907.5 L2105 905.0 L2108 909.0 L2111 919.0 L2114 925.8 L2117 928.1 L2120 929.1 L2123 928.1 L2126 933.0 L2129 929.5 L2132 928.1 L2135 926.4 L2138 931.1 L2141 931.3 L2144 927.9 L2147 919.6 L2150 912.1 L2153 908.3 L2156 910.1 L2159 916.9 L2162 922.6 L2165 928.3 L2168 930.9 L2171 929.4 L2174 925.1 L2177 916.7 L2180 903.3 L2183 894.4 L2186 892.5 L2189 904.4" stroke="#e01010" stroke-width="1.2" fill="none" stroke-linejoin="round"/>
<path d="M1850 928.4 L1853 929.8 L1856 930.3 L1859 930.0 L1862 930.5 L1865 928.2 L1868 926.9 L1871 926.5 L1874 929.1 L1877 924.4 L1880 924.4 L1883 920.7 L1886 928.1 L1889 929.1 L1892 929.4 L1895 929.2 L1898 929.8 L1901 931.9 L1904 931.3 L1907 930.0 L1910 929.7 L1913 926.9 L1916 926.1 L1919 925.9 L1922 925.1 L1925 923.0 L1928 924.1 L1931 929.5 L1934 933.6 L1937 931.2 L1940 928.9 L1943 928.3 L1946 930.5 L1949 924.3 L1952 913.9 L1955 898.1 L1958 892.5 L1961 902.6 L1964 913.0 L1967 921.7 L1970 922.5 L1973 927.7 L1976 922.8 L1979 915.9 L1982 903.2 L1985 892.2 L1988 889.7 L1991 896.2 L1994 909.9 L1997 917.5 L2000 918.4 L2003 914.2 L2006 912.2 L2009 910.0 L2012 903.2 L2015 899.1 L2018 900.2 L2021 909.3 L2024 917.0 L2027 925.4 L2030 927.2 L2033 927.5 L2036 925.7 L2039 927.7 L2042 927.3 L2045 929.4 L2048 927.9 L2051 927.7 L2054 924.1 L2057 925.1 L2060 928.2 L2063 930.5 L2066 927.7 L2069 926.4 L2072 922.5 L2075 927.7 L2078 924.4 L2081 925.4 L2084 917.0 L2087 913.8 L2090 902.9 L2093 891.8 L2096 879.7 L2099 878.2 L2102 883.8 L2105 894.9 L2108 907.9 L2111 918.6 L2114 927.3 L2117 929.2 L2120 931.3 L2123 929.0 L2126 929.1 L2129 929.5 L2132 929.7 L2135 927.9 L2138 924.9 L2141 927.9 L2144 931.0 L2147 929.9 L2150 929.8 L2153 929.0 L2156 927.1 L2159 922.3 L2162 917.8 L2165 913.9 L2168 909.5 L2171 910.9 L2174 919.6 L2177 929.2 L2180 932.5 L2183 934.1 L2186 931.7 L2189 928.4" stroke="#a01515" stroke-width="1.2" fill="none" stroke-linejoin="round"/>
<path d="M1850 928.4 L1853 931.3 L1856 931.2 L1859 931.0 L1862 926.7 L1865 920.8 L1868 912.1 L1871 902.9 L1874 893.4 L1877 894.5 L1880 907.0 L1883 917.6 L1886 924.3 L1889 927.7 L1892 927.7 L1895 929.0 L1898 924.0 L1901 926.7 L1904 926.2 L1907 930.1 L1910 928.6 L1913 924.7 L1916 918.1 L1919 908.7 L1922 906.1 L1925 907.4 L1928 916.4 L1931 920.1 L1934 923.0 L1937 924.0 L1940 922.0 L1943 921.5 L1946 920.3 L1949 924.9 L1952 927.6 L1955 928.8 L1958 928.0 L1961 929.8 L1964 929.4 L1967 930.9 L1970 926.2 L1973 924.9 L1976 921.1 L1979 919.9 L1982 920.3 L1985 919.8 L1988 923.1 L1991 922.9 L1994 927.8 L1997 927.3 L2000 919.8 L2003 901.1 L2006 887.8 L2009 897.9 L2012 918.1 L2015 928.1 L2018 932.6 L2021 929.5 L2024 924.9 L2027 915.7 L2030 906.5 L2033 902.9 L2036 909.4 L2039 921.5 L2042 926.7 L2045 931.7 L2048 927.4 L2051 926.4 L2054 921.3 L2057 921.5 L2060 921.4 L2063 927.8 L2066 928.3 L2069 929.1 L2072 926.6 L2075 922.4 L2078 917.6 L2081 912.2 L2084 916.2 L2087 920.2 L2090 926.1 L2093 922.8 L2096 920.9 L2099 921.7 L2102 925.8 L2105 928.6 L2108 925.9 L2111 921.8 L2114 908.8 L2117 898.2 L2120 900.3 L2123 912.2 L2126 920.3 L2129 924.8 L2132 930.7 L2135 932.3 L2138 932.7 L2141 927.7 L2144 924.4 L2147 922.8 L2150 926.7 L2153 929.6 L2156 931.3 L2159 927.1 L2162 927.3 L2165 930.1 L2168 932.9 L2171 933.3 L2174 933.6 L2177 932.3 L2180 932.2 L2183 926.9 L2186 926.9 L2189 928.4" stroke="#a01515" stroke-width="1.2" fill="none" stroke-linejoin="round"/>
<path d="M1850 928.4 L1853 930.3 L1856 924.6 L1859 924.7 L1862 927.5 L1865 931.1 L1868 932.7 L1871 926.9 L1874 925.8 L1877 921.2 L1880 925.0 L1883 928.0 L1886 930.2 L1889 931.8 L1892 931.7 L1895 933.5 L1898 931.4 L1901 932.4 L1904 934.6 L1907 931.9 L1910 930.2 L1913 927.0 L1916 928.2 L1919 924.8 L1922 918.2 L1925 900.9 L1928 878.9 L1931 876.9 L1934 889.5 L1937 897.6 L1940 905.9 L1943 911.6 L1946 921.4 L1949 926.9 L1952 929.7 L1955 929.3 L1958 925.9 L1961 929.7 L1964 931.2 L1967 931.2 L1970 928.5 L1973 927.7 L1976 927.2 L1979 924.3 L1982 924.4 L1985 920.7 L1988 922.8 L1991 922.7 L1994 925.9 L1997 926.4 L2000 927.4 L2003 926.6 L2006 930.2 L2009 932.6 L2012 931.2 L2015 926.3 L2018 922.3 L2021 925.3 L2024 926.1 L2027 928.6 L2030 929.5 L2033 930.8 L2036 923.5 L2039 912.4 L2042 896.2 L2045 888.4 L2048 893.9 L2051 909.5 L2054 918.9 L2057 923.5 L2060 923.7 L2063 926.1 L2066 925.1 L2069 922.8 L2072 922.6 L2075 923.4 L2078 925.8 L2081 924.6 L2084 924.4 L2087 922.4 L2090 926.9 L2093 927.5 L2096 927.9 L2099 924.3 L2102 929.9 L2105 934.0 L2108 933.3 L2111 924.3 L2114 907.6 L2117 896.3 L2120 894.4 L2123 909.0 L2126 922.6 L2129 928.5 L2132 929.3 L2135 929.7 L2138 934.0 L2141 928.1 L2144 926.7 L2147 923.7 L2150 931.8 L2153 929.4 L2156 921.2 L2159 911.5 L2162 913.0 L2165 922.4 L2168 926.3 L2171 926.5 L2174 926.2 L2177 927.2 L2180 932.3 L2183 932.8 L2186 935.1 L2189 928.4" stroke="#a01515" stroke-width="1.2" fill="none" stroke-linejoin="round"/>
<path d="M1850 928.4 L1853 932.4 L1856 929.2 L1859 928.4 L1862 931.4 L1865 926.9 L1868 923.3 L1871 923.5 L1874 928.0 L1877 931.2 L1880 928.2 L1883 925.9 L1886 925.0 L1889 924.4 L1892 923.0 L1895 920.8 L1898 921.9 L1901 923.9 L1904 924.6 L1907 915.3 L1910 905.4 L1913 898.5 L1916 901.0 L1919 906.6 L1922 910.7 L1925 917.6 L1928 917.0 L1931 912.0 L1934 899.1 L1937 894.0 L1940 900.7 L1943 911.8 L1946 922.1 L1949 925.7 L1952 926.0 L1955 924.4 L1958 926.4 L1961 929.7 L1964 930.4 L1967 924.7 L1970 915.8 L1973 898.5 L1976 886.5 L1979 887.5 L1982 899.7 L1985 902.0 L1988 904.2 L1991 911.1 L1994 922.1 L1997 927.4 L2000 929.7 L2003 926.6 L2006 926.8 L2009 926.2 L2012 926.6 L2015 929.0 L2018 926.9 L2021 929.8 L2024 926.4 L2027 929.2 L2030 929.6 L2033 934.1 L2036 932.9 L2039 930.4 L2042 929.6 L2045 925.9 L2048 923.4 L2051 915.3 L2054 909.7 L2057 915.0 L2060 918.3 L2063 930.4 L2066 926.7 L2069 928.7 L2072 921.8 L2075 917.5 L2078 904.9 L2081 890.8 L2084 894.3 L2087 907.2 L2090 922.0 L2093 929.5 L2096 930.5 L2099 928.2 L2102 925.9 L2105 926.9 L2108 929.2 L2111 928.2 L2114 925.4 L2117 924.7 L2120 927.5 L2123 925.7 L2126 928.1 L2129 926.2 L2132 930.7 L2135 925.7 L2138 926.4 L2141 929.1 L2144 933.3 L2147 932.9 L2150 930.1 L2153 929.2 L2156 930.4 L2159 933.1 L2162 934.5 L2165 934.6 L2168 933.1 L2171 930.8 L2174 931.5 L2177 926.8 L2180 927.4 L2183 920.2 L2186 919.1 L2189 919.3" stroke="#e01010" stroke-width="1.2" fill="none" stroke-linejoin="round"/>
<path d="M1850 928.4 L1853 926.6 L1856 926.6 L1859 927.4 L1862 926.4 L1865 926.2 L1868 924.4 L1871 924.1 L1874 920.3 L1877 917.9 L1880 914.3 L1883 918.3 L1886 919.6 L1889 924.1 L1892 925.1 L1895 929.3 L1898 928.7 L1901 928.0 L1904 926.2 L1907 926.6 L1910 927.0 L1913 928.7 L1916 931.4 L1919 930.5 L1922 928.6 L1925 923.9 L1928 921.0 L1931 917.7 L1934 913.0 L1937 904.4 L1940 894.9 L1943 895.4 L1946 909.9 L1949 920.6 L1952 926.2 L1955 924.6 L1958 926.5 L1961 926.0 L1964 924.5 L1967 924.4 L1970 926.5 L1973 927.0 L1976 926.0 L1979 921.7 L1982 924.1 L1985 923.0 L1988 922.6 L1991 909.3 L1994 891.5 L1997 886.6 L2000 896.6 L2003 916.0 L2006 920.1 L2009 915.0 L2012 904.5 L2015 900.0 L2018 906.4 L2021 916.5 L2024 923.8 L2027 928.6 L2030 930.5 L2033 930.8 L2036 931.6 L2039 930.8 L2042 932.5 L2045 930.9 L2048 928.8 L2051 927.2 L2054 924.8 L2057 925.5 L2060 925.7 L2063 929.2 L2066 929.7 L2069 931.5 L2072 928.6 L2075 931.1 L2078 931.5 L2081 934.3 L2084 934.9 L2087 932.3 L2090 932.2 L2093 930.1 L2096 929.2 L2099 931.7 L2102 931.2 L2105 930.8 L2108 921.6 L2111 911.4 L2114 898.2 L2117 886.5 L2120 885.9 L2123 891.4 L2126 897.6 L2129 901.2 L2132 902.9 L2135 910.0 L2138 917.7 L2141 924.1 L2144 925.1 L2147 928.4 L2150 927.6 L2153 931.3 L2156 924.5 L2159 926.4 L2162 924.7 L2165 925.0 L2168 925.6 L2171 920.6 L2174 919.5 L2177 909.2 L2180 900.8 L2183 890.0 L2186 893.5 L2189 905.8" stroke="#e01010" stroke-width="1.2" fill="none" stroke-linejoin="round"/>
<path d="M1850 928.4 L1853 925.7 L1856 925.2 L1859 927.2 L1862 928.1 L1865 928.4 L1868 926.2 L1871 926.3 L1874 921.3 L1877 913.8 L1880 898.9 L1883 895.8 L1886 901.9 L1889 914.9 L1892 921.6 L1895 923.6 L1898 925.9 L1901 928.8 L1904 929.9 L1907 929.6 L1910 929.4 L1913 933.7 L1916 931.4 L1919 930.2 L1922 928.7 L1925 932.2 L1928 934.5 L1931 932.1 L1934 930.6 L1937 930.9 L1940 932.2 L1943 929.9 L1946 925.7 L1949 922.8 L1952 924.0 L1955 925.7 L1958 927.5 L1961 926.5 L1964 925.9 L1967 928.1 L1970 930.5 L1973 932.1 L1976 929.1 L1979 928.0 L1982 925.9 L1985 918.6 L1988 904.1 L1991 894.0 L1994 893.7 L1997 901.9 L2000 912.7 L2003 919.7 L2006 928.3 L2009 929.4 L2012 930.2 L2015 925.2 L2018 923.1 L2021 927.1 L2024 932.3 L2027 935.5 L2030 931.2 L2033 926.6 L2036 919.3 L2039 908.4 L2042 898.5 L2045 903.0 L2048 919.0 L2051 926.0 L2054 930.4 L2057 929.1 L2060 929.8 L2063 923.9 L2066 920.2 L2069 909.3 L2072 900.7 L2075 892.5 L2078 900.9 L2081 912.4 L2084 925.5 L2087 930.2 L2090 931.6 L2093 928.9 L2096 918.0 L2099 902.3 L2102 882.2 L2105 876.9 L2108 889.9 L2111 913.4 L2114 926.9 L2117 932.8 L2120 931.7 L2123 932.9 L2126 929.6 L2129 928.7 L2132 929.8 L2135 928.5 L2138 927.7 L2141 923.2 L2144 926.4 L2147 927.0 L2150 930.3 L2153 927.9 L2156 927.3 L2159 926.8 L2162 922.8 L2165 919.5 L2168 913.4 L2171 914.1 L2174 918.0 L2177 922.8 L2180 929.9 L2183 928.2 L2186 932.4 L2189 928.4" stroke="#a01515" stroke-width="1.2" fill="none" stroke-linejoin="round"/>
<path d="M1850 928.4 L1853 930.7 L1856 930.1 L1859 928.9 L1862 926.7 L1865 931.6 L1868 933.1 L1871 933.8 L1874 927.6 L1877 927.9 L1880 926.2 L1883 928.4 L1886 927.6 L1889 927.0 L1892 926.8 L1895 926.8 L1898 928.2 L1901 926.7 L1904 927.4 L1907 926.9 L1910 931.1 L1913 931.3 L1916 930.7 L1919 926.4 L1922 927.7 L1925 930.4 L1928 930.9 L1931 928.6 L1934 926.1 L1937 925.5 L1940 922.6 L1943 915.1 L1946 909.0 L1949 907.4 L1952 910.2 L1955 917.4 L1958 920.9 L1961 927.8 L1964 929.9 L1967 928.9 L1970 927.9 L1973 928.5 L1976 931.5 L1979 931.6 L1982 929.6 L1985 929.0 L1988 930.6 L1991 930.7 L1994 930.1 L1997 926.2 L2000 922.6 L2003 919.2 L2006 916.8 L2009 907.9 L2012 904.4 L2015 905.4 L2018 917.8 L2021 923.8 L2024 926.8 L2027 929.1 L2030 930.1 L2033 926.6 L2036 921.0 L2039 921.3 L2042 923.7 L2045 930.9 L2048 930.1 L2051 930.0 L2054 927.6 L2057 924.8 L2060 924.6 L2063 923.0 L2066 930.5 L2069 933.0 L2072 932.8 L2075 929.2 L2078 931.2 L2081 933.4 L2084 930.0 L2087 925.8 L2090 923.4 L2093 925.6 L2096 924.0 L2099 930.2 L2102 932.6 L2105 931.9 L2108 924.7 L2111 920.1 L2114 918.2 L2117 911.2 L2120 893.5 L2123 876.2 L2126 876.4 L2129 892.9 L2132 906.8 L2135 906.0 L2138 895.7 L2141 885.5 L2144 881.0 L2147 890.9 L2150 899.9 L2153 914.9 L2156 922.0 L2159 927.9 L2162 924.9 L2165 927.7 L2168 931.1 L2171 933.0 L2174 931.6 L2177 931.2 L2180 931.4 L2183 930.3 L2186 927.3 L2189 928.4" stroke="#b02828" stroke-width="1.2" fill="none" stroke-linejoin="round"/>
<path d="M1440 931.5 L1443 930.7 L1446 932.8 L1449 934.3 L1452 934.0 L1455 932.4 L1458 931.9 L1461 932.2 L1464 933.3 L1467 928.9 L1470 922.0 L1473 913.8 L1476 906.5 L1479 905.5 L1482 910.8 L1485 921.3 L1488 928.2 L1491 929.6 L1494 920.7 L1497 908.6 L1500 906.4 L1503 917.5 L1506 925.3 L1509 924.9 L1512 918.4 L1515 914.9 L1518 914.0 L1521 919.8 L1524 925.4 L1527 929.6 L1530 929.9 L1533 930.7 L1536 930.2 L1539 930.8 L1542 928.9 L1545 928.4 L1548 930.1 L1551 928.6 L1554 930.8 L1557 929.3 L1560 933.3 L1563 931.6 L1566 932.3 L1569 931.0 L1572 933.6 L1575 933.3 L1578 931.0 L1581 929.0 L1584 929.7 L1587 932.3 L1590 934.3 L1593 934.3 L1596 935.4 L1599 934.5 L1602 932.7 L1605 930.8 L1608 930.5 L1611 932.6 L1614 931.7 L1617 930.7 L1620 928.1 L1623 929.9 L1626 932.1 L1629 934.7 L1632 935.4 L1635 934.0 L1638 933.8 L1641 933.3 L1644 933.4 L1647 931.5 L1650 929.5 L1653 930.3 L1656 931.5 L1659 932.0 L1662 930.4 L1665 930.9 L1668 932.9 L1671 933.3 L1674 934.1 L1677 932.9 L1680 933.7 L1683 931.3 L1686 931.5 L1689 930.9 L1692 932.3 L1695 932.4 L1698 931.2 L1701 929.4 L1704 921.3 L1707 911.0 L1710 907.1 L1713 916.6 L1716 931.9 L1719 935.3 L1722 934.7 L1725 931.6 L1728 932.7 L1731 933.4 L1734 933.5 L1737 932.9 L1740 932.6 L1743 932.9 L1746 931.1 L1749 929.7 L1752 929.1 L1755 928.2 L1758 931.5" stroke="#b02828" stroke-width="1.2" fill="none" stroke-linejoin="round"/>
<path d="M1440 931.5 L1443 930.6 L1446 933.6 L1449 931.8 L1452 932.0 L1455 929.0 L1458 929.6 L1461 930.9 L1464 934.5 L1467 933.7 L1470 934.5 L1473 933.5 L1476 932.5 L1479 931.3 L1482 930.5 L1485 931.1 L1488 930.1 L1491 928.5 L1494 930.3 L1497 933.4 L1500 934.5 L1503 932.1 L1506 928.3 L1509 928.0 L1512 926.7 L1515 927.8 L1518 929.6 L1521 930.5 L1524 932.3 L1527 932.4 L1530 933.1 L1533 932.3 L1536 930.2 L1539 931.2 L1542 928.6 L1545 931.1 L1548 929.7 L1551 932.6 L1554 929.5 L1557 931.1 L1560 929.6 L1563 935.4 L1566 935.6 L1569 934.5 L1572 930.2 L1575 929.1 L1578 930.0 L1581 926.5 L1584 925.0 L1587 919.2 L1590 915.3 L1593 912.8 L1596 921.0 L1599 929.6 L1602 935.5 L1605 934.5 L1608 932.3 L1611 929.0 L1614 930.4 L1617 927.5 L1620 922.5 L1623 915.2 L1626 916.5 L1629 922.8 L1632 930.1 L1635 932.3 L1638 933.1 L1641 930.8 L1644 928.8 L1647 928.1 L1650 930.6 L1653 929.8 L1656 929.1 L1659 927.0 L1662 929.9 L1665 930.5 L1668 931.0 L1671 930.9 L1674 933.0 L1677 934.0 L1680 934.4 L1683 932.1 L1686 929.0 L1689 920.0 L1692 907.6 L1695 903.7 L1698 917.2 L1701 927.8 L1704 931.6 L1707 929.0 L1710 929.7 L1713 929.8 L1716 934.3 L1719 931.5 L1722 931.1 L1725 929.2 L1728 932.4 L1731 932.4 L1734 932.7 L1737 930.3 L1740 931.4 L1743 931.4 L1746 932.8 L1749 927.0 L1752 915.7 L1755 900.0 L1758 897.6" stroke="#8b1a1a" stroke-width="1.2" fill="none" stroke-linejoin="round"/>
<path d="M1440 927.5 L1443 917.7 L1446 904.1 L1449 904.8 L1452 912.4 L1455 926.0 L1458 928.7 L1461 929.7 L1464 929.1 L1467 930.6 L1470 931.7 L1473 931.5 L1476 924.7 L1479 914.2 L1482 905.2 L1485 901.5 L1488 909.6 L1491 919.1 L1494 929.3 L1497 932.6 L1500 932.4 L1503 932.6 L1506 933.5 L1509 934.7 L1512 933.7 L1515 929.3 L1518 918.5 L1521 906.5 L1524 904.2 L1527 910.3 L1530 919.2 L1533 925.7 L1536 929.7 L1539 933.0 L1542 930.3 L1545 934.6 L1548 933.4 L1551 935.0 L1554 930.6 L1557 930.3 L1560 932.8 L1563 933.5 L1566 934.6 L1569 930.9 L1572 929.4 L1575 928.4 L1578 930.1 L1581 930.7 L1584 932.6 L1587 930.6 L1590 931.8 L1593 931.0 L1596 931.8 L1599 933.6 L1602 933.8 L1605 935.5 L1608 932.3 L1611 930.3 L1614 930.6 L1617 934.6 L1620 935.9 L1623 934.8 L1626 933.2 L1629 930.6 L1632 930.4 L1635 930.5 L1638 933.7 L1641 932.9 L1644 929.6 L1647 928.8 L1650 930.8 L1653 933.4 L1656 931.4 L1659 932.1 L1662 931.5 L1665 932.3 L1668 929.8 L1671 930.0 L1674 932.6 L1677 932.7 L1680 931.8 L1683 930.4 L1686 929.1 L1689 928.7 L1692 925.0 L1695 921.3 L1698 913.9 L1701 911.3 L1704 909.9 L1707 914.8 L1710 919.8 L1713 927.6 L1716 930.9 L1719 936.1 L1722 935.4 L1725 935.5 L1728 932.9 L1731 932.2 L1734 931.6 L1737 928.2 L1740 928.4 L1743 931.2 L1746 936.4 L1749 936.7 L1752 933.5 L1755 929.1 L1758 931.5" stroke="#8b1a1a" stroke-width="1.2" fill="none" stroke-linejoin="round"/>
<path d="M1440 931.5 L1443 929.8 L1446 933.1 L1449 935.9 L1452 934.3 L1455 930.1 L1458 923.9 L1461 916.5 L1464 910.3 L1467 912.9 L1470 917.2 L1473 921.7 L1476 922.8 L1479 927.1 L1482 930.3 L1485 933.1 L1488 932.9 L1491 934.2 L1494 932.5 L1497 933.0 L1500 929.1 L1503 928.7 L1506 922.8 L1509 916.2 L1512 906.2 L1515 909.5 L1518 921.0 L1521 930.8 L1524 933.9 L1527 933.1 L1530 931.3 L1533 931.5 L1536 932.1 L1539 933.1 L1542 932.6 L1545 931.3 L1548 930.7 L1551 930.9 L1554 930.9 L1557 929.4 L1560 931.5 L1563 930.7 L1566 933.1 L1569 931.0 L1572 930.5 L1575 929.0 L1578 928.7 L1581 928.8 L1584 928.9 L1587 930.1 L1590 930.1 L1593 929.5 L1596 928.1 L1599 928.7 L1602 929.6 L1605 933.2 L1608 934.6 L1611 935.2 L1614 931.4 L1617 928.9 L1620 928.5 L1623 931.2 L1626 932.1 L1629 931.0 L1632 928.6 L1635 930.1 L1638 932.7 L1641 934.8 L1644 935.3 L1647 932.7 L1650 931.1 L1653 927.0 L1656 926.2 L1659 925.3 L1662 928.9 L1665 930.2 L1668 930.9 L1671 931.8 L1674 934.3 L1677 935.8 L1680 932.4 L1683 931.3 L1686 932.1 L1689 933.6 L1692 932.3 L1695 932.1 L1698 929.5 L1701 929.6 L1704 922.2 L1707 918.2 L1710 918.1 L1713 925.1 L1716 930.6 L1719 931.6 L1722 930.2 L1725 927.9 L1728 925.3 L1731 922.1 L1734 923.8 L1737 926.2 L1740 930.3 L1743 931.0 L1746 930.0 L1749 930.4 L1752 931.0 L1755 930.2 L1758 931.5" stroke="#8b1a1a" stroke-width="1.2" fill="none" stroke-linejoin="round"/>
<path d="M1440 931.5 L1443 931.3 L1446 931.6 L1449 928.1 L1452 930.1 L1455 928.4 L1458 931.9 L1461 928.9 L1464 929.8 L1467 927.7 L1470 931.0 L1473 930.3 L1476 929.8 L1479 930.6 L1482 935.9 L1485 937.8 L1488 936.8 L1491 932.6 L1494 931.5 L1497 930.0 L1500 931.6 L1503 930.5 L1506 931.7 L1509 933.0 L1512 937.2 L1515 935.8 L1518 934.7 L1521 933.8 L1524 935.6 L1527 935.3 L1530 932.3 L1533 933.8 L1536 933.9 L1539 933.8 L1542 930.5 L1545 928.9 L1548 927.3 L1551 929.0 L1554 930.5 L1557 930.3 L1560 922.3 L1563 910.0 L1566 896.6 L1569 892.3 L1572 899.8 L1575 914.7 L1578 925.9 L1581 931.8 L1584 934.5 L1587 932.5 L1590 932.1 L1593 929.2 L1596 928.2 L1599 927.6 L1602 927.7 L1605 928.1 L1608 926.6 L1611 928.7 L1614 929.2 L1617 928.7 L1620 927.3 L1623 928.6 L1626 930.6 L1629 928.5 L1632 928.5 L1635 929.6 L1638 931.4 L1641 931.3 L1644 932.4 L1647 935.1 L1650 932.8 L1653 926.5 L1656 912.9 L1659 900.6 L1662 889.5 L1665 891.0 L1668 906.1 L1671 920.2 L1674 929.2 L1677 928.2 L1680 929.5 L1683 925.9 L1686 928.0 L1689 927.6 L1692 932.9 L1695 933.4 L1698 935.4 L1701 931.2 L1704 930.8 L1707 929.0 L1710 931.4 L1713 932.9 L1716 933.8 L1719 931.2 L1722 929.6 L1725 927.5 L1728 929.6 L1731 930.0 L1734 932.5 L1737 932.4 L1740 932.8 L1743 932.7 L1746 933.4 L1749 933.8 L1752 931.6 L1755 929.4 L1758 931.5" stroke="#b02828" stroke-width="1.2" fill="none" stroke-linejoin="round"/>
<path d="M1277 937.9 L1281 935.3 L1285 935.3 L1289 933.6 L1293 932.2 L1297 933.4 L1301 937.5 L1305 939.9 L1309 937.5 L1313 934.7 L1317 934.0 L1321 938.1 L1325 937.0 L1329 943.0 L1333 945.0 L1337 945.5 L1341 941.8 L1345 941.9 L1349 940.2 L1353 938.7 L1357 937.0 L1361 941.7 L1365 941.4 L1369 940.7 L1373 935.9 L1377 935.0 L1381 934.8 L1385 936.4 L1389 937.1 L1393 937.0 L1397 940.0 L1401 940.3 L1405 939.3 L1409 936.9 L1413 937.1 L1417 938.3 L1421 938.1 L1425 937.6 L1429 939.4 L1433 941.5 L1437 943.1 L1441 943.0 L1445 938.8 L1449 939.8 L1453 940.5 L1457 942.7 L1461 945.3 L1465 939.9 L1469 939.3 L1473 934.3 L1477 935.8 L1481 935.4 L1485 938.3 L1489 937.9 L1493 938.8 L1497 938.3 L1501 943.2 L1505 940.4 L1509 939.5 L1513 936.7 L1517 942.2 L1521 940.2 L1525 939.6 L1529 934.6 L1533 936.3 L1537 937.6 L1541 938.3 L1545 941.0 L1549 942.2 L1553 943.2 L1557 939.3 L1561 934.7 L1565 934.8 L1569 936.2 L1573 937.8 L1577 938.0 L1581 938.6 L1585 938.1 L1589 938.7 L1593 938.2 L1597 937.0 L1601 935.7 L1605 936.2 L1609 937.1 L1613 937.7 L1617 935.7 L1621 938.3 L1625 939.4 L1629 943.0 L1633 939.6 L1637 935.9 L1641 931.5 L1645 932.8 L1649 934.8 L1653 937.3 L1657 936.9 L1661 937.5 L1665 938.9 L1669 938.2 L1673 936.3 L1677 933.7 L1681 935.5 L1685 937.7 L1689 938.4 L1693 938.0 L1697 939.3 L1701 940.2 L1705 942.4 L1709 938.5 L1713 940.0 L1717 940.3 L1721 943.7 L1725 941.1 L1729 940.7 L1733 936.2 L1737 935.2 L1741 937.7 L1745 940.3 L1749 941.0 L1753 939.1 L1757 939.6 L1761 940.0 L1765 939.0 L1769 939.0 L1773 938.6 L1777 938.4 L1781 938.3 L1785 940.9 L1789 939.0 L1793 940.0 L1797 935.9 L1801 933.5 L1805 929.5 L1809 932.4 L1813 935.1 L1817 938.4 L1821 936.9 L1825 939.0 L1829 940.3 L1833 941.1 L1837 941.1 L1841 937.3 L1845 936.0 L1849 934.1 L1853 936.4 L1857 937.9 L1861 936.8 L1865 936.5 L1869 936.1 L1873 934.6 L1877 934.5 L1881 935.0 L1885 938.5 L1889 936.6 L1893 937.0 L1897 937.4 L1901 937.7 L1905 934.9 L1909 931.7 L1913 935.0 L1917 936.2 L1921 939.6 L1925 937.4 L1929 940.8 L1933 940.2 L1937 939.1 L1941 936.1 L1945 939.8 L1949 939.9 L1953 939.7 L1957 936.0 L1961 937.7 L1965 938.9 L1969 936.5 L1973 936.5 L1977 938.7 L1981 942.1 L1985 939.3 L1989 934.6 L1993 931.8 L1997 935.9 L2001 936.9 L2005 936.5 L2009 935.0 L2013 934.7 L2017 934.5 L2021 932.9 L2025 933.4 L2029 934.5 L2033 938.3 L2037 939.6 L2041 939.0 L2045 934.0 L2049 933.2 L2053 932.8 L2057 935.6 L2061 937.6 L2065 938.7 L2069 937.9 L2073 937.8 L2077 940.0 L2081 940.7 L2085 940.0 L2089 937.7 L2093 940.1 L2097 937.8 L2101 939.7 L2105 936.8 L2109 940.9 L2113 938.2 L2117 938.5 L2121 932.3 L2125 936.7 L2129 940.1 L2133 942.5 L2137 938.1 L2141 938.1 L2145 938.4 L2149 938.3 L2153 932.9 L2157 933.6 L2161 937.8 L2165 943.4 L2169 940.1 L2173 936.8 L2177 931.8 L2181 935.9 L2185 937.0 L2189 939.0 L2193 940.1 L2197 937.9" stroke="#e00000" stroke-width="2" fill="none" stroke-linejoin="round"/>
<path d="M1277 937.9 L1281 938.5 L1285 936.5 L1289 937.0 L1293 935.9 L1297 933.8 L1301 932.5 L1305 938.4 L1309 938.4 L1313 936.3 L1317 934.3 L1321 934.1 L1325 937.7 L1329 937.2 L1333 940.4 L1337 938.7 L1341 938.4 L1345 935.2 L1349 936.1 L1353 935.1 L1357 937.5 L1361 936.5 L1365 938.6 L1369 938.8 L1373 936.8 L1377 934.0 L1381 936.0 L1385 939.0 L1389 942.1 L1393 941.4 L1397 941.8 L1401 942.1 L1405 940.1 L1409 937.5 L1413 935.2 L1417 936.8 L1421 938.0 L1425 939.6 L1429 937.0 L1433 933.3 L1437 936.5 L1441 937.7 L1445 941.5 L1449 936.7 L1453 937.8 L1457 940.4 L1461 940.9 L1465 941.1 L1469 938.8 L1473 938.8 L1477 938.9 L1481 934.8 L1485 936.8 L1489 936.6 L1493 942.7 L1497 940.8 L1501 937.6 L1505 935.5 L1509 936.6 L1513 941.5 L1517 940.5 L1521 940.3 L1525 937.0 L1529 939.1 L1533 938.8 L1537 940.0 L1541 941.5 L1545 938.6 L1549 940.5 L1553 937.4 L1557 938.7 L1561 932.8 L1565 932.2 L1569 931.6 L1573 936.4 L1577 937.5 L1581 938.9 L1585 936.2 L1589 937.7 L1593 937.0 L1597 933.9 L1601 933.9 L1605 937.7 L1609 943.4 L1613 942.0 L1617 936.1 L1621 934.4 L1625 932.2 L1629 936.2 L1633 937.1 L1637 938.5 L1641 938.7 L1645 938.2 L1649 939.2 L1653 937.3 L1657 940.2 L1661 943.2 L1665 941.2 L1669 938.8 L1673 935.5 L1677 933.4 L1681 931.8 L1685 930.8 L1689 936.3 L1693 937.4 L1697 937.7 L1701 937.0 L1705 935.2 L1709 934.3 L1713 932.9 L1717 936.7 L1721 939.1 L1725 938.2 L1729 936.4 L1733 936.2 L1737 937.5 L1741 937.9 L1745 937.6 L1749 938.5 L1753 937.2 L1757 935.9 L1761 937.1 L1765 939.6 L1769 939.7 L1773 940.0 L1777 938.5 L1781 939.2 L1785 939.7 L1789 943.9 L1793 945.2 L1797 943.0 L1801 939.0 L1805 935.5 L1809 935.5 L1813 935.6 L1817 937.1 L1821 937.8 L1825 934.8 L1829 936.4 L1833 937.1 L1837 940.9 L1841 937.9 L1845 937.4 L1849 937.9 L1853 938.9 L1857 936.0 L1861 935.4 L1865 935.2 L1869 938.3 L1873 935.3 L1877 938.3 L1881 937.6 L1885 940.7 L1889 940.5 L1893 940.1 L1897 938.3 L1901 938.1 L1905 934.8 L1909 935.5 L1913 933.6 L1917 938.1 L1921 938.6 L1925 937.7 L1929 938.1 L1933 939.1 L1937 942.0 L1941 942.6 L1945 940.3 L1949 940.3 L1953 935.3 L1957 938.5 L1961 937.7 L1965 940.4 L1969 940.0 L1973 943.0 L1977 944.2 L1981 942.6 L1985 940.6 L1989 939.0 L1993 942.1 L1997 940.0 L2001 936.9 L2005 932.2 L2009 931.0 L2013 935.1 L2017 937.5 L2021 937.3 L2025 937.2 L2029 935.4 L2033 939.0 L2037 937.8 L2041 938.5 L2045 940.6 L2049 941.5 L2053 940.8 L2057 936.2 L2061 935.4 L2065 934.1 L2069 935.2 L2073 937.1 L2077 937.7 L2081 934.0 L2085 933.3 L2089 932.3 L2093 936.2 L2097 938.1 L2101 942.2 L2105 943.3 L2109 938.8 L2113 937.2 L2117 936.6 L2121 938.4 L2125 936.2 L2129 935.4 L2133 936.8 L2137 938.6 L2141 939.9 L2145 937.8 L2149 936.7 L2153 935.0 L2157 936.6 L2161 938.1 L2165 940.8 L2169 937.4 L2173 933.6 L2177 931.2 L2181 937.3 L2185 942.4 L2189 944.9 L2193 944.6 L2197 937.9" stroke="#c00000" stroke-width="2" fill="none" stroke-linejoin="round"/>
<path d="M1277 937.9 L1281 939.4 L1285 937.3 L1289 937.0 L1293 937.6 L1297 938.7 L1301 940.9 L1305 939.9 L1309 942.0 L1313 939.4 L1317 939.2 L1321 938.8 L1325 938.8 L1329 937.6 L1333 936.2 L1337 934.8 L1341 937.3 L1345 937.1 L1349 936.1 L1353 934.3 L1357 938.7 L1361 939.9 L1365 940.3 L1369 935.5 L1373 936.6 L1377 935.2 L1381 934.3 L1385 934.5 L1389 934.2 L1393 938.5 L1397 940.2 L1401 941.8 L1405 936.9 L1409 936.8 L1413 937.2 L1417 938.7 L1421 938.2 L1425 939.8 L1429 944.3 L1433 942.0 L1437 941.8 L1441 937.9 L1445 938.3 L1449 938.1 L1453 937.9 L1457 942.4 L1461 940.9 L1465 943.4 L1469 939.4 L1473 938.9 L1477 936.8 L1481 936.2 L1485 937.6 L1489 940.4 L1493 943.5 L1497 940.7 L1501 940.1 L1505 938.5 L1509 939.6 L1513 938.1 L1517 939.2 L1521 943.4 L1525 941.5 L1529 940.8 L1533 940.0 L1537 942.7 L1541 941.6 L1545 942.2 L1549 940.9 L1553 941.0 L1557 936.9 L1561 937.1 L1565 938.8 L1569 942.3 L1573 942.7 L1577 941.9 L1581 936.5 L1585 936.7 L1589 935.1 L1593 937.6 L1597 940.1 L1601 939.5 L1605 940.4 L1609 939.9 L1613 940.5 L1617 937.6 L1621 935.4 L1625 936.5 L1629 939.7 L1633 940.2 L1637 937.9 L1641 936.7 L1645 935.2 L1649 936.1 L1653 941.2 L1657 941.7 L1661 941.7 L1665 936.4 L1669 939.1 L1673 941.4 L1677 940.7 L1681 937.5 L1685 935.4 L1689 938.5 L1693 938.7 L1697 937.0 L1701 935.0 L1705 933.2 L1709 934.2 L1713 932.9 L1717 936.3 L1721 938.8 L1725 941.3 L1729 938.3 L1733 935.1 L1737 935.7 L1741 939.8 L1745 941.7 L1749 937.7 L1753 935.1 L1757 934.3 L1761 935.7 L1765 935.1 L1769 936.4 L1773 936.4 L1777 936.3 L1781 936.2 L1785 934.2 L1789 937.1 L1793 937.6 L1797 941.8 L1801 938.3 L1805 935.8 L1809 935.6 L1813 937.3 L1817 939.9 L1821 940.9 L1825 942.4 L1829 941.1 L1833 937.8 L1837 937.7 L1841 938.3 L1845 937.8 L1849 934.3 L1853 933.7 L1857 936.5 L1861 941.4 L1865 941.9 L1869 941.0 L1873 939.4 L1877 940.6 L1881 941.0 L1885 939.8 L1889 937.5 L1893 938.0 L1897 935.1 L1901 933.9 L1905 932.9 L1909 935.5 L1913 935.3 L1917 936.4 L1921 938.0 L1925 941.5 L1929 941.7 L1933 939.5 L1937 938.8 L1941 936.9 L1945 938.0 L1949 938.0 L1953 935.6 L1957 936.0 L1961 937.1 L1965 941.9 L1969 942.8 L1973 941.0 L1977 938.5 L1981 936.8 L1985 937.9 L1989 937.4 L1993 937.1 L1997 938.4 L2001 938.5 L2005 938.6 L2009 937.0 L2013 935.8 L2017 936.4 L2021 937.2 L2025 937.5 L2029 934.6 L2033 935.3 L2037 937.0 L2041 938.5 L2045 935.5 L2049 933.7 L2053 933.0 L2057 937.0 L2061 937.5 L2065 942.4 L2069 941.0 L2073 944.0 L2077 940.5 L2081 941.7 L2085 939.7 L2089 943.0 L2093 936.9 L2097 938.0 L2101 935.5 L2105 940.8 L2109 940.9 L2113 938.6 L2117 936.3 L2121 937.2 L2125 940.3 L2129 940.9 L2133 936.1 L2137 935.4 L2141 934.4 L2145 935.6 L2149 931.4 L2153 931.1 L2157 934.6 L2161 940.3 L2165 938.5 L2169 936.0 L2173 937.6 L2177 941.3 L2181 942.7 L2185 940.1 L2189 938.2 L2193 936.3 L2197 937.9" stroke="#c00000" stroke-width="2" fill="none" stroke-linejoin="round"/>
<path d="M1277 937.9 L1281 940.9 L1285 939.5 L1289 938.6 L1293 940.5 L1297 941.0 L1301 939.7 L1305 936.8 L1309 933.1 L1313 933.6 L1317 936.5 L1321 935.5 L1325 937.6 L1329 934.5 L1333 935.4 L1337 934.5 L1341 936.1 L1345 937.5 L1349 938.3 L1353 935.8 L1357 939.5 L1361 937.4 L1365 940.8 L1369 933.4 L1373 934.9 L1377 930.4 L1381 934.5 L1385 932.3 L1389 934.6 L1393 933.5 L1397 935.6 L1401 940.5 L1405 943.7 L1409 947.2 L1413 942.9 L1417 940.8 L1421 936.7 L1425 936.2 L1429 933.7 L1433 936.3 L1437 936.3 L1441 939.3 L1445 940.0 L1449 943.6 L1453 943.0 L1457 942.6 L1461 940.5 L1465 942.0 L1469 942.3 L1473 936.6 L1477 934.9 L1481 935.3 L1485 940.4 L1489 940.4 L1493 940.7 L1497 938.6 L1501 940.2 L1505 936.8 L1509 939.4 L1513 939.2 L1517 934.7 L1521 934.9 L1525 936.2 L1529 942.5 L1533 943.2 L1537 938.8 L1541 937.2 L1545 937.5 L1549 936.4 L1553 937.5 L1557 937.7 L1561 938.8 L1565 937.3 L1569 936.8 L1573 940.6 L1577 942.0 L1581 941.4 L1585 938.6 L1589 937.8 L1593 938.7 L1597 941.5 L1601 942.4 L1605 938.2 L1609 937.4 L1613 936.0 L1617 939.3 L1621 937.5 L1625 939.4 L1629 937.6 L1633 939.9 L1637 940.2 L1641 937.6 L1645 934.5 L1649 935.4 L1653 936.7 L1657 938.6 L1661 934.1 L1665 938.4 L1669 938.3 L1673 941.4 L1677 940.3 L1681 942.1 L1685 938.1 L1689 936.9 L1693 935.4 L1697 941.6 L1701 939.6 L1705 937.2 L1709 934.6 L1713 938.9 L1717 939.8 L1721 939.5 L1725 939.6 L1729 937.0 L1733 935.8 L1737 935.0 L1741 939.9 L1745 939.8 L1749 936.1 L1753 933.7 L1757 934.1 L1761 936.8 L1765 934.2 L1769 935.6 L1773 934.5 L1777 937.4 L1781 937.4 L1785 936.4 L1789 934.4 L1793 937.7 L1797 939.4 L1801 939.9 L1805 933.7 L1809 934.1 L1813 935.1 L1817 937.2 L1821 936.1 L1825 938.3 L1829 936.9 L1833 935.1 L1837 931.3 L1841 932.6 L1845 934.4 L1849 935.2 L1853 930.0 L1857 930.6 L1861 932.6 L1865 935.3 L1869 936.8 L1873 941.0 L1877 942.3 L1881 938.0 L1885 931.4 L1889 931.3 L1893 931.8 L1897 935.3 L1901 935.2 L1905 938.8 L1909 940.3 L1913 942.4 L1917 942.9 L1921 942.2 L1925 942.9 L1929 941.4 L1933 939.3 L1937 939.9 L1941 940.3 L1945 940.8 L1949 938.8 L1953 936.9 L1957 935.4 L1961 935.3 L1965 935.3 L1969 935.5 L1973 935.9 L1977 936.3 L1981 939.0 L1985 938.6 L1989 937.2 L1993 936.8 L1997 935.0 L2001 937.5 L2005 934.6 L2009 933.9 L2013 932.7 L2017 935.2 L2021 937.3 L2025 938.3 L2029 939.2 L2033 938.2 L2037 940.8 L2041 937.7 L2045 940.8 L2049 936.0 L2053 938.4 L2057 933.9 L2061 936.4 L2065 939.3 L2069 937.5 L2073 936.6 L2077 933.0 L2081 938.0 L2085 938.6 L2089 937.9 L2093 939.1 L2097 934.9 L2101 936.6 L2105 934.2 L2109 935.6 L2113 934.8 L2117 934.4 L2121 937.6 L2125 938.9 L2129 941.8 L2133 939.0 L2137 935.5 L2141 935.7 L2145 935.8 L2149 939.2 L2153 937.3 L2157 937.9 L2161 939.8 L2165 939.1 L2169 940.8 L2173 939.8 L2177 939.7 L2181 938.7 L2185 935.6 L2189 937.2 L2193 938.9 L2197 937.9" stroke="#e00000" stroke-width="2" fill="none" stroke-linejoin="round"/>
<path d="M1277 937.9 L1281 942.3 L1285 940.9 L1289 939.8 L1293 936.6 L1297 935.2 L1301 935.4 L1305 937.2 L1309 936.3 L1313 934.8 L1317 935.2 L1321 937.5 L1325 941.2 L1329 940.9 L1333 940.9 L1337 935.9 L1341 933.0 L1345 934.6 L1349 936.6 L1353 939.4 L1357 940.0 L1361 940.9 L1365 941.7 L1369 938.2 L1373 937.7 L1377 937.7 L1381 935.6 L1385 936.3 L1389 936.5 L1393 941.9 L1397 938.3 L1401 938.3 L1405 935.4 L1409 938.7 L1413 935.9 L1417 938.3 L1421 942.9 L1425 944.3 L1429 944.5 L1433 940.8 L1437 937.5 L1441 936.0 L1445 934.4 L1449 939.8 L1453 933.7 L1457 935.5 L1461 932.9 L1465 938.2 L1469 938.6 L1473 937.5 L1477 937.7 L1481 938.2 L1485 941.0 L1489 941.1 L1493 939.4 L1497 938.2 L1501 939.1 L1505 940.2 L1509 936.9 L1513 936.0 L1517 932.8 L1521 937.1 L1525 936.1 L1529 939.5 L1533 942.1 L1537 943.7 L1541 941.1 L1545 935.6 L1549 932.8 L1553 935.3 L1557 938.0 L1561 941.9 L1565 940.5 L1569 938.5 L1573 936.2 L1577 937.9 L1581 938.6 L1585 938.9 L1589 936.8 L1593 937.8 L1597 937.6 L1601 939.6 L1605 940.7 L1609 945.4 L1613 943.8 L1617 942.1 L1621 939.4 L1625 937.1 L1629 935.3 L1633 930.7 L1637 933.5 L1641 936.0 L1645 938.4 L1649 936.6 L1653 933.5 L1657 935.7 L1661 937.6 L1665 943.6 L1669 942.4 L1673 940.6 L1677 935.9 L1681 931.4 L1685 931.8 L1689 933.7 L1693 939.0 L1697 939.7 L1701 936.2 L1705 937.0 L1709 939.1 L1713 941.8 L1717 940.2 L1721 937.1 L1725 938.0 L1729 937.3 L1733 938.9 L1737 937.7 L1741 935.4 L1745 937.6 L1749 941.0 L1753 945.9 L1757 944.2 L1761 941.0 L1765 937.5 L1769 936.5 L1773 936.5 L1777 940.4 L1781 942.1 L1785 941.6 L1789 940.7 L1793 940.4 L1797 941.8 L1801 938.9 L1805 939.6 L1809 941.7 L1813 943.2 L1817 942.2 L1821 937.9 L1825 938.3 L1829 938.2 L1833 940.5 L1837 940.3 L1841 936.3 L1845 939.8 L1849 937.9 L1853 942.9 L1857 938.4 L1861 942.0 L1865 940.3 L1869 941.9 L1873 938.3 L1877 936.3 L1881 937.0 L1885 940.7 L1889 941.1 L1893 935.6 L1897 932.8 L1901 938.4 L1905 944.4 L1909 942.8 L1913 936.2 L1917 933.7 L1921 937.7 L1925 938.7 L1929 940.8 L1933 939.7 L1937 942.8 L1941 941.5 L1945 939.4 L1949 940.0 L1953 938.6 L1957 937.7 L1961 934.2 L1965 932.1 L1969 934.6 L1973 939.4 L1977 941.4 L1981 940.4 L1985 936.9 L1989 937.9 L1993 937.5 L1997 939.8 L2001 937.7 L2005 935.5 L2009 933.5 L2013 934.8 L2017 936.7 L2021 936.0 L2025 935.1 L2029 935.8 L2033 937.2 L2037 935.5 L2041 937.9 L2045 935.5 L2049 939.7 L2053 936.8 L2057 940.4 L2061 941.6 L2065 944.1 L2069 944.2 L2073 939.3 L2077 938.5 L2081 938.1 L2085 942.0 L2089 941.1 L2093 939.9 L2097 937.3 L2101 938.4 L2105 940.4 L2109 941.5 L2113 938.8 L2117 935.5 L2121 937.1 L2125 939.4 L2129 940.1 L2133 939.4 L2137 941.0 L2141 941.2 L2145 940.8 L2149 937.9 L2153 936.8 L2157 937.1 L2161 939.5 L2165 942.2 L2169 940.1 L2173 938.0 L2177 935.3 L2181 937.3 L2185 936.2 L2189 938.3 L2193 938.8 L2197 937.9" stroke="#e00000" stroke-width="2" fill="none" stroke-linejoin="round"/>
<path d="M1277 937.9 L1281 938.7 L1285 936.8 L1289 937.6 L1293 940.6 L1297 941.6 L1301 937.2 L1305 932.4 L1309 935.2 L1313 937.6 L1317 937.5 L1321 933.9 L1325 931.6 L1329 932.0 L1333 938.3 L1337 940.4 L1341 943.2 L1345 940.0 L1349 943.9 L1353 944.8 L1357 943.8 L1361 939.1 L1365 934.9 L1369 933.2 L1373 932.9 L1377 935.5 L1381 938.1 L1385 937.0 L1389 935.5 L1393 934.7 L1397 936.6 L1401 938.7 L1405 935.4 L1409 938.9 L1413 938.6 L1417 941.6 L1421 939.7 L1425 940.9 L1429 939.1 L1433 937.7 L1437 935.5 L1441 935.9 L1445 937.8 L1449 936.2 L1453 938.2 L1457 939.2 L1461 941.2 L1465 940.5 L1469 938.1 L1473 936.6 L1477 933.4 L1481 936.3 L1485 940.1 L1489 942.5 L1493 938.0 L1497 933.5 L1501 934.2 L1505 936.8 L1509 939.0 L1513 935.8 L1517 935.7 L1521 934.7 L1525 939.8 L1529 937.8 L1533 938.6 L1537 937.0 L1541 939.0 L1545 939.0 L1549 933.9 L1553 932.4 L1557 931.0 L1561 936.9 L1565 940.4 L1569 945.1 L1573 944.9 L1577 942.2 L1581 938.1 L1585 939.6 L1589 938.8 L1593 940.1 L1597 935.7 L1601 937.2 L1605 936.2 L1609 939.4 L1613 940.1 L1617 940.1 L1621 937.9 L1625 935.5 L1629 936.7 L1633 939.8 L1637 940.3 L1641 936.9 L1645 935.7 L1649 937.1 L1653 940.0 L1657 938.6 L1661 936.3 L1665 937.1 L1669 936.9 L1673 936.1 L1677 933.5 L1681 935.6 L1685 940.4 L1689 941.4 L1693 937.8 L1697 934.0 L1701 931.6 L1705 934.5 L1709 935.7 L1713 939.5 L1717 938.0 L1721 938.4 L1725 938.3 L1729 939.9 L1733 938.6 L1737 935.8 L1741 933.8 L1745 930.8 L1749 931.0 L1753 933.9 L1757 936.0 L1761 938.7 L1765 939.0 L1769 939.6 L1773 939.1 L1777 937.3 L1781 939.3 L1785 938.6 L1789 941.6 L1793 939.2 L1797 936.8 L1801 934.3 L1805 933.7 L1809 934.3 L1813 931.9 L1817 931.5 L1821 935.0 L1825 935.6 L1829 938.3 L1833 935.0 L1837 936.8 L1841 933.1 L1845 931.5 L1849 931.1 L1853 933.8 L1857 936.2 L1861 935.8 L1865 935.0 L1869 937.0 L1873 939.8 L1877 939.5 L1881 937.3 L1885 935.6 L1889 938.6 L1893 941.7 L1897 941.4 L1901 943.2 L1905 940.5 L1909 939.5 L1913 937.8 L1917 936.3 L1921 935.5 L1925 934.1 L1929 937.1 L1933 939.5 L1937 941.4 L1941 943.5 L1945 942.4 L1949 939.6 L1953 938.9 L1957 938.3 L1961 940.0 L1965 937.2 L1969 936.6 L1973 934.7 L1977 936.0 L1981 936.0 L1985 938.3 L1989 941.5 L1993 939.3 L1997 938.5 L2001 934.8 L2005 935.9 L2009 935.2 L2013 935.7 L2017 937.6 L2021 937.8 L2025 937.2 L2029 941.6 L2033 941.9 L2037 943.1 L2041 940.9 L2045 941.1 L2049 935.8 L2053 936.1 L2057 935.7 L2061 941.8 L2065 942.5 L2069 943.7 L2073 939.6 L2077 936.4 L2081 935.3 L2085 934.8 L2089 934.4 L2093 935.9 L2097 939.6 L2101 941.0 L2105 939.4 L2109 938.3 L2113 938.2 L2117 939.7 L2121 940.6 L2125 942.2 L2129 942.6 L2133 938.2 L2137 934.3 L2141 930.6 L2145 933.5 L2149 935.5 L2153 936.5 L2157 937.3 L2161 935.1 L2165 936.3 L2169 934.3 L2173 937.6 L2177 934.7 L2181 935.7 L2185 933.2 L2189 937.6 L2193 939.1 L2197 937.9" stroke="#e00000" stroke-width="2" fill="none" stroke-linejoin="round"/>
<path d="M1277 937.9 L1281 937.3 L1285 939.5 L1289 935.1 L1293 938.3 L1297 937.4 L1301 938.9 L1305 936.2 L1309 937.6 L1313 936.8 L1317 937.8 L1321 935.1 L1325 937.4 L1329 937.9 L1333 940.5 L1337 939.7 L1341 937.9 L1345 934.6 L1349 935.6 L1353 937.6 L1357 939.8 L1361 939.8 L1365 940.2 L1369 941.9 L1373 939.4 L1377 940.3 L1381 936.1 L1385 940.4 L1389 937.8 L1393 939.2 L1397 936.9 L1401 940.8 L1405 941.5 L1409 942.5 L1413 937.8 L1417 937.9 L1421 935.9 L1425 937.5 L1429 936.4 L1433 936.5 L1437 935.7 L1441 936.4 L1445 937.2 L1449 936.3 L1453 934.2 L1457 931.5 L1461 933.1 L1465 934.7 L1469 938.4 L1473 939.9 L1477 942.6 L1481 941.8 L1485 939.0 L1489 938.9 L1493 939.0 L1497 942.9 L1501 942.7 L1505 944.5 L1509 940.4 L1513 939.5 L1517 935.2 L1521 934.4 L1525 933.3 L1529 934.3 L1533 936.4 L1537 937.9 L1541 942.1 L1545 942.0 L1549 942.5 L1553 940.5 L1557 941.8 L1561 940.6 L1565 937.8 L1569 938.5 L1573 940.6 L1577 939.9 L1581 937.3 L1585 933.9 L1589 936.2 L1593 939.4 L1597 938.5 L1601 936.0 L1605 934.7 L1609 936.2 L1613 936.4 L1617 931.3 L1621 929.9 L1625 930.8 L1629 935.3 L1633 938.1 L1637 939.1 L1641 939.9 L1645 938.0 L1649 937.7 L1653 937.0 L1657 939.7 L1661 939.7 L1665 939.9 L1669 937.5 L1673 939.3 L1677 937.6 L1681 938.4 L1685 933.7 L1689 936.1 L1693 932.6 L1697 930.9 L1701 929.6 L1705 929.5 L1709 932.4 L1713 934.4 L1717 938.7 L1721 938.9 L1725 936.3 L1729 933.8 L1733 934.8 L1737 932.9 L1741 934.7 L1745 937.2 L1749 940.7 L1753 940.4 L1757 940.1 L1761 939.1 L1765 939.4 L1769 938.4 L1773 938.4 L1777 938.7 L1781 936.6 L1785 936.3 L1789 934.4 L1793 938.4 L1797 938.6 L1801 940.7 L1805 941.5 L1809 938.1 L1813 939.6 L1817 934.9 L1821 937.1 L1825 932.9 L1829 935.0 L1833 940.6 L1837 941.5 L1841 940.9 L1845 935.5 L1849 936.8 L1853 934.5 L1857 934.7 L1861 935.0 L1865 933.1 L1869 935.0 L1873 938.1 L1877 941.9 L1881 940.1 L1885 935.5 L1889 936.6 L1893 937.4 L1897 939.7 L1901 939.5 L1905 938.4 L1909 937.9 L1913 936.0 L1917 937.5 L1921 936.5 L1925 938.2 L1929 935.9 L1933 935.8 L1937 936.6 L1941 938.3 L1945 936.5 L1949 934.8 L1953 936.8 L1957 940.0 L1961 942.2 L1965 938.2 L1969 936.6 L1973 933.4 L1977 934.3 L1981 935.2 L1985 934.8 L1989 936.4 L1993 935.3 L1997 940.6 L2001 940.6 L2005 941.8 L2009 939.8 L2013 939.3 L2017 940.7 L2021 939.9 L2025 944.6 L2029 942.8 L2033 943.6 L2037 936.4 L2041 935.8 L2045 933.6 L2049 941.4 L2053 942.5 L2057 945.4 L2061 938.3 L2065 936.0 L2069 933.8 L2073 935.8 L2077 937.2 L2081 937.5 L2085 936.7 L2089 935.9 L2093 936.1 L2097 938.4 L2101 936.7 L2105 937.1 L2109 937.1 L2113 935.9 L2117 935.0 L2121 934.0 L2125 940.2 L2129 942.1 L2133 939.5 L2137 937.8 L2141 934.1 L2145 938.2 L2149 936.2 L2153 937.9 L2157 936.7 L2161 941.0 L2165 939.0 L2169 938.1 L2173 935.1 L2177 935.8 L2181 937.7 L2185 935.3 L2189 935.4 L2193 932.7 L2197 937.9" stroke="#e00000" stroke-width="2" fill="none" stroke-linejoin="round"/>
<path d="M1277 937.9 L1281 938.0 L1285 937.7 L1289 935.1 L1293 934.5 L1297 931.3 L1301 936.1 L1305 934.9 L1309 938.0 L1313 936.8 L1317 939.9 L1321 936.7 L1325 934.6 L1329 933.5 L1333 934.1 L1337 933.1 L1341 931.8 L1345 932.0 L1349 933.3 L1353 934.3 L1357 938.2 L1361 939.0 L1365 943.5 L1369 941.4 L1373 941.0 L1377 938.6 L1381 939.3 L1385 937.7 L1389 937.1 L1393 936.2 L1397 934.8 L1401 933.6 L1405 932.1 L1409 934.6 L1413 934.2 L1417 933.8 L1421 935.0 L1425 934.7 L1429 937.4 L1433 937.7 L1437 938.0 L1441 938.2 L1445 941.9 L1449 943.4 L1453 940.2 L1457 937.5 L1461 936.2 L1465 939.0 L1469 939.8 L1473 941.4 L1477 944.6 L1481 940.1 L1485 940.2 L1489 935.8 L1493 937.8 L1497 939.6 L1501 941.0 L1505 939.0 L1509 935.2 L1513 935.1 L1517 938.3 L1521 939.8 L1525 941.4 L1529 939.8 L1533 942.4 L1537 941.5 L1541 940.5 L1545 937.8 L1549 937.6 L1553 938.8 L1557 939.2 L1561 937.7 L1565 936.1 L1569 935.9 L1573 939.1 L1577 940.2 L1581 941.4 L1585 936.6 L1589 935.7 L1593 934.4 L1597 935.5 L1601 939.6 L1605 942.5 L1609 943.8 L1613 940.8 L1617 935.6 L1621 936.2 L1625 938.3 L1629 942.0 L1633 942.1 L1637 940.3 L1641 941.2 L1645 938.7 L1649 941.2 L1653 935.1 L1657 936.5 L1661 934.2 L1665 940.7 L1669 940.0 L1673 943.3 L1677 939.2 L1681 940.7 L1685 937.1 L1689 937.7 L1693 935.1 L1697 933.2 L1701 932.2 L1705 932.5 L1709 935.8 L1713 939.5 L1717 939.5 L1721 938.0 L1725 937.0 L1729 938.3 L1733 937.3 L1737 934.9 L1741 935.8 L1745 939.5 L1749 944.2 L1753 944.0 L1757 942.3 L1761 941.4 L1765 938.8 L1769 935.2 L1773 934.2 L1777 934.8 L1781 938.1 L1785 935.9 L1789 936.8 L1793 936.7 L1797 936.1 L1801 935.2 L1805 935.8 L1809 936.6 L1813 938.7 L1817 938.1 L1821 937.9 L1825 936.1 L1829 938.6 L1833 938.6 L1837 941.4 L1841 938.5 L1845 938.3 L1849 938.8 L1853 940.9 L1857 940.7 L1861 937.7 L1865 939.4 L1869 939.1 L1873 940.7 L1877 939.2 L1881 940.4 L1885 940.4 L1889 938.4 L1893 938.4 L1897 933.3 L1901 931.8 L1905 931.8 L1909 935.7 L1913 936.6 L1917 936.3 L1921 937.5 L1925 937.2 L1929 939.1 L1933 939.1 L1937 940.0 L1941 937.2 L1945 934.9 L1949 939.7 L1953 939.4 L1957 940.6 L1961 935.6 L1965 935.2 L1969 936.5 L1973 938.3 L1977 944.0 L1981 944.8 L1985 941.7 L1989 939.8 L1993 939.6 L1997 940.3 L2001 940.6 L2005 940.2 L2009 942.2 L2013 939.8 L2017 939.7 L2021 939.2 L2025 940.2 L2029 942.1 L2033 941.7 L2037 944.4 L2041 943.4 L2045 943.8 L2049 940.6 L2053 939.0 L2057 936.5 L2061 936.5 L2065 935.1 L2069 937.7 L2073 939.0 L2077 937.1 L2081 939.1 L2085 936.1 L2089 940.1 L2093 936.3 L2097 940.3 L2101 938.3 L2105 938.9 L2109 940.2 L2113 942.1 L2117 941.6 L2121 936.4 L2125 934.8 L2129 936.8 L2133 938.6 L2137 941.2 L2141 941.9 L2145 941.5 L2149 939.3 L2153 936.5 L2157 936.6 L2161 935.6 L2165 937.0 L2169 936.2 L2173 933.1 L2177 934.6 L2181 935.4 L2185 940.2 L2189 937.7 L2193 937.2 L2197 937.9" stroke="#c00000" stroke-width="2" fill="none" stroke-linejoin="round"/>
<path d="M1277 909.6 L1280 905.0 L1283 905.8 L1286 909.8 L1289 914.8 L1292 919.1 L1295 921.9 L1298 920.5 L1301 921.1 L1304 920.0 L1307 923.3 L1310 924.5 L1313 926.7 L1316 925.5 L1319 923.8 L1322 923.8 L1325 925.2 L1328 926.1 L1331 926.6 L1334 926.3 L1337 928.2 L1340 926.4 L1343 925.3 L1346 922.1 L1349 921.5 L1352 922.6 L1355 922.7 L1358 927.1 L1361 926.1 L1364 923.1" stroke="#20c0c0" stroke-width="1.8" fill="none" stroke-linejoin="round"/>
<path d="M1277 919.2 L1280 916.6 L1283 917.7 L1286 919.9 L1289 921.4 L1292 922.0 L1295 923.6 L1298 922.8 L1301 920.9 L1304 917.1 L1307 917.4 L1310 915.0 L1313 913.1 L1316 911.1 L1319 911.7 L1322 916.5 L1325 918.8 L1328 918.4 L1331 915.2 L1334 914.0 L1337 916.2 L1340 918.0 L1343 919.5 L1346 917.8 L1349 917.8 L1352 917.8 L1355 919.4 L1358 919.3 L1361 916.9 L1364 919.2" stroke="#0090e0" stroke-width="1.8" fill="none" stroke-linejoin="round"/>
<path d="M1277 927.6 L1280 926.0 L1283 926.8 L1286 928.3 L1289 927.8 L1292 928.8 L1295 927.3 L1298 927.9 L1301 926.9 L1304 927.8 L1307 926.6 L1310 926.5 L1313 926.9 L1316 927.5 L1319 928.1 L1322 924.9 L1325 919.1 L1328 913.0 L1331 913.7 L1334 921.1 L1337 925.5 L1340 924.6 L1343 924.5 L1346 926.0 L1349 928.4 L1352 929.5 L1355 925.1 L1358 926.0 L1361 926.7 L1364 927.6" stroke="#00d0d0" stroke-width="1.8" fill="none" stroke-linejoin="round"/>
<path d="M1277 930.9 L1280 934.2 L1283 932.9 L1286 927.9 L1289 927.7 L1292 927.4 L1295 930.6 L1298 928.9 L1301 927.2 L1304 925.8 L1307 928.1 L1310 930.8 L1313 929.3 L1316 930.3 L1319 928.5 L1322 930.6 L1325 927.2 L1328 924.0 L1331 918.7 L1334 917.3 L1337 920.0 L1340 926.2 L1343 929.5 L1346 931.0 L1349 929.4 L1352 928.1 L1355 929.0 L1358 929.7 L1361 933.9 L1364 930.9" stroke="#00d0d0" stroke-width="1.8" fill="none" stroke-linejoin="round"/>
<path d="M1277 924.7 L1280 923.5 L1283 922.7 L1286 924.3 L1289 923.4 L1292 924.8 L1295 925.8 L1298 929.1 L1301 929.1 L1304 925.3 L1307 921.4 L1310 920.5 L1313 921.6 L1316 921.9 L1319 922.7 L1322 921.9 L1325 922.0 L1328 920.8 L1331 915.2 L1334 912.1 L1337 910.3 L1340 914.9 L1343 919.6 L1346 923.6 L1349 923.9 L1352 922.5 L1355 922.7 L1358 927.2 L1361 928.1 L1364 924.7" stroke="#1070e0" stroke-width="1.8" fill="none" stroke-linejoin="round"/>
<path d="M1277 929.7 L1280 932.7 L1283 931.9 L1286 932.6 L1289 933.9 L1292 934.2 L1295 931.6 L1298 928.2 L1301 924.3 L1304 922.7 L1307 918.7 L1310 918.7 L1313 919.8 L1316 925.4 L1319 927.2 L1322 929.4 L1325 930.0 L1328 930.4 L1331 930.7 L1334 929.9 L1337 931.9 L1340 933.9 L1343 932.5 L1346 930.6 L1349 928.9 L1352 930.0 L1355 931.3 L1358 930.0 L1361 929.3 L1364 929.7" stroke="#1070e0" stroke-width="1.8" fill="none" stroke-linejoin="round"/>
<path d="M1277 926.1 L1280 926.7 L1283 926.6 L1286 925.9 L1289 926.6 L1292 924.1 L1295 925.9 L1298 923.0 L1301 925.6 L1304 921.5 L1307 921.5 L1310 917.2 L1313 917.9 L1316 918.0 L1319 919.6 L1322 922.2 L1325 925.1 L1328 926.5 L1331 926.5 L1334 926.0 L1337 925.8 L1340 925.6 L1343 927.2 L1346 926.6 L1349 926.2 L1352 923.8 L1355 923.6 L1358 925.0 L1361 929.2 L1364 926.1" stroke="#00d0d0" stroke-width="1.8" fill="none" stroke-linejoin="round"/>
<path d="M1277 915.9 L1280 912.7 L1283 914.1 L1286 914.3 L1289 909.9 L1292 904.8 L1295 902.4 L1298 903.5 L1301 905.4 L1304 907.0 L1307 912.2 L1310 911.6 L1313 916.4 L1316 916.6 L1319 918.4 L1322 916.0 L1325 914.7 L1328 913.1 L1331 911.4 L1334 909.1 L1337 911.3 L1340 912.5 L1343 915.3 L1346 913.4 L1349 917.4 L1352 917.9 L1355 920.0 L1358 917.6 L1361 914.8 L1364 916.0" stroke="#20c0c0" stroke-width="1.8" fill="none" stroke-linejoin="round"/>
<path d="M1277 919.6 L1280 918.4 L1283 919.9 L1286 923.8 L1289 923.9 L1292 920.7 L1295 920.1 L1298 921.1 L1301 923.2 L1304 920.2 L1307 921.8 L1310 921.0 L1313 921.4 L1316 919.7 L1319 917.6 L1322 917.7 L1325 919.6 L1328 920.7 L1331 922.6 L1334 918.9 L1337 917.2 L1340 914.3 L1343 913.3 L1346 914.3 L1349 913.7 L1352 914.7 L1355 913.1 L1358 911.3 L1361 909.3 L1364 910.5" stroke="#1070e0" stroke-width="1.8" fill="none" stroke-linejoin="round"/>
<path d="M1277 927.8 L1280 930.2 L1283 929.2 L1286 928.3 L1289 925.7 L1292 926.7 L1295 925.5 L1298 928.1 L1301 927.0 L1304 924.3 L1307 923.4 L1310 923.9 L1313 925.6 L1316 924.1 L1319 920.2 L1322 917.2 L1325 912.9 L1328 915.5 L1331 917.5 L1334 922.4 L1337 923.6 L1340 926.9 L1343 927.6 L1346 930.9 L1349 929.1 L1352 930.1 L1355 926.2 L1358 928.0 L1361 927.1 L1364 927.8" stroke="#20c0c0" stroke-width="1.8" fill="none" stroke-linejoin="round"/>
<path d="M1365 927.6 L1368 931.1 L1371 933.0 L1374 930.3 L1377 930.9 L1380 928.6 L1383 928.6 L1386 926.6 L1389 927.7 L1392 927.7 L1395 928.6 L1398 926.4 L1401 922.5 L1404 914.2 L1407 910.6 L1410 911.7 L1413 919.0 L1416 924.4 L1419 927.0 L1422 930.0 L1425 931.1 L1428 932.2 L1431 931.6 L1434 929.6 L1437 927.9 L1440 926.0 L1443 927.6" stroke="#c0d080" stroke-width="1.6" fill="none" stroke-linejoin="round"/>
<path d="M1365 913.4 L1368 914.9 L1371 918.6 L1374 915.5 L1377 913.3 L1380 912.4 L1383 916.9 L1386 917.3 L1389 917.8 L1392 917.4 L1395 915.2 L1398 911.6 L1401 903.4 L1404 902.9 L1407 904.8 L1410 911.1 L1413 912.2 L1416 913.9 L1419 912.3 L1422 912.8 L1425 913.7 L1428 914.4 L1431 914.5 L1434 914.0 L1437 914.1 L1440 913.2 L1443 913.4" stroke="#c0d080" stroke-width="1.6" fill="none" stroke-linejoin="round"/>
<path d="M1365 915.5 L1368 914.5 L1371 916.4 L1374 915.9 L1377 913.7 L1380 914.8 L1383 912.9 L1386 912.8 L1389 913.3 L1392 914.2 L1395 915.5 L1398 913.4 L1401 914.2 L1404 914.0 L1407 914.4 L1410 915.3 L1413 916.0 L1416 915.8 L1419 914.1 L1422 910.5 L1425 908.0 L1428 909.0 L1431 909.5 L1434 911.8 L1437 910.8 L1440 912.4 L1443 915.1" stroke="#60e060" stroke-width="1.6" fill="none" stroke-linejoin="round"/>
<path d="M1365 925.8 L1368 924.7 L1371 925.9 L1374 923.2 L1377 924.7 L1380 925.7 L1383 928.8 L1386 929.2 L1389 926.8 L1392 925.8 L1395 924.5 L1398 925.9 L1401 924.1 L1404 924.5 L1407 923.8 L1410 923.4 L1413 923.1 L1416 924.0 L1419 926.3 L1422 925.2 L1425 924.1 L1428 924.7 L1431 924.4 L1434 925.4 L1437 923.3 L1440 919.4 L1443 908.0" stroke="#a0e060" stroke-width="1.6" fill="none" stroke-linejoin="round"/>
<path d="M1365 931.1 L1368 931.9 L1371 933.6 L1374 931.4 L1377 932.2 L1380 929.8 L1383 930.2 L1386 932.5 L1389 931.2 L1392 931.1 L1395 927.7 L1398 931.6 L1401 931.9 L1404 933.5 L1407 933.8 L1410 934.5 L1413 934.3 L1416 932.4 L1419 931.5 L1422 930.8 L1425 930.0 L1428 929.6 L1431 926.8 L1434 925.3 L1437 924.7 L1440 926.6 L1443 930.0" stroke="#e0d0a0" stroke-width="1.6" fill="none" stroke-linejoin="round"/>
<path d="M1365 920.2 L1368 923.6 L1371 917.5 L1374 907.3 L1377 895.9 L1380 892.4 L1383 902.1 L1386 913.1 L1389 921.7 L1392 921.1 L1395 920.0 L1398 918.1 L1401 921.3 L1404 923.2 L1407 922.6 L1410 920.9 L1413 918.2 L1416 918.6 L1419 919.5 L1422 922.4 L1425 922.6 L1428 919.7 L1431 915.7 L1434 916.6 L1437 918.0 L1440 921.4 L1443 920.3" stroke="#e0d0a0" stroke-width="1.6" fill="none" stroke-linejoin="round"/>
<path d="M1365 921.6 L1368 916.1 L1371 913.8 L1374 913.0 L1377 914.3 L1380 917.0 L1383 918.8 L1386 921.0 L1389 921.9 L1392 921.7 L1395 922.6 L1398 926.0 L1401 927.8 L1404 928.6 L1407 925.6 L1410 922.8 L1413 921.8 L1416 921.5 L1419 926.2 L1422 925.9 L1425 928.7 L1428 924.4 L1431 923.2 L1434 920.3 L1437 920.5 L1440 920.6 L1443 924.6" stroke="#a0e060" stroke-width="1.6" fill="none" stroke-linejoin="round"/>
<path d="M1365 923.9 L1368 921.5 L1371 923.1 L1374 923.3 L1377 923.9 L1380 920.0 L1383 920.3 L1386 919.5 L1389 923.3 L1392 923.0 L1395 921.4 L1398 921.6 L1401 922.8 L1404 927.3 L1407 926.5 L1410 924.1 L1413 923.2 L1416 923.6 L1419 926.6 L1422 925.4 L1425 925.9 L1428 925.0 L1431 924.8 L1434 920.3 L1437 913.2 L1440 905.6 L1443 906.9" stroke="#e0d0a0" stroke-width="1.6" fill="none" stroke-linejoin="round"/>
<polygon points="1276,958 1276,932.8 1281,929.8 1286,930.2 1291,932.1 1296,933.7 1301,929.6 1306,931.5 1311,931.7 1316,930.5 1321,931.6 1326,930.3 1331,933.0 1336,928.6 1341,931.5 1346,930.3 1351,931.0 1356,929.7 1361,926.6 1366,933.3 1371,932.2 1376,931.7 1381,931.0 1386,931.5 1391,930.6 1396,931.3 1401,933.2 1406,930.2 1411,929.8 1416,933.9 1421,930.4 1426,931.4 1431,930.8 1436,932.0 1441,932.1 1446,931.3 1451,929.6 1456,929.7 1461,931.2 1466,933.8 1471,928.4 1476,930.9 1481,931.8 1486,930.2 1491,931.4 1496,930.9 1501,932.3 1506,933.6 1511,930.6 1516,931.5 1521,931.7 1526,931.3 1531,931.1 1536,927.9 1541,931.2 1546,929.5 1551,930.4 1556,931.7 1561,931.9 1566,930.4 1571,930.4 1576,930.6 1581,929.5 1586,933.4 1591,933.6 1596,930.8 1601,933.4 1606,932.2 1611,929.4 1616,932.4 1621,932.0 1626,931.3 1631,928.9 1636,930.1 1641,927.6 1646,931.0 1651,930.6 1656,929.4 1661,929.2 1666,933.0 1671,928.8 1676,932.1 1681,931.2 1686,932.9 1691,928.6 1696,931.2 1701,932.9 1706,930.8 1711,928.9 1716,928.1 1721,930.0 1726,932.5 1731,933.3 1736,931.1 1741,932.3 1746,932.5 1751,931.9 1756,929.8 1761,932.1 1766,929.5 1771,931.2 1776,932.2 1781,932.6 1786,930.9 1791,932.7 1796,933.3 1801,932.5 1806,931.0 1811,931.5 1816,931.1 1821,931.1 1826,932.1 1831,932.7 1836,931.1 1841,932.2 1846,931.4 1851,931.3 1856,929.6 1861,931.6 1866,930.9 1871,931.5 1876,932.6 1881,932.2 1886,932.1 1891,930.3 1896,928.7 1901,930.5 1906,931.0 1911,931.4 1916,933.1 1921,931.5 1926,933.2 1931,930.5 1936,929.5 1941,932.3 1946,929.4 1951,928.7 1956,930.2 1961,931.6 1966,932.7 1971,931.1 1976,932.4 1981,931.0 1986,928.6 1991,929.4 1996,928.6 2001,930.8 2006,928.0 2011,928.9 2016,929.8 2021,932.4 2026,931.8 2031,930.5 2036,931.3 2041,930.7 2046,935.1 2051,928.6 2056,928.0 2061,928.2 2066,928.9 2071,930.5 2076,932.4 2081,930.6 2086,930.6 2091,930.8 2096,931.3 2101,929.6 2106,931.9 2111,930.9 2116,931.3 2121,931.8 2126,931.8 2131,932.1 2136,929.7 2141,931.6 2146,928.7 2151,927.9 2156,930.4 2161,931.5 2166,931.6 2171,931.5 2176,932.2 2181,928.3 2186,930.1 2191,930.6 2196,929.7 2201,931.4 2203,958" fill="#e20000"/>
<path d="M1277 947.3 L1280 943.1 L1283 943.5 L1286 943.6 L1289 945.4 L1292 942.5 L1295 944.1 L1298 947.7 L1301 948.5 L1304 945.1 L1307 942.1 L1310 944.7 L1313 945.5 L1316 949.2 L1319 950.6 L1322 949.2 L1325 948.9 L1328 947.3 L1331 948.8 L1334 946.2 L1337 947.8 L1340 949.8 L1343 949.3 L1346 948.2 L1349 944.6 L1352 945.8 L1355 942.1 L1358 944.8 L1361 942.6 L1364 944.8 L1367 944.7 L1370 948.9 L1373 948.7 L1376 948.7 L1379 945.9 L1382 947.8 L1385 949.4 L1388 951.6 L1391 950.9 L1394 947.9 L1397 946.9 L1400 948.5 L1403 951.4 L1406 952.8 L1409 953.6 L1412 952.9 L1415 952.1 L1418 950.0 L1421 946.3 L1424 943.7 L1427 940.7 L1430 943.7 L1433 944.8 L1436 948.5 L1439 951.5 L1442 954.5 L1445 953.8 L1448 950.1 L1451 943.8 L1454 943.3 L1457 946.6 L1460 950.9 L1463 950.0 L1466 949.4 L1469 949.5 L1472 949.5 L1475 947.4 L1478 945.9 L1481 946.6 L1484 946.8 L1487 945.3 L1490 943.9 L1493 943.4 L1496 944.8 L1499 946.4 L1502 946.8 L1505 947.0 L1508 946.6 L1511 942.3 L1514 942.5 L1517 942.1 L1520 942.8 L1523 944.7 L1526 945.2 L1529 946.6 L1532 944.7 L1535 945.0 L1538 948.4 L1541 948.7 L1544 949.8 L1547 946.7 L1550 945.8 L1553 945.1 L1556 944.9 L1559 947.5 L1562 948.5 L1565 949.1 L1568 947.0 L1571 947.5 L1574 949.9 L1577 950.8 L1580 949.9 L1583 948.4 L1586 948.2 L1589 946.3 L1592 946.8 L1595 946.0 L1598 947.5 L1601 946.8 L1604 946.8 L1607 945.0 L1610 945.0 L1613 946.2 L1616 947.5 L1619 945.9 L1622 945.7 L1625 945.5 L1628 945.1 L1631 943.6 L1634 942.6 L1637 946.6 L1640 949.1 L1643 949.8 L1646 944.9 L1649 946.3 L1652 949.5 L1655 952.1 L1658 948.7 L1661 947.6 L1664 947.1 L1667 947.2 L1670 946.4 L1673 948.0 L1676 949.2 L1679 947.9 L1682 948.9 L1685 949.9 L1688 951.6 L1691 949.8 L1694 946.1 L1697 946.0 L1700 948.3 L1703 949.6 L1706 946.8 L1709 945.7 L1712 943.8 L1715 946.8 L1718 943.9 L1721 945.2 L1724 946.7 L1727 948.2 L1730 949.6 L1733 947.2 L1736 949.2 L1739 948.8 L1742 949.6 L1745 948.2 L1748 946.5 L1751 943.2 L1754 941.6 L1757 941.9 L1760 943.5 L1763 945.6 L1766 948.8 L1769 947.9 L1772 948.3 L1775 946.2 L1778 950.0 L1781 948.6 L1784 946.6 L1787 944.6 L1790 943.8 L1793 946.3 L1796 945.9 L1799 948.1 L1802 952.2 L1805 951.9 L1808 950.3 L1811 945.1 L1814 942.9 L1817 942.2 L1820 942.4 L1823 946.2 L1826 943.0 L1829 945.9 L1832 945.4 L1835 951.0 L1838 947.0 L1841 945.9 L1844 944.2 L1847 948.8 L1850 950.2 L1853 949.4 L1856 947.3 L1859 948.5 L1862 949.8 L1865 950.0 L1868 948.0 L1871 947.7 L1874 948.3 L1877 948.4 L1880 946.8 L1883 945.6 L1886 945.9 L1889 949.0 L1892 948.0 L1895 946.8 L1898 947.3 L1901 947.6 L1904 945.8 L1907 947.0 L1910 945.6 L1913 946.8 L1916 946.7 L1919 951.0 L1922 953.4 L1925 948.6 L1928 947.0 L1931 946.0 L1934 948.1 L1937 947.2 L1940 944.0 L1943 943.7 L1946 945.5 L1949 948.3 L1952 947.7 L1955 947.5 L1958 947.7 L1961 949.8 L1964 950.1 L1967 951.9 L1970 949.6 L1973 947.8 L1976 949.0 L1979 949.1 L1982 949.4 L1985 951.5 L1988 954.5 L1991 956.8 L1994 954.1 L1997 947.8 L2000 940.5 L2003 939.1 L2006 945.0 L2009 950.2 L2012 951.9 L2015 950.1 L2018 946.1 L2021 944.8 L2024 943.1 L2027 945.4 L2030 948.9 L2033 950.5 L2036 948.6 L2039 944.1 L2042 942.9 L2045 946.0 L2048 947.5 L2051 949.2 L2054 947.1 L2057 945.7 L2060 944.1 L2063 945.4 L2066 948.1 L2069 950.4 L2072 950.1 L2075 949.1 L2078 949.9 L2081 948.1 L2084 945.8 L2087 942.6 L2090 942.8 L2093 943.5 L2096 945.8 L2099 947.8 L2102 948.2 L2105 950.5 L2108 949.4 L2111 953.2 L2114 947.1 L2117 946.5 L2120 944.2 L2123 947.3 L2126 949.2 L2129 945.6 L2132 943.7 L2135 942.7 L2138 946.1 L2141 946.9 L2144 946.6 L2147 945.9 L2150 947.7 L2153 950.7 L2156 952.9 L2159 953.2 L2162 953.4 L2165 952.7 L2168 948.5 L2171 945.8 L2174 943.1 L2177 947.0 L2180 944.8 L2183 945.8 L2186 943.5 L2189 943.9 L2192 943.3 L2195 941.5 L2198 947.3" stroke="#ff3030" stroke-width="1.4" fill="none" stroke-linejoin="round"/>
<path d="M1277 947.2 L1280 945.7 L1283 942.9 L1286 943.2 L1289 943.5 L1292 948.0 L1295 948.8 L1298 952.4 L1301 950.8 L1304 947.1 L1307 943.9 L1310 942.7 L1313 947.2 L1316 947.6 L1319 949.8 L1322 946.4 L1325 946.0 L1328 944.9 L1331 943.7 L1334 945.6 L1337 946.7 L1340 948.5 L1343 947.8 L1346 947.0 L1349 950.5 L1352 951.1 L1355 952.1 L1358 952.2 L1361 947.0 L1364 943.5 L1367 938.4 L1370 940.6 L1373 942.2 L1376 944.7 L1379 946.5 L1382 951.4 L1385 949.4 L1388 949.3 L1391 949.2 L1394 952.1 L1397 951.0 L1400 950.4 L1403 949.9 L1406 954.4 L1409 952.5 L1412 951.8 L1415 952.2 L1418 952.7 L1421 951.8 L1424 948.5 L1427 944.7 L1430 944.0 L1433 941.5 L1436 946.0 L1439 949.0 L1442 950.3 L1445 947.5 L1448 946.8 L1451 947.7 L1454 950.2 L1457 950.1 L1460 949.1 L1463 945.1 L1466 943.3 L1469 942.5 L1472 944.8 L1475 944.8 L1478 944.7 L1481 946.3 L1484 945.5 L1487 946.1 L1490 943.0 L1493 943.8 L1496 945.9 L1499 948.3 L1502 949.0 L1505 952.1 L1508 952.7 L1511 953.8 L1514 950.6 L1517 950.9 L1520 951.6 L1523 951.2 L1526 950.6 L1529 946.7 L1532 946.2 L1535 945.3 L1538 946.1 L1541 946.3 L1544 946.2 L1547 945.6 L1550 943.9 L1553 944.2 L1556 948.3 L1559 950.9 L1562 949.6 L1565 950.1 L1568 949.6 L1571 950.6 L1574 950.4 L1577 947.9 L1580 948.2 L1583 948.3 L1586 951.9 L1589 950.8 L1592 946.0 L1595 943.9 L1598 944.3 L1601 946.8 L1604 944.7 L1607 942.9 L1610 945.2 L1613 947.7 L1616 948.9 L1619 946.6 L1622 945.9 L1625 945.8 L1628 946.9 L1631 945.5 L1634 946.4 L1637 943.1 L1640 944.8 L1643 945.2 L1646 944.7 L1649 944.6 L1652 941.8 L1655 943.0 L1658 940.1 L1661 943.9 L1664 944.8 L1667 949.6 L1670 950.1 L1673 949.9 L1676 951.1 L1679 949.5 L1682 947.7 L1685 944.4 L1688 945.1 L1691 947.6 L1694 947.4 L1697 943.9 L1700 943.9 L1703 944.9 L1706 946.7 L1709 946.5 L1712 946.2 L1715 946.5 L1718 944.1 L1721 945.6 L1724 945.9 L1727 947.5 L1730 947.7 L1733 948.4 L1736 949.0 L1739 950.2 L1742 950.5 L1745 952.3 L1748 950.7 L1751 951.0 L1754 950.0 L1757 948.0 L1760 944.9 L1763 942.8 L1766 945.2 L1769 946.7 L1772 950.1 L1775 947.9 L1778 947.2 L1781 945.7 L1784 946.6 L1787 946.5 L1790 944.7 L1793 945.7 L1796 948.2 L1799 952.1 L1802 951.8 L1805 951.6 L1808 948.9 L1811 947.4 L1814 948.7 L1817 949.9 L1820 951.4 L1823 951.7 L1826 950.8 L1829 951.1 L1832 947.9 L1835 946.5 L1838 944.6 L1841 945.6 L1844 946.3 L1847 947.1 L1850 945.0 L1853 948.3 L1856 949.1 L1859 952.0 L1862 948.9 L1865 946.8 L1868 945.2 L1871 945.1 L1874 948.0 L1877 947.8 L1880 947.6 L1883 948.1 L1886 947.6 L1889 948.7 L1892 950.5 L1895 951.9 L1898 950.3 L1901 946.2 L1904 945.7 L1907 946.6 L1910 946.2 L1913 945.5 L1916 948.4 L1919 950.6 L1922 951.4 L1925 948.6 L1928 946.1 L1931 944.6 L1934 944.2 L1937 946.2 L1940 945.0 L1943 946.6 L1946 946.2 L1949 945.7 L1952 943.3 L1955 942.1 L1958 945.4 L1961 944.5 L1964 940.7 L1967 940.2 L1970 942.5 L1973 945.3 L1976 942.7 L1979 941.8 L1982 945.0 L1985 947.5 L1988 949.4 L1991 946.5 L1994 947.4 L1997 945.2 L2000 946.7 L2003 945.0 L2006 949.1 L2009 948.7 L2012 949.7 L2015 946.0 L2018 948.9 L2021 947.0 L2024 948.5 L2027 945.4 L2030 948.4 L2033 947.7 L2036 949.2 L2039 951.0 L2042 951.7 L2045 948.8 L2048 948.1 L2051 946.8 L2054 951.8 L2057 948.2 L2060 950.6 L2063 949.6 L2066 951.7 L2069 948.5 L2072 948.8 L2075 948.7 L2078 948.7 L2081 946.5 L2084 947.6 L2087 947.8 L2090 946.0 L2093 941.0 L2096 939.6 L2099 944.2 L2102 945.8 L2105 946.2 L2108 942.9 L2111 943.9 L2114 943.8 L2117 944.7 L2120 947.8 L2123 950.1 L2126 948.5 L2129 947.4 L2132 948.1 L2135 951.2 L2138 949.4 L2141 950.1 L2144 948.4 L2147 950.5 L2150 946.6 L2153 944.6 L2156 939.6 L2159 942.9 L2162 946.2 L2165 949.5 L2168 950.6 L2171 949.8 L2174 949.1 L2177 946.8 L2180 944.6 L2183 946.9 L2186 947.7 L2189 949.4 L2192 946.8 L2195 944.2 L2198 947.2" stroke="#b00000" stroke-width="1.4" fill="none" stroke-linejoin="round"/>
<path d="M1277 934.7 L1280 936.3 L1283 936.5 L1286 937.8 L1289 938.7 L1292 941.5 L1295 938.5 L1298 936.6 L1301 935.3 L1304 934.2 L1307 934.4 L1310 933.1 L1313 933.6 L1316 933.2 L1319 934.7 L1322 936.9 L1325 939.8 L1328 937.1 L1331 936.2 L1334 932.3 L1337 934.5 L1340 936.3 L1343 935.9 L1346 933.4 L1349 933.8 L1352 933.9 L1355 936.5 L1358 931.6 L1361 932.5 L1364 932.4 L1367 935.2 L1370 936.3 L1373 940.1 L1376 938.6 L1379 938.9 L1382 932.8 L1385 938.5 L1388 936.9 L1391 938.1 L1394 935.3 L1397 933.2 L1400 931.9 L1403 931.6 L1406 936.1 L1409 936.5 L1412 932.1 L1415 929.9 L1418 931.6 L1421 931.5 L1424 933.4 L1427 930.5 L1430 932.3 L1433 931.6 L1436 934.7 L1439 936.7 L1442 936.6 L1445 933.3 L1448 932.5 L1451 933.9 L1454 934.0 L1457 932.2 L1460 930.6 L1463 930.7 L1466 932.1 L1469 929.3 L1472 931.5 L1475 933.0 L1478 936.7 L1481 936.3 L1484 934.8 L1487 935.1 L1490 936.1 L1493 938.5 L1496 938.5 L1499 935.0 L1502 933.1 L1505 933.9 L1508 937.6 L1511 938.6 L1514 937.2 L1517 937.5 L1520 934.3 L1523 935.5 L1526 934.6 L1529 934.1 L1532 932.8 L1535 930.3 L1538 933.0 L1541 931.7 L1544 930.2 L1547 931.4 L1550 931.8 L1553 937.1 L1556 935.7 L1559 937.6 L1562 935.7 L1565 937.6 L1568 939.9 L1571 939.2 L1574 937.1 L1577 931.5 L1580 932.1 L1583 932.1 L1586 935.6 L1589 938.2 L1592 938.2 L1595 938.7 L1598 934.1 L1601 932.0 L1604 929.2 L1607 929.5 L1610 932.0 L1613 933.7 L1616 931.8 L1619 932.0 L1622 929.0 L1625 934.3 L1628 933.3 L1631 934.0 L1634 935.4 L1637 938.6 L1640 941.1 L1643 939.0 L1646 936.4 L1649 936.5 L1652 937.1 L1655 938.9 L1658 939.4 L1661 937.6 L1664 936.7 L1667 936.8 L1670 939.4 L1673 939.8 L1676 940.7 L1679 938.4 L1682 936.4 L1685 936.0 L1688 937.2 L1691 938.5 L1694 935.0 L1697 935.3 L1700 935.3 L1703 938.3 L1706 938.7 L1709 939.2 L1712 932.0 L1715 928.6 L1718 926.9 L1721 931.9 L1724 936.3 L1727 938.5 L1730 937.7 L1733 935.1 L1736 931.6 L1739 932.9 L1742 932.0 L1745 933.6 L1748 932.7 L1751 933.0 L1754 931.4 L1757 933.1 L1760 934.1 L1763 937.1 L1766 936.2 L1769 935.1 L1772 933.8 L1775 937.1 L1778 939.0 L1781 940.0 L1784 937.3 L1787 937.2 L1790 936.9 L1793 934.9 L1796 932.8 L1799 929.9 L1802 934.1 L1805 936.8 L1808 941.3 L1811 936.9 L1814 934.0 L1817 932.8 L1820 935.4 L1823 936.1 L1826 933.0 L1829 929.5 L1832 931.0 L1835 931.7 L1838 934.6 L1841 930.9 L1844 928.0 L1847 926.8 L1850 928.4 L1853 937.0 L1856 937.0 L1859 940.9 L1862 937.6 L1865 937.1 L1868 936.9 L1871 932.0 L1874 934.3 L1877 930.4 L1880 935.2 L1883 933.1 L1886 935.4 L1889 934.6 L1892 939.7 L1895 937.1 L1898 935.8 L1901 932.5 L1904 934.7 L1907 937.6 L1910 938.3 L1913 937.4 L1916 935.0 L1919 932.6 L1922 931.0 L1925 929.9 L1928 930.4 L1931 931.8 L1934 933.8 L1937 932.4 L1940 934.2 L1943 935.2 L1946 936.7 L1949 937.8 L1952 937.0 L1955 940.2 L1958 939.2 L1961 932.8 L1964 933.0 L1967 929.9 L1970 936.8 L1973 936.0 L1976 940.1 L1979 938.1 L1982 936.8 L1985 934.3 L1988 932.6 L1991 934.2 L1994 937.8 L1997 940.4 L2000 935.8 L2003 931.9 L2006 929.8 L2009 930.2 L2012 929.9 L2015 933.5 L2018 935.1 L2021 933.8 L2024 931.6 L2027 931.9 L2030 933.2 L2033 934.0 L2036 932.6 L2039 933.6 L2042 930.9 L2045 931.6 L2048 930.9 L2051 936.6 L2054 940.8 L2057 941.4 L2060 939.2 L2063 932.4 L2066 933.3 L2069 934.2 L2072 936.1 L2075 938.3 L2078 936.5 L2081 940.1 L2084 941.3 L2087 944.5 L2090 942.6 L2093 938.0 L2096 935.5 L2099 936.8 L2102 936.7 L2105 935.8 L2108 934.2 L2111 931.6 L2114 930.4 L2117 932.1 L2120 935.9 L2123 939.1 L2126 937.3 L2129 934.5 L2132 930.3 L2135 930.2 L2138 933.0 L2141 937.4 L2144 940.4 L2147 936.5 L2150 935.3 L2153 933.4 L2156 933.2 L2159 933.7 L2162 933.0 L2165 935.3 L2168 937.3 L2171 939.4 L2174 934.7 L2177 931.0 L2180 932.0 L2183 938.4 L2186 939.2 L2189 934.9 L2192 934.1 L2195 935.9 L2198 934.7" stroke="#b00000" stroke-width="1.4" fill="none" stroke-linejoin="round"/>
<path d="M1277 950.9 L1280 955.6 L1283 956.8 L1286 954.5 L1289 952.1 L1292 948.4 L1295 950.2 L1298 948.6 L1301 949.1 L1304 951.6 L1307 951.9 L1310 955.1 L1313 953.5 L1316 953.4 L1319 946.9 L1322 946.5 L1325 948.6 L1328 951.3 L1331 951.7 L1334 951.7 L1337 949.2 L1340 947.9 L1343 944.8 L1346 946.2 L1349 947.6 L1352 951.0 L1355 948.2 L1358 948.7 L1361 946.5 L1364 951.7 L1367 949.8 L1370 952.1 L1373 951.2 L1376 953.6 L1379 954.3 L1382 953.3 L1385 949.5 L1388 947.6 L1391 949.4 L1394 950.9 L1397 955.8 L1400 954.5 L1403 951.4 L1406 951.3 L1409 951.7 L1412 953.8 L1415 946.6 L1418 943.9 L1421 946.3 L1424 946.7 L1427 946.1 L1430 946.0 L1433 948.6 L1436 952.7 L1439 952.7 L1442 950.5 L1445 951.0 L1448 948.4 L1451 950.2 L1454 947.6 L1457 950.6 L1460 949.9 L1463 950.7 L1466 950.0 L1469 954.0 L1472 953.8 L1475 954.1 L1478 949.9 L1481 949.8 L1484 949.3 L1487 951.6 L1490 952.9 L1493 954.0 L1496 951.9 L1499 953.4 L1502 954.6 L1505 955.4 L1508 950.5 L1511 947.5 L1514 948.2 L1517 947.1 L1520 947.1 L1523 947.8 L1526 951.1 L1529 949.9 L1532 949.6 L1535 948.5 L1538 950.8 L1541 950.0 L1544 950.8 L1547 954.4 L1550 952.6 L1553 952.1 L1556 947.2 L1559 949.0 L1562 950.5 L1565 948.9 L1568 949.3 L1571 947.4 L1574 952.6 L1577 949.3 L1580 950.4 L1583 947.0 L1586 952.1 L1589 954.0 L1592 953.8 L1595 956.8 L1598 954.0 L1601 956.0 L1604 951.9 L1607 953.9 L1610 949.5 L1613 947.8 L1616 946.0 L1619 951.3 L1622 952.7 L1625 953.1 L1628 952.9 L1631 956.4 L1634 956.8 L1637 956.8 L1640 953.7 L1643 951.3 L1646 949.6 L1649 950.0 L1652 950.2 L1655 951.5 L1658 950.6 L1661 953.1 L1664 951.8 L1667 952.5 L1670 948.8 L1673 952.3 L1676 949.8 L1679 953.9 L1682 950.8 L1685 954.5 L1688 954.1 L1691 953.6 L1694 954.5 L1697 951.4 L1700 949.0 L1703 945.1 L1706 949.2 L1709 951.7 L1712 953.0 L1715 950.1 L1718 951.2 L1721 949.2 L1724 946.6 L1727 946.0 L1730 945.4 L1733 949.1 L1736 945.6 L1739 949.6 L1742 950.6 L1745 955.2 L1748 952.2 L1751 948.7 L1754 950.7 L1757 951.7 L1760 952.6 L1763 945.7 L1766 946.6 L1769 949.6 L1772 956.7 L1775 956.6 L1778 953.3 L1781 950.1 L1784 949.9 L1787 952.1 L1790 952.5 L1793 952.3 L1796 946.7 L1799 946.8 L1802 948.7 L1805 953.8 L1808 954.0 L1811 955.8 L1814 955.1 L1817 954.4 L1820 950.6 L1823 952.3 L1826 953.0 L1829 952.8 L1832 949.7 L1835 948.7 L1838 951.4 L1841 951.6 L1844 949.5 L1847 947.7 L1850 953.2 L1853 954.4 L1856 952.2 L1859 947.7 L1862 949.8 L1865 949.6 L1868 948.2 L1871 947.5 L1874 949.7 L1877 950.8 L1880 949.0 L1883 948.5 L1886 950.8 L1889 953.6 L1892 953.5 L1895 950.9 L1898 950.8 L1901 949.8 L1904 951.6 L1907 948.9 L1910 947.4 L1913 944.9 L1916 946.4 L1919 948.3 L1922 953.3 L1925 951.1 L1928 953.6 L1931 951.7 L1934 954.9 L1937 955.2 L1940 953.6 L1943 953.5 L1946 952.1 L1949 950.1 L1952 949.0 L1955 949.9 L1958 952.2 L1961 954.3 L1964 951.6 L1967 953.2 L1970 952.5 L1973 951.4 L1976 950.1 L1979 949.1 L1982 951.1 L1985 953.3 L1988 953.2 L1991 952.4 L1994 949.3 L1997 948.7 L2000 951.8 L2003 952.0 L2006 953.6 L2009 952.0 L2012 954.4 L2015 954.9 L2018 954.1 L2021 952.9 L2024 951.0 L2027 949.2 L2030 947.7 L2033 948.4 L2036 949.9 L2039 951.9 L2042 952.9 L2045 955.7 L2048 955.6 L2051 951.9 L2054 951.4 L2057 950.0 L2060 953.4 L2063 952.8 L2066 953.3 L2069 953.1 L2072 951.8 L2075 951.8 L2078 950.7 L2081 951.6 L2084 951.5 L2087 952.5 L2090 949.5 L2093 950.9 L2096 950.8 L2099 952.5 L2102 949.6 L2105 951.0 L2108 953.9 L2111 954.9 L2114 951.4 L2117 948.4 L2120 948.4 L2123 950.9 L2126 952.5 L2129 952.6 L2132 954.3 L2135 956.3 L2138 956.1 L2141 950.7 L2144 948.0 L2147 950.8 L2150 955.7 L2153 956.2 L2156 955.0 L2159 952.8 L2162 953.9 L2165 953.5 L2168 956.1 L2171 954.2 L2174 952.3 L2177 949.5 L2180 949.1 L2183 949.8 L2186 948.5 L2189 951.3 L2192 949.8 L2195 952.5 L2198 950.9" stroke="#ff3030" stroke-width="1.4" fill="none" stroke-linejoin="round"/>
<path d="M1277 949.7 L1280 950.0 L1283 947.1 L1286 949.5 L1289 949.4 L1292 952.8 L1295 950.4 L1298 948.4 L1301 948.4 L1304 947.5 L1307 951.4 L1310 947.4 L1313 948.9 L1316 946.4 L1319 950.5 L1322 948.2 L1325 949.2 L1328 948.2 L1331 949.2 L1334 950.3 L1337 950.0 L1340 952.2 L1343 952.2 L1346 950.0 L1349 946.6 L1352 946.9 L1355 946.1 L1358 947.0 L1361 946.0 L1364 947.6 L1367 946.1 L1370 946.5 L1373 948.5 L1376 953.3 L1379 948.9 L1382 946.3 L1385 946.0 L1388 949.6 L1391 950.2 L1394 949.3 L1397 947.1 L1400 948.1 L1403 945.6 L1406 946.9 L1409 946.7 L1412 949.7 L1415 949.7 L1418 948.7 L1421 950.2 L1424 949.8 L1427 949.1 L1430 945.0 L1433 945.2 L1436 947.6 L1439 950.8 L1442 952.9 L1445 953.2 L1448 953.2 L1451 951.5 L1454 951.7 L1457 950.5 L1460 948.6 L1463 947.5 L1466 945.9 L1469 950.6 L1472 950.0 L1475 952.4 L1478 947.1 L1481 950.4 L1484 950.3 L1487 951.6 L1490 945.9 L1493 947.0 L1496 948.6 L1499 953.2 L1502 948.2 L1505 944.5 L1508 942.8 L1511 943.8 L1514 948.1 L1517 950.4 L1520 951.0 L1523 950.7 L1526 947.6 L1529 948.9 L1532 946.1 L1535 947.6 L1538 947.2 L1541 947.7 L1544 947.2 L1547 945.0 L1550 947.5 L1553 949.3 L1556 950.1 L1559 948.3 L1562 947.8 L1565 951.0 L1568 953.0 L1571 952.1 L1574 950.8 L1577 951.5 L1580 952.8 L1583 951.6 L1586 948.1 L1589 944.3 L1592 946.4 L1595 949.9 L1598 951.5 L1601 950.7 L1604 947.8 L1607 947.3 L1610 947.4 L1613 948.9 L1616 952.9 L1619 954.8 L1622 953.5 L1625 947.6 L1628 947.9 L1631 951.3 L1634 955.5 L1637 951.6 L1640 952.3 L1643 951.6 L1646 950.6 L1649 951.2 L1652 953.1 L1655 954.2 L1658 948.8 L1661 948.3 L1664 948.0 L1667 948.3 L1670 949.2 L1673 950.7 L1676 953.1 L1679 951.4 L1682 950.9 L1685 951.8 L1688 954.3 L1691 956.8 L1694 956.8 L1697 954.6 L1700 950.9 L1703 949.6 L1706 950.4 L1709 952.7 L1712 950.7 L1715 949.7 L1718 948.9 L1721 951.2 L1724 951.0 L1727 951.7 L1730 948.8 L1733 948.6 L1736 946.1 L1739 947.2 L1742 946.9 L1745 951.6 L1748 952.6 L1751 954.6 L1754 950.2 L1757 949.3 L1760 947.2 L1763 949.0 L1766 947.4 L1769 951.3 L1772 949.9 L1775 952.7 L1778 951.1 L1781 953.4 L1784 952.9 L1787 950.8 L1790 947.9 L1793 948.9 L1796 950.6 L1799 950.7 L1802 947.8 L1805 948.2 L1808 951.0 L1811 952.3 L1814 951.2 L1817 948.9 L1820 950.7 L1823 951.3 L1826 947.4 L1829 944.4 L1832 940.7 L1835 945.0 L1838 947.8 L1841 948.4 L1844 946.6 L1847 945.8 L1850 948.2 L1853 949.7 L1856 949.6 L1859 951.6 L1862 951.4 L1865 949.9 L1868 950.4 L1871 948.6 L1874 951.8 L1877 950.9 L1880 955.4 L1883 953.6 L1886 951.7 L1889 953.1 L1892 952.9 L1895 952.0 L1898 950.4 L1901 954.4 L1904 956.8 L1907 956.8 L1910 952.0 L1913 951.0 L1916 949.1 L1919 945.6 L1922 944.8 L1925 945.9 L1928 949.0 L1931 947.0 L1934 944.4 L1937 945.8 L1940 950.0 L1943 955.3 L1946 956.8 L1949 955.4 L1952 954.2 L1955 955.3 L1958 955.3 L1961 954.1 L1964 952.6 L1967 949.1 L1970 946.8 L1973 948.0 L1976 949.4 L1979 951.2 L1982 950.4 L1985 952.9 L1988 948.3 L1991 947.1 L1994 947.7 L1997 952.4 L2000 951.0 L2003 949.3 L2006 949.4 L2009 952.2 L2012 953.5 L2015 955.5 L2018 953.9 L2021 951.9 L2024 948.9 L2027 949.0 L2030 947.6 L2033 947.6 L2036 946.5 L2039 950.5 L2042 951.8 L2045 953.5 L2048 949.9 L2051 949.5 L2054 949.0 L2057 951.2 L2060 948.4 L2063 949.0 L2066 949.9 L2069 952.0 L2072 951.2 L2075 947.6 L2078 946.1 L2081 945.4 L2084 947.9 L2087 949.7 L2090 948.0 L2093 947.0 L2096 945.9 L2099 952.2 L2102 954.8 L2105 956.2 L2108 951.2 L2111 948.2 L2114 947.7 L2117 951.7 L2120 952.7 L2123 954.2 L2126 954.9 L2129 956.6 L2132 956.0 L2135 952.1 L2138 949.3 L2141 948.3 L2144 948.6 L2147 950.8 L2150 951.1 L2153 953.0 L2156 950.9 L2159 950.8 L2162 947.2 L2165 947.4 L2168 948.1 L2171 949.9 L2174 950.9 L2177 950.2 L2180 954.3 L2183 955.8 L2186 952.6 L2189 948.2 L2192 944.2 L2195 948.3 L2198 949.7" stroke="#ff2020" stroke-width="1.4" fill="none" stroke-linejoin="round"/>
<path d="M1277 937.1 L1280 937.2 L1283 934.2 L1286 934.0 L1289 932.7 L1292 933.6 L1295 934.4 L1298 935.9 L1301 936.8 L1304 934.8 L1307 939.2 L1310 939.1 L1313 940.4 L1316 934.8 L1319 937.3 L1322 938.5 L1325 940.7 L1328 940.9 L1331 935.9 L1334 938.2 L1337 935.0 L1340 939.2 L1343 938.5 L1346 939.5 L1349 939.0 L1352 937.0 L1355 938.4 L1358 934.8 L1361 934.5 L1364 936.0 L1367 935.0 L1370 936.0 L1373 934.6 L1376 937.5 L1379 937.9 L1382 935.1 L1385 934.1 L1388 932.3 L1391 935.8 L1394 936.8 L1397 939.8 L1400 940.3 L1403 942.1 L1406 942.8 L1409 939.6 L1412 938.8 L1415 936.4 L1418 937.2 L1421 936.5 L1424 936.3 L1427 937.5 L1430 937.9 L1433 939.0 L1436 938.6 L1439 940.0 L1442 939.2 L1445 937.3 L1448 932.5 L1451 932.6 L1454 933.3 L1457 938.2 L1460 938.7 L1463 937.0 L1466 931.8 L1469 930.8 L1472 930.1 L1475 930.6 L1478 927.8 L1481 929.3 L1484 933.1 L1487 936.4 L1490 935.6 L1493 935.5 L1496 935.9 L1499 939.3 L1502 939.3 L1505 941.7 L1508 938.4 L1511 938.5 L1514 936.0 L1517 937.1 L1520 936.5 L1523 938.5 L1526 940.4 L1529 941.7 L1532 939.7 L1535 939.7 L1538 936.1 L1541 936.9 L1544 934.9 L1547 938.4 L1550 940.8 L1553 942.3 L1556 939.1 L1559 934.5 L1562 931.9 L1565 934.2 L1568 936.5 L1571 938.3 L1574 938.2 L1577 936.6 L1580 935.5 L1583 933.3 L1586 935.6 L1589 934.5 L1592 939.3 L1595 938.5 L1598 941.9 L1601 938.8 L1604 938.7 L1607 936.0 L1610 937.2 L1613 935.5 L1616 939.3 L1619 938.1 L1622 938.7 L1625 935.1 L1628 937.0 L1631 941.4 L1634 940.1 L1637 939.7 L1640 936.5 L1643 939.7 L1646 935.7 L1649 934.0 L1652 931.7 L1655 931.8 L1658 932.2 L1661 934.6 L1664 934.5 L1667 933.7 L1670 932.8 L1673 938.1 L1676 940.8 L1679 940.6 L1682 938.3 L1685 935.7 L1688 932.0 L1691 931.0 L1694 931.9 L1697 934.9 L1700 932.1 L1703 936.3 L1706 938.6 L1709 939.2 L1712 935.7 L1715 937.7 L1718 939.2 L1721 941.4 L1724 936.9 L1727 936.2 L1730 934.6 L1733 938.1 L1736 938.9 L1739 938.8 L1742 937.4 L1745 939.2 L1748 939.4 L1751 940.6 L1754 938.2 L1757 935.4 L1760 935.2 L1763 938.8 L1766 939.5 L1769 935.8 L1772 932.7 L1775 932.1 L1778 932.9 L1781 933.7 L1784 936.1 L1787 938.7 L1790 939.0 L1793 941.5 L1796 937.8 L1799 939.5 L1802 936.1 L1805 937.9 L1808 936.2 L1811 936.7 L1814 938.7 L1817 939.2 L1820 937.9 L1823 935.4 L1826 936.9 L1829 938.3 L1832 942.5 L1835 940.4 L1838 940.1 L1841 939.5 L1844 936.9 L1847 939.3 L1850 935.0 L1853 940.2 L1856 936.7 L1859 942.0 L1862 940.1 L1865 943.5 L1868 939.8 L1871 940.3 L1874 938.5 L1877 938.6 L1880 939.0 L1883 939.6 L1886 939.6 L1889 939.5 L1892 937.9 L1895 941.3 L1898 936.3 L1901 935.1 L1904 934.6 L1907 939.3 L1910 941.8 L1913 938.4 L1916 935.8 L1919 933.4 L1922 932.4 L1925 935.5 L1928 937.1 L1931 939.3 L1934 936.4 L1937 936.9 L1940 939.7 L1943 941.5 L1946 937.0 L1949 934.0 L1952 931.2 L1955 935.5 L1958 936.0 L1961 938.0 L1964 938.2 L1967 936.3 L1970 937.1 L1973 939.8 L1976 939.8 L1979 938.2 L1982 935.7 L1985 937.4 L1988 937.1 L1991 935.7 L1994 937.1 L1997 936.1 L2000 932.5 L2003 930.8 L2006 934.7 L2009 937.2 L2012 934.9 L2015 934.7 L2018 939.1 L2021 943.7 L2024 943.0 L2027 942.3 L2030 940.9 L2033 940.8 L2036 941.8 L2039 940.5 L2042 937.5 L2045 938.2 L2048 939.2 L2051 942.3 L2054 940.2 L2057 939.7 L2060 940.8 L2063 938.2 L2066 938.9 L2069 938.9 L2072 939.6 L2075 938.8 L2078 934.7 L2081 935.2 L2084 936.0 L2087 935.2 L2090 935.1 L2093 933.9 L2096 934.6 L2099 935.9 L2102 936.7 L2105 940.4 L2108 936.2 L2111 937.5 L2114 938.1 L2117 943.3 L2120 938.8 L2123 935.2 L2126 934.4 L2129 938.7 L2132 936.6 L2135 936.5 L2138 935.1 L2141 940.2 L2144 935.0 L2147 936.2 L2150 937.4 L2153 941.3 L2156 939.6 L2159 937.7 L2162 939.3 L2165 942.9 L2168 943.9 L2171 939.5 L2174 939.1 L2177 935.4 L2180 934.7 L2183 929.6 L2186 931.1 L2189 932.8 L2192 932.8 L2195 935.7 L2198 937.1" stroke="#ff2020" stroke-width="1.4" fill="none" stroke-linejoin="round"/>
<path d="M1277 938.9 L1280 943.0 L1283 942.7 L1286 938.7 L1289 942.5 L1292 939.4 L1295 938.9 L1298 937.2 L1301 940.5 L1304 942.8 L1307 942.0 L1310 941.6 L1313 942.1 L1316 941.4 L1319 939.7 L1322 936.2 L1325 935.7 L1328 938.3 L1331 939.9 L1334 942.9 L1337 943.2 L1340 943.1 L1343 942.1 L1346 939.1 L1349 940.0 L1352 938.4 L1355 939.4 L1358 938.2 L1361 937.6 L1364 934.3 L1367 935.4 L1370 940.5 L1373 946.1 L1376 943.4 L1379 937.0 L1382 932.9 L1385 932.4 L1388 936.0 L1391 938.3 L1394 938.6 L1397 936.7 L1400 934.9 L1403 936.0 L1406 937.3 L1409 941.0 L1412 940.1 L1415 939.6 L1418 938.0 L1421 940.8 L1424 939.7 L1427 939.6 L1430 940.7 L1433 941.5 L1436 938.9 L1439 935.5 L1442 934.7 L1445 935.6 L1448 937.5 L1451 942.1 L1454 942.8 L1457 943.6 L1460 937.6 L1463 938.2 L1466 936.6 L1469 938.0 L1472 939.1 L1475 941.6 L1478 940.8 L1481 936.9 L1484 937.7 L1487 939.7 L1490 939.5 L1493 938.0 L1496 938.1 L1499 940.2 L1502 939.4 L1505 940.4 L1508 945.1 L1511 946.4 L1514 946.2 L1517 941.4 L1520 936.5 L1523 931.8 L1526 929.8 L1529 932.4 L1532 938.4 L1535 941.1 L1538 939.6 L1541 938.0 L1544 937.2 L1547 936.9 L1550 938.2 L1553 939.8 L1556 939.4 L1559 936.9 L1562 934.1 L1565 936.1 L1568 938.7 L1571 938.1 L1574 939.2 L1577 936.6 L1580 937.9 L1583 936.4 L1586 939.1 L1589 939.3 L1592 942.2 L1595 939.8 L1598 941.3 L1601 936.6 L1604 938.1 L1607 937.7 L1610 940.5 L1613 942.8 L1616 942.9 L1619 942.8 L1622 940.9 L1625 940.8 L1628 940.2 L1631 938.3 L1634 937.1 L1637 935.8 L1640 934.5 L1643 935.9 L1646 937.1 L1649 939.1 L1652 939.4 L1655 940.8 L1658 942.6 L1661 941.5 L1664 939.0 L1667 937.9 L1670 939.1 L1673 942.2 L1676 943.7 L1679 944.7 L1682 942.9 L1685 943.5 L1688 939.0 L1691 938.0 L1694 935.1 L1697 938.8 L1700 938.6 L1703 939.3 L1706 935.0 L1709 936.7 L1712 935.4 L1715 940.1 L1718 938.0 L1721 937.9 L1724 935.7 L1727 934.7 L1730 937.0 L1733 940.9 L1736 946.9 L1739 946.7 L1742 944.2 L1745 941.5 L1748 939.5 L1751 937.1 L1754 937.7 L1757 936.5 L1760 939.2 L1763 939.6 L1766 940.4 L1769 938.1 L1772 935.3 L1775 938.2 L1778 937.3 L1781 937.8 L1784 937.4 L1787 939.6 L1790 939.9 L1793 938.7 L1796 939.7 L1799 937.3 L1802 938.0 L1805 936.4 L1808 939.3 L1811 938.0 L1814 941.4 L1817 937.9 L1820 935.9 L1823 933.3 L1826 934.7 L1829 937.0 L1832 935.6 L1835 937.7 L1838 940.4 L1841 942.7 L1844 943.5 L1847 942.1 L1850 944.4 L1853 943.9 L1856 941.8 L1859 937.8 L1862 938.8 L1865 937.0 L1868 938.0 L1871 936.0 L1874 939.1 L1877 940.1 L1880 940.5 L1883 941.7 L1886 942.2 L1889 945.6 L1892 943.7 L1895 940.9 L1898 937.9 L1901 938.8 L1904 940.1 L1907 938.7 L1910 938.9 L1913 938.6 L1916 939.4 L1919 938.8 L1922 938.1 L1925 937.6 L1928 937.9 L1931 935.3 L1934 937.5 L1937 937.0 L1940 939.7 L1943 938.7 L1946 940.5 L1949 940.9 L1952 942.4 L1955 940.8 L1958 940.0 L1961 937.2 L1964 937.0 L1967 938.6 L1970 936.4 L1973 936.5 L1976 932.7 L1979 937.5 L1982 937.0 L1985 937.3 L1988 937.5 L1991 939.8 L1994 940.8 L1997 936.8 L2000 933.5 L2003 934.3 L2006 937.8 L2009 938.6 L2012 937.9 L2015 937.6 L2018 940.9 L2021 940.5 L2024 941.8 L2027 941.3 L2030 943.9 L2033 940.2 L2036 940.1 L2039 939.3 L2042 938.0 L2045 935.2 L2048 935.7 L2051 940.1 L2054 943.3 L2057 940.7 L2060 941.5 L2063 938.8 L2066 939.4 L2069 938.2 L2072 938.8 L2075 938.7 L2078 937.5 L2081 935.2 L2084 935.0 L2087 932.8 L2090 937.1 L2093 938.4 L2096 940.7 L2099 938.7 L2102 942.0 L2105 942.4 L2108 940.0 L2111 935.6 L2114 936.5 L2117 938.8 L2120 940.6 L2123 938.1 L2126 939.0 L2129 939.9 L2132 943.6 L2135 941.1 L2138 937.0 L2141 934.0 L2144 934.3 L2147 936.1 L2150 938.6 L2153 938.6 L2156 937.4 L2159 933.8 L2162 935.2 L2165 938.9 L2168 941.7 L2171 939.4 L2174 939.2 L2177 937.9 L2180 939.4 L2183 938.9 L2186 940.6 L2189 940.3 L2192 941.0 L2195 940.2 L2198 938.9" stroke="#ff3030" stroke-width="1.4" fill="none" stroke-linejoin="round"/>
<path d="M1277 938.0 L1280 942.1 L1283 940.1 L1286 937.0 L1289 936.5 L1292 933.3 L1295 931.7 L1298 935.5 L1301 938.7 L1304 942.4 L1307 941.0 L1310 938.0 L1313 936.4 L1316 937.0 L1319 939.2 L1322 942.0 L1325 941.2 L1328 942.7 L1331 937.6 L1334 935.7 L1337 934.0 L1340 937.3 L1343 937.4 L1346 936.8 L1349 934.5 L1352 935.5 L1355 931.7 L1358 932.7 L1361 934.7 L1364 940.2 L1367 942.2 L1370 937.4 L1373 936.3 L1376 933.9 L1379 939.2 L1382 937.8 L1385 941.1 L1388 939.5 L1391 940.4 L1394 940.9 L1397 936.3 L1400 938.1 L1403 936.7 L1406 937.7 L1409 934.3 L1412 937.5 L1415 939.6 L1418 939.4 L1421 937.1 L1424 937.7 L1427 940.7 L1430 940.3 L1433 937.4 L1436 934.6 L1439 934.7 L1442 939.6 L1445 939.9 L1448 938.2 L1451 936.7 L1454 937.5 L1457 940.0 L1460 940.7 L1463 942.3 L1466 938.1 L1469 936.9 L1472 937.4 L1475 940.6 L1478 938.8 L1481 936.5 L1484 936.2 L1487 938.6 L1490 937.9 L1493 937.5 L1496 937.4 L1499 939.7 L1502 943.2 L1505 941.8 L1508 941.0 L1511 935.6 L1514 931.4 L1517 931.7 L1520 932.1 L1523 937.9 L1526 938.5 L1529 940.8 L1532 940.9 L1535 939.6 L1538 935.4 L1541 934.1 L1544 935.2 L1547 936.4 L1550 938.5 L1553 936.4 L1556 937.7 L1559 937.0 L1562 937.5 L1565 936.0 L1568 934.0 L1571 937.9 L1574 942.7 L1577 943.9 L1580 941.3 L1583 940.8 L1586 939.4 L1589 938.1 L1592 933.8 L1595 934.5 L1598 932.5 L1601 935.6 L1604 936.7 L1607 938.5 L1610 936.8 L1613 938.6 L1616 941.0 L1619 940.7 L1622 937.9 L1625 937.8 L1628 939.3 L1631 939.8 L1634 938.9 L1637 937.7 L1640 936.3 L1643 937.3 L1646 934.2 L1649 934.8 L1652 933.7 L1655 934.4 L1658 934.9 L1661 936.6 L1664 941.9 L1667 942.9 L1670 942.0 L1673 942.7 L1676 942.4 L1679 942.8 L1682 937.8 L1685 936.4 L1688 936.4 L1691 936.8 L1694 937.9 L1697 939.8 L1700 941.5 L1703 938.8 L1706 935.4 L1709 936.4 L1712 938.6 L1715 939.7 L1718 937.7 L1721 937.4 L1724 937.0 L1727 936.6 L1730 934.2 L1733 933.1 L1736 932.3 L1739 933.8 L1742 934.6 L1745 936.6 L1748 935.5 L1751 934.6 L1754 933.0 L1757 938.1 L1760 937.4 L1763 941.9 L1766 936.1 L1769 936.8 L1772 932.5 L1775 936.8 L1778 937.4 L1781 940.7 L1784 941.2 L1787 940.7 L1790 939.5 L1793 938.4 L1796 939.0 L1799 936.2 L1802 934.1 L1805 930.6 L1808 933.3 L1811 935.9 L1814 938.6 L1817 937.0 L1820 938.3 L1823 937.6 L1826 939.4 L1829 936.2 L1832 936.8 L1835 936.7 L1838 938.8 L1841 939.8 L1844 937.5 L1847 939.1 L1850 938.4 L1853 940.4 L1856 937.9 L1859 937.9 L1862 936.9 L1865 936.6 L1868 934.7 L1871 935.9 L1874 932.3 L1877 937.7 L1880 934.5 L1883 938.7 L1886 937.6 L1889 941.8 L1892 942.0 L1895 939.8 L1898 938.4 L1901 935.4 L1904 935.9 L1907 936.3 L1910 939.0 L1913 937.9 L1916 937.3 L1919 934.2 L1922 936.0 L1925 936.7 L1928 940.1 L1931 940.5 L1934 940.6 L1937 941.3 L1940 943.7 L1943 946.0 L1946 946.5 L1949 947.2 L1952 945.8 L1955 943.0 L1958 938.3 L1961 939.7 L1964 943.3 L1967 944.7 L1970 943.4 L1973 939.9 L1976 938.8 L1979 937.1 L1982 938.5 L1985 937.1 L1988 937.2 L1991 932.4 L1994 932.6 L1997 932.5 L2000 937.1 L2003 939.3 L2006 941.2 L2009 940.6 L2012 938.7 L2015 934.4 L2018 934.1 L2021 933.4 L2024 935.5 L2027 936.3 L2030 936.9 L2033 936.4 L2036 936.5 L2039 937.8 L2042 939.0 L2045 942.0 L2048 941.1 L2051 943.2 L2054 935.9 L2057 936.7 L2060 933.8 L2063 937.0 L2066 939.7 L2069 937.5 L2072 939.2 L2075 934.4 L2078 934.7 L2081 932.0 L2084 938.7 L2087 942.8 L2090 945.2 L2093 942.5 L2096 940.6 L2099 937.2 L2102 933.0 L2105 933.6 L2108 938.1 L2111 938.9 L2114 937.0 L2117 935.6 L2120 938.3 L2123 936.9 L2126 933.6 L2129 929.9 L2132 931.2 L2135 934.8 L2138 936.5 L2141 939.7 L2144 936.4 L2147 938.7 L2150 938.2 L2153 941.3 L2156 939.8 L2159 936.0 L2162 934.1 L2165 935.1 L2168 937.1 L2171 938.0 L2174 934.1 L2177 937.4 L2180 938.9 L2183 943.2 L2186 940.1 L2189 937.6 L2192 936.1 L2195 932.7 L2198 938.0" stroke="#ff5020" stroke-width="1.4" fill="none" stroke-linejoin="round"/>
<path d="M1277 948.3 L1280 951.3 L1283 952.3 L1286 951.1 L1289 949.9 L1292 950.3 L1295 950.5 L1298 950.5 L1301 947.8 L1304 946.6 L1307 945.3 L1310 945.2 L1313 950.0 L1316 951.8 L1319 951.3 L1322 949.1 L1325 945.8 L1328 947.2 L1331 945.5 L1334 947.4 L1337 950.2 L1340 953.0 L1343 955.6 L1346 952.9 L1349 950.4 L1352 946.9 L1355 949.6 L1358 949.5 L1361 948.1 L1364 947.5 L1367 948.4 L1370 950.9 L1373 946.1 L1376 943.3 L1379 939.4 L1382 938.4 L1385 940.7 L1388 943.5 L1391 952.1 L1394 951.5 L1397 952.9 L1400 948.8 L1403 948.8 L1406 951.6 L1409 951.2 L1412 952.2 L1415 950.7 L1418 952.3 L1421 950.2 L1424 949.2 L1427 945.8 L1430 946.3 L1433 945.2 L1436 949.3 L1439 951.7 L1442 949.8 L1445 948.2 L1448 946.4 L1451 947.8 L1454 946.4 L1457 945.5 L1460 946.6 L1463 947.5 L1466 949.1 L1469 947.6 L1472 950.7 L1475 950.8 L1478 949.5 L1481 949.0 L1484 949.9 L1487 951.7 L1490 951.7 L1493 950.4 L1496 950.3 L1499 946.9 L1502 946.7 L1505 946.7 L1508 948.8 L1511 948.7 L1514 948.7 L1517 947.1 L1520 946.3 L1523 945.4 L1526 945.1 L1529 945.9 L1532 947.0 L1535 949.0 L1538 948.3 L1541 946.4 L1544 946.3 L1547 946.3 L1550 948.7 L1553 948.1 L1556 951.0 L1559 951.2 L1562 949.8 L1565 947.2 L1568 945.4 L1571 947.6 L1574 952.2 L1577 952.4 L1580 951.4 L1583 946.4 L1586 944.5 L1589 942.6 L1592 947.4 L1595 951.4 L1598 953.8 L1601 947.4 L1604 947.9 L1607 947.9 L1610 948.8 L1613 950.6 L1616 951.0 L1619 955.3 L1622 954.1 L1625 952.3 L1628 949.9 L1631 948.3 L1634 949.2 L1637 950.0 L1640 949.9 L1643 948.9 L1646 949.5 L1649 949.1 L1652 950.7 L1655 947.7 L1658 945.8 L1661 943.9 L1664 943.7 L1667 946.6 L1670 948.2 L1673 949.6 L1676 949.3 L1679 947.7 L1682 948.3 L1685 950.0 L1688 952.7 L1691 952.0 L1694 945.7 L1697 943.8 L1700 946.9 L1703 950.5 L1706 951.9 L1709 951.6 L1712 947.5 L1715 942.1 L1718 939.9 L1721 944.5 L1724 949.1 L1727 947.6 L1730 946.1 L1733 943.7 L1736 947.0 L1739 948.9 L1742 949.4 L1745 947.3 L1748 949.4 L1751 950.7 L1754 949.3 L1757 950.4 L1760 947.7 L1763 949.7 L1766 943.5 L1769 944.5 L1772 943.5 L1775 946.2 L1778 948.2 L1781 950.0 L1784 949.6 L1787 948.8 L1790 950.2 L1793 951.5 L1796 956.2 L1799 956.3 L1802 956.7 L1805 951.8 L1808 949.1 L1811 947.6 L1814 949.2 L1817 951.2 L1820 949.9 L1823 947.9 L1826 948.0 L1829 950.0 L1832 950.5 L1835 950.4 L1838 951.3 L1841 951.1 L1844 949.1 L1847 946.0 L1850 947.2 L1853 946.3 L1856 947.0 L1859 943.2 L1862 945.6 L1865 946.6 L1868 951.5 L1871 949.1 L1874 947.8 L1877 943.2 L1880 944.6 L1883 944.3 L1886 946.8 L1889 943.5 L1892 944.8 L1895 945.5 L1898 946.9 L1901 947.1 L1904 948.0 L1907 952.5 L1910 951.5 L1913 948.2 L1916 944.9 L1919 944.0 L1922 946.8 L1925 945.7 L1928 945.9 L1931 946.0 L1934 949.6 L1937 951.6 L1940 950.8 L1943 947.2 L1946 950.1 L1949 947.6 L1952 947.9 L1955 945.0 L1958 949.4 L1961 951.5 L1964 950.3 L1967 947.8 L1970 946.1 L1973 949.6 L1976 951.1 L1979 951.8 L1982 949.4 L1985 949.7 L1988 949.4 L1991 947.0 L1994 948.1 L1997 946.2 L2000 950.0 L2003 949.4 L2006 953.2 L2009 950.2 L2012 947.8 L2015 944.2 L2018 946.9 L2021 949.8 L2024 948.0 L2027 945.7 L2030 947.9 L2033 953.3 L2036 954.2 L2039 947.4 L2042 942.4 L2045 944.3 L2048 945.6 L2051 949.2 L2054 947.9 L2057 949.8 L2060 951.5 L2063 952.6 L2066 952.5 L2069 949.6 L2072 950.5 L2075 947.4 L2078 948.8 L2081 945.0 L2084 949.2 L2087 950.6 L2090 950.0 L2093 947.4 L2096 948.7 L2099 949.8 L2102 953.5 L2105 949.4 L2108 948.9 L2111 946.2 L2114 947.5 L2117 949.1 L2120 949.3 L2123 950.1 L2126 949.1 L2129 950.0 L2132 951.6 L2135 951.8 L2138 947.7 L2141 942.9 L2144 943.7 L2147 948.0 L2150 950.7 L2153 948.1 L2156 945.6 L2159 946.1 L2162 948.0 L2165 946.8 L2168 945.1 L2171 945.3 L2174 948.8 L2177 951.8 L2180 950.5 L2183 948.5 L2186 944.3 L2189 943.7 L2192 944.9 L2195 946.8 L2198 948.3" stroke="#b00000" stroke-width="1.4" fill="none" stroke-linejoin="round"/>
<path d="M1277 952.0 L1280 956.8 L1283 955.0 L1286 954.3 L1289 951.9 L1292 951.5 L1295 955.1 L1298 956.8 L1301 956.8 L1304 956.7 L1307 953.8 L1310 951.4 L1313 947.5 L1316 949.2 L1319 948.3 L1322 952.1 L1325 950.1 L1328 952.4 L1331 950.2 L1334 949.0 L1337 945.9 L1340 944.1 L1343 947.8 L1346 950.5 L1349 952.5 L1352 948.5 L1355 947.3 L1358 950.0 L1361 948.2 L1364 950.7 L1367 947.8 L1370 952.1 L1373 951.0 L1376 951.1 L1379 951.8 L1382 950.0 L1385 951.3 L1388 951.7 L1391 953.1 L1394 952.9 L1397 950.0 L1400 948.0 L1403 950.8 L1406 953.3 L1409 956.5 L1412 956.6 L1415 951.9 L1418 951.4 L1421 949.5 L1424 953.6 L1427 954.3 L1430 952.3 L1433 951.3 L1436 951.0 L1439 953.1 L1442 952.7 L1445 951.0 L1448 949.0 L1451 947.5 L1454 948.9 L1457 952.0 L1460 955.0 L1463 953.9 L1466 953.3 L1469 952.0 L1472 954.3 L1475 953.3 L1478 953.3 L1481 952.7 L1484 951.3 L1487 949.1 L1490 952.9 L1493 955.5 L1496 956.8 L1499 952.2 L1502 952.5 L1505 951.9 L1508 950.8 L1511 948.6 L1514 949.8 L1517 953.2 L1520 953.3 L1523 951.6 L1526 950.0 L1529 950.4 L1532 954.8 L1535 956.8 L1538 956.8 L1541 953.5 L1544 951.2 L1547 951.7 L1550 950.8 L1553 949.1 L1556 947.2 L1559 947.0 L1562 950.4 L1565 953.0 L1568 953.5 L1571 952.1 L1574 948.6 L1577 950.1 L1580 952.5 L1583 956.0 L1586 955.0 L1589 956.7 L1592 952.8 L1595 953.9 L1598 950.6 L1601 953.3 L1604 950.0 L1607 952.2 L1610 950.5 L1613 952.5 L1616 948.2 L1619 948.0 L1622 950.5 L1625 955.2 L1628 956.8 L1631 956.8 L1634 955.6 L1637 951.7 L1640 951.9 L1643 951.9 L1646 954.6 L1649 951.7 L1652 950.1 L1655 945.6 L1658 946.5 L1661 946.0 L1664 950.5 L1667 953.5 L1670 956.5 L1673 954.0 L1676 952.8 L1679 952.0 L1682 952.5 L1685 949.2 L1688 949.9 L1691 953.4 L1694 956.8 L1697 956.8 L1700 956.7 L1703 954.4 L1706 954.8 L1709 955.5 L1712 956.8 L1715 953.1 L1718 949.8 L1721 945.8 L1724 947.8 L1727 944.7 L1730 946.8 L1733 946.9 L1736 955.1 L1739 956.8 L1742 956.8 L1745 956.8 L1748 953.6 L1751 950.0 L1754 948.5 L1757 953.4 L1760 956.5 L1763 956.8 L1766 953.7 L1769 951.7 L1772 952.9 L1775 956.4 L1778 954.9 L1781 955.1 L1784 952.9 L1787 954.6 L1790 952.0 L1793 953.0 L1796 955.1 L1799 956.2 L1802 956.5 L1805 954.1 L1808 956.4 L1811 955.6 L1814 956.8 L1817 951.7 L1820 954.1 L1823 952.8 L1826 956.8 L1829 955.0 L1832 956.3 L1835 956.8 L1838 956.7 L1841 951.9 L1844 948.0 L1847 944.5 L1850 947.8 L1853 949.6 L1856 950.4 L1859 948.5 L1862 948.3 L1865 950.3 L1868 949.8 L1871 951.1 L1874 950.7 L1877 953.5 L1880 951.3 L1883 950.9 L1886 949.5 L1889 953.2 L1892 954.4 L1895 951.6 L1898 950.2 L1901 949.5 L1904 955.3 L1907 956.2 L1910 956.8 L1913 952.4 L1916 949.1 L1919 950.1 L1922 948.4 L1925 954.6 L1928 956.2 L1931 956.8 L1934 950.6 L1937 945.0 L1940 948.4 L1943 953.1 L1946 956.8 L1949 956.8 L1952 955.6 L1955 953.8 L1958 952.8 L1961 952.5 L1964 952.2 L1967 951.2 L1970 949.7 L1973 950.6 L1976 950.7 L1979 954.6 L1982 952.1 L1985 954.3 L1988 954.6 L1991 954.7 L1994 956.2 L1997 951.4 L2000 951.5 L2003 948.3 L2006 952.0 L2009 952.2 L2012 951.2 L2015 952.3 L2018 953.0 L2021 955.2 L2024 954.3 L2027 954.6 L2030 953.0 L2033 952.6 L2036 952.7 L2039 953.6 L2042 953.6 L2045 950.7 L2048 947.5 L2051 948.5 L2054 955.0 L2057 956.0 L2060 951.3 L2063 947.9 L2066 948.6 L2069 951.7 L2072 950.7 L2075 952.3 L2078 952.3 L2081 953.3 L2084 952.9 L2087 952.6 L2090 954.5 L2093 952.1 L2096 952.3 L2099 949.5 L2102 952.6 L2105 956.3 L2108 956.8 L2111 956.5 L2114 956.8 L2117 955.0 L2120 951.6 L2123 947.9 L2126 949.1 L2129 949.1 L2132 947.5 L2135 953.3 L2138 953.7 L2141 956.8 L2144 953.9 L2147 953.3 L2150 951.6 L2153 953.4 L2156 956.3 L2159 955.5 L2162 956.6 L2165 953.9 L2168 953.4 L2171 950.0 L2174 952.5 L2177 952.3 L2180 949.7 L2183 950.1 L2186 951.4 L2189 952.9 L2192 952.1 L2195 949.8 L2198 952.0" stroke="#b00000" stroke-width="1.4" fill="none" stroke-linejoin="round"/>
<path d="M1277 952.1 L1280 952.4 L1283 952.3 L1286 953.3 L1289 949.1 L1292 947.1 L1295 946.5 L1298 950.9 L1301 953.8 L1304 955.9 L1307 955.4 L1310 953.2 L1313 950.7 L1316 949.8 L1319 953.8 L1322 954.4 L1325 951.6 L1328 948.8 L1331 948.7 L1334 950.6 L1337 949.3 L1340 948.2 L1343 948.3 L1346 954.1 L1349 954.4 L1352 954.4 L1355 950.8 L1358 950.1 L1361 951.7 L1364 951.1 L1367 952.8 L1370 954.0 L1373 954.8 L1376 954.8 L1379 950.5 L1382 949.2 L1385 949.5 L1388 950.0 L1391 954.5 L1394 955.2 L1397 956.8 L1400 953.4 L1403 949.7 L1406 947.2 L1409 946.3 L1412 947.9 L1415 946.4 L1418 949.9 L1421 950.5 L1424 954.7 L1427 953.6 L1430 953.2 L1433 950.4 L1436 949.7 L1439 949.0 L1442 950.5 L1445 950.5 L1448 952.3 L1451 952.2 L1454 950.0 L1457 948.3 L1460 949.0 L1463 951.3 L1466 953.9 L1469 952.3 L1472 951.4 L1475 949.8 L1478 952.6 L1481 952.7 L1484 954.5 L1487 954.4 L1490 954.8 L1493 954.4 L1496 951.8 L1499 951.1 L1502 950.5 L1505 950.5 L1508 950.8 L1511 950.8 L1514 953.1 L1517 951.9 L1520 950.3 L1523 947.2 L1526 950.5 L1529 953.6 L1532 955.0 L1535 951.9 L1538 950.2 L1541 948.7 L1544 951.9 L1547 951.0 L1550 956.0 L1553 955.7 L1556 956.8 L1559 954.2 L1562 953.9 L1565 952.1 L1568 951.6 L1571 951.6 L1574 950.1 L1577 953.1 L1580 949.9 L1583 953.1 L1586 953.5 L1589 955.0 L1592 951.0 L1595 952.1 L1598 951.1 L1601 951.4 L1604 947.8 L1607 951.8 L1610 955.5 L1613 955.3 L1616 956.7 L1619 953.2 L1622 951.0 L1625 949.5 L1628 953.3 L1631 955.1 L1634 954.1 L1637 951.0 L1640 952.9 L1643 952.6 L1646 953.9 L1649 952.1 L1652 950.2 L1655 950.0 L1658 948.8 L1661 947.2 L1664 945.8 L1667 950.5 L1670 954.2 L1673 955.9 L1676 952.7 L1679 949.3 L1682 950.0 L1685 948.8 L1688 953.0 L1691 951.4 L1694 954.3 L1697 952.7 L1700 951.2 L1703 951.1 L1706 950.5 L1709 949.6 L1712 948.5 L1715 951.0 L1718 955.8 L1721 956.8 L1724 954.3 L1727 952.0 L1730 954.1 L1733 956.4 L1736 956.8 L1739 956.2 L1742 953.7 L1745 951.8 L1748 951.0 L1751 951.9 L1754 951.4 L1757 949.8 L1760 948.2 L1763 949.2 L1766 952.2 L1769 951.6 L1772 950.8 L1775 951.3 L1778 952.5 L1781 954.6 L1784 953.1 L1787 954.6 L1790 951.9 L1793 948.6 L1796 947.3 L1799 949.7 L1802 956.3 L1805 956.5 L1808 955.2 L1811 954.6 L1814 955.7 L1817 955.3 L1820 954.9 L1823 954.3 L1826 953.5 L1829 952.8 L1832 950.2 L1835 952.5 L1838 953.2 L1841 953.7 L1844 952.9 L1847 952.2 L1850 955.6 L1853 954.2 L1856 954.1 L1859 953.3 L1862 956.8 L1865 956.8 L1868 956.8 L1871 956.8 L1874 956.1 L1877 953.6 L1880 951.0 L1883 948.4 L1886 951.8 L1889 951.0 L1892 953.6 L1895 950.7 L1898 953.6 L1901 952.6 L1904 952.3 L1907 950.1 L1910 949.8 L1913 951.9 L1916 956.3 L1919 956.8 L1922 956.8 L1925 953.4 L1928 951.7 L1931 952.1 L1934 952.1 L1937 951.6 L1940 952.7 L1943 952.0 L1946 952.0 L1949 944.5 L1952 944.9 L1955 948.2 L1958 951.1 L1961 952.5 L1964 950.5 L1967 951.9 L1970 951.2 L1973 951.1 L1976 953.2 L1979 953.3 L1982 952.1 L1985 952.5 L1988 951.3 L1991 952.4 L1994 947.2 L1997 946.9 L2000 946.7 L2003 948.5 L2006 952.8 L2009 952.2 L2012 956.8 L2015 956.8 L2018 956.8 L2021 953.1 L2024 949.8 L2027 947.7 L2030 947.0 L2033 949.3 L2036 951.4 L2039 954.2 L2042 953.4 L2045 956.3 L2048 956.6 L2051 954.2 L2054 950.9 L2057 950.7 L2060 951.9 L2063 951.7 L2066 950.7 L2069 952.5 L2072 954.7 L2075 954.6 L2078 953.8 L2081 952.0 L2084 949.4 L2087 949.6 L2090 949.1 L2093 949.4 L2096 948.0 L2099 952.0 L2102 954.3 L2105 956.8 L2108 955.4 L2111 953.6 L2114 949.1 L2117 947.0 L2120 952.7 L2123 956.3 L2126 956.8 L2129 954.4 L2132 950.8 L2135 949.5 L2138 947.4 L2141 950.1 L2144 949.4 L2147 950.8 L2150 953.2 L2153 954.7 L2156 955.7 L2159 956.0 L2162 956.8 L2165 956.8 L2168 956.8 L2171 950.6 L2174 950.6 L2177 951.4 L2180 954.7 L2183 952.2 L2186 953.2 L2189 953.5 L2192 952.7 L2195 947.7 L2198 952.1" stroke="#c80000" stroke-width="1.4" fill="none" stroke-linejoin="round"/>
<path d="M1277 932.6 L1280 931.6 L1283 929.8 L1286 929.3 L1289 932.6 L1292 933.6 L1295 935.2 L1298 935.3 L1301 936.0 L1304 931.1 L1307 926.4 L1310 923.8 L1313 930.0 L1316 932.0 L1319 935.8 L1322 932.2 L1325 931.7 L1328 929.2 L1331 931.2 L1334 934.4 L1337 934.4 L1340 931.1 L1343 930.7 L1346 933.4 L1349 935.7 L1352 935.4 L1355 932.3 L1358 930.2 L1361 927.8 L1364 930.5 L1367 933.9 L1370 935.8 L1373 934.6 L1376 931.6 L1379 930.3 L1382 931.1 L1385 931.5 L1388 930.9 L1391 930.5 L1394 933.1 L1397 933.7 L1400 931.8 L1403 928.9 L1406 931.5 L1409 932.4 L1412 933.4 L1415 932.0 L1418 933.0 L1421 934.1 L1424 934.8 L1427 934.1 L1430 933.1 L1433 931.8 L1436 934.3 L1439 933.9 L1442 931.4 L1445 931.2 L1448 931.5 L1451 934.2 L1454 931.9 L1457 930.8 L1460 931.8 L1463 930.8 L1466 930.9 L1469 930.3 L1472 930.7 L1475 929.8 L1478 926.8 L1481 928.2 L1484 928.8 L1487 931.2 L1490 932.2 L1493 929.5 L1496 927.7 L1499 925.0 L1502 929.4 L1505 930.8 L1508 932.9 L1511 929.2 L1514 930.5 L1517 929.6 L1520 931.4 L1523 930.6 L1526 929.2 L1529 930.2 L1532 930.1 L1535 931.7 L1538 935.6 L1541 933.9 L1544 932.9 L1547 928.8 L1550 930.1 L1553 932.9 L1556 933.5 L1559 935.4 L1562 934.6 L1565 936.8 L1568 935.9 L1571 933.2 L1574 930.5 L1577 931.4 L1580 934.7 L1583 933.6 L1586 932.5 L1589 929.5 L1592 928.6 L1595 926.4 L1598 929.7 L1601 936.3 L1604 935.4 L1607 935.9 L1610 934.5 L1613 938.1 L1616 936.4 L1619 933.0 L1622 933.2 L1625 934.1 L1628 933.7 L1631 934.2 L1634 928.1 L1637 931.9 L1640 930.1 L1643 932.7 L1646 930.3 L1649 933.2 L1652 935.2 L1655 933.4 L1658 931.9 L1661 934.6 L1664 936.5 L1667 938.9 L1670 935.3 L1673 934.0 L1676 930.1 L1679 932.9 L1682 932.3 L1685 930.2 L1688 926.2 L1691 928.8 L1694 930.2 L1697 933.4 L1700 930.6 L1703 932.2 L1706 933.1 L1709 935.5 L1712 933.9 L1715 932.0 L1718 931.9 L1721 934.5 L1724 934.2 L1727 934.1 L1730 932.3 L1733 932.7 L1736 932.7 L1739 934.2 L1742 930.9 L1745 933.5 L1748 931.8 L1751 932.9 L1754 933.1 L1757 936.3 L1760 937.1 L1763 929.7 L1766 925.0 L1769 927.0 L1772 932.3 L1775 935.1 L1778 936.6 L1781 936.8 L1784 934.3 L1787 932.7 L1790 931.0 L1793 931.1 L1796 931.7 L1799 933.0 L1802 934.0 L1805 934.3 L1808 933.5 L1811 932.7 L1814 931.3 L1817 934.2 L1820 934.9 L1823 935.2 L1826 932.5 L1829 934.9 L1832 934.5 L1835 934.6 L1838 933.6 L1841 935.1 L1844 935.2 L1847 937.4 L1850 935.7 L1853 936.3 L1856 931.3 L1859 934.9 L1862 934.8 L1865 936.1 L1868 932.5 L1871 932.5 L1874 931.3 L1877 932.6 L1880 931.0 L1883 932.7 L1886 932.3 L1889 934.5 L1892 935.6 L1895 936.1 L1898 934.2 L1901 934.1 L1904 934.9 L1907 934.4 L1910 933.2 L1913 930.5 L1916 931.4 L1919 928.8 L1922 928.5 L1925 928.1 L1928 930.1 L1931 929.7 L1934 929.9 L1937 929.5 L1940 931.5 L1943 929.2 L1946 930.7 L1949 935.8 L1952 937.3 L1955 937.5 L1958 932.4 L1961 932.3 L1964 936.4 L1967 939.1 L1970 940.6 L1973 938.2 L1976 934.1 L1979 933.0 L1982 931.5 L1985 931.1 L1988 935.2 L1991 934.7 L1994 934.6 L1997 929.0 L2000 927.9 L2003 926.9 L2006 928.5 L2009 929.6 L2012 931.6 L2015 928.2 L2018 924.3 L2021 924.2 L2024 927.4 L2027 930.2 L2030 933.3 L2033 935.0 L2036 935.6 L2039 934.4 L2042 933.9 L2045 936.2 L2048 935.1 L2051 933.2 L2054 931.0 L2057 929.5 L2060 931.5 L2063 932.9 L2066 934.0 L2069 936.7 L2072 936.7 L2075 937.5 L2078 935.4 L2081 933.6 L2084 934.3 L2087 931.8 L2090 931.1 L2093 929.6 L2096 932.2 L2099 935.5 L2102 934.7 L2105 934.0 L2108 927.6 L2111 927.2 L2114 924.4 L2117 930.5 L2120 932.0 L2123 935.2 L2126 937.7 L2129 937.2 L2132 937.1 L2135 933.6 L2138 933.3 L2141 930.9 L2144 929.5 L2147 927.2 L2150 930.0 L2153 929.6 L2156 933.7 L2159 933.0 L2162 932.6 L2165 930.5 L2168 929.6 L2171 931.1 L2174 930.8 L2177 929.1 L2180 928.4 L2183 930.2 L2186 931.0 L2189 932.0 L2192 930.9 L2195 932.0 L2198 932.6" stroke="#ff2020" stroke-width="1.4" fill="none" stroke-linejoin="round"/>
<path d="M1809 950.0 L1811 949.8 L1813 949.5 L1815 949.2 L1817 948.8 L1819 948.3 L1821 947.7 L1823 946.9 L1825 945.9 L1827 944.7 L1829 943.1 L1831 941.3 L1833 939.2 L1835 937.1 L1837 935.4 L1839 934.8 L1841 935.4 L1843 937.1 L1845 939.2 L1847 941.3 L1849 943.1 L1851 944.7 L1853 945.9 L1855 946.9 L1857 947.7 L1859 948.3 L1861 948.8 L1863 949.2 L1865 949.5 L1867 949.8 L1869 950.0" stroke="#2080ff" stroke-width="2.2" fill="none"/>
<path d="M1811 951.0 L1813 950.9 L1815 950.7 L1817 950.6 L1819 950.4 L1821 950.1 L1823 949.8 L1825 949.3 L1827 948.7 L1829 947.8 L1831 946.6 L1833 944.8 L1835 942.2 L1837 938.8 L1839 935.3 L1841 933.7 L1843 935.3 L1845 938.8 L1847 942.2 L1849 944.8 L1851 946.6 L1853 947.8 L1855 948.7 L1857 949.3 L1859 949.8 L1861 950.1 L1863 950.4 L1865 950.6 L1867 950.7 L1869 950.9 L1871 951.0" stroke="#60e0ff" stroke-width="2.2" fill="none"/>
<path d="M1797 949.5 L1799 949.2 L1801 948.9 L1803 948.4 L1805 947.9 L1807 947.3 L1809 946.5 L1811 945.6 L1813 944.3 L1815 942.8 L1817 941.0 L1819 938.7 L1821 936.2 L1823 933.8 L1825 931.9 L1827 931.2 L1829 931.9 L1831 933.8 L1833 936.2 L1835 938.7 L1837 941.0 L1839 942.8 L1841 944.3 L1843 945.6 L1845 946.5 L1847 947.3 L1849 947.9 L1851 948.4 L1853 948.9 L1855 949.2 L1857 949.5" stroke="#60e0ff" stroke-width="2.2" fill="none"/>
<path d="M1808 950.5 L1810 950.3 L1812 950.1 L1814 949.8 L1816 949.5 L1818 949.0 L1820 948.5 L1822 947.7 L1824 946.7 L1826 945.3 L1828 943.3 L1830 940.5 L1832 936.4 L1834 931.2 L1836 925.9 L1838 923.5 L1840 925.9 L1842 931.2 L1844 936.4 L1846 940.5 L1848 943.3 L1850 945.3 L1852 946.7 L1854 947.7 L1856 948.5 L1858 949.0 L1860 949.5 L1862 949.8 L1864 950.1 L1866 950.3 L1868 950.5" stroke="#2080ff" stroke-width="2.2" fill="none"/>
<path d="M1808 951.0 L1810 950.9 L1812 950.8 L1814 950.6 L1816 950.4 L1818 950.2 L1820 949.9 L1822 949.4 L1824 948.9 L1826 948.1 L1828 947.0 L1830 945.5 L1832 943.4 L1834 940.8 L1836 938.3 L1838 937.2 L1840 938.3 L1842 940.8 L1844 943.4 L1846 945.5 L1848 947.0 L1850 948.1 L1852 948.9 L1854 949.4 L1856 949.9 L1858 950.2 L1860 950.4 L1862 950.6 L1864 950.8 L1866 950.9 L1868 951.0" stroke="#2080ff" stroke-width="2.2" fill="none"/>
<path d="M1808 950.9 L1810 950.8 L1812 950.6 L1814 950.4 L1816 950.2 L1818 949.9 L1820 949.6 L1822 949.1 L1824 948.4 L1826 947.5 L1828 946.2 L1830 944.4 L1832 941.9 L1834 938.7 L1836 935.5 L1838 934.1 L1840 935.5 L1842 938.7 L1844 941.9 L1846 944.4 L1848 946.2 L1850 947.5 L1852 948.4 L1854 949.1 L1856 949.6 L1858 949.9 L1860 950.2 L1862 950.4 L1864 950.6 L1866 950.8 L1868 950.9" stroke="#60e0ff" stroke-width="2.2" fill="none"/>
<path d="M1797 951.2 L1799 951.1 L1801 951.0 L1803 950.8 L1805 950.7 L1807 950.5 L1809 950.2 L1811 949.8 L1813 949.4 L1815 948.7 L1817 947.7 L1819 946.2 L1821 944.1 L1823 941.3 L1825 938.2 L1827 936.8 L1829 938.2 L1831 941.3 L1833 944.1 L1835 946.2 L1837 947.7 L1839 948.7 L1841 949.4 L1843 949.8 L1845 950.2 L1847 950.5 L1849 950.7 L1851 950.8 L1853 951.0 L1855 951.1 L1857 951.2" stroke="#60e0ff" stroke-width="2.2" fill="none"/>
<path d="M1811 950.9 L1813 950.8 L1815 950.7 L1817 950.5 L1819 950.3 L1821 950.0 L1823 949.6 L1825 949.1 L1827 948.5 L1829 947.6 L1831 946.3 L1833 944.6 L1835 942.1 L1837 938.9 L1839 935.8 L1841 934.4 L1843 935.8 L1845 938.9 L1847 942.1 L1849 944.6 L1851 946.3 L1853 947.6 L1855 948.5 L1857 949.1 L1859 949.6 L1861 950.0 L1863 950.3 L1865 950.5 L1867 950.7 L1869 950.8 L1871 950.9" stroke="#60e0ff" stroke-width="2.2" fill="none"/>
<path d="M1808 951.2 L1810 951.1 L1812 951.0 L1814 950.9 L1816 950.8 L1818 950.6 L1820 950.3 L1822 950.0 L1824 949.6 L1826 948.9 L1828 948.0 L1830 946.7 L1832 944.9 L1834 942.4 L1836 939.8 L1838 938.6 L1840 939.8 L1842 942.4 L1844 944.9 L1846 946.7 L1848 948.0 L1850 948.9 L1852 949.6 L1854 950.0 L1856 950.3 L1858 950.6 L1860 950.8 L1862 950.9 L1864 951.0 L1866 951.1 L1868 951.2" stroke="#60e0ff" stroke-width="2.2" fill="none"/>
<path d="M1812 957 Q1818 949 1826 951 L1829 957 Z" fill="#6030c0"/>
<rect x="2201" y="840" width="97" height="114" fill="#fff"/>
</g>
<text x="2230" y="918.5" font-size="60" fill="#000" stroke="#000" stroke-width="1.4">b)</text>
<text x="1341.5" y="273.6" font-size="27.8" font-weight="bold" fill="#222">~1.3 cm<tspan font-size="15" dy="-13.5">-1</tspan></text>
<g stroke="#222" stroke-width="3" stroke-dasharray="9 6">
<line x1="1359" y1="294.0" x2="1359" y2="350"/>
<line x1="1428" y1="294.0" x2="1428" y2="350"/>
</g>
<line x1="1359" y1="294.0" x2="1428" y2="294.0" stroke="#444" stroke-width="2.5"/>
<polygon points="1359,294.0 1376.0,288.5 1370.9,294.0 1376.0,299.5" fill="#222"/>
<polygon points="1428,294.0 1411.0,288.5 1416.1,294.0 1411.0,299.5" fill="#222"/>
<text x="1762.0" y="276.4" font-size="27.8" font-weight="bold" fill="#222">~1.2 cm<tspan font-size="15" dy="-13.5">-1</tspan></text>
<g stroke="#222" stroke-width="3" stroke-dasharray="9 6">
<line x1="1779" y1="288.5" x2="1779" y2="350"/>
<line x1="1842" y1="288.5" x2="1842" y2="350"/>
</g>
<line x1="1779" y1="288.5" x2="1842" y2="288.5" stroke="#444" stroke-width="2.5"/>
<polygon points="1779,288.5 1796.0,283.0 1790.9,288.5 1796.0,294.0" fill="#222"/>
<polygon points="1842,288.5 1825.0,283.0 1830.1,288.5 1825.0,294.0" fill="#222"/>
<text x="2148.5" y="275.5" font-size="27.8" font-weight="bold" fill="#222">~0.5 cm<tspan font-size="15" dy="-13.5">-1</tspan></text>
<g stroke="#222" stroke-width="3" stroke-dasharray="9 6">
<line x1="2197" y1="287.5" x2="2197" y2="350"/>
<line x1="2224" y1="287.5" x2="2224" y2="350"/>
</g>
<line x1="2197" y1="287.5" x2="2224" y2="287.5" stroke="#444" stroke-width="2.5"/>
<polygon points="2197,287.5 2210.5,282.0 2206.4,287.5 2210.5,293.0" fill="#222"/>
<polygon points="2224,287.5 2210.5,282.0 2214.6,287.5 2210.5,293.0" fill="#222"/>
<g stroke="#333" stroke-width="3" fill="none">
<rect x="1275.8" y="199.8" width="1030.2" height="757.0"/>
<line x1="1275.8" y1="956.8" x2="1275.8" y2="970.8"/>
<line x1="1275.8" y1="199.8" x2="1275.8" y2="184.3"/>
<line x1="1401.5" y1="956.8" x2="1401.5" y2="963.8"/>
<line x1="1401.5" y1="199.8" x2="1401.5" y2="189.8"/>
<line x1="1527.1" y1="956.8" x2="1527.1" y2="970.8"/>
<line x1="1527.1" y1="199.8" x2="1527.1" y2="184.3"/>
<line x1="1652.8" y1="956.8" x2="1652.8" y2="963.8"/>
<line x1="1652.8" y1="199.8" x2="1652.8" y2="189.8"/>
<line x1="1778.4" y1="956.8" x2="1778.4" y2="970.8"/>
<line x1="1778.4" y1="199.8" x2="1778.4" y2="184.3"/>
<line x1="1904.0" y1="956.8" x2="1904.0" y2="963.8"/>
<line x1="1904.0" y1="199.8" x2="1904.0" y2="189.8"/>
<line x1="2029.7" y1="956.8" x2="2029.7" y2="970.8"/>
<line x1="2029.7" y1="199.8" x2="2029.7" y2="184.3"/>
<line x1="2155.3" y1="956.8" x2="2155.3" y2="963.8"/>
<line x1="2155.3" y1="199.8" x2="2155.3" y2="189.8"/>
<line x1="2281.0" y1="956.8" x2="2281.0" y2="970.8"/>
<line x1="2281.0" y1="199.8" x2="2281.0" y2="184.3"/>
<line x1="1275.8" y1="956.8" x2="1258.8" y2="956.8"/>
<line x1="1275.8" y1="893.7" x2="1267.8" y2="893.7"/>
<line x1="1275.8" y1="830.6" x2="1258.8" y2="830.6"/>
<line x1="1275.8" y1="767.5" x2="1267.8" y2="767.5"/>
<line x1="1275.8" y1="704.5" x2="1258.8" y2="704.5"/>
<line x1="1275.8" y1="641.4" x2="1267.8" y2="641.4"/>
<line x1="1275.8" y1="578.3" x2="1258.8" y2="578.3"/>
<line x1="1275.8" y1="515.2" x2="1267.8" y2="515.2"/>
<line x1="1275.8" y1="452.1" x2="1258.8" y2="452.1"/>
<line x1="1275.8" y1="389.0" x2="1267.8" y2="389.0"/>
<line x1="1275.8" y1="326.0" x2="1258.8" y2="326.0"/>
<line x1="1275.8" y1="262.9" x2="1267.8" y2="262.9"/>
<line x1="1275.8" y1="199.8" x2="1258.8" y2="199.8"/>
</g>
<g font-size="49" fill="#111" text-anchor="middle">
<text transform="translate(1275.8 180.5) scale(1 1.05)">9.09</text>
<text transform="translate(1527.1 180.5) scale(1 1.05)">9.13</text>
<text transform="translate(1778.4 180.5) scale(1 1.05)">9.17</text>
<text transform="translate(2029.7 180.5) scale(1 1.05)">9.22</text>
<text transform="translate(2281.0 180.5) scale(1 1.05)">9.26</text>
<text transform="translate(1275.8 1018.5) scale(1 1.05)">1100</text>
<text transform="translate(1527.1 1018.5) scale(1 1.05)">1095</text>
<text transform="translate(1778.4 1018.5) scale(1 1.05)">1090</text>
<text transform="translate(2029.7 1018.5) scale(1 1.05)">1085</text>
<text transform="translate(2281.0 1018.5) scale(1 1.05)">1080</text>
</g>
<text x="1791.5" y="115.2" font-size="57.7" fill="#111" text-anchor="middle">Wavelength (&#956;m)</text>
<text x="1587" y="1084" font-size="52.3" fill="#111">Wavenumber (cm<tspan font-size="29" dy="-25">-1</tspan><tspan dy="25">)</tspan></text>
<text transform="translate(1216 580) rotate(-90)" font-size="52.2" fill="#111" text-anchor="middle">Normalized Intensity (a.u.)</text>
<text x="1481.5" y="731.2" font-size="40.4" fill="#111">LS: 1us/5kHz,</text>
<text x="1481.5" y="780" font-size="40.4" fill="#111" xml:space="preserve">SS:  0</text>
</svg></body></html>
